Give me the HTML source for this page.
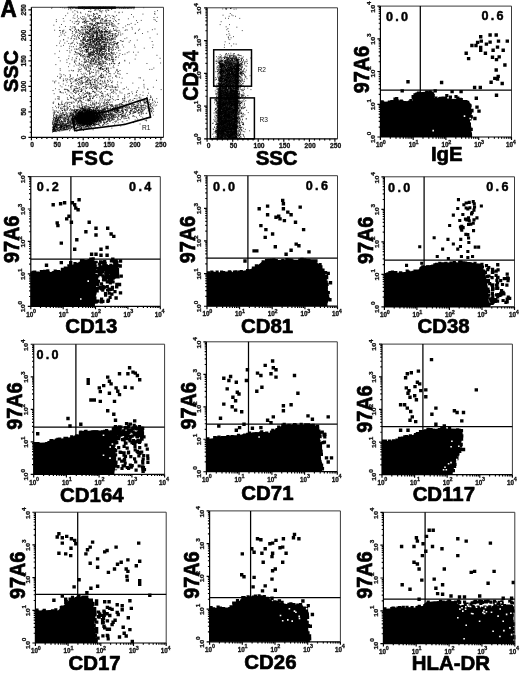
<!DOCTYPE html>
<html lang="en"><head><meta charset="utf-8"><title>Figure A - flow cytometry</title>
<style>html,body{margin:0;padding:0;background:#fff}svg{display:block}.lb{font-family:"Liberation Sans", Arial, Helvetica, sans-serif;font-weight:bold;fill:#000;stroke:#000;stroke-width:0.7px;stroke-linejoin:round}.tk{font-family:"Liberation Sans", Arial, Helvetica, sans-serif;font-weight:bold;fill:#111;stroke:#111;stroke-width:0.3px}.nm{font-family:"Liberation Sans", Arial, Helvetica, sans-serif;font-weight:bold;fill:#000;stroke:#000;stroke-width:0.45px}.sm{font-family:"Liberation Sans", Arial, Helvetica, sans-serif;fill:#111}</style></head><body>
<svg width="520" height="673" viewBox="0 0 520 673">
<rect width="520" height="673" fill="#fff"/>
<g>
<path d="M93.4 35.9h0.9M93.7 49h0.9M86 47.4h0.9M108.3 37.3h0.9M107.4 40.1h0.9M100.4 41.1h0.9M78 30.5h0.9M101.7 36.1h0.9M77.8 71.6h0.9M86.5 51.4h0.9M99.5 44.7h0.9M101.8 54.2h0.9M99.5 37.8h0.9M89 16.9h0.9M102.2 25.1h0.9M89.4 55.7h0.9M92.4 45.7h0.9M103 40.1h0.9M91.3 59.1h0.9M90.5 24.7h0.9M87.4 40.1h0.9M100.8 67.5h0.9M96.7 23.4h0.9M74.2 49.1h0.9M95 56.9h0.9M101.6 45h0.9M80.2 30.9h0.9M103.4 29.1h0.9M111.8 38.3h0.9M97.5 64.5h0.9M102.9 53.7h0.9M91.2 64h0.9M85.6 52.4h0.9M110.2 76.1h0.9M80.3 40.2h0.9M111.9 34.9h0.9M75.5 83.8h0.9M93.8 28.8h0.9M95 47h0.9M89.7 41.7h0.9M99 40.3h0.9M96.8 52.3h0.9M96.3 28.3h0.9M99.2 48.7h0.9M83.1 37.7h0.9M111.1 63.6h0.9M101.9 53.6h0.9M87.3 36.4h0.9M116.6 70.4h0.9M100.1 36h0.9M97.1 32.6h0.9M81.7 42h0.9M96.1 42.6h0.9M87 36.6h0.9M71.5 59.8h0.9M91.4 61.7h0.9M84.1 60h0.9M118.1 32.7h0.9M100.3 75.6h0.9M99.4 59.1h0.9M92.1 39.6h0.9M93.6 48.2h0.9M102.9 39.6h0.9M101.3 31.7h0.9M96.4 43.9h0.9M99.1 38.1h0.9M94.5 41.3h0.9M106.7 59.5h0.9M101.1 34.3h0.9M90.2 31.7h0.9M111.3 22.6h0.9M108.3 44.8h0.9M91.6 43.3h0.9M104.1 35.3h0.9M94.3 14.4h0.9M97.4 41.1h0.9M108.9 49.9h0.9M104.4 28.3h0.9M109.3 40.7h0.9M117.7 48.3h0.9M93.3 55.6h0.9M91.8 36.9h0.9M98 63.3h0.9M97.9 57.9h0.9M99.5 15.5h0.9M117.3 46.9h0.9M103.1 71.4h0.9M95.7 55.3h0.9M86 45.6h0.9M98.7 43.3h0.9M94.6 32h0.9M86.5 81h0.9M72 31.9h0.9M123.2 47h0.9M91.1 35.6h0.9M97.2 33.7h0.9M100.5 22.8h0.9M113 61.8h0.9M80.5 41h0.9M97.6 50.3h0.9M83.4 73.3h0.9M99.8 69.8h0.9M89.4 42.6h0.9M98.5 57.8h0.9M74.7 21.8h0.9M95.1 53.5h0.9M100.5 37.5h0.9M112.5 60.1h0.9M108.5 20.5h0.9M112 46.9h0.9M88.1 27.9h0.9M97.4 42h0.9M111.6 48.2h0.9M71.2 50.1h0.9M76 31.1h0.9M99.6 53.7h0.9M96.1 30.8h0.9M97 23h0.9M95.5 27.6h0.9M112.4 18.6h0.9M88.8 30.1h0.9M75.7 61.1h0.9M74.8 27.1h0.9M82.8 44.2h0.9M94.1 44.5h0.9M89.7 40.3h0.9M115.6 43.3h0.9M101.9 28.2h0.9M94 63.9h0.9M90.1 27h0.9M78.2 53.5h0.9M107.1 31.5h0.9M96.2 31.3h0.9M98 62.6h0.9M79.1 54.1h0.9M106.2 52.9h0.9M86.3 56.2h0.9M79.5 45.9h0.9M83.3 38.3h0.9M70.5 38.8h0.9M89.2 74.7h0.9M104 48.4h0.9M71.9 57.8h0.9M99.3 51.3h0.9M104.6 32.2h0.9M103.4 38.8h0.9M110.7 33.6h0.9M101.1 76.9h0.9M105.9 23.3h0.9M92.9 51.4h0.9M117.3 71.8h0.9M101.3 7.5h0.9M116.7 45.9h0.9M102.3 29.7h0.9M86.3 45.4h0.9M99.3 31h0.9M95.8 47.1h0.9M85.1 49.7h0.9M105.9 42.4h0.9M86.9 57.3h0.9M125.2 26h0.9M95.9 39.5h0.9M97.7 56.3h0.9M104 32h0.9M113.2 59.4h0.9M95.8 35h0.9M108.5 54h0.9M94.7 50.5h0.9M111.7 35.5h0.9M92.4 41.2h0.9M110.4 52.5h0.9M97.6 50.3h0.9M98.7 48.6h0.9M103.9 57.2h0.9M88.8 27h0.9M103.8 49.6h0.9M105.3 30h0.9M96.5 36.4h0.9M98 39.7h0.9M99 31h0.9M89.9 18.9h0.9M93 26h0.9M100.6 30.9h0.9M104.4 42.6h0.9M113.8 41.5h0.9M89.5 47.2h0.9M71.1 38.2h0.9M111.9 25.9h0.9M84.6 36.4h0.9M101.7 57.6h0.9M79.6 45h0.9M106.1 45.6h0.9M104.6 65.5h0.9M88.9 56.1h0.9M94.1 39.7h0.9M99 39.6h0.9M95.7 56.1h0.9M98.5 38.3h0.9M108.1 70.9h0.9M91.9 55.3h0.9M96.6 30.9h0.9M90 41.7h0.9M88.1 39.9h0.9M124.5 54.1h0.9M88.4 47.5h0.9M105.3 46.9h0.9M95.8 43.4h0.9M87.1 31.9h0.9M88.9 44.2h0.9M95.1 44.1h0.9M95.7 37.2h0.9M93.6 41.3h0.9M105.3 42.1h0.9M97.7 23.2h0.9M78.3 48.8h0.9M86.7 65h0.9M104 54.8h0.9M81.7 7.6h0.9M94.1 47.7h0.9M107.9 72.7h0.9M83.8 62.5h0.9M98.4 52h0.9M83.4 46.8h0.9M106.2 68.6h0.9M102.8 62.6h0.9M109 58.9h0.9M93.4 54.7h0.9M101.9 42.4h0.9M92.9 38.3h0.9M103.3 61.3h0.9M85.6 60h0.9M90.8 60.6h0.9M115.6 43.4h0.9M96 62.7h0.9M80.6 49.1h0.9M112.4 33.6h0.9M96.1 37.8h0.9M94.4 18.6h0.9M101.1 19.1h0.9M108.7 46.8h0.9M87 31.9h0.9M88.6 68.7h0.9M84.6 59.2h0.9M101.6 39.8h0.9M95.7 18h0.9M91.4 24.7h0.9M100 43.6h0.9M94.2 20.6h0.9M90.4 66.2h0.9M92.8 25.6h0.9M84.3 40.1h0.9M113.1 21.3h0.9M108.1 42.1h0.9M108.3 81.6h0.9M88 40.1h0.9M102.7 7.5h0.9M104.5 29h0.9M101.7 46.5h0.9M101.7 61h0.9M109 60.1h0.9M98.9 10.5h0.9M93.7 43.7h0.9M108.8 43.6h0.9M87.4 39.9h0.9M102.5 32.8h0.9M87.8 16.3h0.9M114.3 43.7h0.9M99.1 50.8h0.9M111.5 55.1h0.9M103.5 51.6h0.9M88.6 32.6h0.9M110.7 44.2h0.9M88.8 31.2h0.9M95.6 39.1h0.9M112.7 26.1h0.9M90.5 7.9h0.9M96.2 31.6h0.9M89.1 44.7h0.9M77.1 15.8h0.9M111 63.2h0.9M79.8 69.6h0.9M108.9 51.3h0.9M95.5 48.9h0.9M94.8 61.2h0.9M96.4 66.7h0.9M95.4 39.1h0.9M101.2 47.7h0.9M86.3 41.5h0.9M90.9 19.3h0.9M104.5 45.8h0.9M91 55.1h0.9M86 49.6h0.9M99.4 35.9h0.9M102.3 10.8h0.9M88.5 43.8h0.9M126.6 73.5h0.9M90.5 41.3h0.9M97.8 37.6h0.9M93.6 38.2h0.9M96.7 31.8h0.9M75.6 58h0.9M96.1 60.3h0.9M84.8 34.1h0.9M89.1 34h0.9M104.3 39.2h0.9M101.7 45.7h0.9M80.8 44.5h0.9M101.1 52.4h0.9M95.1 32.2h0.9M86.6 33.9h0.9M116.4 52.8h0.9M97.7 46.4h0.9M112.9 39h0.9M105.9 54.9h0.9M96 44.2h0.9M76.8 21.2h0.9M105.9 71.6h0.9M104.3 46.1h0.9M101 38.2h0.9M79.8 47.4h0.9M112.4 53.1h0.9M85 65.5h0.9M82.9 38.7h0.9M114.6 37.2h0.9M98.8 8.7h0.9M90.5 54.7h0.9M101.9 35.3h0.9M85.1 62.5h0.9M99.3 40.1h0.9M81.9 47.2h0.9M90.3 36.7h0.9M94.9 45.4h0.9M92.3 27.4h0.9M111.3 49.8h0.9M105.4 56h0.9M96.9 32.2h0.9M112.6 50.1h0.9M95.3 40.9h0.9M79.9 43.8h0.9M88.8 38.1h0.9M83.9 75.2h0.9M96.6 39.9h0.9M90.2 30h0.9M93.2 53.6h0.9M101.4 68.8h0.9M88.8 44.3h0.9M105.4 46.6h0.9M99.5 54.4h0.9M99.4 17.7h0.9M88.7 7.4h0.9M98 27.8h0.9M82.7 77.2h0.9M102.7 31.4h0.9M102.9 7.3h0.9M106.3 38.2h0.9M114.3 63.6h0.9M92.1 98.4h0.9M92.8 35.1h0.9M112.7 54.3h0.9M111.9 39.4h0.9M88.5 33.4h0.9M92.9 35.6h0.9M105 43.8h0.9M80 12.3h0.9M116.2 15.4h0.9M98.9 29.7h0.9M104.9 70.4h0.9M93 41.9h0.9M85.8 41.5h0.9M102.4 49h0.9M80.9 18.6h0.9M107.1 40.9h0.9M103.2 69h0.9M99 42.9h0.9M118.7 30.4h0.9M95.4 17.8h0.9M104.1 52.6h0.9M94.8 19h0.9M92.6 32.4h0.9M114.4 43.4h0.9M109.5 55.2h0.9M98.4 45.2h0.9M97.4 26.2h0.9M122.2 54.5h0.9M89.9 36.1h0.9M84.7 36.2h0.9M102.4 48.4h0.9M101.9 68.5h0.9M104.4 68.4h0.9M88.6 52.8h0.9M91.8 30.4h0.9M97 50.3h0.9M102.1 19h0.9M96.2 38.2h0.9M109.6 39.8h0.9M104.7 45h0.9M100.4 40.4h0.9M79 43.8h0.9M88.6 40.2h0.9M83 33h0.9M87.9 67.3h0.9M105.4 63.2h0.9M111.3 23.1h0.9M92.3 24.3h0.9M83.7 25.5h0.9M98.7 32.7h0.9M96.3 34.9h0.9M106.8 57.8h0.9M91.1 29.9h0.9M109.1 44.9h0.9M98.5 15.5h0.9M76.3 39.4h0.9M109.1 73.5h0.9M104.9 40.7h0.9M101.3 37h0.9M110.3 47.5h0.9M105.7 50.5h0.9M104.1 56.9h0.9M95 16.6h0.9M101 46.5h0.9M83.7 56.5h0.9M98.3 29.2h0.9M100.8 35.7h0.9M95.7 22.6h0.9M91.9 52.7h0.9M105.8 43h0.9M93.1 53.1h0.9M93.4 34.2h0.9M100 63.1h0.9M100.8 41.2h0.9M85.3 31.8h0.9M93.1 49.3h0.9M104.8 23.1h0.9M88.7 37.1h0.9M86.6 7.4h0.9M90.8 25.1h0.9M89.1 31.2h0.9M101.9 19.9h0.9M96.5 42.4h0.9M105.5 53.6h0.9M100.9 58.6h0.9M105.1 55.8h0.9M97.1 41.7h0.9M81.4 51.2h0.9M100.1 47.7h0.9M88.6 54.6h0.9M90 44.3h0.9M93.4 25.2h0.9M100.8 47.4h0.9M76.5 42.3h0.9M103.2 46.2h0.9M114.4 17h0.9M108.5 46.8h0.9M119.6 32.1h0.9M78.2 21.8h0.9M81.4 64.2h0.9M106.4 20.6h0.9M98.1 28.2h0.9M107.8 68.4h0.9M99.3 33.9h0.9M85.5 32.8h0.9M92 38.6h0.9M96.5 18.6h0.9M98.7 46.8h0.9M79.2 54.2h0.9M116.3 36.8h0.9M107 29.6h0.9M81.6 50.9h0.9M92.2 28.5h0.9M86.2 52.3h0.9M89.7 58.5h0.9M94 42.7h0.9M86.9 56.5h0.9M97.9 17.3h0.9M98.4 61.2h0.9M101.4 27.8h0.9M100.6 38.8h0.9M91.8 41.1h0.9M84 37.3h0.9M111.1 38.3h0.9M111.5 31.3h0.9M98.4 62.6h0.9M108.3 37.7h0.9M76.9 17.1h0.9M110.2 20.5h0.9M113.8 44.6h0.9M99 53.5h0.9M108.7 46.1h0.9M119.5 53.5h0.9M105.9 20h0.9M99.8 46.5h0.9M85.3 22.6h0.9M108.7 15.7h0.9M93 15.3h0.9M104.1 29.4h0.9M102.7 49.2h0.9M95.1 25.3h0.9M94.9 40.1h0.9M98.8 35.5h0.9M111.3 53.3h0.9M101.4 49.9h0.9M97.3 51.6h0.9M81 48.3h0.9M82.1 19.2h0.9M82.7 51.1h0.9M99.9 49h0.9M111.5 45h0.9M80.8 26.6h0.9M84.3 23.3h0.9M89.8 40.5h0.9M96 49h0.9M99.7 55h0.9M76.1 78.9h0.9M82.4 56h0.9M95.9 43.1h0.9M102.2 42.1h0.9M87.5 55.2h0.9M73.1 46.7h0.9M101.4 35.6h0.9M94.8 46.8h0.9M106.3 43.8h0.9M104.2 34.8h0.9M98.5 23.4h0.9M89.9 49.7h0.9M87.4 56.6h0.9M113.1 16.2h0.9M96.4 35h0.9M108.9 31.2h0.9M109.3 64h0.9M89.2 36.9h0.9M111.8 42.4h0.9M86.8 49.6h0.9M89 57.6h0.9M112.5 53.9h0.9M96.4 9.8h0.9M109 38.7h0.9M89.5 37.5h0.9M113.8 34.2h0.9M109.9 42.5h0.9M101.8 47.2h0.9M100.8 23.5h0.9M80.6 45h0.9M98.8 53h0.9M92.8 31.6h0.9M117.9 34.1h0.9M99.7 68.5h0.9M117.1 42.8h0.9M95.8 61.7h0.9M95.5 61.3h0.9M96.9 36.6h0.9M96.5 39.6h0.9M86.9 21.4h0.9M89 72.7h0.9M94.1 56.1h0.9M85.2 49.6h0.9M99.3 62.7h0.9M94.7 21.5h0.9M103.6 46.4h0.9M97.5 45.9h0.9M95.6 32.4h0.9M95.1 82h0.9M95.9 58.1h0.9M103.2 53.7h0.9M97.8 9.6h0.9M84.8 61.8h0.9M80.8 81.9h0.9M75.7 38.2h0.9M89.2 73.5h0.9M80 34.3h0.9M87.7 49.8h0.9M99.7 22.6h0.9M117.3 27.7h0.9M97.7 41.1h0.9M115.8 21.4h0.9M92.8 36.8h0.9M99.3 43.2h0.9M90.7 65h0.9M90.3 68.4h0.9M109.5 35.5h0.9M83 21.9h0.9M105.9 74.2h0.9M116.2 31.2h0.9M118.6 63.5h0.9M101.9 37.3h0.9M98.4 41.3h0.9M107.6 67.6h0.9M82.6 66h0.9M90.1 53.6h0.9M100.2 39.8h0.9M96.5 54.7h0.9M91.3 29h0.9M104.5 42.4h0.9M92.6 19.5h0.9M89.7 33.8h0.9M108.7 48.2h0.9M105.1 61.6h0.9M107.2 40.9h0.9M78.9 33.4h0.9M86.4 23.7h0.9M88.8 46.6h0.9M99.2 49.3h0.9M99 52.8h0.9M103.5 43.9h0.9M83.5 42.9h0.9M98.2 53.7h0.9M86.1 43.5h0.9M100.3 54.7h0.9M104.5 48.5h0.9M99.9 20.1h0.9M90.9 43.9h0.9M93.2 48.9h0.9M100.1 67.7h0.9M99.7 65.6h0.9M89.4 31.4h0.9M78.1 23.6h0.9M115.7 26.9h0.9M103.5 42.3h0.9M94.2 10.1h0.9M85.5 44.1h0.9M102.1 51.7h0.9M83.2 39.3h0.9M96.7 70.4h0.9M90 55.6h0.9M93.2 35.9h0.9M105 63.4h0.9M95.8 53.6h0.9M78.8 33.8h0.9M91.2 47.9h0.9M74.2 36.2h0.9M96.7 33.7h0.9M90.8 20.7h0.9M99.7 51.6h0.9M100.7 34.1h0.9M90 27h0.9M101.3 32.1h0.9M118.5 19.8h0.9M104.8 34.7h0.9M115.4 46.9h0.9M94.9 60.8h0.9M101.3 22.8h0.9M101.9 37.3h0.9M94 41.3h0.9M80.7 27.4h0.9M91.7 61.5h0.9M88 57h0.9M105.5 27.3h0.9M81.4 29.4h0.9M105.8 53.2h0.9M80 55.8h0.9M89.3 38.6h0.9M92.3 76.1h0.9M98.7 68.3h0.9M106 63.1h0.9M88.6 57.5h0.9M90.3 23.5h0.9M105.4 34.5h0.9M99.6 68.5h0.9M90.5 52.7h0.9M85.5 36h0.9M88.1 55.2h0.9M84.8 76.5h0.9M102.6 23h0.9M98.1 59.4h0.9M66.7 41.3h0.9M109.4 39.3h0.9M106.2 20.6h0.9M108.4 51h0.9M107.6 31.7h0.9M79.4 50.4h0.9M80.7 45.7h0.9M102.4 60.9h0.9M73.8 23.5h0.9M100.3 20.8h0.9M81.8 27.2h0.9M118.7 12.3h0.9M93.9 39.8h0.9M94.5 28.2h0.9M107.4 42.6h0.9M81.4 32.3h0.9M91 34.1h0.9M99 18.3h0.9M108.5 51.1h0.9M100 16.1h0.9M90.3 37.2h0.9M109.1 24.1h0.9M101.8 64.9h0.9M82.4 40.1h0.9M100.4 7.6h0.9M104.5 70.4h0.9M87.3 41.4h0.9M90.8 46.4h0.9M101.3 56.8h0.9M101.2 54.1h0.9M90.2 35.5h0.9M89.9 39.5h0.9M113.6 43.6h0.9M94.6 32.4h0.9M92.2 26.9h0.9M82.2 34.2h0.9M90.6 56.6h0.9M115.4 57.4h0.9M115.3 33.6h0.9M112 59.4h0.9M109.2 21h0.9M94.9 46h0.9M122.9 41.2h0.9M91.6 54h0.9M101 38.8h0.9M98.1 16.8h0.9M92.6 36.5h0.9M112 59.9h0.9M107.5 15.1h0.9M81.4 61.4h0.9M84.9 73.2h0.9M101.1 73.3h0.9M101.6 21h0.9M78.6 49h0.9M75.3 31.7h0.9M88.1 48.2h0.9M96.7 35.4h0.9M92.4 43.8h0.9M90.2 42.2h0.9M83.4 43h0.9M75.1 51.8h0.9M117 42.7h0.9M82.4 39.9h0.9M85.6 70.1h0.9M88.1 32.4h0.9M100.3 45.5h0.9M86.1 61.1h0.9M110.8 40.1h0.9M85.8 77.4h0.9M73 40.8h0.9M113.1 38.7h0.9M89.2 54.2h0.9M102.9 55.5h0.9M83 40.9h0.9M97.1 54.8h0.9M85.7 37.4h0.9M76.9 53.9h0.9M90.7 15.4h0.9M85.6 33.4h0.9M94.4 25.4h0.9M111.8 47.6h0.9M98.7 57.7h0.9M92.4 31.8h0.9M82.9 55.6h0.9M96.8 48.4h0.9M92.3 76.4h0.9M92.8 45.4h0.9M95.8 42.3h0.9M105.2 10.9h0.9M83.8 58.6h0.9M101.9 77.6h0.9M84.7 58.1h0.9M84.4 61.5h0.9M82.6 57.6h0.9M99.9 21.2h0.9M78.3 37h0.9M101.7 38.1h0.9M114.4 37.7h0.9M109.8 55.9h0.9M82.4 22.4h0.9M99.3 63.8h0.9M95.7 30.6h0.9M87.8 37.5h0.9M82 34.5h0.9M99.5 46.1h0.9M93.3 45.8h0.9M110.7 24.4h0.9M74.5 60.1h0.9M94.4 43.1h0.9M85.1 30.2h0.9M124.4 61h0.9M85.1 41.5h0.9M108.7 30.4h0.9M97.6 35.2h0.9M97.2 43.9h0.9M93.9 51.4h0.9M100.7 45.4h0.9M100.1 50.1h0.9M113.4 41.2h0.9M97 18.3h0.9M97.5 39.3h0.9M98.7 68.7h0.9M107 64.2h0.9M109.4 32.8h0.9M93.1 61h0.9M103.7 49h0.9M113 49.6h0.9M98 43.8h0.9M84.4 67.7h0.9M104.4 37.5h0.9M95.3 53.4h0.9M104.2 58h0.9M105.8 38.5h0.9M85.7 51.7h0.9M93.5 51.9h0.9M99.2 58.4h0.9M86.7 61.6h0.9M86.8 36.3h0.9M102.1 81.1h0.9M99.2 64h0.9M95.1 38.6h0.9M112.9 48h0.9M100.7 56.6h0.9M72.6 70.9h0.9M103.4 62.7h0.9M92 28.4h0.9M104.2 53.9h0.9M90.3 63.7h0.9M111.8 61.4h0.9M96 43.1h0.9M95.2 27.5h0.9M79 59.1h0.9M98.6 47h0.9M106.1 69h0.9M105.7 59.3h0.9M93 13.5h0.9M102 66.5h0.9M104.8 51.5h0.9M108 33.8h0.9M98.3 54.1h0.9M96.2 80.6h0.9M97.6 22.5h0.9M90.8 59.9h0.9M98.4 32.3h0.9M96.3 72h0.9M91.6 42.3h0.9M102.7 69.5h0.9M97.7 23.3h0.9M114.2 63.8h0.9M83.9 46.5h0.9M90.2 49.5h0.9M98.6 34.7h0.9M93 58.3h0.9M86 50.3h0.9M90 45h0.9M131.9 29h0.9M92.5 38.7h0.9M83.3 64.6h0.9M104.3 26.3h0.9M88.8 28.2h0.9M99 43.5h0.9M117.9 45.9h0.9M82.1 42.2h0.9M94.8 16.6h0.9M72.6 26.8h0.9M98.3 73h0.9M104.3 46.8h0.9M103.2 41.5h0.9M98.1 38h0.9M109.3 37.7h0.9M104.4 56.7h0.9M118.7 55.3h0.9M109.7 35.6h0.9M91.8 39.2h0.9M104.3 47.1h0.9M81.9 52.9h0.9M111.7 50.4h0.9M86.9 33.3h0.9M111.3 9.4h0.9M103.8 44.6h0.9M104.3 41.1h0.9M82.1 16.7h0.9M113.3 61h0.9M114.4 35.9h0.9M92.2 66.1h0.9M99.8 44.5h0.9M107.4 23.1h0.9M111.3 52.8h0.9M91.8 23.8h0.9M96.4 51.5h0.9M92.4 33.1h0.9M105 31.3h0.9M100.1 33.8h0.9M106.3 25.4h0.9M113.4 42h0.9M97.2 40h0.9M103.1 48.9h0.9M116.1 56.8h0.9M100.7 49.6h0.9M91.5 41.7h0.9M115 57.1h0.9M87.9 56.5h0.9M85.3 19.1h0.9M81 40.9h0.9M101 35.3h0.9M112.3 35.3h0.9M90.4 46.9h0.9M102 53h0.9M90.8 39.2h0.9M93.4 14h0.9M92.8 35.7h0.9M86.7 43.2h0.9M100.6 48.5h0.9M99.8 44.7h0.9M108.9 58.4h0.9M99.1 26.5h0.9M94.3 32.1h0.9M99.3 29.7h0.9M134.6 47.2h0.9M100.5 47.3h0.9M90.5 11.4h0.9M112.5 35h0.9M88 7.6h0.9M92.9 36.7h0.9M116.7 43.6h0.9M89.3 45.7h0.9M74.1 30.2h0.9M99 23.8h0.9M100.6 36.4h0.9M98.4 68.7h0.9M97.6 37.9h0.9M108.9 32.7h0.9M87.5 43.6h0.9M100.2 23.1h0.9M90.9 71.9h0.9M89.8 49.3h0.9M112.3 33.7h0.9M81.6 30.2h0.9M114.8 34.2h0.9M85.5 17.9h0.9M104.5 57.9h0.9M119.9 40.6h0.9M74.3 39.3h0.9M95.4 33.9h0.9M101.3 57.2h0.9M101.6 31h0.9M95.3 44.9h0.9M84.4 46.1h0.9M90.7 44.8h0.9M91.7 72.4h0.9M102.5 54.4h0.9M93.6 59h0.9M96.2 49.6h0.9M115 72.1h0.9M83.1 43.4h0.9M82.9 47.7h0.9M124.4 38.6h0.9M97.3 34.1h0.9M102.8 36.8h0.9M97.3 47.6h0.9M110 30.1h0.9M96.9 41.2h0.9M84.6 56.1h0.9M79.4 47.5h0.9M113.7 24.8h0.9M95.5 48.7h0.9M105.2 31.1h0.9M87.3 44.1h0.9M104.1 32.8h0.9M105.7 28h0.9M100.1 50.8h0.9M80 55.6h0.9M106.6 18.6h0.9M106.1 50h0.9M77.9 29.5h0.9M85.4 46.5h0.9M113.7 53.9h0.9M91.9 34.1h0.9M90.2 29.5h0.9M115.7 47.4h0.9M113.2 59.1h0.9M98.2 48.3h0.9M68.9 48.3h0.9M103.7 48.8h0.9M82.6 33.5h0.9M87.3 29.4h0.9M106.7 36.9h0.9M93.9 44.1h0.9M114.6 11.9h0.9M100.4 80.6h0.9M82.9 65.4h0.9M113.1 65.8h0.9M111.4 39.2h0.9M94.5 20.3h0.9M94.2 24.5h0.9M109.6 54.1h0.9M96.1 24.8h0.9M71.7 28.3h0.9M94 30.9h0.9M92.8 50.4h0.9M73.6 66.1h0.9M87.6 45.1h0.9M83 39.9h0.9M99.5 37.5h0.9M102.3 34.3h0.9M88.7 36.8h0.9M96.3 37.2h0.9M76.2 52.7h0.9M85.3 57.1h0.9M91.9 52.6h0.9M93.2 61h0.9M81.8 50.5h0.9M87 41.4h0.9M96.5 32.8h0.9M85.5 45.2h0.9M94.7 45.3h0.9M83.1 18.9h0.9M97.2 23.9h0.9M87.3 43.3h0.9M105.2 45h0.9M97 53.2h0.9M116.3 31h0.9M92.5 41.9h0.9M87.2 33h0.9M95.7 51.6h0.9M101.7 32.2h0.9M86.4 25h0.9M80.4 64.6h0.9M101.8 61.2h0.9M94.9 70h0.9M96.9 61.9h0.9M99.9 68.2h0.9M101 48.2h0.9M96.9 45.1h0.9M97.6 64.9h0.9M68.3 43.5h0.9M86 51.2h0.9M100.8 75.4h0.9M87.9 53.6h0.9M84.7 38.8h0.9M94.6 57h0.9M85.4 31.2h0.9M89 34.8h0.9M101 73.9h0.9M84.4 44h0.9M99.9 31.7h0.9M104.9 27.7h0.9M92.1 47.3h0.9M104.6 50.7h0.9M107.7 69.1h0.9M103.3 46.7h0.9M74.8 28.5h0.9M99.5 43.7h0.9M84.4 51.4h0.9M112.6 57.1h0.9M58.4 57.5h0.9M83.1 46.1h0.9M91.9 58.4h0.9M87 27.4h0.9M80.5 13.1h0.9M90.2 61.3h0.9M104.7 35.1h0.9M84.8 32.2h0.9M76.1 58.6h0.9M108.4 48h0.9M82 35.9h0.9M106.1 44.4h0.9M76.5 49.5h0.9M100.7 31.9h0.9M116.3 48h0.9M90.9 44.6h0.9M109.3 58.9h0.9M110.4 87.5h0.9M90.6 39.6h0.9M92.9 25.7h0.9M89.1 44.3h0.9M102.5 23.7h0.9M88.1 52.9h0.9M111.6 44.9h0.9M107 39.7h0.9M98.3 57.2h0.9M95.8 45.3h0.9M89.1 15.4h0.9M82.3 56.1h0.9M100.4 26.5h0.9M88.1 48.1h0.9M88.1 59.5h0.9M110.4 44.4h0.9M91.5 39.7h0.9M106.3 21.8h0.9M100.1 39.5h0.9M102.5 27.1h0.9M102.8 63.5h0.9M97.5 49.3h0.9M114.8 41.9h0.9M88.5 21.5h0.9M92.1 36.4h0.9M95.6 36.8h0.9M108 55.9h0.9M89.2 30h0.9M93.4 40.5h0.9M107.3 57.3h0.9M107.5 48.3h0.9M90.2 52.2h0.9M120.3 34h0.9M101.9 54.9h0.9M112.3 61.3h0.9M91.3 23.7h0.9M108.5 48.6h0.9M103.9 47.7h0.9M82.8 27.9h0.9M97.8 30.6h0.9M105 56.8h0.9M98.3 55.4h0.9M100.9 30.8h0.9M107.4 7.5h0.9M106.2 31.1h0.9M87.8 33.4h0.9M101.3 40.8h0.9M100.8 57.1h0.9M96.4 33.7h0.9M94.5 32.6h0.9M111.8 38.9h0.9M92.7 36.3h0.9M94.8 50.7h0.9M93.6 14.2h0.9M104.3 31.7h0.9M106.3 68.5h0.9M101.6 31.6h0.9M94.3 59.1h0.9M103.3 46.8h0.9M108.4 49.7h0.9M97.9 26.8h0.9M107.7 25.9h0.9M94.6 10.2h0.9M87.3 51.9h0.9M96.5 22.4h0.9M101.3 12.8h0.9M105.5 30.8h0.9M87.8 47.3h0.9M97.6 59.4h0.9M88.4 61.1h0.9M92.1 29.4h0.9M102 38.9h0.9M101.8 55.2h0.9M93.4 50.5h0.9M86.6 49.7h0.9M87 44h0.9M104.8 38.5h0.9M97 35.9h0.9M94.3 56.6h0.9M76.6 24.3h0.9M99.7 76.3h0.9M99.9 50.4h0.9M95.7 40.2h0.9M89.3 65.1h0.9M89.5 30.9h0.9M87 64.6h0.9M96.4 13.4h0.9M87 26.2h0.9M98.4 36.9h0.9M111.3 57.4h0.9M95.4 48.4h0.9M102.4 41.7h0.9M99.1 31.3h0.9M93.9 41h0.9M90.4 23.1h0.9M105.1 16.7h0.9M80.5 54.7h0.9M95.8 27.1h0.9M92.1 57.4h0.9M116.8 43.8h0.9M97.6 56.8h0.9M116.7 35.7h0.9M93.5 47.1h0.9M96.3 36.3h0.9M98.1 54.5h0.9M111.7 57.5h0.9M110.5 31.5h0.9M82 27.8h0.9M100.4 55.3h0.9M118.4 23.5h0.9M73.9 27.2h0.9M89.8 68.2h0.9M103.5 63.5h0.9M92.7 42.5h0.9M92.5 59.8h0.9M71.3 46.7h0.9M109 24.8h0.9M112.5 37.3h0.9M99.1 55.6h0.9M68.6 56h0.9M87.3 59.1h0.9M96.2 38.5h0.9M89.1 31.3h0.9M99 31h0.9M107.3 25.3h0.9M92.3 54.2h0.9M96.8 25h0.9M72.2 31.5h0.9M90.7 33.3h0.9M100.7 49.8h0.9M87.1 49.5h0.9M101.6 62.3h0.9M96.6 53.6h0.9M88.8 62.5h0.9M78.2 37.5h0.9M98.8 50.8h0.9M93.6 29.5h0.9M97.2 38.6h0.9M94.8 33.7h0.9M92.6 60.4h0.9M103.5 34.9h0.9M86 41.1h0.9M98.2 38.7h0.9M129.9 40.7h0.9M96.2 50.6h0.9M105.9 32.4h0.9M89.7 39.9h0.9M94.8 44.6h0.9M109.8 55h0.9M78.5 70.6h0.9M91.4 53.9h0.9M96.3 35.4h0.9M114.6 39.3h0.9M101 55.2h0.9M102.2 23.3h0.9M110.2 73.8h0.9M105.5 19.9h0.9M104.8 66.8h0.9M92.9 35.1h0.9M100.5 56.4h0.9M86.8 29.3h0.9M82.2 22.2h0.9M96.4 39.4h0.9M82.2 53.1h0.9M103.4 66.4h0.9M117.8 65.4h0.9M83.4 43.3h0.9M101.2 32.9h0.9M92.3 47.2h0.9M93.7 52.7h0.9M69.2 29.4h0.9M98.8 41.6h0.9M89.6 40.2h0.9M96 45.2h0.9M107.7 70.2h0.9M98.8 60.2h0.9M92.8 21.2h0.9M84.8 45.5h0.9M90 29.6h0.9M85.9 69.6h0.9M101.5 49.4h0.9M92.8 27.6h0.9M86.9 49.7h0.9M97.7 37.7h0.9M90.8 28.3h0.9M119.6 50.2h0.9M115.7 76h0.9M110.9 49.2h0.9M97.6 49.2h0.9M89.5 63.4h0.9M92 24.3h0.9M108.1 49.3h0.9M90.6 54.7h0.9M83.6 16.6h0.9M103.1 42.2h0.9M91 59.5h0.9M109.9 32.2h0.9M86.2 29h0.9M84.6 34.3h0.9M86.1 50.3h0.9M101.3 37.4h0.9M106.7 56.7h0.9M112.6 23.6h0.9M96 36.9h0.9M88 46.3h0.9M82.4 42.7h0.9M98.2 23.6h0.9M106.1 31.6h0.9M92.4 47.4h0.9M92.6 40.6h0.9M76 32.3h0.9M79.8 51.8h0.9M96.4 51.8h0.9M113.5 45.5h0.9M112.6 26.2h0.9M91 37.9h0.9M109.7 49.1h0.9M97.1 52.5h0.9M96.8 49.4h0.9M97 28.8h0.9M110.7 42h0.9M98.3 31h0.9M93.1 60.1h0.9M107.8 58.2h0.9M105.9 58.6h0.9M115.3 59.8h0.9M105 21.3h0.9M86.1 21.5h0.9M87.6 70.8h0.9M103.7 33.4h0.9M94 82.3h0.9M95.6 48.6h0.9M92.2 48.4h0.9M77.5 52.6h0.9M115 20.5h0.9M92.4 54.8h0.9M100.3 27.9h0.9M103.7 61.7h0.9M97.8 41.9h0.9M111.2 25.9h0.9M101.6 25.6h0.9M92 20.7h0.9M91.7 38h0.9M105.7 57.9h0.9M88.8 70.7h0.9M97.9 44.8h0.9M92.7 36.4h0.9M74.1 44.4h0.9M97.1 48h0.9M104.4 17.4h0.9M91.5 58.3h0.9M89.8 42.6h0.9M102.3 57.1h0.9M106.6 59.5h0.9M104.8 37.5h0.9M101 11.3h0.9M93.4 46.5h0.9M101.1 30.9h0.9M82.2 39.8h0.9M88.4 34.4h0.9M110.5 43.2h0.9M95 41.2h0.9M65.3 32.3h0.9M102 41.5h0.9M92 55.1h0.9M94.3 25.6h0.9M95.1 23.6h0.9M69.3 51h0.9M99 44.2h0.9M78.8 54.1h0.9M109.2 63.6h0.9M85.8 60.7h0.9M90.4 34.3h0.9M102.4 74.8h0.9M111.4 53h0.9M90 18.7h0.9M95.3 62.8h0.9M89.5 55h0.9M85.6 49.1h0.9M105.3 38.7h0.9M81.7 7.4h0.9M96.5 32.5h0.9M92.7 37.1h0.9M118.1 42.6h0.9M84.8 39h0.9M87.8 49.6h0.9M98.1 38.9h0.9M93.2 31.1h0.9M94.1 63.8h0.9M105.3 49.5h0.9M108.8 53.9h0.9M102.1 39.2h0.9M68 66.7h0.9M84.5 22.7h0.9M76.4 30.1h0.9M107.6 36.5h0.9M103.2 51.5h0.9M96 40.6h0.9M100.5 33.3h0.9M94 54.6h0.9M90.3 37.8h0.9M78.8 63h0.9M91.9 52.4h0.9M93.3 84.4h0.9M113.6 30.3h0.9M103.2 54.2h0.9M100.7 36.3h0.9M74.5 51.4h0.9M80.4 71.6h0.9M98.4 30.3h0.9M96.1 66.9h0.9M82.6 30.7h0.9M94.2 39.4h0.9M93.3 41.5h0.9M89.3 54.2h0.9M81.5 43.3h0.9M95.6 26.4h0.9M120.8 40.9h0.9M66.5 62.4h0.9M110.2 36.5h0.9M94.6 57.9h0.9M101.4 38.9h0.9M107.8 22.9h0.9M113 28.5h0.9M84.2 34.9h0.9M84.4 54.6h0.9M88 61.9h0.9M87.5 21.3h0.9M95.3 19.1h0.9M97.7 71.2h0.9M89.3 18.7h0.9M108 46.5h0.9M93.8 25.1h0.9M101.5 47.1h0.9M108.5 43h0.9M85.6 66.6h0.9M74.8 7.7h0.9M98.7 17.7h0.9M98.3 42h0.9M98.7 39.8h0.9M82.3 44.2h0.9M106.9 9.9h0.9M92 37.3h0.9M104 20.8h0.9M101.9 48.5h0.9M114.7 39h0.9M97.6 7.6h0.9M85.3 20.5h0.9M86.8 40.5h0.9M100.4 48.3h0.9M95.7 49.8h0.9M89.4 56.7h0.9M98.7 48.2h0.9M85.9 50.4h0.9M119 62.5h0.9M90.7 52.1h0.9M96.1 31.7h0.9M88.9 39.4h0.9M101.5 18.5h0.9M90.4 54.4h0.9M103.8 44.4h0.9M90.4 47.9h0.9M110.5 68.2h0.9M94.2 17.8h0.9M100.1 55.6h0.9M90 28.1h0.9M101.2 49.9h0.9M90.1 63.5h0.9M82.5 38h0.9M101.7 51.3h0.9M103.8 54h0.9M100.2 75h0.9M105.1 15.3h0.9M105.3 44.4h0.9M101.4 42.8h0.9M97.6 44.4h0.9M101.4 48.8h0.9M95.7 51.1h0.9M104.2 23.1h0.9M104.5 36.3h0.9M111.2 56.3h0.9M118.5 73.8h0.9M103.9 41.6h0.9M100.5 67.3h0.9M108.7 39.6h0.9M97.5 27.3h0.9M97.9 42.1h0.9M105.6 44.8h0.9M100.1 49.5h0.9M90.3 43.3h0.9M90 39.7h0.9M93.7 52.2h0.9M95.2 62.6h0.9M103.9 34.4h0.9M71.8 43.2h0.9M91.7 35.1h0.9M118.2 50.6h0.9M95.1 56.5h0.9M99.9 32.9h0.9M99.1 42h0.9M85 44.9h0.9M86.5 49.2h0.9M112.7 42.4h0.9M88.4 60.3h0.9M80.3 51.3h0.9M118.2 47.6h0.9M93.9 59.6h0.9M91.4 29h0.9M106.8 46.7h0.9M87.8 33.3h0.9M120.4 7.5h0.9M103.6 49.4h0.9M88 53.9h0.9M96.6 33.5h0.9M111.8 23.7h0.9M101.2 77.8h0.9M112.1 36.6h0.9M89.1 23.7h0.9M87.1 48.2h0.9M96.6 44.1h0.9M95.6 75h0.9M81.6 45.4h0.9M104.1 44.4h0.9M83.8 63h0.9M83.7 26.8h0.9M85.7 32h0.9M83.7 59.5h0.9M89.4 24h0.9M88.7 47h0.9M89.7 52.1h0.9M106.5 53.7h0.9M93.8 62.9h0.9M88.5 42.4h0.9M111.8 15.8h0.9M83.1 47.5h0.9M76.5 49h0.9M96.6 34.3h0.9M101.4 59.8h0.9M83.2 66.9h0.9M113.4 63.6h0.9M106.4 39.8h0.9M106.1 69.4h0.9M100.7 37.6h0.9M96.1 36.6h0.9M84 21.7h0.9M84.3 46.3h0.9M105.4 35.7h0.9M112.9 44.5h0.9M84.4 38.4h0.9M101.6 69.4h0.9M105.8 24.7h0.9M87.3 29.8h0.9M97 28.8h0.9M90.4 30.9h0.9M103.4 42.8h0.9M92.8 46.3h0.9M103.7 21.4h0.9M94.7 30.2h0.9M97.2 14.1h0.9M109.1 31.8h0.9M100.8 52.2h0.9M79.1 31h0.9M88.4 54.3h0.9M107.5 39.4h0.9M84.6 25.5h0.9M93 28.5h0.9M84.3 67.1h0.9M89.7 31.5h0.9M74.4 61.1h0.9M85 27.2h0.9M94.2 38.7h0.9M96.6 59.4h0.9M83.6 47h0.9M111 59.5h0.9M110.5 40.6h0.9M84.4 39.9h0.9M102.2 57.8h0.9M73.6 38.5h0.9M84.4 37.2h0.9M75.9 46.2h0.9M87.6 66.8h0.9M93.6 41.4h0.9M90.3 62.2h0.9M98.4 70.9h0.9M101.8 36.5h0.9M113.9 30.4h0.9M99.9 40h0.9M96.4 64.4h0.9M111.6 35.9h0.9M93.1 61.6h0.9M111.9 35.8h0.9M83.6 33.7h0.9M116.2 44.4h0.9M100.4 50.4h0.9M89.5 27.5h0.9M128.7 42.2h0.9M94.8 31.8h0.9M92.9 32.8h0.9M104.9 59.6h0.9M84.8 45.1h0.9M105 39.8h0.9M109.3 65.1h0.9M101.4 53.6h0.9M97.2 39.1h0.9M85.9 47.5h0.9M83.9 39.9h0.9M87.2 51.6h0.9M98.5 54h0.9M108.3 53.8h0.9M105.1 39.7h0.9M85.2 47.4h0.9M87.3 49.5h0.9M93.3 16.1h0.9M91.7 20h0.9M100.9 64h0.9M71.8 33.6h0.9M75.2 33h0.9M107 38h0.9M93.9 47.8h0.9M98.9 48.6h0.9M90.5 49.7h0.9M108.5 53.5h0.9M100.2 61.6h0.9M88.6 65h0.9M94.1 33.6h0.9M99.4 51.5h0.9M102.6 49.3h0.9M100.1 39.8h0.9M101.9 81.9h0.9M82.4 32.2h0.9M95 9.7h0.9M93.7 52.4h0.9M111.9 35.5h0.9M116.1 36.2h0.9M94 32.9h0.9M87.9 50.8h0.9M90.3 47.4h0.9M104.4 51.4h0.9M99.5 51.6h0.9M106.6 40.8h0.9M91.3 52.7h0.9M91.5 46h0.9M79 38.4h0.9M81.3 33.8h0.9M111.5 24.5h0.9M113.9 19.1h0.9M121.9 44.9h0.9M87.3 46.2h0.9M85.7 22.5h0.9M71.1 43.2h0.9M106.6 34h0.9M105.8 60.1h0.9M91.6 45.7h0.9M101.7 34.3h0.9M112.6 63h0.9M99.7 8.4h0.9M110.6 39.7h0.9M105.9 47h0.9M111.1 51.9h0.9M105.5 39.6h0.9M88.4 40.3h0.9M95.8 53.9h0.9M98.3 56.9h0.9M108.8 35.5h0.9M107.5 32.7h0.9M99.6 64.7h0.9M93.4 43h0.9M91.3 44.6h0.9M92.7 50.7h0.9M87.2 50.9h0.9M84.8 27.5h0.9M99.6 35.7h0.9M105.3 49.1h0.9M108.3 70.9h0.9M90 42.9h0.9M114.7 25.9h0.9M105.6 31.6h0.9M90.9 45.8h0.9M89.8 42.1h0.9M83.5 48.2h0.9M91.3 36.2h0.9M90.1 37.9h0.9M101.8 35.6h0.9M105 57.5h0.9M97.6 45.8h0.9M108 50.4h0.9M99.8 63.9h0.9M93.2 54.6h0.9M96.2 53.1h0.9M95.9 40.1h0.9M85.9 32.1h0.9M90.2 11.9h0.9M108.5 33.5h0.9M97.6 22.9h0.9M99.8 68.3h0.9M103.7 39.5h0.9M70.9 70.3h0.9M110.7 38.4h0.9M89 71.1h0.9M85.3 19.9h0.9M72.4 35.5h0.9M121.9 41.5h0.9M86.7 35.5h0.9M103.1 37.8h0.9M94.5 67.7h0.9M102 32.2h0.9M100.8 35.9h0.9M98 30.1h0.9M133.1 52.2h0.9M99.4 61.5h0.9M77.2 43.5h0.9M111.4 58.4h0.9M91.4 52h0.9M81.3 65.6h0.9M97.2 50.8h0.9M94.1 58.3h0.9M111 9h0.9M87.8 67.1h0.9M109.7 21.8h0.9M117.9 57.2h0.9M95.5 73.9h0.9M100.8 64h0.9M77.5 32.3h0.9M100.9 75.2h0.9M101.2 46.6h0.9M114.9 49.5h0.9M95.9 13.8h0.9M97 33.6h0.9M88.4 41h0.9M72.4 42.4h0.9M89.4 66.9h0.9M81.3 26.6h0.9M100.6 67.1h0.9M115.1 54.6h0.9M92.3 40.3h0.9M84.3 68.6h0.9M88.4 26h0.9M106.1 68h0.9M108.8 43.5h0.9M101.4 43.2h0.9M100.5 59.2h0.9M86.6 54.7h0.9M92.3 34.6h0.9M83.4 19.8h0.9M89.5 53h0.9M103.5 37.4h0.9M92.6 60.3h0.9M85.7 68.3h0.9M108.1 27.5h0.9M115.7 36.4h0.9M99.6 32.5h0.9M106.1 47.9h0.9M99.8 11.2h0.9M78.4 65.4h0.9M86.1 32.5h0.9M108.6 49.2h0.9M103.2 44.7h0.9M99.3 52.2h0.9M95.9 44.1h0.9M108 10.1h0.9M77.1 35.9h0.9M96.1 29.3h0.9M107.3 32.1h0.9M104.6 58.5h0.9M78.3 18.6h0.9M108.8 58.5h0.9M109.7 33.9h0.9M70.4 30.3h0.9M85.8 26.3h0.9M89 55.3h0.9M80 47.3h0.9M106.8 54.2h0.9M76.7 11.4h0.9M115.5 33.5h0.9M90.5 62.5h0.9M79 35.5h0.9M109.8 60.1h0.9M96.2 48.2h0.9M93.5 36.4h0.9M129 7.4h0.9M88.2 7.8h0.9M93.5 7.7h0.9M95.5 8h0.9M89.8 8h0.9M87.9 7.6h0.9M82.1 8.2h0.9M93.2 7.9h0.9M105.6 7.6h0.9M75.7 8.2h0.9M91.7 7.5h0.9M74.7 7.4h0.9M71.8 8h0.9M84.5 7.6h0.9M109.7 8.1h0.9M112.1 7.4h0.9M97 7.6h0.9M88.2 7.3h0.9M93.2 8.2h0.9M112.3 8.2h0.9M102.9 8.1h0.9M110.1 7.5h0.9M90.5 7.4h0.9M112.8 7.5h0.9M85.7 8.2h0.9M107.2 7.5h0.9M107.4 7.7h0.9M130.3 8.1h0.9M80.1 7.6h0.9M77.2 7.4h0.9M98.5 7.8h0.9M80.2 7.9h0.9M97.9 7.6h0.9M85.2 8.1h0.9M85.1 7.9h0.9M95.4 7.5h0.9M98.3 8h0.9M93.2 7.8h0.9M75.4 7.5h0.9M127 7.5h0.9M115.5 8h0.9M106 7.9h0.9M73.6 7.4h0.9M112.4 7.6h0.9M72.8 7.9h0.9M65.6 7.9h0.9M100.1 8.1h0.9M82.3 8h0.9M89.3 8h0.9M110.7 7.6h0.9M110.1 7.8h0.9M126.7 7.8h0.9M81.5 7.4h0.9M68.4 7.6h0.9M112.4 7.8h0.9M104.2 8.1h0.9M87.6 7.7h0.9M80 7.8h0.9M93.2 8h0.9M127.4 8.1h0.9M111.2 8h0.9M116.6 7.8h0.9M124.4 8h0.9M77.9 8h0.9M78.8 7.4h0.9M72 7.9h0.9M91.6 7.5h0.9M77.2 7.4h0.9M74.6 7.5h0.9M80.2 7.5h0.9M98.8 7.9h0.9M104.5 8.2h0.9M102.4 7.9h0.9M83.8 7.4h0.9M105 7.3h0.9M86 7.9h0.9M105.7 7.4h0.9M107.3 7.7h0.9M71.2 7.3h0.9M88.2 8h0.9M106.2 7.9h0.9M104.8 7.6h0.9M87.9 7.5h0.9M115.3 8h0.9M105.3 8h0.9M126.5 7.8h0.9M124.2 7.3h0.9M102.8 7.8h0.9M92.7 7.9h0.9M100.3 8h0.9M84.2 7.8h0.9M89.7 7.8h0.9M102.3 8.2h0.9M128.6 8h0.9M111.2 8.2h0.9M94.4 7.4h0.9M89.5 7.7h0.9M98.9 7.9h0.9M93.3 7.6h0.9M81.2 7.5h0.9M87.3 7.5h0.9M105 8h0.9M81.1 7.5h0.9M96 7.9h0.9M101.7 7.8h0.9M109.2 7.9h0.9M123.1 8.2h0.9M93.4 8.1h0.9M93.5 7.4h0.9M73.3 7.5h0.9M128.6 7.9h0.9M100.2 7.9h0.9M96.4 7.4h0.9M112.2 7.9h0.9M111 7.3h0.9M97 7.5h0.9M77.3 8h0.9M124 7.7h0.9M103.6 7.4h0.9M102.1 8h0.9M51 8.1h0.9M106.2 8h0.9M69.2 7.4h0.9M102 7.4h0.9M80.7 7.5h0.9M90.5 7.5h0.9M131.4 7.9h0.9M102.2 8.2h0.9M114.2 8h0.9M95.7 7.6h0.9M109 7.4h0.9M70.1 7.3h0.9M102.3 7.6h0.9M117.8 7.3h0.9M110.9 7.7h0.9M73.8 7.3h0.9M112.4 7.4h0.9M85.4 7.6h0.9M74.8 7.7h0.9M74.9 7.9h0.9M100.9 8.1h0.9M108.9 7.6h0.9M114.2 7.4h0.9M110.3 7.5h0.9M77.9 7.9h0.9M103.3 7.9h0.9M92.3 8h0.9M99.9 7.3h0.9M82.3 7.9h0.9M100.6 7.9h0.9M99.2 7.9h0.9M120.2 7.7h0.9M119.1 7.8h0.9M124.2 7.4h0.9M101 7.5h0.9M143.3 7.7h0.9M104.6 7.9h0.9M69.6 8h0.9M104.4 8.2h0.9M99.4 8h0.9M102.5 7.5h0.9M98.9 8.1h0.9M102.1 8.1h0.9M120.5 7.9h0.9M108.3 7.4h0.9M91.8 7.3h0.9M98 8.2h0.9M90.4 7.9h0.9M108.6 7.4h0.9M123.7 7.8h0.9M119.2 8.1h0.9M114.6 8.1h0.9M128.1 7.8h0.9M98.1 8h0.9M76.1 7.8h0.9M97.4 8h0.9M102.3 7.8h0.9M100.1 7.6h0.9M96.2 8h0.9M98.9 7.3h0.9M111.3 7.7h0.9M72.8 7.4h0.9M91.5 7.7h0.9M89.1 7.4h0.9M117 7.6h0.9M94.8 7.4h0.9M93.9 8.1h0.9M67.7 7.4h0.9M88.8 8h0.9M107.5 7.4h0.9M63.9 8h0.9M71 7.3h0.9M104.5 7.9h0.9M101.2 7.8h0.9M80.7 7.7h0.9M95.5 7.8h0.9M77.1 8h0.9M69.9 8h0.9M123 7.9h0.9M82.3 7.3h0.9M85 7.7h0.9M70.2 8.1h0.9M113.6 7.7h0.9M131.3 7.9h0.9M97.5 7.6h0.9M110.8 7.6h0.9M111.6 8.2h0.9M107.1 7.9h0.9M121.7 8.1h0.9M86.8 8.2h0.9M97.9 7.5h0.9M85.3 7.7h0.9M108.9 8.1h0.9M99.2 8.1h0.9M85.1 8h0.9M121.2 8.1h0.9M103 7.4h0.9M79.3 8h0.9M89.2 7.6h0.9M117.8 7.8h0.9M106.7 7.8h0.9M95.7 7.9h0.9M62.1 7.7h0.9M89 8.1h0.9M82.7 7.4h0.9M59.9 7.5h0.9M89.8 7.3h0.9M130.6 7.5h0.9M87.7 7.5h0.9M51.8 7.7h0.9M88.5 8h0.9M75.8 8h0.9M97.8 7.3h0.9M109.7 7.9h0.9M100.8 8.2h0.9M109.4 7.9h0.9M78.6 7.8h0.9M85.4 7.9h0.9M95.8 7.4h0.9M103 7.3h0.9M92.2 7.4h0.9M104.3 7.7h0.9M121 7.5h0.9M93.2 8h0.9M100.8 7.6h0.9M104.1 7.7h0.9M91.5 8h0.9M82 7.4h0.9M110.7 8h0.9M91.8 7.3h0.9M103 8.1h0.9M87.9 8h0.9M91.7 7.3h0.9M86.7 7.5h0.9M105.2 7.9h0.9M92.6 7.8h0.9M92.5 7.4h0.9M89.4 7.4h0.9M112.9 7.9h0.9M96.1 7.8h0.9M98.7 7.3h0.9M103.3 8.1h0.9M125 7.6h0.9M126.8 8h0.9M115.4 7.5h0.9M118.6 7.6h0.9M90.2 7.5h0.9M96.6 8h0.9M94.4 8h0.9M112.6 7.5h0.9M101.5 7.6h0.9M108 7.6h0.9M86.6 8.1h0.9M84.1 7.3h0.9M82.4 7.5h0.9M72.4 7.3h0.9M90.6 7.7h0.9M100.6 7.9h0.9M104.2 7.7h0.9M102 7.5h0.9M99.7 7.4h0.9M114.3 7.4h0.9M86.5 8.1h0.9M111.1 7.8h0.9M107.6 8h0.9M102.5 7.8h0.9M125 8.1h0.9M68.7 7.4h0.9M115.5 7.5h0.9M91.1 7.5h0.9M104.8 7.4h0.9M89.6 7.5h0.9M113.1 8h0.9M89.8 7.4h0.9M84.7 7.5h0.9M101.7 7.9h0.9M92.7 8.2h0.9M103.7 7.7h0.9M98.7 7.9h0.9M99.8 7.8h0.9M93.4 116.5h0.9M84.7 123.3h0.9M86.1 112.8h0.9M77 122.4h0.9M93.3 111.1h0.9M96.5 119.4h0.9M89.6 120.8h0.9M89 119.2h0.9M86.7 112h0.9M87.7 118.8h0.9M85.7 116.7h0.9M81.6 117.3h0.9M89.6 110.9h0.9M70.4 124.2h0.9M76.3 114.9h0.9M102.9 115.7h0.9M86.2 113h0.9M67.7 120.1h0.9M62.8 119h0.9M81.6 120.3h0.9M87.7 120.2h0.9M93.3 117.3h0.9M88 106.8h0.9M82 114.2h0.9M79.3 113h0.9M92.2 116.8h0.9M92.4 110.4h0.9M95.2 117.1h0.9M84.9 113.2h0.9M74.7 121.4h0.9M88.8 115.2h0.9M98.7 109.3h0.9M87.6 115.8h0.9M75.8 119.5h0.9M87.2 118.8h0.9M85.7 115.3h0.9M78.4 120.9h0.9M72.5 114h0.9M77.7 125.8h0.9M90.8 118.4h0.9M92.2 119h0.9M100.5 113.7h0.9M86.4 117.3h0.9M83.8 114.6h0.9M99.6 118.6h0.9M77.5 116h0.9M92.9 123.7h0.9M80.3 122.6h0.9M89.3 115.4h0.9M80 123.2h0.9M90.2 126.3h0.9M89.9 118.2h0.9M99 112.6h0.9M81.1 119.4h0.9M83.3 121.2h0.9M85.9 113.8h0.9M74.5 119.8h0.9M96 113.9h0.9M79.5 121.8h0.9M79.2 125.3h0.9M93.5 117h0.9M80.3 124.4h0.9M82.5 120.3h0.9M97.6 118.9h0.9M86.1 113.3h0.9M90 118.3h0.9M69.7 113.2h0.9M89.5 119.4h0.9M84.6 122.1h0.9M78.9 124.8h0.9M88.9 115.4h0.9M86.5 114.5h0.9M89.1 117.1h0.9M79 115.9h0.9M93.7 114.6h0.9M94.2 119.2h0.9M78.3 113.1h0.9M81.1 117.2h0.9M83.9 117.9h0.9M83.3 120.4h0.9M72.6 110.8h0.9M86.7 126h0.9M78.8 123.2h0.9M80 129.2h0.9M89.4 110.6h0.9M83.5 114.9h0.9M89.6 122.9h0.9M93.9 124.4h0.9M81.2 119.8h0.9M94.2 116.7h0.9M84.4 121.4h0.9M85.9 117.7h0.9M90.5 111.6h0.9M90.5 117.4h0.9M84.2 111.2h0.9M86.7 117.9h0.9M98 110.3h0.9M89.3 118.1h0.9M80.8 113.8h0.9M82.1 114.1h0.9M79.7 117.9h0.9M88.1 117.1h0.9M86.9 116.2h0.9M77.3 123.3h0.9M84.2 110.4h0.9M84.4 121.9h0.9M80.6 118.2h0.9M93.7 119.7h0.9M89.3 116.8h0.9M82.8 122.1h0.9M84.2 121.1h0.9M89.1 125.1h0.9M93.3 114.1h0.9M89.4 111.3h0.9M89.5 124.8h0.9M85.7 116h0.9M80.4 123.1h0.9M88.3 115.5h0.9M82.3 119.2h0.9M81.7 120.6h0.9M84.9 113.4h0.9M73.9 120.3h0.9M96.7 115.7h0.9M86.4 114.3h0.9M78.2 123.6h0.9M73.5 125h0.9M87 114.2h0.9M82.3 121h0.9M88.1 115.1h0.9M87.1 125.8h0.9M81.4 128.9h0.9M87 121.4h0.9M80.6 111.9h0.9M94.6 115.2h0.9M87.2 117h0.9M81.1 118.5h0.9M98.8 120.6h0.9M80.6 117.6h0.9M91.6 113.9h0.9M78.5 119h0.9M83.4 123.3h0.9M85.8 119.9h0.9M91.8 115.6h0.9M79.8 118h0.9M82.8 120.8h0.9M81.8 113.7h0.9M82.4 125.4h0.9M79.8 115h0.9M100.5 121.2h0.9M82.8 119.5h0.9M75.4 117h0.9M84.9 116.8h0.9M101.1 117.8h0.9M90.9 114h0.9M80.8 120.8h0.9M96.3 114h0.9M86.3 122.5h0.9M91.5 115.2h0.9M100.8 110.5h0.9M90.9 116.4h0.9M85.7 120.2h0.9M87.5 116.7h0.9M89.9 113h0.9M87.5 120h0.9M91 110.9h0.9M79.4 116.6h0.9M89.1 115.4h0.9M88.8 118h0.9M84.6 110.9h0.9M97.5 122.9h0.9M67.4 117.5h0.9M80.5 120.5h0.9M74 117.3h0.9M84.9 120.2h0.9M91.6 107.2h0.9M95.7 112.2h0.9M82.4 115.4h0.9M85 113.1h0.9M89.4 117.7h0.9M89.2 120.6h0.9M90.9 111.2h0.9M82.7 115.8h0.9M73.5 114.9h0.9M91.5 121.7h0.9M97.6 116.5h0.9M73.1 124.6h0.9M91.4 118.6h0.9M93.1 123.8h0.9M84.6 113.9h0.9M80.5 115.4h0.9M82.7 116.7h0.9M87.6 108.3h0.9M76.6 115.3h0.9M94.5 121.9h0.9M85.9 108.2h0.9M92.7 129.8h0.9M83.6 125.3h0.9M87.4 120.8h0.9M81.3 121.8h0.9M87.4 119.7h0.9M78.9 119.4h0.9M88.1 121.3h0.9M93.1 124.3h0.9M88.1 119.3h0.9M96.4 119.8h0.9M80.6 123.9h0.9M99.3 114.2h0.9M77.6 119.9h0.9M78.5 112h0.9M88.2 126.3h0.9M86.8 114h0.9M85.3 115.9h0.9M84.5 117.1h0.9M86.8 120.8h0.9M87.7 117h0.9M85 120.8h0.9M78.1 117.5h0.9M91.1 127.6h0.9M81.5 112.5h0.9M91.7 120.4h0.9M94.8 121.3h0.9M79.7 110.2h0.9M82.2 119.1h0.9M73.6 123.1h0.9M77 119.2h0.9M72.3 114.5h0.9M82.8 120.7h0.9M80.8 115.1h0.9M96.1 118.8h0.9M96.7 110.2h0.9M94.7 115.9h0.9M74.8 115.9h0.9M82.4 117.3h0.9M72 120.2h0.9M86.9 121.7h0.9M87.3 110.7h0.9M86.9 120.7h0.9M102.1 125.7h0.9M78.8 116.7h0.9M81.1 127.9h0.9M87.1 114.3h0.9M79.7 112.2h0.9M88.8 112.6h0.9M74.5 118.8h0.9M96.6 108.5h0.9M94.6 117.2h0.9M86.6 120.5h0.9M93 120.3h0.9M86.1 126.6h0.9M74.6 111.3h0.9M85.7 117h0.9M69.8 119.3h0.9M99.9 123.1h0.9M68.5 119.9h0.9M81.5 119.1h0.9M76.4 124.4h0.9M76.5 115.9h0.9M84.9 114.5h0.9M77.6 116h0.9M82.1 117.8h0.9M91.9 117.3h0.9M82.8 125.2h0.9M85.7 114.6h0.9M80.8 118.6h0.9M72.7 124.6h0.9M88.1 112.2h0.9M83.1 125.2h0.9M82.6 124.8h0.9M83.3 109.9h0.9M87.4 118.4h0.9M92.6 119h0.9M87.6 116.9h0.9M88.4 123.9h0.9M90.3 113.8h0.9M69.1 130.7h0.9M78.9 112.1h0.9M85.4 115h0.9M89.2 113.8h0.9M80.7 120.8h0.9M88 115.1h0.9M89.4 116.2h0.9M81.8 113.5h0.9M88.6 113.1h0.9M67.2 115.1h0.9M67.9 118.4h0.9M80.5 117.8h0.9M81.9 119.5h0.9M86.7 116.3h0.9M79.6 129.2h0.9M79.7 116.1h0.9M79.3 116.6h0.9M82.6 122.2h0.9M93.6 110.2h0.9M84.5 118.2h0.9M92.1 123.1h0.9M79 113.6h0.9M91.7 119.5h0.9M79.7 116.9h0.9M75.2 120.9h0.9M83.6 128.6h0.9M89.5 114.3h0.9M92.9 123.5h0.9M76.1 122.1h0.9M75.9 109.9h0.9M78.3 119.8h0.9M86.8 115.9h0.9M95.7 121.8h0.9M91.6 116.8h0.9M76.9 117.9h0.9M75.2 111.8h0.9M80 114h0.9M94.6 119.8h0.9M78.8 117.9h0.9M77.7 114.7h0.9M86.5 121.1h0.9M80.3 115.2h0.9M74.8 111.5h0.9M79.6 119.2h0.9M78.6 111.5h0.9M91.2 111.9h0.9M90 117.2h0.9M97.5 114.1h0.9M88.4 115.2h0.9M90.6 116.3h0.9M84.1 124.9h0.9M100.1 122.4h0.9M69.7 122.2h0.9M99.2 111.6h0.9M80.9 117.1h0.9M85.1 126.5h0.9M82.9 116.9h0.9M93.7 122.5h0.9M69 126h0.9M87.7 117.4h0.9M86.4 117.2h0.9M82.6 124h0.9M88.6 116h0.9M89.5 112.2h0.9M76.3 128.8h0.9M72.4 109.7h0.9M78.7 116.7h0.9M85.2 114.8h0.9M108.5 118.3h0.9M84 120.6h0.9M87.1 115.5h0.9M78.2 112.8h0.9M93.6 115.3h0.9M84.5 119h0.9M73.4 116h0.9M78.2 120.7h0.9M92.5 121.3h0.9M81.5 114.5h0.9M98.7 119.9h0.9M93.3 120.1h0.9M88.1 115.6h0.9M77 114.1h0.9M98.3 116.7h0.9M87.2 122.9h0.9M98.2 116.6h0.9M76 115.3h0.9M74.7 121.7h0.9M69.8 113.2h0.9M101.3 119.4h0.9M80.5 120.8h0.9M81.2 115.8h0.9M95.9 121.5h0.9M88.5 125.5h0.9M96.3 117.4h0.9M80.2 111.7h0.9M84.5 112.1h0.9M93.1 110.1h0.9M79.5 118.1h0.9M87.9 118.6h0.9M96.3 120.2h0.9M92.5 111.4h0.9M71.1 123.2h0.9M78.7 120.8h0.9M88.1 118.5h0.9M85.8 119.9h0.9M84.7 115.9h0.9M90.7 120.9h0.9M84.5 121.3h0.9M84 124.2h0.9M92.2 114.5h0.9M84.4 121h0.9M82 121.1h0.9M74.1 111.7h0.9M109.1 121.4h0.9M76.8 116.1h0.9M89.7 124.4h0.9M71.3 116.7h0.9M70.8 112.9h0.9M81.7 117.8h0.9M85.3 120.4h0.9M84.2 119.3h0.9M94.3 117.6h0.9M85 120.2h0.9M80.7 121.5h0.9M85.4 110h0.9M93.4 116.3h0.9M97.4 112.6h0.9M86.8 118.5h0.9M77.3 117.5h0.9M83 125h0.9M76 110.3h0.9M86.8 115.6h0.9M86.7 119.8h0.9M88.6 113h0.9M83 115.9h0.9M92.7 119.4h0.9M86.5 121h0.9M89.7 119.2h0.9M93.6 120.6h0.9M97.5 118.3h0.9M79.2 122.3h0.9M90.1 121.3h0.9M98.4 111.3h0.9M89 123.8h0.9M85.1 121.1h0.9M72.1 117.1h0.9M101.2 119h0.9M91.1 111.9h0.9M78.3 119.9h0.9M87.2 115.7h0.9M77 117.6h0.9M84.5 113.9h0.9M73.7 121.3h0.9M81.6 119.6h0.9M90.5 120.2h0.9M105.1 119.4h0.9M91.4 113h0.9M92.3 118.3h0.9M79.3 119.5h0.9M90.1 117h0.9M89.5 115.1h0.9M78.9 122.5h0.9M95.7 119.2h0.9M73.8 110.8h0.9M79.2 122.5h0.9M92.3 122.3h0.9M79 113.9h0.9M79.3 107.5h0.9M86 106.2h0.9M86.2 117.6h0.9M80.6 119.3h0.9M81.6 118.3h0.9M90.9 123h0.9M78.6 127.5h0.9M96.2 117.4h0.9M85.2 118.2h0.9M92.6 116h0.9M91.4 118.2h0.9M84.4 118.2h0.9M71.8 114.3h0.9M73.8 123.1h0.9M90.1 117.3h0.9M91.2 110.1h0.9M98.8 110.9h0.9M83.6 109.2h0.9M78.9 118.8h0.9M92.5 118.3h0.9M84.4 119.5h0.9M95.2 127.8h0.9M94.5 112.6h0.9M84.8 115.5h0.9M78.3 113.7h0.9M107.5 120.2h0.9M95.4 117.4h0.9M82.8 120.2h0.9M83.9 123.5h0.9M75.4 111.5h0.9M85.1 115.5h0.9M87.5 115.7h0.9M74.2 122.9h0.9M89.9 113.2h0.9M77 121.1h0.9M77.5 115.7h0.9M87.8 117.6h0.9M80.6 116.8h0.9M85.5 121.1h0.9M87.7 120.6h0.9M92.2 114.7h0.9M80.3 115.8h0.9M85.8 120.9h0.9M78.6 125.7h0.9M77.1 117.1h0.9M94 120h0.9M86.4 116.3h0.9M90.9 115.6h0.9M94.2 113.9h0.9M79.8 116.6h0.9M68.3 120h0.9M85.4 115.4h0.9M83.1 114.5h0.9M94.9 120.8h0.9M81.3 117.1h0.9M88.8 117h0.9M91.3 122.6h0.9M90.9 112.4h0.9M93.3 115.4h0.9M83.6 116.3h0.9M84.7 124.8h0.9M80.9 118.4h0.9M81.5 122.3h0.9M83.6 119.7h0.9M85.8 118.1h0.9M86.5 113.5h0.9M86.3 116.1h0.9M76.4 131.4h0.9M82.4 115.2h0.9M82.8 120.8h0.9M76.3 114.8h0.9M81.4 117.2h0.9M93.5 115h0.9M101.5 117.2h0.9M92.2 114.4h0.9M80.5 118.1h0.9M81.2 122.7h0.9M87.5 121.1h0.9M97.5 120.2h0.9M81.3 117.8h0.9M81.5 118h0.9M80.9 124.4h0.9M67.8 124.9h0.9M96.3 115.1h0.9M86.4 119.9h0.9M84.2 116.7h0.9M75.2 122.2h0.9M78.8 113h0.9M77.6 113.4h0.9M81.9 106.4h0.9M84.7 117.8h0.9M95.1 113.4h0.9M92.1 122h0.9M93.5 110h0.9M84.5 120.1h0.9M77.4 114.1h0.9M87.4 117.7h0.9M76.3 111.6h0.9M91.6 117.5h0.9M96 121.2h0.9M91.7 121.8h0.9M95.5 118.3h0.9M94.1 119h0.9M88.2 112.8h0.9M78.7 118h0.9M79.2 114.7h0.9M80.9 119.9h0.9M83.8 113h0.9M77.7 118.6h0.9M82.9 120.5h0.9M79.6 119.1h0.9M86.7 124.5h0.9M87 122.9h0.9M85.4 108h0.9M78.3 118.8h0.9M83.4 113.8h0.9M81.8 125.9h0.9M73.6 118.1h0.9M87.1 113.2h0.9M81.4 115.3h0.9M77.6 112.9h0.9M84.8 120.9h0.9M86.6 110.3h0.9M79.1 123.8h0.9M77.9 123.5h0.9M84.9 116.4h0.9M84.1 117.2h0.9M93.9 118.5h0.9M76.2 128.5h0.9M87 120.7h0.9M83.5 116.3h0.9M88.6 124.5h0.9M78.3 118.2h0.9M84.2 113h0.9M81.6 127.2h0.9M93.8 124.3h0.9M78.2 116.8h0.9M77.6 107.7h0.9M87 115.5h0.9M82.1 108.6h0.9M89.2 120.7h0.9M94.4 124.5h0.9M81 117h0.9M86.3 122h0.9M96.7 110.6h0.9M78.5 116.8h0.9M80.7 120.2h0.9M92.4 116.8h0.9M84.5 117.5h0.9M76.8 113.3h0.9M79.8 112.7h0.9M82 120.2h0.9M96.1 116.3h0.9M80.6 120.6h0.9M89.7 109.5h0.9M89.7 119.3h0.9M77.1 121.5h0.9M84.4 116.9h0.9M80.5 112.8h0.9M78.3 121.6h0.9M88.9 115.6h0.9M82.4 114h0.9M75.1 111.7h0.9M101.1 108.2h0.9M86.1 109.3h0.9M85.7 112.1h0.9M83.8 117.2h0.9M89.1 125.2h0.9M83.8 110.6h0.9M64.1 117.9h0.9M92 116h0.9M86.7 111.8h0.9M87.7 125.9h0.9M78.4 119.7h0.9M86.3 119.8h0.9M84.5 110.8h0.9M64 114.6h0.9M92.1 114.8h0.9M85.4 117.6h0.9M87.9 116.7h0.9M80 115h0.9M79.3 118.6h0.9M82.7 123.1h0.9M89.7 117.9h0.9M76.8 118.9h0.9M75.3 112.5h0.9M89 109h0.9M81.2 115.2h0.9M78.3 122.2h0.9M84.6 116.2h0.9M92 118.6h0.9M93.3 113.1h0.9M78.9 119.2h0.9M78.7 111.1h0.9M81.3 114.4h0.9M91.9 118.5h0.9M81.8 116.7h0.9M79.7 123.8h0.9M78.3 117h0.9M86.7 110.2h0.9M72.1 116.8h0.9M76.9 113.6h0.9M90.3 117h0.9M95.9 118.7h0.9M81.4 122.8h0.9M80.5 117.8h0.9M90.1 112h0.9M83.3 121.2h0.9M82.9 120h0.9M81.9 119.9h0.9M79 118.6h0.9M81.6 118.9h0.9M75.3 118.1h0.9M89.4 114.8h0.9M81.3 123.1h0.9M75.9 123.7h0.9M80.6 119.6h0.9M72.5 116.1h0.9M74.2 121.7h0.9M80.1 114.8h0.9M98.5 118.4h0.9M83.3 119.8h0.9M83.8 118.8h0.9M103 121.2h0.9M84.5 121.4h0.9M87.8 120h0.9M89.4 122.2h0.9M100.4 115.8h0.9M72.6 115.9h0.9M81.9 123.1h0.9M88.4 119.9h0.9M90.6 119.9h0.9M91.8 116.8h0.9M87.8 117h0.9M82.7 119.7h0.9M88.5 114.6h0.9M82.3 108.6h0.9M97.4 121.9h0.9M93.1 117.6h0.9M86.9 121.2h0.9M97.1 120.5h0.9M84.7 121.1h0.9M99.1 111.5h0.9M75.8 120.6h0.9M87.9 119.6h0.9M82.7 122.7h0.9M87.1 122.4h0.9M91.2 107.2h0.9M82.9 111.1h0.9M87.9 120.6h0.9M82.8 122.2h0.9M86.1 114.9h0.9M91.9 118.6h0.9M76.7 118.9h0.9M97.2 115.8h0.9M84.8 126.8h0.9M82.2 115.8h0.9M78.5 112.7h0.9M81.2 122h0.9M81.1 118.6h0.9M92.4 119.8h0.9M72.5 119.3h0.9M89 111.1h0.9M77.3 112.2h0.9M90.1 115.6h0.9M79.8 122.1h0.9M78.5 114.5h0.9M86.8 113.3h0.9M98.3 116.8h0.9M84.9 109.8h0.9M76 120.6h0.9M82.6 119.7h0.9M86.3 121.4h0.9M93.6 123.1h0.9M79.5 125.6h0.9M75.3 116.2h0.9M89.8 118.4h0.9M91.3 114.8h0.9M81.2 118.4h0.9M87.9 109.2h0.9M82.1 116.6h0.9M89.2 112.4h0.9M88.3 113.1h0.9M77.7 119.6h0.9M71.5 119.2h0.9M101.9 115.6h0.9M85.9 116.7h0.9M86.3 123.4h0.9M80.3 119h0.9M86.5 121.5h0.9M84.5 121.1h0.9M75.9 121.4h0.9M79.5 114.8h0.9M94.8 114.7h0.9M83.8 120.4h0.9M74.1 121h0.9M96.4 112.1h0.9M86.9 118.8h0.9M85.3 116.1h0.9M85.2 116.1h0.9M79.8 118.1h0.9M82.8 113.5h0.9M76.4 113.1h0.9M84.7 120.1h0.9M85.4 117.4h0.9M83.6 116.2h0.9M81.2 125.4h0.9M90.2 117.6h0.9M97.2 115.3h0.9M71 113.8h0.9M80.4 116h0.9M101.1 112h0.9M77.5 118.9h0.9M73.8 116h0.9M89.3 121.9h0.9M88.5 113.7h0.9M91 120.3h0.9M80.3 123h0.9M76.1 117.3h0.9M85.6 112.4h0.9M87.2 119.1h0.9M75.1 112.2h0.9M86.5 117.9h0.9M78.1 122.9h0.9M89.8 121.6h0.9M89.4 114.9h0.9M82.6 124.9h0.9M88.2 111.7h0.9M79.4 123.7h0.9M93 116.7h0.9M80.8 113.1h0.9M83.3 116.1h0.9M82.4 121.3h0.9M86.8 121.4h0.9M72.6 121.2h0.9M94.1 112.6h0.9M100.8 112.5h0.9M96.8 115.9h0.9M82.2 116.2h0.9M78.5 115.3h0.9M82.1 117.1h0.9M79.2 118.9h0.9M92.3 118.2h0.9M80.5 117.1h0.9M91.5 118.2h0.9M77 125.1h0.9M75.7 114.2h0.9M84.6 115.9h0.9M92.9 116.1h0.9M88.7 119.7h0.9M73.8 116.1h0.9M84.6 115.5h0.9M77.7 119.1h0.9M99.6 120.3h0.9M86 112.3h0.9M83.6 117.5h0.9M70.1 115.8h0.9M82.1 112.7h0.9M84.6 119.5h0.9M88.4 118.6h0.9M81.6 111.7h0.9M92.3 116.9h0.9M91 114h0.9M89.4 117.4h0.9M85.8 116.1h0.9M89.3 116.1h0.9M81.4 118.5h0.9M88.5 121.7h0.9M85.2 114.7h0.9M86.5 119h0.9M85.1 119.9h0.9M92.3 118.9h0.9M73.4 123.8h0.9M87.4 116.8h0.9M81.9 123.6h0.9M84.2 121.4h0.9M80.6 118.2h0.9M79.8 117h0.9M80 120.2h0.9M83.7 111.9h0.9M96.5 113.1h0.9M80 118.3h0.9M91.8 114h0.9M73.7 119h0.9M80 115.2h0.9M89.8 119.7h0.9M100.5 117.8h0.9M102.6 117.2h0.9M84.7 110h0.9M81.5 120.1h0.9M95.8 117.2h0.9M88.7 122.8h0.9M98 112.8h0.9M87.8 114.7h0.9M81.7 120.1h0.9M74.1 117.2h0.9M94.1 113.6h0.9M91.8 114.4h0.9M78.7 123.8h0.9M89.8 116.8h0.9M92.3 118.4h0.9M79 116.5h0.9M81.3 125h0.9M81 121.8h0.9M77.4 120.8h0.9M92 107.6h0.9M97.5 118.6h0.9M93.4 117.5h0.9M88.1 120.4h0.9M84.8 124.8h0.9M98 120h0.9M89.4 120h0.9M87.2 122.6h0.9M82.6 114.3h0.9M89.5 125.5h0.9M91.3 122.8h0.9M87.3 115.6h0.9M80.7 119.5h0.9M83.5 116.3h0.9M91.8 111.7h0.9M87.6 109.4h0.9M78.6 111.1h0.9M83.4 114.8h0.9M84.4 117.6h0.9M78.8 116.8h0.9M99.7 116.1h0.9M85.1 117.8h0.9M90.3 118.3h0.9M85.2 117h0.9M94.5 113.2h0.9M77.8 121h0.9M85.4 114.4h0.9M92.2 118.2h0.9M100.4 117.3h0.9M95.3 111.2h0.9M96.6 116.1h0.9M89.4 123.8h0.9M72.6 121.4h0.9M90.4 113.1h0.9M84.5 113.6h0.9M89.4 111.3h0.9M74 122.2h0.9M78.5 122.7h0.9M97 120.7h0.9M79.4 120h0.9M91.6 119.3h0.9M90.5 115.2h0.9M80.7 127.9h0.9M78.8 123.5h0.9M96.9 119.9h0.9M77.7 116.9h0.9M85.7 121.7h0.9M93.1 113.5h0.9M87.3 120.8h0.9M79.1 126.8h0.9M88 116h0.9M78.7 118.3h0.9M108.6 120.7h0.9M73.1 116.3h0.9M82.2 120.1h0.9M89.7 118.1h0.9M92.3 115.2h0.9M93.5 116.7h0.9M69.9 113.5h0.9M73.2 114.5h0.9M87.1 123.4h0.9M85.7 114.2h0.9M78 118.3h0.9M80 122.4h0.9M80.9 113h0.9M90.2 117.6h0.9M84.7 117.4h0.9M87.3 117h0.9M73.1 115h0.9M79.2 129.1h0.9M90.3 122.4h0.9M84.3 118.3h0.9M81.1 116h0.9M83.3 119.2h0.9M78.5 119.6h0.9M77.9 118.3h0.9M94.7 113h0.9M88.3 123.2h0.9M92.6 113.5h0.9M100 126h0.9M85.4 119.2h0.9M93 121.7h0.9M82.6 108.5h0.9M92.4 125.5h0.9M85.4 112.2h0.9M80.9 115.8h0.9M86 123.9h0.9M80.8 113.6h0.9M93.7 119.7h0.9M93.3 120.2h0.9M87 117.8h0.9M76.4 117.3h0.9M82.5 129.4h0.9M79.4 121.8h0.9M79.3 122.4h0.9M80.4 128.4h0.9M91.6 117.1h0.9M87.1 118.9h0.9M85.7 118.9h0.9M77.5 124.8h0.9M85.8 113.7h0.9M86.9 111.1h0.9M75.5 119.8h0.9M80.9 113.1h0.9M97.4 119.1h0.9M90.5 118.5h0.9M78.2 118.9h0.9M77.9 112.1h0.9M89.5 112.7h0.9M87.8 127.8h0.9M91 117.1h0.9M68.3 118.8h0.9M92.5 110.3h0.9M78 115.2h0.9M87.7 118.4h0.9M83.3 115.9h0.9M89.4 114.9h0.9M82.4 123.6h0.9M94.7 111.8h0.9M81.2 118.4h0.9M91 124.7h0.9M88.8 107.6h0.9M87.2 120.7h0.9M99.9 116.7h0.9M86.8 119.6h0.9M86.6 125.3h0.9M76.1 124.7h0.9M91.7 117.8h0.9M93.5 125.7h0.9M81 112.2h0.9M79.6 126.1h0.9M80 119.8h0.9M85.2 112.5h0.9M94.8 110.7h0.9M89.4 119.7h0.9M81.7 124.3h0.9M94.4 112h0.9M85.9 121.6h0.9M90.1 115.5h0.9M86.4 122.7h0.9M87 120.1h0.9M90.5 115h0.9M88.4 119.4h0.9M96.1 113.8h0.9M94.3 113.7h0.9M90 115.9h0.9M77.7 126.1h0.9M78.6 115.9h0.9M91.8 116.6h0.9M85.9 110.2h0.9M82.4 125.6h0.9M74.3 120.1h0.9M90.3 114.5h0.9M83.7 114.7h0.9M84.9 121h0.9M82.6 115h0.9M92.1 122.1h0.9M78.2 118h0.9M100.4 121.6h0.9M76.4 116.9h0.9M88.9 120.2h0.9M85.1 115.9h0.9M72.9 119h0.9M89.6 113.8h0.9M93.6 117.6h0.9M75 113.2h0.9M90.8 120.1h0.9M92.6 113h0.9M84.3 127.8h0.9M81.9 121.3h0.9M79.3 118.7h0.9M77.6 116.9h0.9M98.7 121.8h0.9M92.7 119.6h0.9M89.1 118.1h0.9M94.4 120.2h0.9M90.5 120.7h0.9M86.9 117.9h0.9M93 123.9h0.9M75.7 112.9h0.9M88 110.7h0.9M78 117.6h0.9M89.6 110.2h0.9M84.9 119.8h0.9M90.4 117.9h0.9M80 115.2h0.9M71.8 123.2h0.9M94.9 119.2h0.9M83 116.6h0.9M93.2 115.1h0.9M78.4 120.8h0.9M92.7 117.8h0.9M80.8 114.6h0.9M93.4 108.3h0.9M77.6 121.5h0.9M80.4 116.8h0.9M81.9 113.6h0.9M66.2 115.4h0.9M80.7 119.4h0.9M89.3 116.8h0.9M78.1 112.3h0.9M89.4 119.6h0.9M86.8 122.4h0.9M76.6 119.9h0.9M87.9 117.3h0.9M79.8 124.1h0.9M73.4 112.2h0.9M87.9 121h0.9M93.7 115h0.9M82.4 120.7h0.9M93.3 115.9h0.9M96.9 115.5h0.9M81.1 120.7h0.9M80.3 117.3h0.9M87.1 115.3h0.9M88.5 122h0.9M83.8 122h0.9M88.7 123.1h0.9M81.2 121.8h0.9M80.9 119.3h0.9M96 118.1h0.9M75.1 120h0.9M90.6 115.2h0.9M87 109.5h0.9M93.1 116.9h0.9M93.9 122.8h0.9M84.1 121.6h0.9M86.5 111.1h0.9M81.8 111.6h0.9M78.1 112.6h0.9M73.3 122.4h0.9M92.3 117.8h0.9M86.3 117.9h0.9M86.6 118.6h0.9M78.4 119.7h0.9M86.1 121.6h0.9M88.6 110.3h0.9M73.7 121.1h0.9M83.3 118h0.9M86 120.9h0.9M85 117.9h0.9M84.7 111.6h0.9M86.2 124h0.9M74.2 116.3h0.9M82.9 120.7h0.9M75.7 120h0.9M84.6 120.8h0.9M82.8 114.4h0.9M90.8 115.2h0.9M84.1 123.7h0.9M90.8 111.3h0.9M94.3 112.4h0.9M87.2 116.2h0.9M85.2 112.7h0.9M83.4 109.2h0.9M90.8 118.8h0.9M85.3 124.6h0.9M80.1 119.6h0.9M102.5 120h0.9M91.7 117.1h0.9M83.2 115.5h0.9M71.2 115.1h0.9M98.9 115.6h0.9M84.8 117.3h0.9M89.9 119.6h0.9M86.1 115.8h0.9M82.8 116.5h0.9M87.6 114.8h0.9M78.3 120.7h0.9M82.3 113.2h0.9M87 124.7h0.9M76.3 110.6h0.9M87.7 123.1h0.9M78.9 117.8h0.9M95.3 110.4h0.9M82.7 119.4h0.9M98.8 120.9h0.9M96.3 115.7h0.9M85.9 112.5h0.9M88.7 121.1h0.9M74.5 118.7h0.9M88.9 112h0.9M66.9 113.8h0.9M89.6 111.3h0.9M90.9 116.6h0.9M88.3 116h0.9M80.9 118.7h0.9M86.2 119.7h0.9M75 124.7h0.9M88.8 115.5h0.9M86 122.7h0.9M91.3 119.1h0.9M70.7 112.6h0.9M74.8 109.4h0.9M89 119.5h0.9M68.7 122.2h0.9M95.7 111.4h0.9M87.1 124.9h0.9M82.6 119.3h0.9M88.5 118.2h0.9M87.7 124.5h0.9M80.7 112.3h0.9M75 114.9h0.9M101.5 113.9h0.9M75.5 113.5h0.9M72.2 117.5h0.9M82.4 113h0.9M93.6 116.5h0.9M97.9 112.8h0.9M81.9 122.3h0.9M102.6 118.3h0.9M88.2 118.2h0.9M82 124.9h0.9M84.3 118.5h0.9M92.2 119.5h0.9M74.3 123.3h0.9M85 116.9h0.9M90.4 119.1h0.9M89.1 117h0.9M97.2 117.2h0.9M86.3 115.5h0.9M93.9 121.1h0.9M81.9 119.3h0.9M70.3 113.7h0.9M92.8 117.2h0.9M109 110.8h0.9M99.5 110.3h0.9M91.7 123.3h0.9M96.1 115.3h0.9M76.9 118.4h0.9M90.6 113.4h0.9M86.5 120h0.9M90.7 120.7h0.9M84.7 114.8h0.9M75.1 117.2h0.9M71.5 122.9h0.9M76.6 119h0.9M90.3 117.7h0.9M91.7 117h0.9M83.8 116h0.9M83.6 117.5h0.9M92.6 119.7h0.9M93.4 121.9h0.9M83.7 125.3h0.9M81.5 111.6h0.9M87.8 112.4h0.9M74.9 123h0.9M88.6 114.2h0.9M91.2 124.5h0.9M88.9 117.9h0.9M86.1 115.9h0.9M83.3 125.2h0.9M77.7 124.6h0.9M76 119.2h0.9M94.5 120.2h0.9M79.9 123.1h0.9M73.1 118.6h0.9M81.9 119.2h0.9M78.5 116.4h0.9M76.8 116.3h0.9M80.6 115h0.9M79 116.6h0.9M88.4 118h0.9M96.8 116.3h0.9M79 115.5h0.9M79.5 120.6h0.9M85.4 117.2h0.9M97.3 124.3h0.9M83.5 113.3h0.9M84.2 116.7h0.9M96.1 122.2h0.9M85.6 114.6h0.9M81.1 125.6h0.9M78.2 117.7h0.9M86.6 110.1h0.9M94.7 123.7h0.9M92.6 113.5h0.9M96.7 117.7h0.9M81.3 117.6h0.9M96.2 114.5h0.9M97.3 113.7h0.9M81.1 122.5h0.9M98.4 123.2h0.9M82.8 119.5h0.9M78.8 120.8h0.9M85.3 108h0.9M84.8 120.2h0.9M86.2 113.9h0.9M79.5 120.1h0.9M72.9 116h0.9M90.1 111.3h0.9M76.8 109.5h0.9M91.4 118.6h0.9M82.5 119.4h0.9M76.7 115.4h0.9M81 121.3h0.9M88.9 117.2h0.9M81.1 119.2h0.9M81.8 112.6h0.9M92.4 120.4h0.9M85 112.2h0.9M83.2 110.6h0.9M88.4 114.9h0.9M70.6 115.5h0.9M87.7 115.3h0.9M88.7 115.4h0.9M81.7 114.4h0.9M85.7 122.3h0.9M78.1 117.8h0.9M87.7 127h0.9M70.7 114.7h0.9M85.2 106h0.9M74.4 119.8h0.9M81 115.9h0.9M95.2 110.4h0.9M78.1 113.3h0.9M76.7 117.3h0.9M86.5 115.2h0.9M79.6 112.8h0.9M84.8 118h0.9M83.4 122.6h0.9M90.4 116.1h0.9M88.5 109.8h0.9M79.1 119.6h0.9M85.3 114.3h0.9M84 114.1h0.9M88.5 125.1h0.9M80.4 126.8h0.9M83.3 119.8h0.9M89.5 116.9h0.9M84.8 112.7h0.9M89.5 122.8h0.9M80.4 116.9h0.9M97.3 117.8h0.9M84.1 116.9h0.9M90.8 117.9h0.9M87.4 119.5h0.9M81.4 121.6h0.9M89.9 119.9h0.9M89.2 115.9h0.9M92.2 128.7h0.9M78.4 123.6h0.9M84.1 114.6h0.9M103.2 110h0.9M94.9 115.6h0.9M82.5 115.9h0.9M69.9 115.2h0.9M85.3 115.3h0.9M78 123.1h0.9M80.7 118.5h0.9M87.7 119.2h0.9M87.8 114.9h0.9M77.1 119h0.9M74.2 121.1h0.9M91.7 120.4h0.9M98.5 114.8h0.9M91.6 117h0.9M91.4 112.8h0.9M86 120.1h0.9M81.4 110.1h0.9M84 120h0.9M80.3 125.4h0.9M81.7 116.8h0.9M81.8 121.4h0.9M88.2 115.8h0.9M82.2 116.9h0.9M78.4 114.8h0.9M78.3 119.9h0.9M86.2 119.6h0.9M77.2 109.7h0.9M96 124.4h0.9M86.1 123.2h0.9M87.5 123.2h0.9M89.4 115.4h0.9M97.4 111.9h0.9M82 114.2h0.9M82 118.7h0.9M81.7 125.6h0.9M89.6 126.2h0.9M83.6 115.8h0.9M86.1 124.5h0.9M80.7 115.4h0.9M93.1 110.6h0.9M72.4 117h0.9M81.9 115h0.9M73.3 119.5h0.9M90.3 120.3h0.9M82.7 122.3h0.9M93.2 122.9h0.9M78.8 119.8h0.9M83 109.2h0.9M87.2 121.3h0.9M89.4 116.2h0.9M87.3 118h0.9M88.6 122.6h0.9M76.8 120.4h0.9M77.5 115.6h0.9M99 111.6h0.9M88.4 116.3h0.9M80.4 123.8h0.9M89.2 123.9h0.9M87.4 118.4h0.9M90.6 117.3h0.9M86 120.3h0.9M73.1 120.3h0.9M90.2 113.1h0.9M95 121.4h0.9M78.6 115.5h0.9M82.1 107.3h0.9M87.5 124.2h0.9M81.3 111.6h0.9M72.3 118.3h0.9M75.5 111.9h0.9M82.1 122.5h0.9M73.2 121.9h0.9M67.2 121.4h0.9M100.7 116.3h0.9M83.4 123h0.9M87.7 119.7h0.9M79.3 112.6h0.9M88.4 121.4h0.9M95.8 117.3h0.9M88.8 117h0.9M93.6 114.7h0.9M82.8 115.1h0.9M82.5 117.6h0.9M96.9 121.5h0.9M77.9 120.2h0.9M81.7 112.7h0.9M74 109.1h0.9M96.5 118.9h0.9M86.6 119.3h0.9M90 114.8h0.9M90.6 114.3h0.9M99 117.6h0.9M90.2 118.3h0.9M85.6 117h0.9M84.9 116.5h0.9M79.2 119h0.9M81 123.2h0.9M80.3 120.4h0.9M84.2 124.6h0.9M83.5 122.8h0.9M79.5 117.6h0.9M93.1 116.1h0.9M81.8 120.1h0.9M94.8 124h0.9M93.4 123.6h0.9M80.8 118.1h0.9M83.7 111h0.9M88.8 117.9h0.9M92 117.2h0.9M79.6 113.6h0.9M95.9 111.7h0.9M76.9 110.5h0.9M82.3 114.9h0.9M93.7 107.2h0.9M73.8 123.1h0.9M93.6 115.2h0.9M83.1 130.5h0.9M88.4 118.5h0.9M66.7 108.1h0.9M67.5 121.7h0.9M85.2 116.9h0.9M90.6 118.6h0.9M78.9 120h0.9M70.3 123.8h0.9M99.3 119.7h0.9M84.7 109.9h0.9M92.8 116.8h0.9M90.5 118.7h0.9M78.8 114.2h0.9M86.2 111.1h0.9M83.4 119.7h0.9M87.7 118.5h0.9M83.1 121.9h0.9M87.1 116.4h0.9M98.3 117h0.9M72.8 116.9h0.9M101.5 118.5h0.9M79.6 119.1h0.9M64.9 120.9h0.9M83.9 124.4h0.9M89.4 121.3h0.9M72.1 122h0.9M89.8 109.4h0.9M94.2 116.4h0.9M81.6 119.3h0.9M92.2 119.6h0.9M88.2 113.6h0.9M78.8 120.9h0.9M88.5 117.6h0.9M84.4 120.2h0.9M84.8 110.1h0.9M94.9 124h0.9M85.6 117.5h0.9M85.5 123.8h0.9M84.4 117.4h0.9M80.4 117h0.9M67.9 125.7h0.9M86 116.2h0.9M84.1 120h0.9M86.6 113.2h0.9M91.7 117.8h0.9M82 113.7h0.9M89.1 113.9h0.9M83.3 121.7h0.9M86.6 120.5h0.9M93.5 113.7h0.9M69.8 116.3h0.9M94.8 112.8h0.9M81.9 121.8h0.9M92.2 113.1h0.9M85.7 122.8h0.9M74.4 117.6h0.9M79.4 121.3h0.9M88.4 113.2h0.9M70.6 121.9h0.9M94.5 117.4h0.9M82.8 115.4h0.9M77.2 123.8h0.9M85.4 111.3h0.9M92.5 117.4h0.9M92.5 119.1h0.9M76.9 125.7h0.9M87.2 114h0.9M87.9 117.9h0.9M82.4 113.5h0.9M84.9 124.1h0.9M95 119.9h0.9M88.1 117.7h0.9M92.8 116.3h0.9M94 116.3h0.9M82 120.3h0.9M89.9 121.1h0.9M91.9 118.4h0.9M78.7 122.2h0.9M84.2 110.5h0.9M90.8 117.4h0.9M78.8 110.3h0.9M83.3 118.1h0.9M82.3 112.5h0.9M86.5 119.8h0.9M86.6 122.1h0.9M77.8 119.2h0.9M64.8 114.5h0.9M99.4 121.5h0.9M84.3 124.7h0.9M86.5 116.9h0.9M90.6 123.2h0.9M81 121h0.9M83.5 108.4h0.9M83.9 118.2h0.9M81.7 114.8h0.9M103.5 111.6h0.9M96.2 121.6h0.9M92.8 117.2h0.9M94.2 112.7h0.9M89.9 124.7h0.9M86.2 120h0.9M88.5 117.5h0.9M92.8 124.2h0.9M80 118.7h0.9M87.6 119.5h0.9M85.1 117.7h0.9M92.7 117.8h0.9M87 125.5h0.9M66.6 125.6h0.9M87.8 127.5h0.9M88.2 118.1h0.9M85.3 121h0.9M82.3 114.6h0.9M87.8 117.8h0.9M81.8 117.3h0.9M93.8 117.3h0.9M82.7 123.1h0.9M86 121.8h0.9M75 115h0.9M80.8 126.9h0.9M80.2 110.5h0.9M84.5 123.6h0.9M77.4 115.5h0.9M88.2 116.8h0.9M83.9 116h0.9M96.3 115h0.9M84.1 124h0.9M88.4 111h0.9M89.9 122.9h0.9M86.6 112.3h0.9M80.7 116.2h0.9M93.9 110.3h0.9M73.9 126.3h0.9M87.9 114.7h0.9M82.7 118.2h0.9M82.4 113h0.9M69.5 118.1h0.9M76.1 121.5h0.9M74.3 122.7h0.9M85.1 117.8h0.9M98 117.9h0.9M87.7 116.2h0.9M87.1 111.5h0.9M86.3 117.2h0.9M84.5 118h0.9M84.9 113.7h0.9M85.4 117.6h0.9M84.9 114.7h0.9M81.9 114.2h0.9M81.2 115.3h0.9M99 115.9h0.9M84.7 123h0.9M90.6 117.5h0.9M91.8 120.2h0.9M89 109.9h0.9M88.2 119.1h0.9M76 118.7h0.9M90 115h0.9M77.3 122.9h0.9M78.3 122.8h0.9M83.3 116.9h0.9M99 116h0.9M95.7 124.2h0.9M96.3 113.6h0.9M88.4 114.2h0.9M89.7 109.4h0.9M91 124.9h0.9M72.8 112h0.9M84.7 112.3h0.9M82.8 120.9h0.9M82.8 116.8h0.9M86.6 120.5h0.9M89.1 115h0.9M78.7 123.2h0.9M71.2 120.3h0.9M85.4 120.9h0.9M81 118.8h0.9M85.5 115.5h0.9M91.2 115.6h0.9M93.3 121.4h0.9M89.6 116h0.9M77.8 121.4h0.9M88.5 117.4h0.9M76.3 121h0.9M96.2 113.5h0.9M85.9 112.1h0.9M78.8 119.2h0.9M92.1 118.8h0.9M77.3 116.1h0.9M96.8 127.9h0.9M86.4 123.2h0.9M83.1 124.1h0.9M103.9 119.4h0.9M85.6 120.9h0.9M78.2 120.4h0.9M86.8 110.3h0.9M87.3 111.1h0.9M77.6 118.2h0.9M82.1 124.9h0.9M112 116.9h0.9M87 121h0.9M81.2 122.7h0.9M92.6 119.1h0.9M84.2 117.2h0.9M76.5 117.6h0.9M84.1 116.1h0.9M82.5 118h0.9M89 113.5h0.9M80.3 114.2h0.9M78.2 119.3h0.9M86.2 117.2h0.9M67.4 123.5h0.9M84 114.1h0.9M80.2 111.9h0.9M72.4 118.6h0.9M89.1 117.5h0.9M87.2 113.8h0.9M79.5 115.9h0.9M92.9 118.3h0.9M68.7 124.3h0.9M79.2 122.9h0.9M88.4 121.1h0.9M103 114.1h0.9M75.9 119.9h0.9M96.2 114.2h0.9M78 114.1h0.9M81.9 108.7h0.9M81.3 115.7h0.9M89.3 119.5h0.9M84.2 113.1h0.9M88.8 117.9h0.9M88.5 110.2h0.9M92 115.4h0.9M87.6 124.4h0.9M86.2 119.9h0.9M90.5 120.1h0.9M88.5 122.2h0.9M91.7 120.5h0.9M85.1 115.5h0.9M83 118.1h0.9M92.9 109.8h0.9M72.3 122.8h0.9M90.1 113.5h0.9M81.9 117.8h0.9M83.9 108.3h0.9M83.8 123.1h0.9M74.1 124.3h0.9M94.6 118.9h0.9M99.2 114.1h0.9M88 115h0.9M90.9 113.5h0.9M78.3 120.9h0.9M81.3 117.8h0.9M83.5 123.3h0.9M80.3 110.7h0.9M100.5 120.4h0.9M88 117.9h0.9M79.2 115.4h0.9M84.8 110.8h0.9M88.6 119h0.9M66.3 119.9h0.9M91.4 120.5h0.9M91.6 114.5h0.9M72.6 119.8h0.9M87.6 114.5h0.9M86.4 117.9h0.9M82.8 119.4h0.9M85.3 122.5h0.9M89.9 119h0.9M89 119.8h0.9M88.2 117.2h0.9M91.7 115.4h0.9M92 118.1h0.9M84.9 119.1h0.9M76.3 119.2h0.9M93.1 114h0.9M79.2 117.1h0.9M90.7 123.3h0.9M87.8 116.3h0.9M90.6 116.4h0.9M72.8 127.5h0.9M99.5 118.5h0.9M94.4 111.8h0.9M85.9 122.8h0.9M95.1 117.3h0.9M89 115.6h0.9M92.1 113.1h0.9M75.1 124.7h0.9M86.3 117.8h0.9M90.8 118.1h0.9M84 109.4h0.9M95.1 112.2h0.9M92.7 120.7h0.9M84.7 118.3h0.9M77.4 122.3h0.9M86.4 123h0.9M89.2 115.6h0.9M83.6 119.5h0.9M89.6 115.5h0.9M87.9 122.9h0.9M73.6 110.1h0.9M80.6 119.9h0.9M72.2 122.4h0.9M80 114.9h0.9M66.3 125.4h0.9M82.3 120.3h0.9M79.7 120.2h0.9M74 117.7h0.9M93.8 116.6h0.9M81.4 112.8h0.9M88.8 122h0.9M81.2 120.9h0.9M85 112.8h0.9M80.2 119h0.9M86.1 122.9h0.9M81.9 115.6h0.9M93.4 125.3h0.9M90.3 118.8h0.9M94.5 114.6h0.9M99.4 115.5h0.9M82.4 121.7h0.9M75 116.4h0.9M89 114.1h0.9M87.8 124.1h0.9M82.4 119.2h0.9M86.4 114.6h0.9M95.4 115.9h0.9M70.5 123.4h0.9M70 122.4h0.9M76.7 117.6h0.9M83.7 113.3h0.9M93 119.3h0.9M92.1 117.3h0.9M88.5 111.9h0.9M77 118.9h0.9M96.3 120.3h0.9M86.8 117.2h0.9M82.3 123.7h0.9M80.4 122.5h0.9M93 116.3h0.9M90.3 122.6h0.9M88.9 117h0.9M92.8 120.4h0.9M91.1 111.6h0.9M98.2 120.9h0.9M77.2 124.8h0.9M92.2 114.9h0.9M87.7 121.4h0.9M94.3 110.4h0.9M85 118.5h0.9M93.8 115.1h0.9M94.9 118.9h0.9M87.7 119.2h0.9M81.2 119.5h0.9M83.2 115.9h0.9M83.1 117.8h0.9M79.5 123.6h0.9M95.5 121.3h0.9M98.3 112.9h0.9M68.9 121.9h0.9M82.3 118.1h0.9M84 120.6h0.9M94.3 117.8h0.9M92.2 120.3h0.9M80.3 112.7h0.9M83.3 122.7h0.9M84.1 113.6h0.9M84.1 121.1h0.9M89.8 113.4h0.9M83.8 119.4h0.9M82.7 106.7h0.9M83.9 110.6h0.9M84.2 116.3h0.9M70.7 118.3h0.9M85.7 119.2h0.9M82.4 123.9h0.9M74.6 118.1h0.9M80.7 118.7h0.9M84 120.2h0.9M80.1 110.5h0.9M77.4 120.7h0.9M83.2 123h0.9M78.4 114.8h0.9M92 116.8h0.9M108.5 112.6h0.9M94.1 120.7h0.9M93 110.2h0.9M82.6 110.5h0.9M79.5 123.2h0.9M85 121.4h0.9M89.9 122.2h0.9M85.9 126.2h0.9M85.1 113.5h0.9M83.4 116.7h0.9M93.1 122h0.9M76.2 118.3h0.9M87.3 118.9h0.9M78.4 113.3h0.9M77 119.7h0.9M85 114.9h0.9M82.1 121.6h0.9M99.7 120.4h0.9M91 118.1h0.9M81.9 118.4h0.9M83.5 116.8h0.9M67.1 119.5h0.9M85.8 122h0.9M82.5 108.2h0.9M98.5 114.2h0.9M87 119.1h0.9M95.2 119h0.9M79.4 115.5h0.9M78.4 121.8h0.9M95.7 123.9h0.9M84.8 117.5h0.9M87.2 123.9h0.9M83.7 119.5h0.9M99.1 112.6h0.9M79.9 114.7h0.9M90 118h0.9M83.6 119.2h0.9M74.3 121.5h0.9M92 111.3h0.9M98.6 118.5h0.9M89.7 127.8h0.9M83.4 123.4h0.9M91.2 124.5h0.9M77.8 123.2h0.9M88.1 114.2h0.9M78.7 110.8h0.9M86.5 121.4h0.9M87.8 117.8h0.9M91.3 116h0.9M101 111.7h0.9M80.7 115h0.9M90.8 121.7h0.9M79.9 121.8h0.9M67.6 116.6h0.9M83.8 112.8h0.9M81.3 117.9h0.9M90.5 113.4h0.9M87.6 122.1h0.9M101.1 113h0.9M95.1 110.3h0.9M95.4 115.4h0.9M88.7 115h0.9M74.6 115.3h0.9M78.3 116.7h0.9M78.1 115.5h0.9M81.8 107.7h0.9M86.7 115.7h0.9M78.8 119.6h0.9M84.9 119.2h0.9M82.2 121.9h0.9M90.8 119.1h0.9M79.5 116.8h0.9M79.5 119.1h0.9M81.7 122.1h0.9M83.7 121.5h0.9M76.4 117.1h0.9M83.2 124.3h0.9M82.5 117.4h0.9M88.4 116.1h0.9M87.1 115.3h0.9M81.8 121.6h0.9M89.7 119.3h0.9M85.4 115.2h0.9M92 112.2h0.9M80.4 119.9h0.9M89.3 123.7h0.9M76.3 116.1h0.9M80.9 122.2h0.9M91.1 115.2h0.9M91.9 118.8h0.9M83.3 119.5h0.9M87.5 126.3h0.9M80.4 115.3h0.9M79.8 118.6h0.9M86.2 115.7h0.9M81.9 123h0.9M103.2 119.5h0.9M97.5 124.4h0.9M86.1 118.7h0.9M98.9 108.3h0.9M92.3 121.6h0.9M79.6 121.5h0.9M81.7 117.1h0.9M79.7 119.4h0.9M95.8 111h0.9M72.1 123h0.9M82.7 112.7h0.9M83 110.1h0.9M87.9 111.7h0.9M79.2 119.7h0.9M92.6 114.9h0.9M75.1 118.7h0.9M83.5 116.2h0.9M80.1 113.2h0.9M83.3 114h0.9M84.4 117.7h0.9M81.4 121.1h0.9M86.2 115.9h0.9M86.5 118.9h0.9M78.6 119h0.9M81.5 118h0.9M86.7 120.4h0.9M80.7 116h0.9M86.4 111.9h0.9M84.9 120.2h0.9M78.5 120.1h0.9M83 117.2h0.9M82.5 119.6h0.9M82 118.1h0.9M85.1 117.7h0.9M79.4 121.1h0.9M88.8 118.2h0.9M82 118h0.9M87.3 118.8h0.9M83.4 118.6h0.9M85.1 120.7h0.9M83.6 115.1h0.9M87.6 116.2h0.9M83.9 113.6h0.9M85.6 114.1h0.9M77.9 120.9h0.9M86 118.6h0.9M81 120.5h0.9M88.8 121.2h0.9M83.2 121.7h0.9M82 111.8h0.9M92.6 119.3h0.9M78.6 113.5h0.9M79.3 122.8h0.9M84.2 120.9h0.9M76.8 114.9h0.9M79.8 120.8h0.9M83.4 118.4h0.9M87.3 117.7h0.9M89.2 114.8h0.9M90 114.9h0.9M83 116.4h0.9M82.8 122.1h0.9M78 115.9h0.9M73.1 120.2h0.9M77.5 118.1h0.9M78.5 117.2h0.9M81.9 119.2h0.9M79.3 124h0.9M83 121.4h0.9M81.5 116.9h0.9M87 116h0.9M88.7 121.8h0.9M85.5 113.7h0.9M84.4 120.9h0.9M84.4 119.3h0.9M80.1 115h0.9M82 121h0.9M80 112.6h0.9M79.3 116.1h0.9M83.5 114.8h0.9M81.6 120.5h0.9M80.2 120.7h0.9M93.3 117.4h0.9M81.5 114.5h0.9M85.4 118.4h0.9M85.3 117.2h0.9M87.3 113.4h0.9M81.5 118h0.9M82 114.6h0.9M84.3 115.8h0.9M86.4 119.6h0.9M83.3 114.2h0.9M86.5 115.7h0.9M81.6 118.9h0.9M79.3 118.7h0.9M82.5 121.8h0.9M87.5 120h0.9M83.8 116.3h0.9M80.5 122.8h0.9M86.7 116.8h0.9M81.7 114.8h0.9M86.4 120.5h0.9M82.4 122.7h0.9M81.7 114.1h0.9M79.4 115.7h0.9M76.7 118.7h0.9M86.6 113.3h0.9M84.6 115.9h0.9M89.7 124.5h0.9M75.8 112.8h0.9M92.7 116.3h0.9M83 117.2h0.9M82.9 119.6h0.9M82.7 118.3h0.9M85.5 116.1h0.9M86.7 116.3h0.9M78.8 114.1h0.9M72 117.6h0.9M84.1 119.4h0.9M90.3 120.9h0.9M78 119.3h0.9M84.4 115.8h0.9M83.2 116.1h0.9M79.9 119.6h0.9M83.3 121.6h0.9M83.5 119h0.9M85.5 120.7h0.9M80.6 119.5h0.9M81.3 120.6h0.9M81.7 121.6h0.9M84.9 116.1h0.9M82.7 118.4h0.9M79.2 120.5h0.9M81.9 120.4h0.9M78 117.5h0.9M82.7 119h0.9M79.5 118.1h0.9M80 119.1h0.9M83.5 116h0.9M85.8 119.6h0.9M87.6 121.1h0.9M82.1 114.4h0.9M92.3 117.6h0.9M81.3 118.9h0.9M77.9 118.3h0.9M81 120h0.9M87.6 120h0.9M89.6 115.6h0.9M85.3 119.5h0.9M80.7 123.3h0.9M83.9 118.7h0.9M84.3 119.7h0.9M84.7 122h0.9M74 116.6h0.9M87.1 126.4h0.9M87.9 118.9h0.9M82.1 122.1h0.9M78.7 116h0.9M79.8 118h0.9M82.1 112.5h0.9M86.3 121.5h0.9M80.8 121h0.9M77.2 119.8h0.9M87.2 117.8h0.9M85.4 118.3h0.9M81.1 117.7h0.9M82.4 112.7h0.9M90 116.9h0.9M85.2 123.3h0.9M82.3 111.4h0.9M79.5 115.7h0.9M87.6 119h0.9M81.8 119.2h0.9M85.9 117.9h0.9M88.8 114.7h0.9M82.7 110.9h0.9M81.5 119.6h0.9M81.8 120.3h0.9M81.1 118.1h0.9M86.3 122.2h0.9M77.1 120h0.9M81.5 116.7h0.9M79.6 113.8h0.9M80.6 118.5h0.9M83 114.7h0.9M83.9 117.9h0.9M80.6 117.5h0.9M84.4 118.9h0.9M82.7 122.9h0.9M80.6 114.7h0.9M88.4 118.1h0.9M74.1 112.9h0.9M82.1 110.9h0.9M81.1 115.2h0.9M80.3 114.2h0.9M87.4 120.8h0.9M87.9 110.2h0.9M81.8 121.2h0.9M83.8 119h0.9M76.7 120.8h0.9M83.7 122.1h0.9M87.1 116.7h0.9M82 114.1h0.9M79 116.1h0.9M77.3 118.8h0.9M85.3 119.4h0.9M82.3 116.2h0.9M88.8 114.4h0.9M84.6 118.6h0.9M77 113.3h0.9M90.2 123.8h0.9M86.2 118h0.9M85.6 117.1h0.9M82 117.9h0.9M82.6 114.8h0.9M81.7 119.4h0.9M85.3 116.2h0.9M84.5 117.2h0.9M88.6 114.9h0.9M83.6 118.5h0.9M85.4 123h0.9M80.6 119.9h0.9M83.4 119h0.9M92.6 115.9h0.9M84.3 111.8h0.9M82.7 118.8h0.9M87.6 115.7h0.9M86.4 114.6h0.9M81.3 119.7h0.9M79.9 117.6h0.9M86.7 120.8h0.9M80.6 121.6h0.9M90.7 115.7h0.9M83.6 121.2h0.9M78.6 119.7h0.9M82.9 121.4h0.9M81.8 114.6h0.9M82.8 117.7h0.9M74.4 118.7h0.9M82.1 119.8h0.9M77.2 118.1h0.9M78.6 119.4h0.9M76.4 118.2h0.9M86.3 120.2h0.9M84 122.1h0.9M85 116.4h0.9M81.2 115.5h0.9M79.2 117.8h0.9M89.4 118h0.9M78.2 114.8h0.9M84.9 118.7h0.9M75.5 123.1h0.9M76.7 113.9h0.9M83.9 120.3h0.9M87.3 113.9h0.9M79.4 116.6h0.9M76.2 116.9h0.9M90 121.8h0.9M83 119.7h0.9M82.4 117.7h0.9M83.8 115.5h0.9M84.8 115.1h0.9M86.8 114.9h0.9M80 116.8h0.9M81.2 120.2h0.9M90.5 117.1h0.9M82.9 123.7h0.9M81.8 115.8h0.9M81.9 119.4h0.9M88.6 118.8h0.9M81.4 118.2h0.9M81.8 115h0.9M85 118.1h0.9M81.3 118.5h0.9M89.4 118.8h0.9M85.3 122.2h0.9M84 116h0.9M87.8 117.1h0.9M85 117h0.9M87 112.3h0.9M83.5 120.2h0.9M85.1 118.2h0.9M85.3 115.8h0.9M83.3 119.1h0.9M83.9 121.3h0.9M83.8 120.4h0.9M84.5 117.6h0.9M81.9 121.2h0.9M82.9 119.8h0.9M82.2 116h0.9M86.5 121.5h0.9M86.4 114.2h0.9M87.2 117.2h0.9M82.4 113.2h0.9M81.5 122.1h0.9M83.1 117.1h0.9M78.6 121.3h0.9M90.6 117.6h0.9M85.8 119.5h0.9M76.7 118.4h0.9M88 119.8h0.9M75.6 118.4h0.9M81.6 117.9h0.9M78.6 118.8h0.9M80.6 115.5h0.9M83.3 115.5h0.9M82.5 123.8h0.9M75 116.5h0.9M86.2 115.5h0.9M82.4 122.8h0.9M80.8 116.8h0.9M88.2 118.9h0.9M80.5 120h0.9M86.8 115.6h0.9M75.5 114.6h0.9M79.1 122h0.9M76.4 119.9h0.9M91.9 110.9h0.9M77.8 119.8h0.9M83.4 116.8h0.9M80.8 122.3h0.9M81.1 119.8h0.9M75.6 117.5h0.9M76.9 122.7h0.9M88.7 115.4h0.9M88.5 117.6h0.9M81.1 118.2h0.9M77.3 115.9h0.9M83.8 118.8h0.9M75.3 118.2h0.9M89.2 114h0.9M86.2 118.9h0.9M83.3 116.4h0.9M83.5 115.1h0.9M80.1 124.3h0.9M73.1 120.4h0.9M77.2 116.1h0.9M87 117.9h0.9M84.9 117.7h0.9M83.4 119.2h0.9M81.1 114.7h0.9M81.7 118h0.9M87.5 115.2h0.9M81.2 117.2h0.9M78.7 117.6h0.9M84 117.9h0.9M83.4 116.9h0.9M72.7 120.2h0.9M83 119.3h0.9M78.9 118.6h0.9M89.1 118.6h0.9M80.2 119.2h0.9M78 116.6h0.9M78.8 115.4h0.9M86.3 116.4h0.9M86.9 118.2h0.9M75.8 118.1h0.9M85.3 122.2h0.9M77.9 114.9h0.9M84.5 114.2h0.9M85.4 117.7h0.9M84.4 115.6h0.9M82.6 118.5h0.9M84 118.8h0.9M92.3 120h0.9M76.7 121.5h0.9M86.9 119h0.9M83.4 118.5h0.9M83.8 121.9h0.9M83.1 119.5h0.9M87.1 116.2h0.9M77.7 120.6h0.9M85 114.6h0.9M85.8 118.3h0.9M87.2 124.4h0.9M80.6 120.6h0.9M78.6 116.4h0.9M83.8 117.1h0.9M82.2 116.2h0.9M85.9 119.5h0.9M86.5 120.5h0.9M89.8 121.5h0.9M81.6 120.9h0.9M82.9 114.3h0.9M79.7 113.1h0.9M88.4 116.9h0.9M80.4 115.4h0.9M71.3 120h0.9M86.6 118h0.9M92.7 119.8h0.9M77.4 118.5h0.9M85.1 113.2h0.9M75.7 117.5h0.9M87.8 119.8h0.9M80.9 121.3h0.9M85.8 115.6h0.9M85.1 117.3h0.9M86.7 118.3h0.9M85.6 115.7h0.9M88 116.5h0.9M83.1 116h0.9M76.5 122.8h0.9M89.2 117.5h0.9M78.5 119.5h0.9M82.1 117.7h0.9M79.7 115.2h0.9M75.9 110.2h0.9M78.4 113.4h0.9M85.4 122.6h0.9M77.8 117.8h0.9M83.8 119.1h0.9M82.8 117.5h0.9M78.1 117.8h0.9M91.9 119.7h0.9M78.7 116.1h0.9M88.2 115.1h0.9M80.2 118.1h0.9M83.6 118.5h0.9M84.4 114.9h0.9M84.9 118h0.9M81.9 113h0.9M77.8 112.4h0.9M85.7 117.7h0.9M79.7 112.9h0.9M87.7 115.4h0.9M91.2 122.9h0.9M83.1 118.8h0.9M79.8 117.7h0.9M84.9 116.5h0.9M82.2 121.6h0.9M85 116.2h0.9M91.3 115.3h0.9M82.8 121.1h0.9M93.8 119.8h0.9M83.5 115.9h0.9M84.8 114.2h0.9M78.5 119.8h0.9M83.4 121.3h0.9M80.3 114.1h0.9M83.9 118.2h0.9M80.4 117.8h0.9M82.6 120.9h0.9M86 121.5h0.9M88 118.9h0.9M73.4 122.2h0.9M83.9 120.3h0.9M90.1 114.1h0.9M91.3 115.5h0.9M88.3 119.6h0.9M88.1 119.1h0.9M82.5 121.7h0.9M83 116.8h0.9M82.5 121h0.9M86.4 115.4h0.9M82.4 115.7h0.9M86.8 120.7h0.9M82.6 123.1h0.9M78.5 116.7h0.9M79.1 116.8h0.9M84.2 123.7h0.9M80.7 113.7h0.9M82.8 117.6h0.9M79.8 122.4h0.9M76.2 109.9h0.9M82 120.3h0.9M83.2 123.3h0.9M88.5 113.2h0.9M79.6 117h0.9M79 115.5h0.9M79.3 118.3h0.9M88.1 116.5h0.9M81.4 122.2h0.9M76.2 114.6h0.9M84.9 117.8h0.9M87.9 117.5h0.9M79.7 118.2h0.9M82.3 118h0.9M93 116.3h0.9M83.9 118.6h0.9M79.9 120.7h0.9M75 119.2h0.9M76.5 123.1h0.9M78.9 123.6h0.9M88.4 114.4h0.9M78.7 112.2h0.9M85.5 125h0.9M82.8 120.7h0.9M75.5 118.7h0.9M87.5 116.7h0.9M76.7 119.8h0.9M79.6 114.7h0.9M82.3 120.7h0.9M79 123.4h0.9M79.2 115.4h0.9M74.8 117.4h0.9M82.3 115.6h0.9M78 115.4h0.9M89.2 111.5h0.9M76 118h0.9M81.9 117.6h0.9M78.6 115.5h0.9M92.5 113.7h0.9M78.8 119.5h0.9M85.8 117.5h0.9M79.6 114.5h0.9M84.9 115.1h0.9M82 114.3h0.9M80.8 121.1h0.9M82.7 121.8h0.9M87.9 115.9h0.9M75.7 117.4h0.9M86.2 118.9h0.9M84.4 119.6h0.9M82.4 118.2h0.9M84.7 120.6h0.9M78 117h0.9M80.6 116.5h0.9M80.6 121.6h0.9M85.8 117.2h0.9M85.8 118.9h0.9M81.2 114.4h0.9M75.7 113h0.9M84.9 118.1h0.9M83.1 116.2h0.9M79.5 117.1h0.9M78.7 123.1h0.9M83.5 117.6h0.9M85.4 116.4h0.9M85.6 115.7h0.9M78.3 114.5h0.9M93.9 119.5h0.9M77.5 116h0.9M86.5 115.1h0.9M89.1 121.8h0.9M84.3 116.6h0.9M87.9 120.4h0.9M82.8 119h0.9M82 118.3h0.9M82.1 122.9h0.9M82.5 117.7h0.9M81.1 127.9h0.9M79.8 119.8h0.9M79.1 113.4h0.9M86.6 118.4h0.9M85.2 108.7h0.9M78.7 116.6h0.9M80.2 113.7h0.9M87.3 118.3h0.9M85.3 120.2h0.9M76.1 115.6h0.9M89.5 118.8h0.9M80.5 123h0.9M91.7 121.3h0.9M78.7 118.5h0.9M87.8 117.8h0.9M82.6 117.9h0.9M86.2 118h0.9M83.4 118.1h0.9M78.1 114.1h0.9M79.8 121.6h0.9M80.9 117.8h0.9M86.1 122.1h0.9M77.4 117.4h0.9M84.3 121h0.9M78 117.4h0.9M122.1 115.6h0.9M122.5 104.5h0.9M103.5 122.1h0.9M124 106.7h0.9M98.8 116.2h0.9M107.8 114.9h0.9M127.4 115.8h0.9M120 119.7h0.9M104.1 109.7h0.9M136.7 111.4h0.9M100.1 115.1h0.9M93 111.5h0.9M120.6 114.6h0.9M89.9 121.1h0.9M105 116.5h0.9M91.7 120.2h0.9M121.8 109.7h0.9M151.6 103.2h0.9M134.1 108.3h0.9M134.8 112.2h0.9M146 97.9h0.9M129.7 104.4h0.9M94 112.3h0.9M144 102.1h0.9M123 112.6h0.9M93.8 125.2h0.9M94.2 115.9h0.9M94.5 121.6h0.9M98.8 117.5h0.9M84.4 113.2h0.9M86.5 118h0.9M91.6 120.7h0.9M123 115.9h0.9M89.9 121.7h0.9M107.3 119.2h0.9M150.2 105.9h0.9M105.3 107.3h0.9M138.9 107.5h0.9M108.5 109.7h0.9M136.7 101h0.9M93.6 115.3h0.9M87.6 112.3h0.9M146 101.4h0.9M94.2 119.1h0.9M117 111h0.9M108.8 116.2h0.9M86.8 118.7h0.9M142.1 109.3h0.9M99.7 115h0.9M101.1 122.8h0.9M121 115.9h0.9M101.9 119.1h0.9M99.2 119h0.9M94 126h0.9M91.7 114.4h0.9M86.3 111.2h0.9M86.7 116.6h0.9M109.3 116.1h0.9M104.7 108.8h0.9M117.6 108.5h0.9M89.7 108.6h0.9M137.7 113.1h0.9M102.1 110.4h0.9M148.9 102.1h0.9M91.5 120h0.9M108 112.6h0.9M106.3 121.6h0.9M123 106.9h0.9M118.6 110h0.9M117.5 111.1h0.9M81.9 119.7h0.9M92.7 113.6h0.9M102.6 119.6h0.9M152.1 108.1h0.9M102.6 116.9h0.9M128.8 118.8h0.9M87 116.9h0.9M116 112.8h0.9M104.2 107.9h0.9M107 121.7h0.9M113.5 113.9h0.9M97.2 111h0.9M92.4 116.5h0.9M85.4 118.3h0.9M105.8 114.7h0.9M92.5 116h0.9M87 115.7h0.9M104.3 108.8h0.9M136.4 105.6h0.9M152.2 100.5h0.9M116.8 109.4h0.9M87.3 126h0.9M141.7 112h0.9M106.4 118.3h0.9M94 116.2h0.9M91.4 118.7h0.9M100.9 117.2h0.9M102.3 112.8h0.9M96.4 118h0.9M148.5 102.7h0.9M145.4 102.3h0.9M108.9 104.6h0.9M103.9 116.1h0.9M148.2 108h0.9M117.6 119.2h0.9M85.1 123.8h0.9M90.9 116.2h0.9M112 108.6h0.9M104.4 115.8h0.9M100.8 111.2h0.9M116.1 121.1h0.9M99.5 115.4h0.9M114 119.2h0.9M125.3 116.4h0.9M93.4 119.3h0.9M90.5 112.2h0.9M96.1 117.8h0.9M94 115.1h0.9M97.9 120.8h0.9M115.4 117.1h0.9M122.7 111.1h0.9M89.4 118.6h0.9M112.1 108.7h0.9M134.4 116.6h0.9M90 118.3h0.9M141.7 107.6h0.9M141.7 106h0.9M117.5 104.6h0.9M121.9 102.5h0.9M146.2 118.2h0.9M122.2 107.8h0.9M143.9 108h0.9M95.3 120h0.9M87.2 116.5h0.9M106.7 110.8h0.9M91.9 117.7h0.9M111.7 115.5h0.9M108 115h0.9M82.7 115.9h0.9M112.2 108.7h0.9M141.3 105.4h0.9M104.2 114.4h0.9M90.3 121.1h0.9M91.7 116.1h0.9M90.7 123.4h0.9M89.3 115.5h0.9M87.9 117.3h0.9M111.4 128.1h0.9M110.1 113.2h0.9M121.9 104.4h0.9M98.8 112.8h0.9M93.5 117.7h0.9M86.5 113.9h0.9M123.7 118.8h0.9M81.6 114.9h0.9M86.4 112.5h0.9M157 102.3h0.9M94.3 116.7h0.9M85.4 119.4h0.9M123.5 115.9h0.9M89.4 123.6h0.9M107.7 125.5h0.9M88.8 123.9h0.9M94.5 118.8h0.9M138.1 113h0.9M138.7 112.7h0.9M95.3 119.4h0.9M100.6 117.5h0.9M106.3 112.2h0.9M97.3 114.9h0.9M107.1 107.8h0.9M106 116h0.9M96.5 116h0.9M137.3 102.7h0.9M93.1 123.8h0.9M141.1 111.9h0.9M103.8 116.3h0.9M90.3 112.1h0.9M139.8 101.6h0.9M113.4 115.1h0.9M92 112.1h0.9M98.4 124.3h0.9M96.4 116.2h0.9M91.2 120.9h0.9M94.4 116.6h0.9M111.2 113.2h0.9M97.1 121.4h0.9M88.5 114.3h0.9M119.1 106.9h0.9M104.1 109.8h0.9M122.3 110.8h0.9M92.9 117.5h0.9M93.9 117.4h0.9M90.5 118.2h0.9M144.3 102.6h0.9M102.3 110.6h0.9M137.3 105.6h0.9M93.5 120.9h0.9M121.7 107.6h0.9M110.9 116.5h0.9M85.9 111.9h0.9M134.4 104.6h0.9M86.1 120.1h0.9M117.8 108.7h0.9M91.1 123.3h0.9M140.2 105.4h0.9M129.5 100.7h0.9M102 114.5h0.9M90.6 121.6h0.9M139.3 114h0.9M153.6 104.2h0.9M112.7 111.2h0.9M86.3 118.8h0.9M93.9 115.1h0.9M86.7 122.2h0.9M89.5 117.7h0.9M89.9 113h0.9M104.3 116.1h0.9M106.7 116.4h0.9M88.4 113.1h0.9M125.1 109.8h0.9M97.2 120.3h0.9M96.6 116.8h0.9M113.8 114.8h0.9M100.4 118.3h0.9M102.9 109.5h0.9M92.6 107.6h0.9M121.7 111.9h0.9M96.6 108.3h0.9M95.1 118.5h0.9M105.4 103.9h0.9M100.5 117.7h0.9M86.9 119.4h0.9M120.6 117.7h0.9M116.5 106.1h0.9M112.1 116.1h0.9M121.9 111.2h0.9M151.8 113h0.9M131.8 113.7h0.9M150.9 110.1h0.9M98.5 115.4h0.9M140.9 113.9h0.9M101.7 116h0.9M97.7 109.7h0.9M89.4 121.9h0.9M98.7 115.2h0.9M128.7 107.5h0.9M87.5 117.3h0.9M142.4 105.5h0.9M99.5 116.5h0.9M107.6 123.6h0.9M87.4 115.5h0.9M93 115.5h0.9M128.6 100.6h0.9M130.5 110.4h0.9M112.7 119h0.9M105 109.3h0.9M103.3 110h0.9M103.8 108.8h0.9M132.1 109.4h0.9M98.2 118h0.9M102.1 119.9h0.9M100 115.6h0.9M85.6 120.1h0.9M128.7 102.3h0.9M125.2 113.1h0.9M116.9 105.8h0.9M111.5 105h0.9M94.2 113.9h0.9M91.4 119.5h0.9M139.5 104.9h0.9M110.2 108.4h0.9M89 123.7h0.9M118.6 110.8h0.9M114.4 109.9h0.9M112.8 117.7h0.9M117.2 117.7h0.9M98.1 114.1h0.9M113.1 116.7h0.9M103.8 117.4h0.9M94.5 119.3h0.9M143.2 107.6h0.9M84.7 117h0.9M97.7 119.1h0.9M149 99.9h0.9M132.5 100.1h0.9M88.8 114.1h0.9M95.1 125.8h0.9M143.2 105h0.9M99.6 121h0.9M152.6 105.7h0.9M90.7 115.8h0.9M97.4 119.6h0.9M82.1 119.2h0.9M117.3 109.3h0.9M92.2 120.9h0.9M102.3 118h0.9M103.5 115.8h0.9M104.3 117.6h0.9M106.9 108.6h0.9M106.7 120.1h0.9M117.2 109.9h0.9M95.6 115.4h0.9M121.6 111.2h0.9M121.2 110.5h0.9M127.7 108.7h0.9M111.1 116.5h0.9M96 111.8h0.9M120.1 108.2h0.9M150.9 111.3h0.9M118.2 110.6h0.9M108.6 120.8h0.9M106.7 114.7h0.9M110.5 115.4h0.9M126 101.8h0.9M87.3 120.8h0.9M89.8 121.6h0.9M89.6 111.8h0.9M123.5 109.1h0.9M88.4 120.1h0.9M124.5 115.4h0.9M112.9 108.4h0.9M114.9 105.4h0.9M93.1 118.1h0.9M141.2 109.8h0.9M119.4 114.4h0.9M118.8 119.4h0.9M98.2 118.9h0.9M109.9 121.7h0.9M96 113.2h0.9M104.5 112.2h0.9M127 110.2h0.9M97.4 119h0.9M102.3 114.2h0.9M133.7 104.4h0.9M140.8 100.5h0.9M82.3 112.8h0.9M134.7 120h0.9M92.6 116.2h0.9M111.4 113.9h0.9M121.1 104.6h0.9M102.6 109.7h0.9M91.5 123.8h0.9M97.4 114.5h0.9M87.5 121h0.9M105.9 111.2h0.9M89.4 121.5h0.9M90.3 118.9h0.9M93.3 112.4h0.9M134.6 107.7h0.9M121.2 116.3h0.9M102.1 113.5h0.9M134.8 95.9h0.9M134.1 110.2h0.9M100.5 118.9h0.9M95.7 116.2h0.9M107.6 110.6h0.9M116.3 105.3h0.9M134.9 106.3h0.9M108 111.7h0.9M117.2 113h0.9M90 126.1h0.9M93.2 117.7h0.9M98.7 117h0.9M110 113.7h0.9M86.5 116.1h0.9M102.4 117.8h0.9M133.3 113.5h0.9M94 124.1h0.9M112.1 118.9h0.9M101.8 111.1h0.9M122.4 121.9h0.9M108 116h0.9M83.3 115.1h0.9M126.1 109h0.9M123.7 101.9h0.9M111 109.6h0.9M127.5 97.1h0.9M90.5 113h0.9M110.4 118.9h0.9M94.3 115.5h0.9M92.5 113.5h0.9M136.5 98.9h0.9M106.5 103.7h0.9M90.8 114.2h0.9M118 116.2h0.9M85.5 119.4h0.9M106.9 114.3h0.9M90.5 124.9h0.9M88.5 113.1h0.9M129 95.9h0.9M88.9 118.1h0.9M116.5 114.7h0.9M136 94.9h0.9M139.3 97h0.9M142.7 100.7h0.9M118.5 115.5h0.9M97.4 114.6h0.9M94.2 119h0.9M140.9 114h0.9M95.1 116.5h0.9M140.7 112.5h0.9M96 118.4h0.9M101.7 120.4h0.9M116.8 109.8h0.9M89.3 114.4h0.9M107.5 110.8h0.9M137 107.2h0.9M86.5 117.7h0.9M111.5 113.2h0.9M109.7 114h0.9M139.4 110.3h0.9M147 106.9h0.9M101 110h0.9M89.8 112.7h0.9M109.8 114.4h0.9M81.7 112h0.9M83.1 118h0.9M130.6 101.9h0.9M150.7 106.6h0.9M91.3 121.9h0.9M115.7 116.5h0.9M119 108.4h0.9M85.9 118.1h0.9M91.5 112.7h0.9M103 116.5h0.9M103.2 110.7h0.9M126 110.1h0.9M96.3 113.4h0.9M87.6 116.2h0.9M96.9 116.6h0.9M119.5 108.4h0.9M100.8 121.9h0.9M85.6 118.2h0.9M121.7 108.1h0.9M89.2 117.6h0.9M92.5 117.4h0.9M93.3 112.9h0.9M130.1 110.7h0.9M87.9 117h0.9M86.4 122.8h0.9M87.1 108.8h0.9M108.5 112.5h0.9M88.6 111.9h0.9M80.9 117.5h0.9M86.5 113.3h0.9M110.9 120.5h0.9M96.9 110.1h0.9M105 117.6h0.9M107.5 118.4h0.9M100.5 120.1h0.9M150.5 97h0.9M150.7 111.6h0.9M95 112.5h0.9M96.6 114.1h0.9M100.8 115.9h0.9M114.9 115.6h0.9M95.3 115.7h0.9M112.7 108.6h0.9M112.2 112.9h0.9M109.1 117.9h0.9M100.1 113h0.9M114.7 117.6h0.9M86.9 111h0.9M119.7 103.7h0.9M99.6 115.4h0.9M138.2 109.5h0.9M89.4 113.6h0.9M91.3 119.8h0.9M96.5 115.6h0.9M142.3 117.3h0.9M136.1 109.3h0.9M90.3 118.6h0.9M97 113.5h0.9M114.9 106.9h0.9M139.8 101.4h0.9M96.2 121.1h0.9M142.4 100.7h0.9M88.7 107.8h0.9M156.2 105.2h0.9M98.6 123.3h0.9M105 119.4h0.9M89 111.6h0.9M89 114.4h0.9M98.6 125.1h0.9M124.9 109.3h0.9M113.8 109.7h0.9M88.6 113.5h0.9M94.1 118.8h0.9M95.5 122h0.9M144.1 109.7h0.9M106.1 122h0.9M85.9 116.3h0.9M87.6 110.7h0.9M111.7 110.2h0.9M104.5 112.8h0.9M123.5 116.3h0.9M128.3 117.4h0.9M130.6 109.7h0.9M138.8 102.6h0.9M126.5 107h0.9M87.5 121h0.9M95.6 108.1h0.9M112.1 105h0.9M91.2 122.4h0.9M117.5 120.6h0.9M113.9 110.3h0.9M107.5 109.9h0.9M132.6 122.3h0.9M114.2 112.1h0.9M114.4 121.4h0.9M121.4 107.9h0.9M88.2 121.6h0.9M101.4 114.1h0.9M138.6 97.6h0.9M122 116.5h0.9M89.2 121.8h0.9M144.5 105.3h0.9M138.2 110.4h0.9M116 110h0.9M131.6 105h0.9M87.7 116.4h0.9M126.1 112.6h0.9M97.5 113h0.9M117.6 109.7h0.9M86.7 112.1h0.9M89 109.2h0.9M117.5 110h0.9M93 113h0.9M117.2 109.3h0.9M86.6 119.4h0.9M116.8 117.3h0.9M99 114.5h0.9M113.1 115.6h0.9M152 107.4h0.9M104.7 117.9h0.9M95.3 121h0.9M98 116.3h0.9M101.1 112.4h0.9M103.8 119.9h0.9M101.6 119h0.9M149.9 103.5h0.9M107.1 118.2h0.9M96.2 113h0.9M129.9 113h0.9M106.1 113.3h0.9M111.3 114.2h0.9M143.3 109.2h0.9M88.8 119.1h0.9M120.5 104.9h0.9M93.8 113.1h0.9M95.3 110.8h0.9M128 101.7h0.9M93.9 115h0.9M89.7 113.7h0.9M92.1 120h0.9M109.7 120.6h0.9M97 120h0.9M129.7 99.5h0.9M117.5 111.8h0.9M110.4 115.1h0.9M133.1 122.6h0.9M95.2 116.4h0.9M132.3 106.3h0.9M104.6 112.6h0.9M128 105.9h0.9M125.1 110.4h0.9M96.2 117.7h0.9M85.6 113.9h0.9M125.7 104h0.9M90.6 115.9h0.9M114.1 111.7h0.9M135 106.5h0.9M90.4 115.7h0.9M107.4 117h0.9M102.2 109.3h0.9M88.1 117.4h0.9M143.7 99.1h0.9M87 116h0.9M115.2 122.1h0.9M144.4 102.4h0.9M94.3 111.1h0.9M154.3 101.2h0.9M91.8 118.3h0.9M117.7 111.2h0.9M102 115.3h0.9M143.9 103.8h0.9M124.6 109.6h0.9M93.9 118h0.9M108.4 114.9h0.9M103.9 122.8h0.9M121.5 113.5h0.9M97.1 115.8h0.9M129.1 106.3h0.9M96.6 107.8h0.9M111.7 119.7h0.9M108.9 115.1h0.9M97.6 110.2h0.9M99.7 117.3h0.9M97.1 120h0.9M95.1 110.3h0.9M88.3 120.1h0.9M136.6 104h0.9M137.6 107.5h0.9M142.8 110.8h0.9M126.5 111.5h0.9M116.3 110.5h0.9M133.7 112.3h0.9M97.7 119.4h0.9M82.9 118.5h0.9M87.9 112.6h0.9M150.6 104.2h0.9M115.6 110.2h0.9M77 117.2h0.9M142.5 95.4h0.9M125.1 107h0.9M94.1 117h0.9M135.4 107.5h0.9M83.4 116.6h0.9M111.8 114.8h0.9M144.2 99.8h0.9M113.1 116.3h0.9M102.3 118.4h0.9M99.3 121.2h0.9M109 114.1h0.9M98.8 111.3h0.9M92.1 123.4h0.9M146.8 108h0.9M99.1 115.6h0.9M96.2 114.1h0.9M91.3 117.7h0.9M134 106.4h0.9M84.7 117.9h0.9M106.2 112h0.9M107.6 111.9h0.9M131.5 110.1h0.9M114.9 111.6h0.9M85.1 117.9h0.9M98 110.5h0.9M85.7 123.9h0.9M97.6 117.3h0.9M130.2 111.1h0.9M122.1 107.1h0.9M84.3 116.5h0.9M121.6 109.5h0.9M104.4 118.2h0.9M112.7 120h0.9M151.3 108.1h0.9M131.3 106.1h0.9M113.8 116.4h0.9M125.1 107.3h0.9M118.6 108.7h0.9M88 113.1h0.9M112.4 114h0.9M136.9 119h0.9M107 121.3h0.9M122.7 111.9h0.9M85.9 125.1h0.9M98 111.3h0.9M133.2 111.4h0.9M91.6 110.4h0.9M94.3 119.6h0.9M88 115.9h0.9M141.1 106.6h0.9M99.1 115.2h0.9M153.1 109h0.9M142.7 113.7h0.9M117.5 113.7h0.9M112.7 119.6h0.9M94.3 121.2h0.9M101.8 118.4h0.9M88.8 121.2h0.9M94.2 121.9h0.9M140.5 98.1h0.9M142.7 113.1h0.9M129.9 113.8h0.9M79.9 118.4h0.9M148.3 104.2h0.9M92.3 119.1h0.9M126.4 105.8h0.9M152 99h0.9M92.3 118.2h0.9M116.6 99.5h0.9M93.9 117.2h0.9M139.1 115.4h0.9M128.7 107.6h0.9M99.1 107.2h0.9M115.1 110.8h0.9M117.1 111.3h0.9M90.3 111.4h0.9M94.9 117h0.9M128.3 117.3h0.9M115.4 106.3h0.9M140.2 106.9h0.9M87.5 106.4h0.9M93 111.3h0.9M89 124.3h0.9M101.1 114.8h0.9M130 113h0.9M145.7 106.4h0.9M149 108h0.9M134.5 111.8h0.9M88.9 110.4h0.9M87.8 116h0.9M113.5 107.3h0.9M102.2 125h0.9M149.7 99.3h0.9M123.9 98.7h0.9M92.7 118.6h0.9M120.4 106h0.9M122.1 113.7h0.9M90.8 110.3h0.9M115.4 121.1h0.9M90.5 116.9h0.9M93.1 118.1h0.9M129.2 104h0.9M118.6 104.7h0.9M99.4 115.1h0.9M117.3 119.3h0.9M132.4 116.3h0.9M129.1 112.4h0.9M89.2 115.4h0.9M85.8 115.2h0.9M109.2 117.2h0.9M140.3 110.3h0.9M110.3 111.9h0.9M90.6 116.4h0.9M89.9 125.1h0.9M136.4 107.4h0.9M132.6 104.5h0.9M116 112.5h0.9M93.1 112.9h0.9M143 105.8h0.9M104.8 109.1h0.9M103.5 112.4h0.9M99.5 117.8h0.9M107.8 119.9h0.9M100.8 119.5h0.9M150.4 97.1h0.9M103.2 120.6h0.9M99.4 115h0.9M97 114.2h0.9M99.4 110.3h0.9M108.5 119h0.9M106.1 104.9h0.9M93.8 111.5h0.9M140.3 107.9h0.9M100.7 119.7h0.9M86.9 116.5h0.9M92.1 120.6h0.9M112.1 110.7h0.9M127.7 118.2h0.9M113.4 108.2h0.9M133.3 115.9h0.9M113.7 111.5h0.9M136.5 107.9h0.9M96 122.2h0.9M138.6 109.7h0.9M93.7 114.2h0.9M92.6 118.6h0.9M110.4 111.3h0.9M91.5 119.6h0.9M95 112.7h0.9M87.4 119.5h0.9M93.6 113.2h0.9M94.4 114.4h0.9M93.3 112.5h0.9M111.4 119.3h0.9M107.1 104.9h0.9M103 113.4h0.9M100.2 116.5h0.9M132.7 104.3h0.9M92.4 113.1h0.9M95.2 119.3h0.9M139.4 98.9h0.9M100.7 119.7h0.9M95.7 120.4h0.9M115.5 112.4h0.9M146 120.8h0.9M93 107.6h0.9M135.3 112.5h0.9M100.7 116.6h0.9M90.6 114h0.9M95.7 112.3h0.9M85.1 113.3h0.9M79.7 116.4h0.9M121.8 115.8h0.9M104.4 114.6h0.9M110.6 117.3h0.9M88.7 122.4h0.9M104.7 111h0.9M106.7 123.7h0.9M89.3 120.5h0.9M94.9 108.9h0.9M103.7 113.2h0.9M89.9 117.1h0.9M96.6 115.9h0.9M92.3 120.2h0.9M140.9 108.3h0.9M117.4 110.8h0.9M90.2 123.1h0.9M95.8 111.3h0.9M143.5 86.1h0.9M106.4 111.5h0.9M122.3 113h0.9M92.6 114.6h0.9M88.3 115.4h0.9M116 108.5h0.9M99.3 114.3h0.9M93.3 117.2h0.9M80 116.3h0.9M110.5 108.6h0.9M98.7 114.2h0.9M90.5 115h0.9M98.4 112.7h0.9M84.4 117.4h0.9M103 122.7h0.9M100.6 114h0.9M116.4 108.7h0.9M91.1 109.5h0.9M105.8 122.2h0.9M92.5 108.1h0.9M84 122.6h0.9M93.3 109.9h0.9M140.7 111.8h0.9M91.3 116.7h0.9M135.3 109.4h0.9M147.5 89.4h0.9M93.4 113.6h0.9M154.7 105.9h0.9M105.3 122.3h0.9M137.8 103.8h0.9M109 117.1h0.9M138 101.4h0.9M136 110.8h0.9M124.4 106.5h0.9M114.3 109.6h0.9M137.7 120.1h0.9M94 121h0.9M134.6 102h0.9M93.5 123h0.9M88.9 116h0.9M110.5 117.9h0.9M83.5 120.2h0.9M98.9 111.4h0.9M92.2 120.7h0.9M117.8 112.6h0.9M88.9 124.1h0.9M143.5 102.7h0.9M89.3 113.6h0.9M124.9 114.8h0.9M87.3 115.6h0.9M88.6 118.9h0.9M88 108.4h0.9M110.5 115.5h0.9M93.2 117.3h0.9M120 114.4h0.9M93.7 115.9h0.9M84.9 114.2h0.9M115.6 104.8h0.9M137.8 105.3h0.9M121.6 117.5h0.9M144.8 120.4h0.9M90.2 119.3h0.9M83.5 109h0.9M90 107.5h0.9M149.9 109.9h0.9M131.7 108.7h0.9M86.2 114.8h0.9M128.5 104.5h0.9M100.5 111.9h0.9M78.9 114.6h0.9M150 105.8h0.9M101.1 117.6h0.9M88 115.7h0.9M120.3 126h0.9M85.6 124.3h0.9M98.3 111.6h0.9M129.9 108.3h0.9M117.3 107.8h0.9M92.3 114.6h0.9M106.6 114.6h0.9M99.6 113.7h0.9M84.4 107.6h0.9M112.2 118.5h0.9M86.1 127.1h0.9M89.6 120.5h0.9M86 123.7h0.9M90.5 112.5h0.9M79.1 117.5h0.9M85.2 116.2h0.9M81.7 122.5h0.9M96.4 117.6h0.9M138.3 109.1h0.9M93.7 119.9h0.9M141.7 99.4h0.9M89.5 115.7h0.9M91.3 112.9h0.9M140 102.4h0.9M96.2 113.3h0.9M87.1 110.9h0.9M127.2 114.9h0.9M99.3 112.6h0.9M148.7 107h0.9M102.9 114.1h0.9M91.6 111.6h0.9M137.8 101.1h0.9M92.4 117.6h0.9M106.4 114.6h0.9M103.1 115h0.9M100.5 114.1h0.9M86 114h0.9M86 119h0.9M105.5 115.1h0.9M98.4 122.1h0.9M121 118.2h0.9M93 123.4h0.9M103.7 115.5h0.9M137.9 101h0.9M130.6 104.2h0.9M96.2 115.1h0.9M88.8 116h0.9M136.5 106.4h0.9M89.5 115.9h0.9M108.6 119.6h0.9M106.2 102.7h0.9M90.1 112.2h0.9M150.2 108.3h0.9M140.4 103.5h0.9M109 119.5h0.9M136.6 95.9h0.9M92.9 118.7h0.9M110 97.7h0.9M108.9 104.1h0.9M88.1 123.2h0.9M85.6 116.9h0.9M156.3 98.6h0.9M112.4 106.5h0.9M106.6 116.3h0.9M88.4 116.2h0.9M86.4 116.9h0.9M126.3 107.7h0.9M103.9 118.2h0.9M92.5 114.2h0.9M97.4 119h0.9M94.8 119.2h0.9M95.4 119h0.9M93 111.8h0.9M91.9 125.4h0.9M114.6 105.7h0.9M146.3 97.8h0.9M95.7 117.8h0.9M98 119.4h0.9M86.2 117.5h0.9M103.7 119.9h0.9M93 111.5h0.9M106 116.2h0.9M98.1 113.7h0.9M86.2 113.6h0.9M87.9 112.5h0.9M141.2 105.1h0.9M84.1 117.8h0.9M83.3 116.4h0.9M94.9 122.3h0.9M91.8 115.9h0.9M108.6 114.5h0.9M94.3 120.5h0.9M106.2 107.9h0.9M108.3 114.8h0.9M137.7 110.5h0.9M116.5 110.8h0.9M116.6 109.4h0.9M83.7 121.3h0.9M127.1 107.3h0.9M118.8 105.4h0.9M141.1 109.4h0.9M108.2 118.3h0.9M108.3 119h0.9M124.1 115.9h0.9M134.2 112.4h0.9M97.2 113h0.9M93.1 117.5h0.9M138.1 103.8h0.9M103.9 100.1h0.9M114.6 110.6h0.9M83.7 117.1h0.9M92 120.5h0.9M129.7 112.9h0.9M134.6 108.1h0.9M91.7 118.9h0.9M134.8 108.7h0.9M145.4 105.7h0.9M122.4 102.2h0.9M122.5 110.2h0.9M93 114.8h0.9M106.9 109.2h0.9M86 111.6h0.9M86.9 117.5h0.9M139.7 94.7h0.9M144.8 107.4h0.9M126.2 106.3h0.9M120.3 111.2h0.9M83.2 109.4h0.9M124.6 101.2h0.9M83.9 118.5h0.9M92.4 120.3h0.9M148.3 110.4h0.9M80.8 116h0.9M105 118h0.9M98.2 115.9h0.9M90.6 116.3h0.9M129.9 110.8h0.9M133.8 98.5h0.9M98.4 118.5h0.9M90.6 117h0.9M90.7 124.1h0.9M148 108.9h0.9M97.4 118.2h0.9M133.4 112.4h0.9M101.3 114.6h0.9M93.6 116.3h0.9M102 113h0.9M139.5 108.8h0.9M108.5 113.4h0.9M89.3 117.5h0.9M112.9 111.2h0.9M113.3 107.4h0.9M147.7 111h0.9M104.9 119.6h0.9M116.5 106.9h0.9M118 114.6h0.9M93.8 110.7h0.9M96.9 113.7h0.9M87.6 122.8h0.9M87.2 121.2h0.9M111.7 117.1h0.9M84.5 113.7h0.9M117.8 116.1h0.9M111.2 105.4h0.9M91.6 120.4h0.9M99.1 120.5h0.9M152.5 102.3h0.9M110.6 110.1h0.9M148.9 104.6h0.9M96.4 112.8h0.9M94.4 118.2h0.9M103.4 108.6h0.9M144.7 100.7h0.9M110.9 114.6h0.9M104.4 115.1h0.9M92.9 118.9h0.9M134.5 98.5h0.9M124.7 114.1h0.9M95.5 112.9h0.9M87.1 113.9h0.9M135.5 108.7h0.9M107.1 108.7h0.9M90 119.5h0.9M136.7 105.2h0.9M89.4 115.1h0.9M97.2 117.2h0.9M97.4 117.5h0.9M90.1 120h0.9M91.7 110.9h0.9M144.6 98.8h0.9M102.1 111.4h0.9M94.8 108.6h0.9M83.4 113h0.9M92.3 118.7h0.9M115.8 109.4h0.9M134 108.6h0.9M131 107.1h0.9M116.2 108.3h0.9M133 105.4h0.9M104.4 115.9h0.9M122 108.1h0.9M93 114.7h0.9M99.8 121.4h0.9M116.3 111.7h0.9M90 115.2h0.9M92.2 112.6h0.9M150.1 116h0.9M95.7 115.1h0.9M104.1 122.2h0.9M142.1 111.2h0.9M84.3 117h0.9M140.1 111.7h0.9M125.5 116.5h0.9M106.2 117.7h0.9M110.5 114h0.9M122.6 111.7h0.9M82 121.3h0.9M97.9 124.4h0.9M85.8 118.6h0.9M96.7 114h0.9M149.5 117.8h0.9M102.2 114.7h0.9M89.1 122.4h0.9M87 118.4h0.9M150.2 95.8h0.9M114.5 107.6h0.9M100.5 111.5h0.9M85.1 127.9h0.9M102.8 110.9h0.9M88.3 123.5h0.9M86.7 115.9h0.9M126.5 110.7h0.9M88.8 119.7h0.9M103.4 125.1h0.9M140.2 100.3h0.9M101.3 111.2h0.9M149.9 104.6h0.9M109.4 117.8h0.9M92.4 118.4h0.9M117.7 110.3h0.9M90.4 119.1h0.9M147 95.7h0.9M85.1 121.6h0.9M112.7 115h0.9M145.3 108.6h0.9M97.2 116.9h0.9M103.2 106h0.9M115.2 114.6h0.9M123.3 113.8h0.9M131.6 111.2h0.9M89.7 115.7h0.9M125.8 118.4h0.9M98.1 117h0.9M88.1 115.7h0.9M125.5 118.3h0.9M91.4 118.2h0.9M104.8 114.7h0.9M136 117.3h0.9M88.5 110.6h0.9M123.3 117.8h0.9M99.7 110.5h0.9M88.6 111.4h0.9M93 122h0.9M80.1 118h0.9M117.6 118.3h0.9M155.1 102.3h0.9M90 120.5h0.9M115.6 113.1h0.9M110.5 109.9h0.9M112.6 115.2h0.9M121.2 110.7h0.9M146.3 113.2h0.9M151.2 111.7h0.9M97 116.8h0.9M145.6 103.2h0.9M100.2 110.3h0.9M141.3 107.9h0.9M108.9 110.1h0.9M128.9 114.5h0.9M95.6 120.7h0.9M107.9 112.7h0.9M94.9 113.2h0.9M95.6 111.9h0.9M99.3 111.3h0.9M105.2 111.6h0.9M105 119.8h0.9M119.5 103.8h0.9M109.3 111.2h0.9M117.8 122.8h0.9M132.7 115.7h0.9M89.2 108.8h0.9M87.6 116.1h0.9M89.2 115.7h0.9M128.7 111.9h0.9M91.2 117.4h0.9M122.5 115.2h0.9M127.6 105.9h0.9M128.8 108.2h0.9M88.6 115.4h0.9M106.1 114.8h0.9M132.9 108.6h0.9M105.1 110.2h0.9M120.9 114.4h0.9M97.7 117.8h0.9M87.5 119.1h0.9M86.7 119h0.9M84.5 126.9h0.9M87.6 119.6h0.9M88.3 117.3h0.9M122.4 111.5h0.9M92.4 116h0.9M96.4 109h0.9M86.7 119h0.9M116.7 110.1h0.9M150.3 97.4h0.9M120.2 112.5h0.9M85.5 122.7h0.9M104.4 107.8h0.9M83.3 118.8h0.9M142.4 110.6h0.9M93.9 118.3h0.9M91.6 117.6h0.9M89 116.6h0.9M144.1 100.9h0.9M145.7 113.4h0.9M89.6 123.4h0.9M90.6 112.7h0.9M114.3 117.5h0.9M91.6 119.1h0.9M92.8 117h0.9M104.5 112.4h0.9M90.8 111.7h0.9M89.8 115.7h0.9M101.4 116.7h0.9M105.2 113.8h0.9M88.1 115.4h0.9M142.9 101.1h0.9M83.4 112.1h0.9M110.6 118.2h0.9M108 108.6h0.9M102.1 112.8h0.9M130.6 108.4h0.9M111.1 118h0.9M110.7 109.4h0.9M79.1 111.6h0.9M106 108.2h0.9M145.4 103.1h0.9M132.6 112.2h0.9M115.3 107.8h0.9M123.9 100.4h0.9M103.9 116.7h0.9M104.9 113.9h0.9M134.6 106.6h0.9M146 101.3h0.9M94.3 120.8h0.9M104.4 123.2h0.9M120.4 107.7h0.9M132.8 106.8h0.9M115.2 109.4h0.9M119.1 112.2h0.9M115 112.4h0.9M87.1 111.2h0.9M85 113.2h0.9M131.1 110.8h0.9M85.1 119.1h0.9M104.2 116.7h0.9M87.4 124.3h0.9M112.5 122.6h0.9M85.5 120.4h0.9M119.3 112.5h0.9M131.6 103.9h0.9M145.5 102.1h0.9M112.8 117.7h0.9M138.6 112.5h0.9M111.5 111.7h0.9M56.5 131.3h0.9M73.4 107.2h0.9M58.9 122.8h0.9M68.7 116.1h0.9M63.3 128.1h0.9M64.7 121.6h0.9M61.6 130.7h0.9M63.2 117.9h0.9M59.4 127.2h0.9M54.6 118.6h0.9M61 127.8h0.9M62 126.3h0.9M58.5 125.1h0.9M74.2 119.8h0.9M57 112.4h0.9M52.5 129.6h0.9M91.4 116.5h0.9M73.9 124.3h0.9M53.5 131.2h0.9M53.2 114.8h0.9M69 117h0.9M58.9 124.5h0.9M52.5 120.6h0.9M58.5 124h0.9M68.5 123.6h0.9M53.8 130.5h0.9M71.7 110.1h0.9M74.1 126.8h0.9M61 117h0.9M63.8 117.6h0.9M59.3 116.7h0.9M60.4 129.1h0.9M67.1 123.5h0.9M58.9 114.1h0.9M70 123h0.9M85.1 110h0.9M54.5 123h0.9M58.1 124.4h0.9M61.5 115.3h0.9M54.3 117.5h0.9M80.8 128.2h0.9M52.4 122.4h0.9M82.5 119.8h0.9M61.4 122h0.9M52.9 126.8h0.9M60.6 124.9h0.9M60.1 112h0.9M80.4 128.2h0.9M54.7 119.7h0.9M72.1 118.6h0.9M70.6 126h0.9M53 128.7h0.9M54.2 126.1h0.9M63.2 126.7h0.9M64.8 121.3h0.9M59.4 115.2h0.9M67.9 126.2h0.9M63.6 127.8h0.9M67.8 125.4h0.9M53.9 128.8h0.9M54.9 130.6h0.9M60.7 115.5h0.9M64.2 114.8h0.9M65.3 124.8h0.9M55.5 124.2h0.9M72.2 116.9h0.9M60.9 117.2h0.9M54.2 121.1h0.9M61.8 125.1h0.9M92.2 123.7h0.9M53.4 121.2h0.9M73.7 127.4h0.9M61.1 130h0.9M72.6 121.3h0.9M58.8 117.1h0.9M54.2 130.2h0.9M64 115.7h0.9M66.6 129.9h0.9M61.2 126.3h0.9M56.4 123.3h0.9M59 117.3h0.9M53.4 129.6h0.9M60.8 125.4h0.9M60.4 130.8h0.9M59.6 126.7h0.9M55.4 126.3h0.9M66.1 126.6h0.9M63.5 127.4h0.9M56.3 124.1h0.9M68.8 121.4h0.9M58.1 112.7h0.9M53.9 111.9h0.9M55.4 131.5h0.9M52.7 124.1h0.9M64.2 126.9h0.9M58.2 118.8h0.9M66.8 123.1h0.9M57 119.2h0.9M56 119.8h0.9M54.6 126.4h0.9M71.2 128h0.9M59.5 118.3h0.9M83.4 127.4h0.9M66.4 102.2h0.9M65.7 126.9h0.9M62.4 113.3h0.9M57.8 122.1h0.9M82.5 113.6h0.9M73.2 114.8h0.9M54.8 126.7h0.9M60.9 118.1h0.9M56.1 127.5h0.9M55.3 118.2h0.9M62 129h0.9M64.2 118.8h0.9M53.8 126.5h0.9M55.2 120.8h0.9M72 113.4h0.9M89.3 127.5h0.9M76.8 110.8h0.9M65.4 118.7h0.9M60.9 121.7h0.9M66.5 115.3h0.9M56.7 120.4h0.9M53.5 127h0.9M52.5 124.8h0.9M82.6 127.2h0.9M66.5 125.5h0.9M60.5 124.2h0.9M70.4 125h0.9M77.5 125.6h0.9M54.7 128.9h0.9M57.5 111.9h0.9M55.2 118.9h0.9M71.1 127.4h0.9M77 127.4h0.9M68.8 125.5h0.9M58.1 118.3h0.9M58 124.2h0.9M57.8 127.9h0.9M55.2 130.5h0.9M53.8 128.9h0.9M55.1 121.2h0.9M57 127h0.9M57 122.7h0.9M66.4 127.7h0.9M71.9 115.2h0.9M62.3 128.2h0.9M59.6 123.3h0.9M53 129.3h0.9M65.1 110.9h0.9M62 117.3h0.9M56.8 124h0.9M61.1 120.6h0.9M81 120.6h0.9M62.3 123.7h0.9M62.3 122.6h0.9M70.2 121.4h0.9M61.5 107h0.9M68.4 127.5h0.9M76.6 127.3h0.9M61.9 108.4h0.9M60.6 129.1h0.9M57.6 128.4h0.9M67.5 126.6h0.9M52.7 128.1h0.9M63.9 128.3h0.9M52.8 122.2h0.9M62.4 130.4h0.9M63.4 120.2h0.9M75.1 125.1h0.9M62.1 113.1h0.9M55.7 127.3h0.9M87.8 114.6h0.9M66.9 129.4h0.9M61.5 125.4h0.9M76 123h0.9M69.4 127.9h0.9M53.6 125.2h0.9M60.8 115.7h0.9M55.1 124.1h0.9M74.3 110h0.9M55.4 129.4h0.9M72.5 124.6h0.9M79.3 120.1h0.9M60.2 125.5h0.9M61 126.9h0.9M53.1 119.5h0.9M63.5 128.9h0.9M55.8 122.8h0.9M61.5 125.7h0.9M63.5 124.2h0.9M74.9 100.9h0.9M53.4 131.3h0.9M60.6 125h0.9M63.7 125.7h0.9M72.8 126h0.9M60.4 125.4h0.9M56.5 116.4h0.9M65.1 125h0.9M87.2 112.8h0.9M65.8 113.3h0.9M56 121.7h0.9M62.6 127.3h0.9M86.2 126.2h0.9M59.8 117h0.9M65.3 121h0.9M52.7 118.5h0.9M58.5 104.6h0.9M67.7 128.7h0.9M65.3 127.1h0.9M88.7 124.4h0.9M53.9 131.2h0.9M53 129.6h0.9M82.1 119.5h0.9M74.7 128.2h0.9M73.5 110.5h0.9M77 121.3h0.9M54.4 126.1h0.9M60.1 123.8h0.9M75.2 119.4h0.9M69.5 129.9h0.9M60.5 128h0.9M59.5 120h0.9M53.7 131.2h0.9M55.8 114.8h0.9M60.5 124.5h0.9M58 130.5h0.9M70.9 128.1h0.9M59.6 119.7h0.9M73.6 128.1h0.9M57.4 130.2h0.9M54.6 126.1h0.9M63.8 108.9h0.9M53.5 128.3h0.9M55.4 117h0.9M70.8 115.5h0.9M88.9 126.1h0.9M64.5 125.5h0.9M65.2 123.2h0.9M66.4 124.3h0.9M65.7 123.4h0.9M59.4 115.9h0.9M65.9 112.8h0.9M54.7 124.8h0.9M56.9 127.9h0.9M71.8 123.2h0.9M53.8 123.7h0.9M71.9 115.3h0.9M58.8 120.4h0.9M56.9 129.5h0.9M52.1 131.9h0.9M75.9 123.4h0.9M65.6 127.1h0.9M52.2 121.9h0.9M64.7 125.1h0.9M55.8 123.1h0.9M67.8 117.8h0.9M66.1 126.5h0.9M54.5 129.2h0.9M55.6 131.6h0.9M55.3 125.5h0.9M64.6 120h0.9M53.4 125.1h0.9M61.3 127.7h0.9M52.2 123.8h0.9M55.2 121h0.9M57.9 107.2h0.9M56.9 120.8h0.9M74.4 124.1h0.9M65.8 127.1h0.9M81.2 104h0.9M68.2 125.6h0.9M63.9 119.4h0.9M62.4 126.5h0.9M56.1 124.7h0.9M63.6 125.4h0.9M56 118.4h0.9M57.2 121.7h0.9M74.7 116.1h0.9M56.7 124.7h0.9M60.2 116.8h0.9M79.1 117.1h0.9M58.1 107.8h0.9M64.9 129.2h0.9M73.8 125.2h0.9M60.2 119.4h0.9M55 106.3h0.9M54.5 122h0.9M55.4 123.9h0.9M67.8 120.7h0.9M81 123.9h0.9M52.5 129.2h0.9M52.3 131.9h0.9M55.7 110.8h0.9M56.9 128.8h0.9M63.1 114.6h0.9M66.2 124.9h0.9M62.3 124.6h0.9M56.7 121.6h0.9M53.4 120.2h0.9M60.5 122.7h0.9M57.2 122.7h0.9M83.2 126.4h0.9M54.3 127h0.9M70.5 117.7h0.9M64.4 125.3h0.9M64.4 124.1h0.9M65.5 125.4h0.9M56.2 118.3h0.9M64 127.7h0.9M60.8 129.1h0.9M59.3 130.7h0.9M82.6 122.2h0.9M59.1 127.5h0.9M76.1 127.3h0.9M60.9 121.8h0.9M53.8 126.7h0.9M80.9 108.4h0.9M68.3 119.7h0.9M52.9 131.5h0.9M57.4 119.7h0.9M70.1 128.7h0.9M83.7 120.5h0.9M75.3 128.7h0.9M71.5 121.9h0.9M60.1 117.5h0.9M60.2 129.5h0.9M71.3 126.6h0.9M67.7 119.6h0.9M54.3 124.3h0.9M78.7 119.7h0.9M57.5 119h0.9M77.5 127.4h0.9M60.3 127.1h0.9M81.1 112.5h0.9M63.6 121.2h0.9M66.1 127.8h0.9M60.1 128.6h0.9M53.3 119.3h0.9M62.1 114.9h0.9M73.7 112.9h0.9M54.8 120.1h0.9M52.3 107.7h0.9M54.3 127.4h0.9M54.4 129.3h0.9M53 129.2h0.9M65.5 116.8h0.9M64.4 129.5h0.9M54.1 117.7h0.9M64.1 121h0.9M66.7 119.3h0.9M69.1 128.3h0.9M57.9 117.9h0.9M57.2 120.3h0.9M56.6 127.3h0.9M69.1 126.2h0.9M53.4 129.2h0.9M63 106.6h0.9M65.4 118.7h0.9M58.5 120.7h0.9M60.8 127.2h0.9M61.4 127.5h0.9M60.3 121.9h0.9M67.3 122.3h0.9M64.5 122h0.9M59.5 125.5h0.9M77.3 117.6h0.9M62.4 118.7h0.9M62.7 125.6h0.9M83.4 115.2h0.9M54.2 130h0.9M65.6 124.7h0.9M79.3 113.5h0.9M64.4 129.2h0.9M60.2 115.8h0.9M65.4 118.3h0.9M59.5 121.4h0.9M58.6 127.4h0.9M77.8 127.3h0.9M54.1 124.2h0.9M70.8 120.2h0.9M56.3 117.6h0.9M55.4 115.1h0.9M56.4 126.4h0.9M69.1 110.2h0.9M65 117.9h0.9M62.3 121.9h0.9M73.4 126.9h0.9M71.9 126.6h0.9M65.5 129.2h0.9M73.6 124h0.9M62.1 110.5h0.9M62 110.5h0.9M57.2 124.3h0.9M63.1 119.1h0.9M61.2 126.8h0.9M61 126.7h0.9M74.8 126h0.9M76.3 123.2h0.9M67 109.4h0.9M52.8 127.6h0.9M53 115.7h0.9M53.3 128.6h0.9M62.6 128.9h0.9M58.6 131.1h0.9M60.5 123.9h0.9M71.9 118.3h0.9M61.4 110.2h0.9M63.8 127.3h0.9M66.7 127.2h0.9M73.3 118.7h0.9M68.5 112.9h0.9M71.6 127.5h0.9M66.9 129h0.9M61.2 121.6h0.9M68.9 116.5h0.9M56.2 118.5h0.9M53.8 113.7h0.9M63.4 130.4h0.9M54.2 123.2h0.9M57.2 125.6h0.9M55 123.8h0.9M55.8 117.2h0.9M63 114h0.9M63.7 120.8h0.9M58.6 125.6h0.9M52.8 130.1h0.9M67.4 127h0.9M55.8 126.5h0.9M53.3 127.4h0.9M63.2 122.9h0.9M59.5 127.9h0.9M56.1 120.3h0.9M55.6 125.8h0.9M56.3 128.3h0.9M62 123.4h0.9M62.1 112.2h0.9M54.2 128.3h0.9M66.1 128.7h0.9M58.3 128.9h0.9M95 109.8h0.9M73.3 125.6h0.9M68.6 122.3h0.9M77.6 124.8h0.9M86 128.5h0.9M55.7 127.7h0.9M59.3 127.9h0.9M52.6 109.9h0.9M66.8 125.4h0.9M62.7 121.3h0.9M55.8 127.5h0.9M56 116.6h0.9M74.3 106.2h0.9M77 117.8h0.9M80.8 111.7h0.9M53.5 131.2h0.9M70.1 126h0.9M57.2 130.2h0.9M74.4 110.4h0.9M70.8 126.4h0.9M54.1 123.1h0.9M55 124.7h0.9M67.8 122.3h0.9M52.8 129.1h0.9M56 125h0.9M70.6 124.5h0.9M69.6 125.7h0.9M68.3 117.7h0.9M54.7 130.7h0.9M84.9 122.7h0.9M52.2 127.1h0.9M63.4 123.9h0.9M53.6 128.3h0.9M61.2 125.9h0.9M57.2 117.4h0.9M69.7 114.5h0.9M52.4 124.1h0.9M63.2 125.1h0.9M61 126.1h0.9M75 117.2h0.9M53.1 126.3h0.9M68.7 123.1h0.9M74.3 124.9h0.9M62.7 128.8h0.9M62.3 126.6h0.9M54.5 112.5h0.9M55.3 131h0.9M71.8 126.9h0.9M52.6 129.2h0.9M61.4 92.7h0.9M80.2 126.7h0.9M64.1 129.7h0.9M54.7 121.6h0.9M80.9 118.8h0.9M53.3 102h0.9M63.3 112.5h0.9M60.4 126.3h0.9M79 125.6h0.9M71.4 119.7h0.9M52.8 127.1h0.9M60.3 127.4h0.9M55.3 126.4h0.9M57.8 125.4h0.9M74.9 128.4h0.9M71.3 109.8h0.9M58.1 117.1h0.9M70 120.7h0.9M66.9 126.4h0.9M75.3 128.2h0.9M79.8 109.8h0.9M58 119.3h0.9M56.7 129.2h0.9M61.1 127.8h0.9M53.6 112.2h0.9M52.8 113h0.9M59.9 117.9h0.9M52.4 123h0.9M57.9 128.1h0.9M54.9 125.9h0.9M69.6 106.6h0.9M66.3 123.6h0.9M55.6 125h0.9M53.3 125.6h0.9M60.2 107.8h0.9M56.2 125.9h0.9M73 113.9h0.9M72.4 129.1h0.9M62.9 123.3h0.9M58.6 118.2h0.9M52.7 127.5h0.9M52.9 129.9h0.9M56.1 107.8h0.9M55.7 111.2h0.9M63.5 128.9h0.9M69.6 125.2h0.9M52.7 129.7h0.9M59.9 126.7h0.9M57.9 124.9h0.9M55.8 129.8h0.9M55.6 123.9h0.9M55.1 118.7h0.9M73.6 128.2h0.9M54.1 114h0.9M59.6 129.2h0.9M57.5 119.4h0.9M55.2 125.9h0.9M60.3 113.5h0.9M67.1 116h0.9M79.1 112.4h0.9M64.1 127.4h0.9M54 127.8h0.9M53.3 124.8h0.9M55.9 129.7h0.9M55.7 120.9h0.9M53 131.4h0.9M60.9 126.9h0.9M65 129.8h0.9M92.6 116.5h0.9M72.7 126h0.9M55.7 127.7h0.9M63.7 129.8h0.9M54.9 129.2h0.9M54.4 130.4h0.9M58.2 117.2h0.9M53.6 128.8h0.9M56.5 130.5h0.9M65.5 129.8h0.9M65.8 114.6h0.9M68.1 123.3h0.9M63.7 125.9h0.9M62.7 129.3h0.9M55.1 119.9h0.9M73.5 125.6h0.9M63.4 123.7h0.9M76.4 127.4h0.9M58.9 121.1h0.9M59.1 129.4h0.9M72.6 112.8h0.9M56 116.9h0.9M67.7 129.3h0.9M65.4 106.3h0.9M66.3 129.3h0.9M58.7 120.9h0.9M53.8 110.8h0.9M58.7 130.4h0.9M61.2 113.9h0.9M64.7 119.3h0.9M60.3 122.9h0.9M66.9 126.9h0.9M70.4 111.2h0.9M79.8 113.5h0.9M53.5 117.9h0.9M62.1 104.4h0.9M64.6 124.4h0.9M57.5 120.7h0.9M68.7 115.2h0.9M56.5 115.5h0.9M58.8 124.7h0.9M62.5 124.3h0.9M62.2 116.9h0.9M76.8 127h0.9M67.5 118.7h0.9M76.7 115h0.9M68 128.4h0.9M57.3 124.7h0.9M62.8 116h0.9M69.7 102.4h0.9M57.6 115.6h0.9M52.2 130.5h0.9M65.4 112.9h0.9M66.8 116.5h0.9M66.9 107.1h0.9M61.4 123.6h0.9M59.9 126.5h0.9M86.5 120.6h0.9M59.7 127.7h0.9M57.6 120.7h0.9M85.3 122.8h0.9M57.4 119.9h0.9M75.2 128.4h0.9M55.7 122.8h0.9M71.1 118.9h0.9M56.2 121.2h0.9M80 126.3h0.9M57.1 119.2h0.9M60.4 108.6h0.9M62.8 129.2h0.9M56 124.5h0.9M73.7 121.7h0.9M69.6 127.1h0.9M68.4 128h0.9M56.9 122.6h0.9M69.3 124.9h0.9M71.3 127.4h0.9M60.2 117.8h0.9M67.5 127h0.9M57.8 129.9h0.9M65.4 129.3h0.9M64.5 127h0.9M70.6 121.8h0.9M58.8 130.9h0.9M52.7 131.1h0.9M56.5 115h0.9M60.3 129.3h0.9M65.9 116.8h0.9M69.9 126.9h0.9M59 122.4h0.9M58.8 122.3h0.9M67.4 107.9h0.9M106.9 36.5h0.9M78.8 69.6h0.9M74.4 10.6h0.9M53.4 25.2h0.9M111.7 102h0.9M136.9 110.7h0.9M138.1 30.2h0.9M90 98.9h0.9M75.2 29.5h0.9M98.8 64.6h0.9M118.5 12.8h0.9M97.6 58.7h0.9M93.4 104.7h0.9M105.2 38.7h0.9M84.6 29.1h0.9M54.2 30.2h0.9M107.2 34.7h0.9M78.9 120.1h0.9M74.5 14.1h0.9M61.1 24.5h0.9M92.4 64.1h0.9M134 45.1h0.9M61.8 124.4h0.9M75.6 54.2h0.9M76.3 37h0.9M79.2 79.7h0.9M78.9 126.9h0.9M98.1 67.1h0.9M112.6 67h0.9M74.4 18.4h0.9M105.9 25.5h0.9M59.5 116.2h0.9M79.1 22h0.9M149.3 69.4h0.9M159.6 58.3h0.9M54.5 53.8h0.9M69.7 129h0.9M58.9 36.4h0.9M86.3 62.2h0.9M81.8 129.3h0.9M77.1 75.7h0.9M102.4 96.4h0.9M69.5 79.5h0.9M65.7 117.8h0.9M78.3 109.5h0.9M93.2 27.2h0.9M89.4 88.4h0.9M89.2 93.5h0.9M103.1 97.1h0.9M66.7 50.5h0.9M103.4 47.5h0.9M66.6 82.2h0.9M68.2 58.6h0.9M147.2 89.1h0.9M60.7 35h0.9M78.8 63.9h0.9M87.6 66h0.9M62.2 33h0.9M70.5 9.8h0.9M143.8 87.9h0.9M58.1 103.4h0.9M128.7 24.6h0.9M70.7 89h0.9M99.2 63h0.9M69.5 52.7h0.9M85.8 121.3h0.9M113.2 16.5h0.9M55.9 19.7h0.9M76.3 100.7h0.9M151.5 69.4h0.9M102.1 39.6h0.9M76.7 80.4h0.9M110.2 90h0.9M107.7 100.1h0.9M77.1 74.8h0.9M113.8 110.1h0.9M80.7 7.9h0.9M107 106.8h0.9M92.3 66h0.9M93.8 52.2h0.9M63.5 21.2h0.9M84.8 39.5h0.9M99.1 125.4h0.9M103.3 102.8h0.9M59.8 60.9h0.9M72.3 85.7h0.9M69.9 29.5h0.9M82 82.9h0.9M120 114.6h0.9M95.9 106.7h0.9M93.3 51.9h0.9M117.6 35h0.9M104.8 78h0.9M92.2 29.1h0.9M90.1 82.6h0.9M112.4 96.7h0.9M111 110.8h0.9M133.1 16.9h0.9M108.5 33.1h0.9M140.8 20.4h0.9M111.6 85.5h0.9M143.5 84.4h0.9M152.6 45h0.9M80.9 73.8h0.9M117.4 30.9h0.9M81.9 81.1h0.9M74.2 62.5h0.9M87.1 128.9h0.9M113.6 26.2h0.9M156.3 21.5h0.9M68.1 9.2h0.9M122.2 98.9h0.9M99.2 104.9h0.9M62.8 81h0.9M90.2 69.5h0.9M105 20.3h0.9M115.7 93.8h0.9M109.9 17.7h0.9M114.1 115h0.9M126.4 37.9h0.9M156.8 34.1h0.9M153.2 111.4h0.9M137.7 52.2h0.9M95.5 72.3h0.9M153.6 19.6h0.9M140.5 116.3h0.9M86 67.9h0.9M65.8 80.6h0.9M94.4 8.5h0.9M65.1 26.5h0.9M88.4 100.8h0.9M99.3 49h0.9M91.1 117.8h0.9M63.4 74.7h0.9M67.4 120.9h0.9M121.7 78.2h0.9M99.5 41.1h0.9M52.9 103.3h0.9M77.3 12.6h0.9M97.4 83.2h0.9M108.5 71.5h0.9M63.7 128.1h0.9M90.3 60.9h0.9M79.9 53.7h0.9M133.4 8.8h0.9M87 71.2h0.9M94.7 92.1h0.9M60.7 74.8h0.9M111.5 89.3h0.9M64.9 75.8h0.9M70.2 43.9h0.9M77.8 90.4h0.9M95.5 88.7h0.9M135.5 55.1h0.9M60.1 91.6h0.9M84.9 27.4h0.9M112.9 93.2h0.9M59.8 41h0.9M105.5 30.3h0.9M63 45.4h0.9M113.7 73.7h0.9M58.7 89.6h0.9M64.5 110h0.9M92.9 110.2h0.9M84 94.1h0.9M105.2 51.1h0.9M91.4 100.9h0.9M62.4 31.7h0.9M82.8 98h0.9M154.6 14.1h0.9M112.2 86.3h0.9M95.3 38.9h0.9M76.1 80h0.9M151.9 29.7h0.9M86.3 74.4h0.9M79.3 107.1h0.9M96.7 47.4h0.9M148.1 93.2h0.9M87.5 32.9h0.9M124.3 94.8h0.9M82.3 119.8h0.9M126.3 105.4h0.9M134.9 111.8h0.9M105.9 102.5h0.9M122.6 27.7h0.9M152.2 47.6h0.9M131.5 27.4h0.9M106.1 12.1h0.9M105.9 55.1h0.9M74.9 79.5h0.9M116.7 43.7h0.9M88.5 71.4h0.9M87.3 93.6h0.9M74.2 27h0.9M64.2 115.7h0.9M93 72.5h0.9M101.4 38.8h0.9M78.5 38.6h0.9M88 11.5h0.9M85.3 110.8h0.9M77 103.8h0.9M151.7 41.5h0.9M63.3 39.9h0.9M59.5 73.9h0.9M65.2 79h0.9M92.3 21.9h0.9M75.7 49h0.9M149.6 37.9h0.9M110.9 53h0.9M84 114.6h0.9M63.4 30.2h0.9M110.1 112.3h0.9M84.8 40.5h0.9M63.7 33.9h0.9M62.4 30.6h0.9M113.5 67.7h0.9M76.3 84.2h0.9M99.4 119.2h0.9M79.5 67.1h0.9M90.3 9.3h0.9M73 91.4h0.9M64.3 43h0.9M87.1 26.2h0.9M60.9 76.3h0.9M95.6 80.4h0.9M82.6 34.5h0.9M108 102.4h0.9M59.1 43.1h0.9M77.8 69h0.9M129 63h0.9M124.7 30.5h0.9M92.4 104.3h0.9M80.8 81.1h0.9M105 56.2h0.9M138.6 77.8h0.9M92.7 16.6h0.9M124.6 118h0.9M106.6 111.6h0.9M60.6 114.6h0.9M94.2 18.8h0.9M86.7 112.4h0.9M86.2 88h0.9M160.2 63h0.9M122.3 33.9h0.9M142.5 14.1h0.9M89.4 100.1h0.9M64.5 125.4h0.9M147.4 31.8h0.9M96.3 124.5h0.9M100.7 106.9h0.9M77.8 91.1h0.9M59.8 70.3h0.9M102.6 19.3h0.9M59.8 77.2h0.9M114.2 124.1h0.9M118.8 116.1h0.9M75.1 63.9h0.9M71.4 103.2h0.9M94.3 87.2h0.9M116.6 43.9h0.9M60.6 46.2h0.9M117.6 96.8h0.9M131.4 91.9h0.9M72.7 77.8h0.9M53.4 116.1h0.9M146.5 63.5h0.9M99 45.1h0.9M121.7 121.8h0.9M138.3 87.9h0.9M130.3 110.8h0.9M112.7 46.4h0.9M88.6 34.7h0.9M69.8 20.4h0.9M84.4 34.7h0.9M94.1 114.4h0.9M136.8 90.5h0.9M82.9 95.6h0.9M88.6 44.4h0.9M66.4 59.9h0.9M67.5 102.7h0.9M102.2 69.5h0.9M97.8 60.3h0.9M81.1 36.6h0.9M106.5 72.6h0.9M76.4 65.2h0.9M81 128.8h0.9M114.8 89h0.9M71.5 36.7h0.9M82.6 93.8h0.9M66.5 105.9h0.9M109.3 23h0.9M92.3 102.3h0.9M104.1 104.9h0.9M60.2 129.7h0.9M107.7 60.2h0.9M88.4 120.6h0.9M58.7 110.8h0.9M117.2 73.3h0.9M80.7 56h0.9M83.4 44h0.9M146.2 120.1h0.9M137.2 22.5h0.9M117.7 23.9h0.9M105.8 16.5h0.9M126.6 120.6h0.9M101.9 55.1h0.9M72.4 12h0.9M117.9 71.5h0.9M56.3 45.6h0.9M77.6 24.1h0.9M53 117.1h0.9M107.2 94.4h0.9M59.9 30.6h0.9M93.9 82.7h0.9M134.7 33.4h0.9M81.2 36.5h0.9M87.2 39.5h0.9M97.6 58.3h0.9M81 68.9h0.9M80 17.3h0.9M78.5 109.3h0.9M99.5 11.8h0.9M154.1 13.7h0.9M128.5 51.9h0.9M101.1 50.4h0.9M157 10.6h0.9M100.2 7.3h0.9M130.7 23.4h0.9M112.6 87.4h0.9M96.4 32.9h0.9M124.4 98.7h0.9M143.8 48.2h0.9M99.1 113.9h0.9M57.3 98.8h0.9M110.2 107.2h0.9M91.4 31.2h0.9M84.6 28h0.9M105.7 74.7h0.9M77.5 106.3h0.9M81.3 89.4h0.9M103.2 75.3h0.9M84.4 21.6h0.9M85.1 14.1h0.9M92.8 47.4h0.9M82.7 92.5h0.9M101.5 83.9h0.9M132.4 100.5h0.9M80.9 91.5h0.9M115 107.3h0.9M139.2 29.2h0.9M109.3 47.2h0.9M77.2 20.1h0.9M115.2 35.3h0.9M89 96.8h0.9M73.9 54.3h0.9M79.3 87.4h0.9M116.4 70.1h0.9M86.3 104.9h0.9M68.7 70.8h0.9M105.4 33h0.9M95.6 57.2h0.9M55.9 21.6h0.9M134.7 59.1h0.9M58.5 106.1h0.9M102.9 103.8h0.9M78.2 30.1h0.9M160.7 89.6h0.9M66.6 104.1h0.9M154.4 11.7h0.9M79.3 99.2h0.9M123.6 123.4h0.9M87.2 80.4h0.9M85.9 96.3h0.9M59 51.2h0.9M94.7 47.1h0.9M89.3 26.4h0.9M131 14.5h0.9M119.6 70.5h0.9M60.2 32.8h0.9M154.5 29h0.9M83.9 18.1h0.9M89.5 93.7h0.9M113.1 28.9h0.9M97.7 103.3h0.9M62.8 92.9h0.9M106 24h0.9M72.9 70.6h0.9M91.4 126.8h0.9M68.9 116.2h0.9M118.5 63.5h0.9M87.4 100.7h0.9M63.2 80.5h0.9M111.3 92.3h0.9M71.3 110.6h0.9M86 95.5h0.9M64.5 110.9h0.9M93.1 69.7h0.9M91.6 51.5h0.9M80.3 32.7h0.9M110.2 80.6h0.9M64.5 35.5h0.9M111.8 56h0.9M94.2 121.5h0.9M106.1 84.3h0.9M97.4 8.1h0.9M80 91.6h0.9M80.9 54.8h0.9M103.6 102.8h0.9M108.7 76.2h0.9M78.5 88.7h0.9M132.4 83.1h0.9M67 99.2h0.9M102.2 31.6h0.9M88.4 30.6h0.9M104.1 47.3h0.9M104.3 46h0.9M126.8 30h0.9M152 99.7h0.9M67.7 37.9h0.9M98.8 115.3h0.9M62.8 18.5h0.9M95.3 60.1h0.9M93.2 117.1h0.9M87.5 52h0.9M52.5 81h0.9M84.4 21.6h0.9M93.1 63.9h0.9M89.1 111.9h0.9M73.9 61.7h0.9M67.4 122.1h0.9M97.7 41.4h0.9M101.4 110.1h0.9M93.6 28.3h0.9M116.6 69.4h0.9M152.8 115.1h0.9M125.5 29.7h0.9M101.7 119.9h0.9M59.7 68.7h0.9M92 91.7h0.9M96.7 106.6h0.9M76.1 21.6h0.9M74.1 127h0.9M92.2 103.4h0.9M109.4 79h0.9M150.2 108.6h0.9M114.6 87.5h0.9M104.7 99.3h0.9M152.9 87.2h0.9M103.9 123.6h0.9M78.6 105.1h0.9M99.1 15.5h0.9M78.3 101.5h0.9M153.4 68h0.9M154.9 20.1h0.9M121.9 12.2h0.9M97.6 18.9h0.9M86.4 34.7h0.9M105.7 124.7h0.9M70.2 81.6h0.9M85.8 96.5h0.9M119.7 74.3h0.9M84.3 21.1h0.9M63.7 104.8h0.9M57.4 96.6h0.9M94.9 95.1h0.9M84.5 29.6h0.9M83.2 37.6h0.9M90.9 32.8h0.9M96.4 88h0.9M105.7 23.5h0.9M97.2 65.7h0.9M112.1 77.9h0.9M95.1 88.1h0.9M79.5 31.8h0.9M74.7 35.9h0.9M70 75.3h0.9M59.2 27.3h0.9M151.7 110.2h0.9M97.3 79.9h0.9M80.2 41h0.9M108.3 51h0.9M137.6 111.1h0.9M99.7 107.1h0.9M120.7 82.8h0.9M81.8 78h0.9M63.9 110.3h0.9M115.2 30.4h0.9M104.1 31.4h0.9M83.7 9.5h0.9M117.7 95.6h0.9M102.2 109.1h0.9M142 33.5h0.9M79.2 77.9h0.9M89.4 76.9h0.9M135.1 33h0.9M115.5 75.8h0.9M119.2 104.7h0.9M71.5 97.9h0.9M126.8 52.7h0.9M89.7 29.2h0.9M83.1 43.1h0.9M136.2 92.1h0.9M127.2 24.6h0.9M102.4 63.9h0.9M88.5 108.1h0.9M94.2 88.3h0.9M63.8 109.3h0.9M90.1 73.3h0.9M95.7 102.5h0.9M62.5 31.4h0.9M81 78h0.9M63 39.7h0.9M72.7 17.9h0.9M105 87.7h0.9M78.9 63.8h0.9M108.9 99.9h0.9M85.3 46.4h0.9M77.5 121.5h0.9M84.2 50.2h0.9M107 42.7h0.9M93.1 18.7h0.9M68.6 102.3h0.9M113.6 52.5h0.9M83.1 86.6h0.9M112.4 105.4h0.9M89.5 45.7h0.9M96.9 25h0.9M77.2 35h0.9M109.3 108.4h0.9M101 42.8h0.9M82.5 42.3h0.9M68.7 120.7h0.9M94.9 86.2h0.9M91.5 63.2h0.9M122.4 98.8h0.9M139.6 124h0.9M95.3 23.3h0.9M89 53.4h0.9M98.8 27.4h0.9M100.1 69h0.9M96.3 107.3h0.9M136 20.6h0.9M120.3 35.2h0.9M85.3 116.8h0.9M101.3 93.2h0.9M66.5 110.6h0.9M69.3 63.8h0.9M69.3 46.3h0.9M88.5 78.9h0.9M73.4 15.7h0.9M118.5 19.5h0.9M93 31.3h0.9M82.6 29.6h0.9M104.5 70.8h0.9M65.2 15.7h0.9M108.3 10.4h0.9M122.8 100.6h0.9M118 99.5h0.9M69.6 74.7h0.9M88.7 11.3h0.9M105.2 119.7h0.9M86.1 50.9h0.9M94.9 64.3h0.9M124.3 60.3h0.9M121.3 108.4h0.9M99.7 103.5h0.9M136.8 40.1h0.9M93.4 128.3h0.9M115.6 29.2h0.9M75.5 86.5h0.9M79.2 59.9h0.9M91.2 84.8h0.9M57 125.9h0.9M134.7 24.4h0.9M124 96.3h0.9M69.9 26.7h0.9M82.6 55.3h0.9M137.6 106.7h0.9M59 30.5h0.9M101.2 65.5h0.9M87.5 15.7h0.9M90.2 53.5h0.9M91.2 84.8h0.9M90.6 112.3h0.9M108.2 27.6h0.9M65.6 126.5h0.9M103.2 124.5h0.9M109.8 102.1h0.9M87.9 26.5h0.9M78.8 128.3h0.9M142.6 92.1h0.9M89.5 98.5h0.9M128.5 93.5h0.9M100.1 9.9h0.9M82.4 74.6h0.9M71.3 103.2h0.9M75.2 52.5h0.9M92.5 33.5h0.9M92.2 19.8h0.9M156.1 80.3h0.9M71.9 21.9h0.9M153.5 17.5h0.9M143.2 80.2h0.9M97.9 82.8h0.9M156.5 55.3h0.9M62.2 121.7h0.9M55 125.5h0.9M87.4 14.3h0.9M73.8 34.5h0.9M75.2 125h0.9M85.6 69.3h0.9M81.4 78.8h0.9M105.8 31.5h0.9M84.1 54.7h0.9M96.5 91h0.9M67.3 13.2h0.9M92.7 42.1h0.9M156.8 17.4h0.9M127.9 18.8h0.9M84.8 109.6h0.9M105.6 10.1h0.9M76.6 56.4h0.9M92.4 98.4h0.9M55.4 64.6h0.9M73.2 107.2h0.9M114.8 100.3h0.9M52.6 90.5h0.9M88.8 94.8h0.9M58.7 97.8h0.9M58.2 104.3h0.9M78.2 102.3h0.9M85.1 87.9h0.9M76.9 110.7h0.9M90.8 77.1h0.9M101.1 91.4h0.9M66.4 94.2h0.9M140.1 77.9h0.9M76.8 88.3h0.9M65.2 102.8h0.9M53.7 93.7h0.9M73.2 90.3h0.9M80.9 90.6h0.9M104.8 96.7h0.9M78.3 91.7h0.9M91.6 109.8h0.9M87.4 80.3h0.9M107.3 101.8h0.9M65.4 89.5h0.9M100.2 92.6h0.9M105.1 87.3h0.9M116.5 90.4h0.9M115.2 76.2h0.9M111.1 82.4h0.9M102.9 76.4h0.9M88.7 79.8h0.9M102.9 86.5h0.9M105.7 100.5h0.9M102.8 83.1h0.9M109.6 96.9h0.9M104.7 105.3h0.9M86.7 78h0.9M118.9 77.3h0.9M122.7 89.1h0.9M96.3 97.3h0.9M114.5 92.2h0.9M94.1 103.3h0.9M80.3 78.1h0.9M85.8 81.4h0.9M81.5 104.6h0.9M123.9 88.6h0.9M76.7 106.9h0.9M65 92.2h0.9M88.1 100.8h0.9M90 102.2h0.9M102.1 77.4h0.9M93.2 76.7h0.9M97.8 106.3h0.9M104.6 91.5h0.9M91 88h0.9M113.8 110.3h0.9M58.4 83h0.9M92 82.2h0.9M111.1 106.6h0.9M76.7 88.6h0.9M89.1 107h0.9M70.7 86.7h0.9M127.3 94.1h0.9M93 91.6h0.9M101 95.5h0.9M104.4 88.2h0.9M99.4 92h0.9M95.3 84h0.9M85.2 78.2h0.9M83.9 97.1h0.9M54.2 81.8h0.9M86.6 93.4h0.9M108.3 106.1h0.9M61.3 104.6h0.9M65.7 89.4h0.9M75.5 81.1h0.9M84.5 106h0.9M88.7 79.9h0.9M80.6 101.4h0.9M78.8 87.4h0.9M62.8 84h0.9M84.8 90.3h0.9M106.2 86.1h0.9M73.5 89.1h0.9M96.3 107.6h0.9M70.1 87.1h0.9M82.9 99.4h0.9M112.9 99.7h0.9M96.8 108.3h0.9M128.8 93.4h0.9M99 105.9h0.9M108.1 95.7h0.9M96.1 109.2h0.9M67.1 90.7h0.9M81.8 107h0.9M112 110.7h0.9M88.3 93.1h0.9M60.2 92.4h0.9M109.9 105.7h0.9M107.3 102.8h0.9M113.2 90.1h0.9M78.4 98.1h0.9M99.5 89.3h0.9M77.2 98.3h0.9M99.6 81.3h0.9M116.8 84.4h0.9M82.9 97.6h0.9M83.8 76.6h0.9M61.3 102.4h0.9M108.4 86.3h0.9M87.6 99.8h0.9M98.9 88.5h0.9M85.3 81.3h0.9M104.7 85.5h0.9M85.7 105.8h0.9M77.8 83.9h0.9M87.3 92.3h0.9M132.1 93.7h0.9M104.2 81.2h0.9M107.7 95.6h0.9M75.8 87.2h0.9M76.2 110.7h0.9M87.5 84.3h0.9M111.5 92.3h0.9M73.4 81.7h0.9M80.4 83.6h0.9M99.8 80.1h0.9M67.2 89.5h0.9M79.6 97.3h0.9M81.4 90.4h0.9M90.4 82.9h0.9M70.9 85.4h0.9M109.2 87h0.9M96.2 89.9h0.9M104.3 80.2h0.9M95.5 104.1h0.9M88.4 83.3h0.9M99.4 100.3h0.9M105.5 86.8h0.9M74.8 92.4h0.9M93.6 79.9h0.9M101.6 86h0.9M70.8 78.8h0.9M81.1 84.1h0.9M63.7 106.9h0.9M75 93.5h0.9M81.4 107.8h0.9M82.6 82.6h0.9M108.1 76.8h0.9M111.6 82.7h0.9M83.5 97.3h0.9M98.3 87.3h0.9M97.8 91.3h0.9M96.7 87h0.9M95.4 78.2h0.9M67.3 79.7h0.9M94.6 85.1h0.9M77.2 82.5h0.9M67.8 99.5h0.9M117.7 87.2h0.9M97.9 107.3h0.9M105.6 94.9h0.9M80.2 108.1h0.9M106.4 86.3h0.9M113 91h0.9M71.1 83.5h0.9M84.3 76.9h0.9M99.1 84h0.9M94.6 86.9h0.9M89.3 96.6h0.9M78 94.5h0.9M109.9 105.1h0.9M90.6 93.5h0.9M88.2 78.3h0.9M79.7 84.9h0.9M82.2 87h0.9M93.3 95.8h0.9M107.2 89.5h0.9M86.9 99.1h0.9M98.2 103.2h0.9M101.8 93.3h0.9M87.5 81.1h0.9M115.6 87.3h0.9M86.1 84.8h0.9M93.1 96.9h0.9M96.2 89.5h0.9M86 81.1h0.9M80.9 101.8h0.9M103.7 110.2h0.9M104.7 82.1h0.9M83.2 110.6h0.9M103.9 82h0.9M75.5 100.2h0.9M89.4 96.6h0.9M106.8 99.3h0.9M89.2 110.1h0.9M91.2 105.7h0.9M96.7 87.7h0.9M119.4 91.3h0.9M101.1 77.8h0.9M94.1 79.8h0.9M100.7 88.3h0.9M77.4 102.1h0.9M73.7 90.4h0.9M70.4 108.9h0.9M89 92.8h0.9M101.6 100h0.9M72.7 91.3h0.9M101.9 98.4h0.9M74.3 89.1h0.9M106.3 85.1h0.9M81.2 98.5h0.9M80.9 88.6h0.9M78.4 85.4h0.9M76.6 90.9h0.9M78.4 98.1h0.9M81.1 77.6h0.9M98.1 77.2h0.9M80 108.4h0.9M107.2 82.1h0.9M83.5 102.7h0.9M121.5 93h0.9M78.6 79.4h0.9M65.3 85.3h0.9M70 97.1h0.9M89.6 95h0.9M89.3 100.3h0.9M83.5 86.6h0.9M111.8 98.6h0.9M107.3 80.2h0.9M89.8 81h0.9M117.5 99.5h0.9M59.4 78.1h0.9M75.3 90.9h0.9M116.4 77.1h0.9M64.4 103.7h0.9M63.9 89.6h0.9M93.9 107.2h0.9M69.4 104.5h0.9M73.6 96.2h0.9M123.4 107.9h0.9M82.4 105.1h0.9M109.8 93.8h0.9M61.5 101.2h0.9M90.1 104.3h0.9M76.5 91.4h0.9M89.8 97.2h0.9M94 92.4h0.9M78.3 101.1h0.9M93.5 91.4h0.9M94.6 92.8h0.9M67.8 108.2h0.9M69.3 77.2h0.9M100 104.9h0.9M82.1 83.3h0.9M109.1 100.1h0.9M100.1 77.3h0.9M100.9 106.4h0.9M102.6 106.3h0.9M80.9 105.4h0.9M57 76.4h0.9M96 102.2h0.9M99.3 102h0.9M85.1 82.9h0.9M85.8 82.5h0.9M111.8 106.2h0.9M80.4 100.8h0.9M115.2 89.8h0.9M117.3 86h0.9M90.5 77.2h0.9M58.2 104.4h0.9M74.1 89.6h0.9M102.3 93.4h0.9M87.3 87.4h0.9M102.7 108.1h0.9M90.8 96.1h0.9M80.7 80.5h0.9M95.8 103.6h0.9M106.9 106.9h0.9M58.6 96.6h0.9M62.9 79h0.9M75.3 80.7h0.9M111 104.6h0.9M85.6 97h0.9M73.1 105.8h0.9M99 97h0.9M78.6 81.5h0.9M68.1 90.4h0.9M100.1 83.5h0.9M52.6 102.9h0.9M98.9 76.4h0.9M119.6 92.8h0.9M89.6 80.4h0.9M91.5 84.1h0.9M93.8 96.5h0.9M81.7 90h0.9M120.9 103.5h0.9M66.3 109.1h0.9M76.2 92.7h0.9M78.1 79.7h0.9M80.8 97.8h0.9M73.1 95.8h0.9M81.7 76.8h0.9M72.8 101.9h0.9M100.7 96.7h0.9M77.6 78.4h0.9M131.2 105.8h0.9M92.2 87.6h0.9M82.1 83.7h0.9M126 87.2h0.9M59.9 78h0.9M94 104.6h0.9M112.1 108.5h0.9M91.6 79.6h0.9M122.7 106.2h0.9M112.7 106.8h0.9M97.9 107h0.9M90.3 80.6h0.9M97.4 78.9h0.9M79 95.8h0.9M61.3 103.7h0.9M89.9 107.7h0.9M94.2 101h0.9M81 91.3h0.9M85.2 93.5h0.9M84.9 96.8h0.9M94.1 81.3h0.9M85.4 100.3h0.9M59.7 104.9h0.9M88.3 94.8h0.9M80 98.3h0.9M89.4 100.3h0.9M92.6 91h0.9M55 88.7h0.9M87.2 77.4h0.9M89.6 98.6h0.9M102.2 105.8h0.9M83.4 97.3h0.9M107.7 100.7h0.9M92.2 78.8h0.9M59.3 91.9h0.9M66.7 78.8h0.9M75.6 99.4h0.9M100 84.1h0.9M70.6 83.6h0.9M81.4 95.1h0.9M110.2 105.1h0.9M54.9 99.1h0.9M116.7 106.3h0.9M79.6 89.6h0.9M69 106.4h0.9M68.4 90.9h0.9M84.5 94.3h0.9M70 109h0.9M82.1 109.6h0.9M94.5 84.8h0.9M88.3 104.3h0.9M85.7 103.5h0.9M124.4 97.3h0.9M75.7 99.1h0.9M85.3 86.4h0.9M74.4 86.6h0.9M58.8 99.2h0.9M89.5 87.7h0.9M89.8 83.2h0.9M80.3 96.6h0.9M64.5 109.1h0.9M79.2 100.6h0.9M90.1 84.3h0.9M55.4 81h0.9M68.2 85.8h0.9M96.7 85.1h0.9M83.4 88.9h0.9M78.8 93.5h0.9M84.6 79.4h0.9M78.2 83.8h0.9M59.8 85.8h0.9M107.3 93.8h0.9M70.5 98h0.9M92.3 98.5h0.9M64.2 105.5h0.9M91.6 104.9h0.9M71.7 93.8h0.9M70.5 92.8h0.9M135.9 92.3h0.9M80.1 100.2h0.9M110.1 96.1h0.9M102.7 95.1h0.9M92.2 89.4h0.9M88.1 99.6h0.9M81.7 102.4h0.9M96.7 85.7h0.9M106.4 89.4h0.9M79.1 106.1h0.9M85.1 91.6h0.9M73.7 102.7h0.9M69.7 80.3h0.9M86 92.7h0.9M88.8 93.3h0.9M73.8 92.5h0.9M80.6 110.1h0.9M104.2 105.6h0.9M74.4 90.6h0.9M110.6 86.1h0.9M97.7 78.6h0.9M94 106.1h0.9M97.7 94.8h0.9M107.3 80.5h0.9M101.8 95.2h0.9M69.1 95.4h0.9M95.9 94.1h0.9M86.7 84.3h0.9M83.6 82.6h0.9M80.4 78.6h0.9M87.1 79.7h0.9M76.5 105.8h0.9M114.6 86.8h0.9M90.1 83.7h0.9M80.7 109.5h0.9M86.1 88.4h0.9M88.4 84.3h0.9M71.1 97.7h0.9M61.5 86.9h0.9M94.5 88.3h0.9M104.7 83.7h0.9M107.9 84.7h0.9M71.2 102.3h0.9M70.1 76.3h0.9M100.8 88h0.9M85 84.7h0.9M73 98.6h0.9M89.8 105.4h0.9M94.3 76.1h0.9M67.2 103.4h0.9M112.7 91.7h0.9M84.5 107.1h0.9M106.2 106.6h0.9M95.7 88.8h0.9M91 88.4h0.9M126.9 109.1h0.9M104.4 103.3h0.9M66.9 97.8h0.9M70.4 97h0.9M54.2 82.8h0.9M127.8 89.3h0.9M71.5 82.3h0.9M112.2 81.2h0.9M99.9 98.8h0.9M96.9 81.9h0.9M74.1 99.3h0.9M64.2 106.6h0.9M79 107.9h0.9M76.4 88.6h0.9M102.6 77.5h0.9M95.9 86.2h0.9M84.1 106.7h0.9M94.8 79.8h0.9M90.6 86.2h0.9M64.4 89.1h0.9M84.5 107.2h0.9M93 86.2h0.9M106.9 104.6h0.9M97 108.2h0.9M104.5 77.1h0.9M94.6 105.8h0.9M73.3 98.1h0.9M92.8 103.2h0.9M117.2 82h0.9M92.7 86.8h0.9M68.6 91.7h0.9M93.1 84.5h0.9M87 82.3h0.9M60.7 108.9h0.9M87.2 92.2h0.9M80.5 82.4h0.9M79.2 82.4h0.9M72.2 79.1h0.9M89.1 82.3h0.9M100.6 84.6h0.9M110.5 90.2h0.9M81.8 110.3h0.9M92.5 97.2h0.9M80.6 103h0.9M90.4 80.8h0.9M86.9 107.1h0.9M70.7 78.5h0.9M112 87.1h0.9M70.4 87.1h0.9M84.5 110.7h0.9M109.7 99.6h0.9M90.7 85.7h0.9M95.2 95.4h0.9M74.8 88.6h0.9M115.4 87.4h0.9M96.6 95.2h0.9M80.9 108.3h0.9M84.5 109.7h0.9M58.2 98.9h0.9M116.6 89.8h0.9M101.4 102.2h0.9M74.6 80.4h0.9M104.1 101.7h0.9M89.8 86.3h0.9" stroke="#000" stroke-opacity="0.85" stroke-width="0.9" fill="none"/>
<path d="M31.4 7.3H163.5V137.3" fill="none" stroke="#3a3a3a" stroke-width="1"/>
<path d="M31.4 7.3V137.3H163.5" fill="none" stroke="#000" stroke-width="1.2"/>
<path d="M67.7 7.5H135" stroke="#111" stroke-width="1.5"/>
<path d="M78 7.7H115.8" stroke="#000" stroke-width="2.2"/>
<path d="M31.4 137.3v3M36.6 137.3v1.7M41.8 137.3v1.7M46.9 137.3v1.7M52.1 137.3v1.7M57.3 137.3v3M62.5 137.3v1.7M67.7 137.3v1.7M72.8 137.3v1.7M78 137.3v1.7M83.2 137.3v3M88.4 137.3v1.7M93.6 137.3v1.7M98.7 137.3v1.7M103.9 137.3v1.7M109.1 137.3v3M114.3 137.3v1.7M119.5 137.3v1.7M124.6 137.3v1.7M129.8 137.3v1.7M135 137.3v3M140.2 137.3v1.7M145.4 137.3v1.7M150.5 137.3v1.7M155.7 137.3v1.7M160.9 137.3v3" stroke="#000" stroke-width="1.15" fill="none"/>
<path d="M31.4 137.3h-3M31.4 132.2h-1.7M31.4 127.1h-1.7M31.4 122h-1.7M31.4 116.9h-1.7M31.4 111.8h-3M31.4 106.7h-1.7M31.4 101.6h-1.7M31.4 96.5h-1.7M31.4 91.4h-1.7M31.4 86.3h-3M31.4 81.2h-1.7M31.4 76.1h-1.7M31.4 71h-1.7M31.4 65.9h-1.7M31.4 60.8h-3M31.4 55.7h-1.7M31.4 50.6h-1.7M31.4 45.5h-1.7M31.4 40.4h-1.7M31.4 35.3h-3M31.4 30.2h-1.7M31.4 25.1h-1.7M31.4 20h-1.7M31.4 14.9h-1.7M31.4 9.8h-3" stroke="#000" stroke-width="1.15" fill="none"/>
<text x="32" y="146.9" font-size="6.7" text-anchor="middle" class="tk">0</text>
<text transform="translate(25.8 137.3) rotate(-90)" font-size="6.7" text-anchor="middle" class="tk">0</text>
<text x="57.3" y="146.9" font-size="6.7" text-anchor="middle" class="tk">50</text>
<text transform="translate(25.8 111.8) rotate(-90)" font-size="6.7" text-anchor="middle" class="tk">50</text>
<text x="83.2" y="146.9" font-size="6.7" text-anchor="middle" class="tk">100</text>
<text transform="translate(25.8 86.3) rotate(-90)" font-size="6.7" text-anchor="middle" class="tk">100</text>
<text x="109.1" y="146.9" font-size="6.7" text-anchor="middle" class="tk">150</text>
<text transform="translate(25.8 60.8) rotate(-90)" font-size="6.7" text-anchor="middle" class="tk">150</text>
<text x="135" y="146.9" font-size="6.7" text-anchor="middle" class="tk">200</text>
<text transform="translate(25.8 35.3) rotate(-90)" font-size="6.7" text-anchor="middle" class="tk">200</text>
<text x="160.9" y="146.9" font-size="6.7" text-anchor="middle" class="tk">250</text>
<text transform="translate(25.8 9.8) rotate(-90)" font-size="6.7" text-anchor="middle" class="tk">250</text>
<polygon points="72.4,118.5 107.7,111.1 147.1,98.3 150.5,117.1 124.5,124.5 74.7,130.6" fill="none" stroke="#000" stroke-width="1.7" stroke-linejoin="miter"/>
<text x="146.2" y="130.4" font-size="6.6" text-anchor="middle" class="sm">R1</text>
<text x="92.6" y="164.8" font-size="20.4" text-anchor="middle" letter-spacing="0.8" class="lb">FSC</text>
<text transform="translate(18 71.3) rotate(-90) scale(1 1.03)" font-size="20.4" text-anchor="middle" class="lb">SSC</text>
<text transform="translate(0.6 17.2) scale(0.98 1.06)" font-size="23" class="lb">A</text>
</g>
<g>
<defs><filter id="bl" x="-20%" y="-5%" width="140%" height="110%"><feGaussianBlur stdDeviation="0.9"/></filter></defs>
<polygon points="217,138.8 235.8,138.8 237.6,98 238.2,90 218.6,90 217.8,98" fill="#000" fill-opacity="0.72" filter="url(#bl)"/>
<polygon points="218.6,90 238.2,90 238.8,86 239.2,66 236,60 225.5,60 221.6,66 219.6,86" fill="#000" fill-opacity="0.42" filter="url(#bl)"/>
<path d="M235.1 81.4h0.9M236.1 76.9h0.9M227.5 132.7h0.9M234.8 56h0.9M224.5 80.3h0.9M231.7 66.4h0.9M236.5 96.2h0.9M221.7 75.8h0.9M234.7 77.2h0.9M225.6 81h0.9M228.9 127.7h0.9M235.4 87h0.9M223.5 65.2h0.9M231.5 95.3h0.9M230.6 122.8h0.9M233.2 68h0.9M220.6 96.3h0.9M225.2 107.4h0.9M226 137.9h0.9M233 124.3h0.9M230.8 104.9h0.9M236.9 60.4h0.9M218.4 132h0.9M225.4 71.4h0.9M234.9 103.3h0.9M234.9 81.8h0.9M228.3 127.4h0.9M222 127.1h0.9M230.4 105.4h0.9M233.5 97.4h0.9M220.9 94.1h0.9M233.7 137.9h0.9M224.6 95.3h0.9M226.1 53.5h0.9M220.3 117.9h0.9M219.5 108.7h0.9M236.7 95.2h0.9M229.5 55.3h0.9M228.3 61.4h0.9M227.6 125.3h0.9M228.5 102.6h0.9M236.7 110.8h0.9M222.1 109.6h0.9M228.6 72.9h0.9M233.2 110.3h0.9M222.8 76.4h0.9M221.8 137.2h0.9M221 83.1h0.9M223.4 64.4h0.9M231.2 113.9h0.9M221.3 119.4h0.9M227.1 136.1h0.9M234.5 75.8h0.9M219.7 74.3h0.9M219.9 118.2h0.9M233.2 138h0.9M237.4 81.8h0.9M228.5 103.7h0.9M236.3 77.4h0.9M223.6 105.6h0.9M224.8 79.7h0.9M236.8 81.2h0.9M230.2 102.6h0.9M218.7 116.8h0.9M233.1 104.8h0.9M236.3 123.9h0.9M232.6 78.6h0.9M228 84.1h0.9M233.6 88.3h0.9M225.7 99.5h0.9M225.6 127.8h0.9M219.1 138.2h0.9M232.9 61h0.9M226.4 57.4h0.9M228.3 114.9h0.9M234.6 111.9h0.9M225.4 102.7h0.9M225.8 70.8h0.9M234 123.1h0.9M223.4 84.1h0.9M217.7 136.9h0.9M226.6 86.3h0.9M218.4 112.9h0.9M218.4 111.4h0.9M227.8 70.7h0.9M221.1 118.7h0.9M218.3 109.1h0.9M228.5 122.3h0.9M226.3 124.1h0.9M218.7 100.8h0.9M222.9 133.1h0.9M234.3 108.1h0.9M225.3 87.9h0.9M233.1 118.5h0.9M224.8 131.1h0.9M228.6 82.1h0.9M231 104h0.9M229.5 124.1h0.9M233.9 74.6h0.9M233.7 119.5h0.9M227.4 61.5h0.9M221.8 86.6h0.9M227.7 82.7h0.9M228.2 67.6h0.9M226.1 59.2h0.9M228.8 106.2h0.9M225.9 77.4h0.9M226.3 133.1h0.9M228.1 77.7h0.9M230.5 62.9h0.9M217.9 108.8h0.9M221 125.3h0.9M232.9 53.8h0.9M226.1 84.3h0.9M231.1 77.3h0.9M233.8 94.1h0.9M237.4 73.6h0.9M229.7 115.8h0.9M230.7 101.6h0.9M226.3 70h0.9M221.5 120.3h0.9M237.7 86h0.9M227.4 58.4h0.9M227.7 114.9h0.9M219.9 91.6h0.9M224.1 117.6h0.9M231.8 93.2h0.9M225.8 99.5h0.9M222.3 116.4h0.9M225.8 113.2h0.9M233.5 135.8h0.9M236.3 72.1h0.9M225.1 91.1h0.9M226.7 71.9h0.9M235.3 111.7h0.9M236.4 112.2h0.9M233.8 134.1h0.9M220 77.8h0.9M225.1 103.8h0.9M217.1 137.2h0.9M222.3 134.2h0.9M231.8 111.2h0.9M233.3 94.1h0.9M219.5 125.1h0.9M236.5 123h0.9M228.8 123.7h0.9M219.9 104.3h0.9M223.9 101.1h0.9M237 73h0.9M223 75.2h0.9M227.5 126.7h0.9M220.4 128.2h0.9M225.1 130.4h0.9M228.9 128.9h0.9M225.7 82.2h0.9M221.9 130.6h0.9M226.4 80.4h0.9M236.2 94h0.9M235.1 97.2h0.9M231.1 99.4h0.9M225 110.4h0.9M222.6 91h0.9M237.8 62.7h0.9M235.6 63.1h0.9M233.8 88.5h0.9M232.1 78.5h0.9M230.4 120.1h0.9M221.9 67.3h0.9M225 105.2h0.9M227.6 133.4h0.9M220.2 137.8h0.9M236.4 124.1h0.9M223.4 67.5h0.9M230.2 80.4h0.9M226.2 62.5h0.9M221.2 103h0.9M237 104.2h0.9M219.3 135.5h0.9M219.3 112.9h0.9M223.4 127.1h0.9M235.6 107.1h0.9M224.7 91.6h0.9M232.5 57.9h0.9M219.3 111.4h0.9M224.2 82h0.9M221.8 66.4h0.9M234 126.8h0.9M224.2 105.3h0.9M236.2 81.2h0.9M221.9 64.8h0.9M237.3 76.4h0.9M221 78.3h0.9M235.4 80.5h0.9M229 126.6h0.9M226.7 98.4h0.9M236.8 82.6h0.9M220.8 86.8h0.9M225.3 103.3h0.9M237 80.2h0.9M226.8 110.1h0.9M220.4 132.2h0.9M237.9 68.4h0.9M223.1 116.6h0.9M237.6 62.1h0.9M223 80.7h0.9M232.2 114.5h0.9M219.9 78.3h0.9M229.3 83.3h0.9M233.7 79.1h0.9M222.6 93.4h0.9M220.9 99.6h0.9M236.6 113.8h0.9M222.7 72.9h0.9M222.8 102.7h0.9M227.5 111.4h0.9M236.6 72.1h0.9M233.4 99.8h0.9M222.3 120.5h0.9M224.9 72.1h0.9M232.5 96.9h0.9M235.4 121.7h0.9M229.3 103.8h0.9M224.9 89.9h0.9M218.9 85.2h0.9M228.4 73h0.9M230.7 82h0.9M226.9 66h0.9M238.1 71.8h0.9M236.4 131.5h0.9M226.5 136.8h0.9M220.7 122.8h0.9M220.5 123.2h0.9M232.1 126.7h0.9M232.8 111.7h0.9M234.4 81h0.9M229.4 132.1h0.9M222.2 111.6h0.9M232.4 87.5h0.9M228.6 103.4h0.9M220 64.6h0.9M236.6 123.5h0.9M238.1 65.2h0.9M224.8 136.7h0.9M228.4 121.8h0.9M219.1 108.1h0.9M236.3 105.7h0.9M229 107.7h0.9M232.9 113.7h0.9M221.3 78h0.9M231 79.4h0.9M226.1 71.6h0.9M225.1 92.9h0.9M236 108.5h0.9M233.7 99h0.9M236.2 73h0.9M219.2 126.6h0.9M230.7 95h0.9M220.5 95.6h0.9M235.1 137.4h0.9M237.1 91.3h0.9M225.9 110.8h0.9M224.9 88.9h0.9M225 115.6h0.9M236.1 103.4h0.9M236.4 110.1h0.9M228.9 101.4h0.9M218.6 102h0.9M227.9 80h0.9M235.6 99.4h0.9M224.2 113.6h0.9M228.6 137.5h0.9M230.4 87.3h0.9M231.3 125.1h0.9M228 134.3h0.9M230.8 62.6h0.9M237.5 81.4h0.9M222.6 103.4h0.9M221.9 98.4h0.9M234.9 132.3h0.9M221.6 97h0.9M222.1 100.1h0.9M233.4 132.4h0.9M222.5 63.5h0.9M221.6 75h0.9M220.3 67.9h0.9M221.1 64.8h0.9M237.2 98.8h0.9M228.2 132.2h0.9M232.2 134.9h0.9M220.1 110.9h0.9M232.6 122.1h0.9M225.2 133.8h0.9M235.5 85h0.9M231.5 89.4h0.9M221.4 117.6h0.9M233.7 101.5h0.9M221.5 137.3h0.9M227.7 81.9h0.9M219.7 67.2h0.9M225.6 116.6h0.9M219.2 106.6h0.9M220.2 76.6h0.9M236 96.1h0.9M220.1 111.6h0.9M218.7 103.8h0.9M220 80.5h0.9M228.3 115.7h0.9M219.5 114.3h0.9M224.9 85.9h0.9M232.2 95.8h0.9M227.6 91.6h0.9M227.2 68.4h0.9M231.1 89.9h0.9M222.8 94.2h0.9M220.1 117.5h0.9M234.4 124.5h0.9M222.9 70.4h0.9M218.9 100.9h0.9M227.8 96.9h0.9M221 120.6h0.9M219 117.3h0.9M226.4 97.5h0.9M228.1 85h0.9M232.4 81.8h0.9M217.8 110.4h0.9M224.4 89.5h0.9M233.9 109.3h0.9M234.9 120h0.9M227.6 132.4h0.9M233.4 54.7h0.9M225.3 131.2h0.9M222.6 78.4h0.9M236 125.2h0.9M228.7 123.9h0.9M234.9 128.6h0.9M225.9 89.3h0.9M222.8 78.5h0.9M223.5 123h0.9M235.2 88h0.9M218.8 103.9h0.9M219.8 106.2h0.9M223.1 95.8h0.9M228.4 119.8h0.9M233.1 91.8h0.9M225.1 130.7h0.9M220.6 112.9h0.9M218.2 134.6h0.9M225.3 108.8h0.9M229.5 65.8h0.9M234.5 118.4h0.9M222 92h0.9M223.7 111.2h0.9M231.3 77.3h0.9M225.7 131h0.9M217.9 119.1h0.9M235.1 96.7h0.9M231.9 60.3h0.9M221.4 84.8h0.9M219.4 98.4h0.9M229.1 136.6h0.9M219.9 93.9h0.9M218.9 85h0.9M228.8 64.6h0.9M231.5 93.9h0.9M218.9 100.2h0.9M224.2 134.9h0.9M232.6 73.8h0.9M222.4 94.2h0.9M236.3 61.7h0.9M230.1 136.2h0.9M236.2 90.1h0.9M228.5 59.1h0.9M233.6 99.2h0.9M223.1 119.6h0.9M217.3 135.2h0.9M217.6 118.7h0.9M226.2 101.3h0.9M235.5 101.8h0.9M220.2 81.6h0.9M236.2 130.2h0.9M234.6 135.9h0.9M220.2 99.8h0.9M235.6 132.5h0.9M222.3 83.8h0.9M225.5 82.7h0.9M225.3 121.7h0.9M230.8 67.4h0.9M236.3 74.9h0.9M225.2 129.6h0.9M227 127.1h0.9M225.1 79.2h0.9M233.9 130.3h0.9M235 132.8h0.9M219.9 74.1h0.9M229.1 111.7h0.9M223.7 81.7h0.9M232.6 115.5h0.9M225.9 65.6h0.9M233.7 77.1h0.9M228.1 59h0.9M230.5 136.7h0.9M229.5 120.1h0.9M219.3 88.2h0.9M218.5 94.6h0.9M229.6 60.8h0.9M228.5 87h0.9M231.3 64.3h0.9M217.6 137.4h0.9M228.2 73.5h0.9M236 93.7h0.9M229.1 114.8h0.9M232.3 68h0.9M217.7 111.7h0.9M225 85.9h0.9M228.4 87.9h0.9M227.6 120.7h0.9M228.6 70.7h0.9M219 102h0.9M228.9 103.1h0.9M230.9 108.2h0.9M219.1 118.1h0.9M224.2 80.1h0.9M235.1 107.3h0.9M233.8 84.3h0.9M231.3 129.9h0.9M235.9 129.6h0.9M237 76.1h0.9M230.5 66.8h0.9M225.9 62.4h0.9M220.7 112.4h0.9M237.3 83h0.9M233.8 104h0.9M235.5 57.3h0.9M234.4 79.9h0.9M224.2 112.5h0.9M233 112.2h0.9M228.7 96.8h0.9M220.9 70.3h0.9M234.9 58.4h0.9M234.2 122.5h0.9M220.6 93h0.9M227.5 131.5h0.9M232 103.4h0.9M237 72.9h0.9M229.9 101.3h0.9M229.8 82.5h0.9M220 134.6h0.9M232.6 71.7h0.9M227.2 113.9h0.9M227.8 117.7h0.9M225.3 70.7h0.9M226 79.9h0.9M236.7 66.1h0.9M221.8 69.6h0.9M221 93.8h0.9M237.5 73.9h0.9M229.6 57h0.9M220.2 118.4h0.9M229.8 79.3h0.9M235.4 115.8h0.9M220.9 99.2h0.9M230.8 56h0.9M232.4 74.9h0.9M217.5 117.4h0.9M228.8 69.6h0.9M237.2 106h0.9M233.5 93.8h0.9M223.6 118.1h0.9M229.4 80.8h0.9M219.7 99.4h0.9M232.6 131.2h0.9M219.1 116.3h0.9M220.9 100.6h0.9M220.3 132.7h0.9M229.5 61.7h0.9M232.5 91h0.9M226.3 101h0.9M221.1 128.2h0.9M219.6 98.1h0.9M221.2 120.8h0.9M231.7 101.6h0.9M221.7 105.1h0.9M236.9 82.1h0.9M221.2 108.5h0.9M223.1 105.6h0.9M221.3 135.6h0.9M232.4 115.8h0.9M237.7 66.7h0.9M224.5 57.1h0.9M221.3 86.4h0.9M232.8 91.4h0.9M237 110.5h0.9M228.2 78.4h0.9M236.1 105.1h0.9M232.2 131.7h0.9M224.8 98.6h0.9M231.2 137.1h0.9M222.2 135.8h0.9M227.3 92.9h0.9M235.6 89.2h0.9M232.5 94.9h0.9M235.7 96.6h0.9M223.1 124.4h0.9M230.6 121.5h0.9M221.3 90.6h0.9M226.6 61.6h0.9M224.4 127.9h0.9M229.2 113.3h0.9M235 130.3h0.9M218 133.8h0.9M219.6 85.1h0.9M218.9 105.8h0.9M234.7 95.9h0.9M234.9 103.4h0.9M220.6 62h0.9M230 78.6h0.9M227.4 116.7h0.9M237.1 78.3h0.9M227.4 85.9h0.9M219 97.5h0.9M230 99.5h0.9M232.8 67.5h0.9M224.2 134.1h0.9M229.7 135.2h0.9M228.5 82.9h0.9M234.4 121.6h0.9M223.6 97.2h0.9M231.7 77h0.9M220.7 136.3h0.9M226.5 98h0.9M224.5 101.8h0.9M225.1 68.6h0.9M236.7 95.5h0.9M228.7 64.5h0.9M218.4 101.2h0.9M238.2 71.2h0.9M227.5 120.4h0.9M225 80.8h0.9M224.4 56.1h0.9M235.1 84.3h0.9M230.1 135.1h0.9M227.5 78h0.9M230.8 83.3h0.9M224.6 91.9h0.9M227.3 86h0.9M226.1 79.3h0.9M235 93h0.9M234.1 122.2h0.9M236.8 93.2h0.9M235.8 58h0.9M219 105.1h0.9M230.6 108.6h0.9M225.3 83.3h0.9M235.1 121.1h0.9M225.3 80.1h0.9M234.5 101.4h0.9M224.8 122h0.9M236.2 127.8h0.9M223.2 65.5h0.9M224.7 61.3h0.9M221.1 123.1h0.9M237.7 87.9h0.9M234 74.6h0.9M227.3 74.7h0.9M229.7 133.6h0.9M237.1 89.7h0.9M235.5 130h0.9M220.6 98.2h0.9M222.5 80.2h0.9M222.1 77.2h0.9M232.8 110.7h0.9M237.2 96.6h0.9M234.1 65.4h0.9M235.3 63.5h0.9M223.3 102.3h0.9M237.5 86h0.9M219.1 105h0.9M229.4 90.2h0.9M228.1 112.2h0.9M232.3 71.4h0.9M231.2 96.2h0.9M234.5 137.6h0.9M233.5 80.3h0.9M226 71h0.9M228.9 124.3h0.9M230.7 123.5h0.9M233.4 68.6h0.9M233.6 90.4h0.9M220.9 80.6h0.9M219.7 96.6h0.9M236.5 84.4h0.9M231.7 126.6h0.9M221.6 87h0.9M220 97.6h0.9M233 119h0.9M225.9 60.5h0.9M232.1 86.1h0.9M220.9 72.4h0.9M222.6 64.4h0.9M219.9 66.3h0.9M223.1 104.3h0.9M227 77.6h0.9M230.4 89.4h0.9M231 67.8h0.9M233 126.8h0.9M228.8 118.8h0.9M225 104.7h0.9M222 60.5h0.9M226.1 92.8h0.9M226.4 130.1h0.9M226.6 81.1h0.9M230.2 95.5h0.9M218.4 113.9h0.9M231.3 117.5h0.9M223.7 132.1h0.9M235.1 125.5h0.9M223.1 115.6h0.9M229.3 96.8h0.9M230.2 76.5h0.9M228.1 137.3h0.9M226.6 104.6h0.9M235.3 74.9h0.9M228.8 60.8h0.9M220 137.7h0.9M229.4 134.6h0.9M229.9 128.4h0.9M217.8 129.4h0.9M235 90.6h0.9M226.1 65h0.9M221.3 127.4h0.9M220.2 72.2h0.9M230.5 101.9h0.9M218.8 106.9h0.9M227.8 128.8h0.9M230.3 106.1h0.9M230.2 85.4h0.9M232.9 86.6h0.9M219.3 97.1h0.9M220 85.3h0.9M218.4 129.5h0.9M232.6 90.9h0.9M219.1 88.8h0.9M227.3 70.4h0.9M235 74.6h0.9M237.4 71.7h0.9M222.2 111.6h0.9M229.8 89.1h0.9M227.6 111.5h0.9M218.8 125.1h0.9M225.3 74.3h0.9M227.8 118.8h0.9M223 94.9h0.9M233.8 98h0.9M231.5 83.2h0.9M231.5 76.5h0.9M230 135.3h0.9M230.4 92.3h0.9M234.6 122.1h0.9M224.8 95.3h0.9M225 69.5h0.9M221.7 120h0.9M235 91.5h0.9M219.7 117h0.9M225.2 110.4h0.9M221.1 137.8h0.9M227 105.9h0.9M230.6 96h0.9M233.6 88.9h0.9M222.8 106.5h0.9M231.7 70.9h0.9M221.3 100.2h0.9M236.2 90h0.9M224.3 88.8h0.9M219 106.3h0.9M236.4 83.5h0.9M220.2 72h0.9M230.1 97h0.9M222.5 107.2h0.9M237.2 107.2h0.9M224.2 129.8h0.9M230.5 88.4h0.9M226.1 111.5h0.9M233.6 71.7h0.9M228.5 93.3h0.9M229.3 82.3h0.9M234 105.3h0.9M228.4 113.3h0.9M232.1 125.7h0.9M219.3 119.4h0.9M225.7 132.6h0.9M233.4 76h0.9M232.9 110.9h0.9M227.9 115.3h0.9M221.4 120h0.9M229.2 93.7h0.9M236.7 76.9h0.9M227.8 132.9h0.9M232.1 98.1h0.9M233.5 101h0.9M235.7 126.7h0.9M232.7 95.6h0.9M222.1 124.1h0.9M218.7 134h0.9M220 91.8h0.9M231.5 128.8h0.9M226.3 57.6h0.9M222.9 71.8h0.9M226.5 79.8h0.9M223 96.1h0.9M236.5 77.9h0.9M230.7 95.5h0.9M236.6 94.6h0.9M220.5 94.4h0.9M231.2 118.3h0.9M237.5 74.7h0.9M223.7 136.1h0.9M228.5 65.5h0.9M219.7 122.9h0.9M226.2 95.1h0.9M225 123.3h0.9M220.1 63.2h0.9M226.6 85.5h0.9M224.3 115.8h0.9M220.4 98.4h0.9M237 80.8h0.9M221.7 71h0.9M238 67.7h0.9M234.6 128.9h0.9M233.4 91.2h0.9M229.9 117.2h0.9M229.7 102.8h0.9M231.8 59.5h0.9M232.1 128.7h0.9M230.2 95.2h0.9M223.7 76.8h0.9M230.8 66.6h0.9M233.1 72.2h0.9M219.4 129.8h0.9M223.6 137.3h0.9M231.6 89.7h0.9M233.5 131h0.9M229.1 125.4h0.9M218 106.9h0.9M219.4 99.1h0.9M222.4 130.7h0.9M219 107.9h0.9M220.9 123.2h0.9M225.6 58.2h0.9M223.6 103.7h0.9M218.9 88.4h0.9M221.5 68.7h0.9M231.9 69.5h0.9M234.4 59.8h0.9M219.3 118.4h0.9M232.3 58.5h0.9M217.9 115.1h0.9M219.8 110.1h0.9M227.1 70.3h0.9M224.4 112.6h0.9M233.3 75.3h0.9M226.1 82.6h0.9M225.1 60.5h0.9M222.5 109h0.9M231 94.1h0.9M219.5 133h0.9M230.2 96.2h0.9M218.8 88.4h0.9M227.8 71.4h0.9M236.1 121.2h0.9M218.8 130h0.9M230.5 61h0.9M229.3 63.7h0.9M227 94.2h0.9M230.9 81.6h0.9M228.2 135.4h0.9M232.2 82.7h0.9M229.9 99.1h0.9M220.6 87.6h0.9M223.4 118.3h0.9M218 114h0.9M228.6 124.5h0.9M223.7 104.1h0.9M226 65.9h0.9M229.7 137.4h0.9M232.7 96.2h0.9M224.8 117.7h0.9M225.4 67.4h0.9M226.6 89.4h0.9M234.3 66.5h0.9M235.3 106.9h0.9M235.4 56.2h0.9M225.8 93.9h0.9M232.2 137.4h0.9M217.4 134.4h0.9M222.8 116.8h0.9M227.9 120.5h0.9M219.9 101.9h0.9M223.3 110h0.9M218.8 123.4h0.9M224.5 69.7h0.9M226.3 79.7h0.9M221.3 95.3h0.9M218.6 98.9h0.9M230.1 90.2h0.9M218.6 98h0.9M235.7 97.8h0.9M224 85h0.9M233.6 124.1h0.9M226.4 121.9h0.9M221.6 71.6h0.9M220.8 107.1h0.9M220.5 109.6h0.9M231 91.2h0.9M223.9 108.4h0.9M235.4 103.5h0.9M226.2 118.4h0.9M220.7 130.2h0.9M235.9 110.3h0.9M223.1 112.4h0.9M223.1 133.3h0.9M228.2 86.9h0.9M235.9 77.2h0.9M220.4 93.3h0.9M233.3 80.9h0.9M218.1 130.3h0.9M234.3 116.7h0.9M230.4 53.2h0.9M236 106.8h0.9M222.4 113.6h0.9M226.7 126.1h0.9M217.3 129h0.9M220.2 128.6h0.9M232.5 59.4h0.9M224.1 98.6h0.9M226.8 85.8h0.9M227.6 131.2h0.9M227.9 127.9h0.9M221.6 81.9h0.9M231.2 96.9h0.9M237.6 76.9h0.9M232.7 101.2h0.9M235.3 69.4h0.9M236 91.9h0.9M222.7 86.6h0.9M224.4 115.5h0.9M233.5 103.4h0.9M223.5 75.3h0.9M218.1 132.2h0.9M232.4 125.9h0.9M236.5 117.7h0.9M232.2 85.3h0.9M218.1 103.1h0.9M231.1 99.7h0.9M224.4 79.3h0.9M232 96.8h0.9M237.1 65.4h0.9M220.5 92.2h0.9M218.5 101.2h0.9M231.2 63.9h0.9M228.8 132h0.9M234.1 112h0.9M226.2 95.7h0.9M219.8 108.5h0.9M221.5 68.5h0.9M221.4 106.3h0.9M219.9 128.5h0.9M225.7 70.4h0.9M229.2 120h0.9M231.4 120.3h0.9M227.7 116.9h0.9M231.3 135h0.9M230.1 97h0.9M225.1 94.8h0.9M233.9 110.3h0.9M218.9 109.1h0.9M226.7 86.4h0.9M222.5 137.5h0.9M220.4 77.6h0.9M219 100.9h0.9M233.2 134.5h0.9M228.1 67.9h0.9M232.5 99.6h0.9M224.2 121.7h0.9M225.3 60.9h0.9M224.2 94.2h0.9M234.8 88.5h0.9M230.3 137.9h0.9M235.2 60.6h0.9M221.6 91.4h0.9M233.5 111.2h0.9M232.9 137.1h0.9M222.5 73h0.9M233.8 134.2h0.9M218.8 111.1h0.9M230.6 63.5h0.9M228.7 115.8h0.9M227.1 104.1h0.9M226.3 125.4h0.9M225.6 129.1h0.9M237.4 93.5h0.9M226.4 109.8h0.9M219.6 88.2h0.9M225.9 88.1h0.9M223.5 122.5h0.9M228.9 116.6h0.9M233.3 104.7h0.9M219.6 128.5h0.9M219.9 77.1h0.9M219.1 103h0.9M236.3 78.1h0.9M226.4 87.4h0.9M234.2 76.4h0.9M227.6 96.9h0.9M220.2 126.8h0.9M233.1 116.6h0.9M220.1 97.8h0.9M232.9 69.6h0.9M225.8 104.6h0.9M231.9 132.5h0.9M221.3 83.5h0.9M230.5 99.7h0.9M233.2 80.7h0.9M218.8 132.1h0.9M228.7 82.8h0.9M234.3 133.8h0.9M220.3 121.2h0.9M230.6 117.8h0.9M222.5 69h0.9M229.1 76.2h0.9M226.1 129.6h0.9M231.8 86h0.9M219.3 128.9h0.9M234.9 124h0.9M220.5 131.5h0.9M223.5 129.9h0.9M224.4 83.1h0.9M229.7 120.8h0.9M225.4 65.7h0.9M229.1 124.3h0.9M223.7 110.1h0.9M229.1 126.1h0.9M223.5 104.7h0.9M224.2 102h0.9M236.7 87.2h0.9M222.2 91h0.9M223.1 88.4h0.9M221.7 113.8h0.9M226.6 113.8h0.9M229.8 88.6h0.9M228.3 136.9h0.9M225.5 71h0.9M231.6 65.3h0.9M234.4 98.3h0.9M235.3 66h0.9M229.8 99.1h0.9M235.3 133.4h0.9M228.1 137.1h0.9M232.2 135.1h0.9M229.6 102.4h0.9M222.1 79.6h0.9M223.4 92.3h0.9M226.5 135.9h0.9M226.8 75.2h0.9M221.2 131.6h0.9M225.8 124h0.9M226.4 82.7h0.9M224.5 97h0.9M232.6 105.4h0.9M225.2 129h0.9M220.9 102.9h0.9M235.3 97.5h0.9M226.4 74.6h0.9M225.7 100h0.9M227.7 137.5h0.9M221.6 128.3h0.9M229.5 74.1h0.9M227.6 114.3h0.9M221.1 125.2h0.9M236.1 133.6h0.9M229.8 88.1h0.9M231.8 119.8h0.9M236.8 113.5h0.9M223.1 131.2h0.9M233.2 119.8h0.9M231.8 94.9h0.9M230.4 117.2h0.9M218.2 125.3h0.9M218.2 124.4h0.9M225 103.6h0.9M234.5 98.2h0.9M228.7 77.5h0.9M227.9 117.6h0.9M230 100.8h0.9M218.2 136.7h0.9M234.2 90.1h0.9M233.9 68.3h0.9M232.1 115.8h0.9M236.8 117.2h0.9M218.4 126h0.9M236.3 81.6h0.9M227.2 73.9h0.9M229.9 136.1h0.9M221.9 104.4h0.9M225.2 122h0.9M223.9 135.2h0.9M226.8 86.4h0.9M231.5 131.2h0.9M218.7 105.1h0.9M225.9 66.5h0.9M225.7 82.5h0.9M218.9 89.4h0.9M223.2 122.7h0.9M234.6 135.7h0.9M229.6 103.4h0.9M218.8 114.2h0.9M231.7 101h0.9M234 103.2h0.9M224.5 97.5h0.9M225.2 67.9h0.9M229.4 80.7h0.9M224.5 105.4h0.9M231.8 93.1h0.9M233 58.6h0.9M224.1 116.8h0.9M226.8 59.4h0.9M232 71.7h0.9M236.1 83.1h0.9M227.9 115.4h0.9M237.5 89h0.9M230.9 92.3h0.9M224 107.5h0.9M236.3 103.3h0.9M225.1 137.5h0.9M231 106.3h0.9M225 62.2h0.9M225.5 128h0.9M228.4 122.5h0.9M235.3 124.2h0.9M226.4 81.2h0.9M218.8 128h0.9M234.6 91.7h0.9M229.6 70.5h0.9M232.3 128h0.9M227.8 70.8h0.9M227.1 85.1h0.9M236.9 59.7h0.9M230.1 127.1h0.9M233.7 78.6h0.9M217.7 119.6h0.9M218.1 118.1h0.9M233.6 105.5h0.9M232.5 125.3h0.9M230.1 93.9h0.9M220.4 89.4h0.9M229.9 103.9h0.9M230.4 86.8h0.9M225.8 76.3h0.9M233.5 55.5h0.9M225.7 138.2h0.9M225.7 86.6h0.9M229.1 106.1h0.9M228.4 59.8h0.9M230.7 80h0.9M218.9 136.9h0.9M223.3 134.5h0.9M224.3 96.8h0.9M227.6 77.8h0.9M228.8 109.2h0.9M227 59.9h0.9M235.4 113.8h0.9M221.4 78.7h0.9M223.9 57.6h0.9M222.2 128.4h0.9M235.1 64.9h0.9M232.6 75.2h0.9M218.8 106.3h0.9M219.8 136.4h0.9M223.8 107.6h0.9M233.7 94.6h0.9M225 64h0.9M231.5 80.7h0.9M233.2 126.1h0.9M228.3 107.3h0.9M223.3 109.8h0.9M221 113.3h0.9M231.9 132.7h0.9M226.6 116.6h0.9M226.8 104.2h0.9M219.3 109.8h0.9M226.2 96.5h0.9M218.6 128.4h0.9M235.6 127.3h0.9M222.2 135.2h0.9M222.1 78.8h0.9M231.2 121.1h0.9M232.7 72.5h0.9M234.1 74.4h0.9M227.1 129.2h0.9M234.2 63.6h0.9M229.2 88h0.9M235.8 103.5h0.9M228.9 93.9h0.9M236.3 112.5h0.9M227.3 132h0.9M220.8 85.8h0.9M223.4 67h0.9M220 104.8h0.9M235.1 97.8h0.9M233.9 128.8h0.9M226.4 124.3h0.9M219.8 95.7h0.9M225 136.2h0.9M222 109.7h0.9M231.8 99.2h0.9M234.6 84.5h0.9M236.3 128.3h0.9M229.1 56.1h0.9M232.9 82.4h0.9M229.1 64.7h0.9M220.3 86.2h0.9M221.5 100.5h0.9M235.4 97.1h0.9M230.5 136h0.9M225.8 112.6h0.9M228.2 108.7h0.9M225.2 87.7h0.9M218.7 93.3h0.9M229.4 116.1h0.9M232.9 82.2h0.9M226.8 116.4h0.9M220.1 99.8h0.9M225.4 115.7h0.9M234.3 118.9h0.9M237.3 60.5h0.9M219.7 118.5h0.9M233.2 65.9h0.9M220.3 98.8h0.9M227.1 63.3h0.9M234.5 88.5h0.9M231.6 115.4h0.9M224.3 109.5h0.9M222.3 103.7h0.9M224.4 130.9h0.9M232.1 105.5h0.9M220.2 114.9h0.9M224.2 80h0.9M220 117.4h0.9M228.3 69.6h0.9M229 123.9h0.9M222.5 130.4h0.9M227.7 97.4h0.9M225.1 124.9h0.9M236.4 107.6h0.9M220.1 91h0.9M222.8 113.4h0.9M237.1 108.6h0.9M219.7 130.3h0.9M228.9 76.9h0.9M230.3 75.6h0.9M234.1 72.2h0.9M233.2 130h0.9M221.5 134.5h0.9M227 82.6h0.9M220.2 126.6h0.9M223.1 73.1h0.9M227.5 114.5h0.9M229.9 79.3h0.9M235.1 102.3h0.9M237.3 67.5h0.9M234.6 72.9h0.9M222.9 68.8h0.9M234.3 134h0.9M223 115.6h0.9M229.6 129.3h0.9M237 65.8h0.9M217.2 127.5h0.9M221.7 133.1h0.9M228 127.9h0.9M230.6 131.9h0.9M227.4 60.5h0.9M226.3 115.2h0.9M236.8 75.4h0.9M227.2 65.1h0.9M234.3 104.4h0.9M228.9 116.5h0.9M231.9 121.8h0.9M221.1 79.2h0.9M231.1 131.6h0.9M229.8 71h0.9M224.7 89.5h0.9M221 127.6h0.9M234.9 76.7h0.9M225.8 94h0.9M230.2 95.3h0.9M233.6 104.6h0.9M218.2 108.7h0.9M224.4 112h0.9M233.3 97.6h0.9M227.9 137.9h0.9M232.9 101.1h0.9M236.2 133.8h0.9M238.2 73.4h0.9M229.5 57.2h0.9M230 60.5h0.9M236.2 99.5h0.9M218.7 131.3h0.9M233.1 73.5h0.9M229 67.3h0.9M226.8 60.5h0.9M232.1 110.7h0.9M230.6 88.2h0.9M228.8 98.8h0.9M223 72.9h0.9M227.2 120.4h0.9M223.3 133.3h0.9M232.5 84.9h0.9M229 120.6h0.9M230.2 137.4h0.9M225.1 92.9h0.9M227.2 134.3h0.9M217.7 112.1h0.9M227.8 98.8h0.9M221.9 127.8h0.9M231 104.7h0.9M230.9 119.4h0.9M222.2 95.5h0.9M230.6 71.4h0.9M231.7 71.5h0.9M237.7 70h0.9M222.2 133.3h0.9M232.9 56.2h0.9M235.4 126h0.9M227 66.9h0.9M236.6 103.8h0.9M222 85.9h0.9M232.2 112.5h0.9M232.4 119.8h0.9M235 137.9h0.9M224.1 112.8h0.9M220 94.3h0.9M225.5 88.4h0.9M234.4 83.2h0.9M232 81.6h0.9M235.1 102.8h0.9M232.4 118.9h0.9M235.3 130.1h0.9M222.7 103.9h0.9M231.3 72.7h0.9M221.8 107.7h0.9M230.7 76.9h0.9M236.7 101h0.9M224.5 123.5h0.9M234.9 88.4h0.9M232.7 136.6h0.9M227.6 128.1h0.9M226.2 90.4h0.9M226.3 93.6h0.9M235 104.2h0.9M224.2 130.6h0.9M236.7 102.2h0.9M221.9 137.6h0.9M222.3 76.4h0.9M227 135.3h0.9M235.8 72.8h0.9M222.5 128.9h0.9M225.3 102.7h0.9M235.6 124.4h0.9M221.9 130.8h0.9M227.4 117.9h0.9M224.1 127.9h0.9M227.5 97.2h0.9M228.4 124.2h0.9M225.6 92.6h0.9M225.5 135.3h0.9M224.5 115.9h0.9M220.1 109.3h0.9M226 66.2h0.9M232 96.3h0.9M226.3 103.4h0.9M224 125.5h0.9M235.8 67.1h0.9M225.6 122.4h0.9M232.9 102.1h0.9M236.3 108.6h0.9M223 83h0.9M236 118.6h0.9M220.8 106.4h0.9M222.5 100.7h0.9M235.7 92h0.9M237.8 73.5h0.9M229.6 108.8h0.9M227.4 67.8h0.9M235.5 109.3h0.9M235.2 119.4h0.9M224.3 79.5h0.9M222.1 64.2h0.9M222.5 86.7h0.9M224.1 78.4h0.9M229.4 85.6h0.9M227 136.1h0.9M231.8 136.6h0.9M228.3 101.3h0.9M229.9 65.6h0.9M227.6 94.9h0.9M236.9 64.4h0.9M230.9 81.2h0.9M228.1 61.9h0.9M229.5 126.6h0.9M228.8 127.4h0.9M226.8 102.2h0.9M228.6 80.9h0.9M237.5 67.3h0.9M235.6 72.3h0.9M220.5 131h0.9M234.6 128.7h0.9M224.6 99.2h0.9M229.9 130.1h0.9M230.5 128.1h0.9M236.1 112.8h0.9M237.7 87.2h0.9M222.9 103.2h0.9M232 124.7h0.9M228.3 74.4h0.9M234 67.5h0.9M222.4 112.2h0.9M230 64.4h0.9M236.6 74.6h0.9M225.9 107.8h0.9M221.5 113.3h0.9M219.9 118.7h0.9M230.6 102.9h0.9M237.2 86.1h0.9M229.1 137.7h0.9M223.9 70.2h0.9M224.4 122.2h0.9M228.7 85.8h0.9M221.2 82h0.9M226.2 80.3h0.9M219.8 81.7h0.9M234.7 121.2h0.9M233.5 66.1h0.9M233.3 118.8h0.9M225.3 85.5h0.9M231.5 123.8h0.9M227.3 91.5h0.9M220.6 105.1h0.9M230.8 64.4h0.9M218.9 116.8h0.9M218.5 120.3h0.9M219.5 77.9h0.9M231.9 68h0.9M234.1 128.4h0.9M221.2 129.6h0.9M221.7 98.8h0.9M222.6 110.1h0.9M232.6 131.6h0.9M235.6 120h0.9M236.4 77h0.9M234.4 102.6h0.9M228.5 113.5h0.9M228.9 70.5h0.9M236.8 86.2h0.9M219.6 79.7h0.9M225.1 125.8h0.9M231 72.6h0.9M229.4 124.9h0.9M234.7 129.9h0.9M229.3 122.9h0.9M223.9 122.4h0.9M236.7 107.8h0.9M234.3 64.1h0.9M234.7 57.6h0.9M238.2 71.6h0.9M232.7 113.8h0.9M221.4 95.8h0.9M234.3 76.9h0.9M223.1 128.7h0.9M219.6 124h0.9M233.8 80.9h0.9M220.9 113.4h0.9M229.7 136.1h0.9M236.5 122.3h0.9M228.8 124.9h0.9M226.4 80h0.9M236.4 126.3h0.9M228.9 135.7h0.9M228.4 80.3h0.9M220.7 114.4h0.9M218.9 106.9h0.9M228.9 80.4h0.9M233.4 132h0.9M222.2 98.7h0.9M223.5 94.3h0.9M216.8 138h0.9M223.9 90.6h0.9M229.7 100h0.9M218.8 92.1h0.9M222.8 135.7h0.9M227.2 90.6h0.9M224.4 76.9h0.9M237.2 63.2h0.9M235.7 87h0.9M232.7 56.9h0.9M230.6 129.1h0.9M232.4 63.9h0.9M232.9 88.3h0.9M226.8 110.4h0.9M236.4 69.3h0.9M227.4 77.2h0.9M223.2 110.1h0.9M232.4 92.2h0.9M228.1 108.8h0.9M224.3 109.9h0.9M236.2 136.2h0.9M230.5 124.6h0.9M229.3 132.7h0.9M229.6 110h0.9M237.9 73h0.9M231.4 75.8h0.9M236.6 100.6h0.9M236.7 118.7h0.9M229.6 120.4h0.9M222.8 64.8h0.9M222.4 83.2h0.9M235.2 108.3h0.9M232.8 99.9h0.9M226.1 85h0.9M220.8 108h0.9M231 114.5h0.9M236.7 82.3h0.9M231.3 122.4h0.9M229.4 92.1h0.9M237.2 107h0.9M222.9 108.1h0.9M228.8 125.7h0.9M230.2 91.6h0.9M226 94h0.9M234.7 98.7h0.9M235.3 129.5h0.9M218 110.5h0.9M217.5 126h0.9M224.8 128.4h0.9M225.7 93.3h0.9M233.5 118.9h0.9M222.7 132h0.9M229.5 100h0.9M229.8 66.5h0.9M220.1 70.1h0.9M219.3 104.4h0.9M230.2 114.3h0.9M223.8 115.1h0.9M234.6 125.3h0.9M222.6 111h0.9M226.7 129.2h0.9M225.1 78.2h0.9M227.9 83.3h0.9M221.5 125.6h0.9M220.7 95.5h0.9M228.2 66h0.9M235 78.2h0.9M224.1 117.1h0.9M229.2 62.7h0.9M221.4 97.6h0.9M219 122.1h0.9M233.4 75.2h0.9M227.5 114.6h0.9M220.2 88.1h0.9M226.8 96.3h0.9M233.3 66.3h0.9M225.3 75h0.9M228.2 100.6h0.9M225.4 116.9h0.9M226.6 89.6h0.9M232.3 118.7h0.9M231 125.2h0.9M222.5 127.9h0.9M220.8 112h0.9M229.9 89.2h0.9M230.9 74.1h0.9M219.1 107.7h0.9M232.3 90.8h0.9M224.9 74.1h0.9M225.2 119.6h0.9M235.8 75.7h0.9M234.6 69.4h0.9M229.3 134.6h0.9M236.3 67.8h0.9M235.6 71.9h0.9M217.6 133.9h0.9M226.2 131.8h0.9M218.5 98h0.9M219 130.6h0.9M225.3 121h0.9M237 73.7h0.9M232.5 125h0.9M235.8 99.8h0.9M234.5 102.8h0.9M228.9 81h0.9M230.9 86.3h0.9M223.7 110.7h0.9M233 94.4h0.9M224.8 75.6h0.9M235.2 113.5h0.9M232.2 69.2h0.9M227.9 67.5h0.9M234.8 121.3h0.9M226.8 63.5h0.9M223.8 87.7h0.9M225.6 85.6h0.9M230.9 131.3h0.9M229.2 83.6h0.9M230.9 83.7h0.9M224.5 123.1h0.9M231.7 79.6h0.9M226.2 95.4h0.9M223.2 72.2h0.9M228.7 109.5h0.9M222.7 79.6h0.9M220.6 102.2h0.9M220.9 60.3h0.9M231 58.3h0.9M228.5 109.4h0.9M237.9 66.1h0.9M227.7 81.6h0.9M229.1 122.9h0.9M222.9 121.1h0.9M224.4 127.2h0.9M222.2 123.1h0.9M220.9 80h0.9M230.6 123.9h0.9M224.8 109.2h0.9M233.1 93.6h0.9M218.9 108.1h0.9M235.5 80.1h0.9M236.6 112.9h0.9M220.9 85.5h0.9M226.7 97.1h0.9M236.2 97.2h0.9M224 118.4h0.9M231 106.3h0.9M229 80.5h0.9M220.5 119.8h0.9M226 81.8h0.9M226.5 108.4h0.9M224.6 103.5h0.9M227.2 104.1h0.9M224.4 103.5h0.9M230.7 130.6h0.9M223.5 63.8h0.9M220.4 123.8h0.9M221.8 125h0.9M225.9 108.6h0.9M227.1 107.1h0.9M227.2 71.4h0.9M227.6 77h0.9M230.9 60.7h0.9M218 138h0.9M229.4 96.7h0.9M217.7 113.7h0.9M231.1 98h0.9M237.7 80.2h0.9M232.1 125.9h0.9M233.8 107.6h0.9M222.9 121.2h0.9M233.7 84.9h0.9M230.8 135.4h0.9M219.3 110.1h0.9M227.4 135.4h0.9M223.3 88.4h0.9M220.2 86.9h0.9M231 113h0.9M233.4 125.2h0.9M219.4 112.2h0.9M222.3 111.6h0.9M225.6 79.4h0.9M233.1 101.2h0.9M232.7 66.6h0.9M222.5 81.8h0.9M221.1 107.3h0.9M238.4 67.2h0.9M227.5 123.4h0.9M222.2 66.2h0.9M222.8 75.5h0.9M224.4 117.4h0.9M220.9 71h0.9M228.5 77.9h0.9M233.5 82.6h0.9M218.6 92.9h0.9M223.8 122.1h0.9M227.1 135.6h0.9M231.5 107.8h0.9M231.1 127.4h0.9M222.6 66.2h0.9M237.8 84.3h0.9M223.4 89h0.9M224 71.2h0.9M218.4 104.2h0.9M235.1 75.2h0.9M228.1 117h0.9M227 62.7h0.9M233.7 90.8h0.9M224.9 80.7h0.9M224.1 58.5h0.9M235.1 89.8h0.9M234.5 71.5h0.9M225.3 103.1h0.9M223.9 88.5h0.9M235 94.7h0.9M228.3 108.8h0.9M225.7 101.2h0.9M221.5 122h0.9M217.8 135.4h0.9M227 110.5h0.9M218.6 126.1h0.9M231.8 120.7h0.9M232.8 99.1h0.9M228.9 110h0.9M235.1 80.6h0.9M229.6 74.6h0.9M219.7 131.7h0.9M221 121h0.9M229.5 102h0.9M234.6 117.3h0.9M225.9 59.1h0.9M230.7 124.2h0.9M225.8 134.8h0.9M224.4 121.7h0.9M219.2 137.9h0.9M220.5 130h0.9M235.5 102h0.9M235.5 117.2h0.9M231.5 121.2h0.9M230.8 136.6h0.9M217.8 121h0.9M234.9 133h0.9M220.3 88.2h0.9M225.1 92.3h0.9M232.7 70.6h0.9M229.7 105.6h0.9M220.6 136.1h0.9M229.6 129.4h0.9M237.9 75.4h0.9M218.3 103.8h0.9M230.9 58h0.9M233.8 106.4h0.9M236.7 72.9h0.9M229.8 129.3h0.9M232.9 123.7h0.9M236.7 100.4h0.9M228.9 77.7h0.9M229.6 129.9h0.9M230.7 116h0.9M234 82.5h0.9M220.7 103.9h0.9M221.6 67.7h0.9M234.3 118.6h0.9M222.6 122.4h0.9M224.6 112.5h0.9M221.6 85.9h0.9M225.8 120.9h0.9M224.8 70h0.9M229 71.1h0.9M236.7 126h0.9M221.3 97.3h0.9M233 122.1h0.9M232.7 61.5h0.9M220.2 101.5h0.9M227.2 130.3h0.9M222.5 97h0.9M230.4 76.7h0.9M231.9 74.2h0.9M236.4 117.8h0.9M227.1 115.3h0.9M224.6 117.7h0.9M224.2 134.7h0.9M236.5 76.7h0.9M220.8 109.3h0.9M224.7 80.2h0.9M220.6 104.5h0.9M234.6 94.6h0.9M224.7 67.5h0.9M237.7 88.8h0.9M230.4 84.9h0.9M224 62.3h0.9M219.5 73.5h0.9M236.2 117.6h0.9M224.6 80.5h0.9M228.1 95.9h0.9M231.7 85.8h0.9M217.3 123.5h0.9M228.4 87.9h0.9M218.5 123.8h0.9M223.1 136.2h0.9M219.5 81.5h0.9M226.6 80.9h0.9M235.2 109.2h0.9M233.9 101.2h0.9M222.6 71.5h0.9M232.8 123.8h0.9M233.4 90.6h0.9M220.3 91.4h0.9M233.7 127h0.9M229.2 91.8h0.9M225.7 135.1h0.9M228 62.8h0.9M223.5 103.3h0.9M225.9 86.8h0.9M220.9 133.1h0.9M234 122.1h0.9M237.4 73.8h0.9M229.8 127.7h0.9M226.2 130.2h0.9M226.8 64.7h0.9M227.6 134h0.9M220.1 109.5h0.9M235.1 85.3h0.9M229.1 78h0.9M232 134h0.9M227 112.6h0.9M228.6 93.6h0.9M232.7 125.5h0.9M220.6 81.9h0.9M227.5 82h0.9M220.2 138h0.9M223.3 103.2h0.9M225.5 115.4h0.9M232.4 75.8h0.9M226.2 81.1h0.9M219.4 121.4h0.9M225.9 122.6h0.9M221.2 129.3h0.9M222.9 70.3h0.9M222.9 72.3h0.9M233.7 100.1h0.9M228.6 65.5h0.9M235.8 99.5h0.9M217.5 118h0.9M235.5 79.6h0.9M234.8 85.8h0.9M219 101h0.9M221.8 71.9h0.9M234.1 91.8h0.9M218.5 96.5h0.9M217.3 123.5h0.9M229.7 129.7h0.9M225.5 87.3h0.9M226.6 76.9h0.9M237.3 97h0.9M235 73.7h0.9M229.4 128.9h0.9M229.2 129.9h0.9M219.3 127.8h0.9M232.8 88.3h0.9M220.8 132.4h0.9M227.2 106.1h0.9M228.7 75.9h0.9M220 97.2h0.9M228.9 113.3h0.9M222.3 110.2h0.9M230.2 55.2h0.9M222.5 103.1h0.9M218.4 110.2h0.9M228.3 132.3h0.9M225.4 111h0.9M220.7 70.4h0.9M231.4 130.1h0.9M223 84.7h0.9M235.6 137h0.9M226 99.9h0.9M228.3 123.7h0.9M237.4 82.6h0.9M222 132.1h0.9M233.4 136.9h0.9M235.5 137.8h0.9M234.3 79.4h0.9M222.9 69.1h0.9M225.3 78.9h0.9M229.5 125.4h0.9M222.2 120.2h0.9M229.3 135.1h0.9M223.3 105.9h0.9M218.6 126h0.9M228.1 124h0.9M226.4 88.1h0.9M222.7 84.9h0.9M226.8 103h0.9M223.8 71.5h0.9M220.1 67.8h0.9M232.4 68.6h0.9M223.9 61.8h0.9M229.7 80.9h0.9M221.6 121.9h0.9M221.3 133.7h0.9M235.1 111.8h0.9M220 107.2h0.9M232.4 127.6h0.9M229.8 111.3h0.9M234.5 73h0.9M222.3 78h0.9M220.1 105h0.9M230.8 89.7h0.9M232.1 90.6h0.9M236.8 101.7h0.9M235.5 89.8h0.9M226.6 75.4h0.9M234.4 104.6h0.9M235 128.2h0.9M226.9 55h0.9M223.2 84.4h0.9M235.3 74.2h0.9M225.5 101.5h0.9M224.6 69.3h0.9M219.5 95.2h0.9M229.7 99h0.9M228.1 117.3h0.9M220.7 118.3h0.9M221.3 124.3h0.9M230.4 82.6h0.9M235.2 62h0.9M224 114.5h0.9M223.2 68.7h0.9M222.5 107.1h0.9M233 101.5h0.9M231.6 128.9h0.9M232.8 81.1h0.9M229.6 134.5h0.9M225.6 54.3h0.9M236.2 93.5h0.9M226.3 126.2h0.9M221.8 99h0.9M220.6 109h0.9M227.5 99.1h0.9M231.4 112.7h0.9M234.4 132.2h0.9M220 125.1h0.9M232.1 91.1h0.9M218.7 89h0.9M220.1 103.5h0.9M227.1 72h0.9M229.3 117.1h0.9M226 87.3h0.9M225.1 92.4h0.9M224.7 129.1h0.9M228.3 117.1h0.9M229.9 90.7h0.9M226.6 120h0.9M223.3 109.9h0.9M222.2 110.9h0.9M236.9 77.4h0.9M230.1 112.5h0.9M230 78.7h0.9M223.3 78.5h0.9M220.4 108.2h0.9M231 82.3h0.9M229.8 128.3h0.9M234.1 63.7h0.9M218.9 132.8h0.9M220.5 83.3h0.9M227.9 78.9h0.9M225.2 91.3h0.9M235.6 116.4h0.9M227 102.4h0.9M229.3 121.7h0.9M222.8 105.6h0.9M231.5 100.9h0.9M230.8 63.7h0.9M231.6 102h0.9M235.4 132.6h0.9M233.1 133.3h0.9M233.2 66.7h0.9M226.9 98.2h0.9M226 85.5h0.9M222.6 87.7h0.9M228.7 122.5h0.9M226.7 136.3h0.9M235.5 135.6h0.9M229.8 61.5h0.9M225.1 131.3h0.9M222.3 118.4h0.9M226.6 83.5h0.9M223.1 104.3h0.9M220.1 67h0.9M233.7 127.6h0.9M227.7 79.4h0.9M229.5 87.6h0.9M220.1 73.5h0.9M236.7 100.8h0.9M229.2 124.2h0.9M227.6 63.3h0.9M228.8 137.7h0.9M226.8 114.3h0.9M220.9 116.9h0.9M235.3 137.2h0.9M225.7 110.7h0.9M217.2 126.3h0.9M231 73.8h0.9M222.6 123.7h0.9M235.3 112.7h0.9M227.3 121.2h0.9M234.4 121.6h0.9M223 92.3h0.9M226 82.2h0.9M216.8 135.2h0.9M221.4 106.5h0.9M226.6 67.8h0.9M222.5 118.4h0.9M218.6 112h0.9M225 82.8h0.9M229.6 65.3h0.9M224.4 77.7h0.9M224.8 119.5h0.9M231.3 111.6h0.9M233.4 123.1h0.9M227.6 111.7h0.9M237.1 81.9h0.9M235.7 87.1h0.9M230.2 133.3h0.9M221.4 133.1h0.9M224.7 100.3h0.9M235.2 100.3h0.9M226.3 63.3h0.9M223.1 119.1h0.9M234.4 83.9h0.9M231.7 116.9h0.9M234.5 70.9h0.9M236.5 88.6h0.9M227.5 77h0.9M234.6 99h0.9M225.8 70.7h0.9M237.4 65.4h0.9M225.2 96h0.9M225 103.3h0.9M232 83.7h0.9M226.5 89.4h0.9M231.7 93.4h0.9M233.9 115.6h0.9M237.8 70.8h0.9M231.4 108.5h0.9M229.7 81.3h0.9M228.6 109.1h0.9M223.2 103h0.9M221.6 114h0.9M226.2 129.4h0.9M217.5 131.5h0.9M231.6 61.9h0.9M218.8 113.1h0.9M236.3 99.1h0.9M236.9 70.5h0.9M232.3 125.2h0.9M224.8 104.5h0.9M231.4 129.6h0.9M235.2 88.5h0.9M231.4 98.6h0.9M226.2 84.5h0.9M231.2 93h0.9M230.3 76h0.9M222.9 93.4h0.9M219.7 122.7h0.9M223.1 102.8h0.9M222.5 119.2h0.9M226 109h0.9M228.5 104.7h0.9M232.6 91.3h0.9M218 122h0.9M229.5 58.9h0.9M231.3 116.3h0.9M229 82.2h0.9M220.1 101.3h0.9M218.3 109.8h0.9M226.8 97.6h0.9M234.7 94.7h0.9M229.3 114.2h0.9M231.5 93.9h0.9M222.8 108.7h0.9M221.8 90.6h0.9M225.4 133.4h0.9M235.2 101.8h0.9M226.5 89.9h0.9M231.5 100.5h0.9M223.3 99.3h0.9M231.5 128.1h0.9M235.9 70.6h0.9M220.4 89.3h0.9M228.7 102.6h0.9M231.1 104.6h0.9M236.3 80.1h0.9M225.5 82.7h0.9M220.9 97.7h0.9M229.9 107.7h0.9M238 75h0.9M219.1 92.9h0.9M224.9 135.2h0.9M233 102h0.9M231 124h0.9M235.2 131.8h0.9M227.6 137.1h0.9M225.5 80.6h0.9M231.8 108.7h0.9M219.2 107.2h0.9M226.9 76.9h0.9M229 117.6h0.9M236 114.2h0.9M232.4 111h0.9M233 77.1h0.9M230.5 127.7h0.9M236.8 77.9h0.9M229.9 86.1h0.9M227.8 84.6h0.9M228.8 125h0.9M233.7 129.8h0.9M236.9 59.4h0.9M234.5 72h0.9M230.2 111.1h0.9M236.3 67.8h0.9M219.1 93.3h0.9M237.4 69.5h0.9M220.7 133.5h0.9M226.2 115.2h0.9M217.9 110.4h0.9M227.3 105.1h0.9M231.4 78.1h0.9M220 108.6h0.9M236.1 130h0.9M236.6 72h0.9M229.3 121.4h0.9M235 69.4h0.9M226.2 82.7h0.9M232.7 79.9h0.9M234.6 60.7h0.9M227 90.8h0.9M225.6 86.1h0.9M220.6 93.7h0.9M229.6 76.1h0.9M219.3 91.7h0.9M227.3 94.1h0.9M220.1 81.2h0.9M235.5 91.8h0.9M220.4 71.4h0.9M227.8 69.5h0.9M233.4 90.8h0.9M234.9 110h0.9M234 137.6h0.9M223 71.7h0.9M235.9 115h0.9M232 126h0.9M228.5 73.9h0.9M231.1 103.8h0.9M231 104.5h0.9M228.4 70.4h0.9M220.4 93.2h0.9M231.7 68.7h0.9M236.4 91.8h0.9M227.9 128.8h0.9M233.3 105.8h0.9M228.6 136.9h0.9M220.2 93.6h0.9M218.3 117.6h0.9M222.8 78.1h0.9M229.4 127h0.9M218.3 102.4h0.9M237 73.5h0.9M222.1 65.1h0.9M223.9 93h0.9M226.1 121.6h0.9M220.6 108.5h0.9M225.1 127.3h0.9M229.4 120.9h0.9M219.4 122.7h0.9M221.4 119.2h0.9M232.5 133.8h0.9M225 54.2h0.9M226.2 102.1h0.9M219.6 106.7h0.9M226.7 96.9h0.9M225.9 107.2h0.9M228.8 87h0.9M221 118.3h0.9M229 109.5h0.9M229.6 60.8h0.9M222.3 95.5h0.9M224.5 88.5h0.9M221.3 115.3h0.9M224.5 63.2h0.9M235.1 75.6h0.9M229.1 112.4h0.9M222.3 91.5h0.9M237.1 84.6h0.9M227.9 127.8h0.9M228.1 121.3h0.9M218 115.3h0.9M235.3 126.9h0.9M233.7 113.7h0.9M220.9 103.6h0.9M226.8 74.5h0.9M226 103.2h0.9M230.4 83.7h0.9M231.4 104.7h0.9M236.4 112.7h0.9M234.2 121h0.9M220 127.8h0.9M228.8 84.7h0.9M232.9 56.9h0.9M223.9 66.3h0.9M229.9 74.2h0.9M231.7 55.3h0.9M231.6 77.8h0.9M232.4 74.4h0.9M221.1 82.7h0.9M224.8 62.3h0.9M217.2 135.8h0.9M220.4 121.6h0.9M226.3 126.9h0.9M235.1 74.8h0.9M225.5 120.9h0.9M232.2 85.1h0.9M236.8 86.1h0.9M228.5 134.3h0.9M219.6 124.2h0.9M226.2 90h0.9M225 86.1h0.9M221 124h0.9M226.8 72.5h0.9M219.7 127.9h0.9M227.4 99h0.9M234.6 98.9h0.9M229.7 74.7h0.9M230.2 63h0.9M218.7 100.4h0.9M234 107.9h0.9M218 125.3h0.9M217.9 117.5h0.9M226.6 114.4h0.9M224.6 116.5h0.9M227.1 89.5h0.9M226.7 117h0.9M221.6 66.1h0.9M218.8 96.3h0.9M237.8 83.6h0.9M236.4 92.8h0.9M217.2 136.7h0.9M236.2 71.8h0.9M224.7 118.6h0.9M230.7 63.8h0.9M219.6 94.8h0.9M225.7 114h0.9M234.7 65.4h0.9M219.4 107.3h0.9M230 77.9h0.9M234.6 102.8h0.9M230.6 81.6h0.9M218.3 112.5h0.9M232 76.4h0.9M226.9 85.3h0.9M222.6 124.8h0.9M230.9 90.4h0.9M228.2 81.4h0.9M233.1 129.2h0.9M226.9 132.1h0.9M221.9 88.4h0.9M217.5 128h0.9M228.9 115h0.9M217.7 114.6h0.9M236.3 73.6h0.9M222.4 81.6h0.9M224.4 69.3h0.9M218.7 113.1h0.9M230 105.7h0.9M229 108.9h0.9M231.5 97.4h0.9M229.7 93.1h0.9M236.6 99.8h0.9M230 113.2h0.9M220.2 101.4h0.9M224.1 79.9h0.9M227.1 74.6h0.9M225.5 63.1h0.9M237.1 63h0.9M236.8 104.4h0.9M232.1 112.9h0.9M235 78h0.9M222.6 120.5h0.9M227.8 69.7h0.9M226.9 99.7h0.9M230.8 71.2h0.9M234.7 132.9h0.9M233.3 101.4h0.9M217.3 132.5h0.9M231.2 103.7h0.9M222.3 131.6h0.9M226.6 114h0.9M237.3 64h0.9M219.1 94.5h0.9M233 74.3h0.9M230 133.1h0.9M233.2 127h0.9M224.9 106.6h0.9M222 92.7h0.9M223.5 121.2h0.9M221.5 124.5h0.9M222.7 59.7h0.9M237 106.4h0.9M235.3 82.9h0.9M222.9 92.2h0.9M227.3 100.7h0.9M225.7 112.5h0.9M229.8 84.2h0.9M224.7 99.3h0.9M233.2 85.4h0.9M228.1 87.2h0.9M224.6 62.5h0.9M227.5 129.7h0.9M230.5 82h0.9M236.7 121.5h0.9M221.8 130.1h0.9M230.5 85.8h0.9M229 128.4h0.9M224.2 117.6h0.9M235.6 74h0.9M220.4 107.5h0.9M219.3 115.2h0.9M230.7 120.6h0.9M224.8 128h0.9M236.9 74.3h0.9M223.7 62.2h0.9M225 113.9h0.9M222.9 57.4h0.9M229.9 79.3h0.9M225.7 83.4h0.9M237 75.9h0.9M235.9 59.2h0.9M227.1 125.1h0.9M234.1 58.1h0.9M234 72.3h0.9M228.5 63.3h0.9M231.5 125.5h0.9M227.8 108.5h0.9M226.8 83.4h0.9M221.6 118.4h0.9M235 131.1h0.9M229.1 77.8h0.9M227.3 126.9h0.9M220.3 120.5h0.9M223.8 99.5h0.9M236.5 109.2h0.9M224.4 116.5h0.9M230.8 97.2h0.9M228.8 74.3h0.9M221.1 96.5h0.9M221.1 113h0.9M235.7 108.9h0.9M235.1 103h0.9M226 102.9h0.9M234.1 94.1h0.9M227.6 121.1h0.9M223.8 103.3h0.9M229.7 67.9h0.9M220.6 79h0.9M221.7 104.7h0.9M220.2 64.4h0.9M225.8 132.1h0.9M226.9 96.5h0.9M235.7 70.8h0.9M225.2 114.7h0.9M234.5 102.2h0.9M220.4 107.6h0.9M227.9 134.2h0.9M230.4 68.4h0.9M231.9 119.4h0.9M223.1 111.6h0.9M222 73.2h0.9M225.4 76.3h0.9M222 88.8h0.9M233.4 110h0.9M226.5 99.7h0.9M234.5 70.8h0.9M223.7 66.5h0.9M227.7 121.7h0.9M220.8 69.8h0.9M234.5 135.1h0.9M227.6 121.5h0.9M221.4 124.3h0.9M226.8 119h0.9M235.6 75.6h0.9M223.7 111.3h0.9M230.2 70h0.9M225.4 86.2h0.9M234.6 95.9h0.9M221.1 101.8h0.9M224.7 122.7h0.9M233.9 58.6h0.9M227.7 95.7h0.9M219.1 112.8h0.9M227.5 95.3h0.9M228.7 121.1h0.9M224 90.3h0.9M226.6 126.2h0.9M231.6 137.4h0.9M233.9 79.9h0.9M232.5 125.4h0.9M227.4 84.6h0.9M232.8 74.6h0.9M235.3 104h0.9M231.9 132.7h0.9M235.3 95.4h0.9M229.8 77.9h0.9M236.2 72.9h0.9M235.1 108.5h0.9M232.2 135.5h0.9M221.1 67.6h0.9M219.5 111.7h0.9M234 67.9h0.9M222.5 82.6h0.9M227.9 83.8h0.9M232.7 71h0.9M231.8 96.2h0.9M234 104.2h0.9M236.3 57.7h0.9M223.3 90.4h0.9M235.7 61h0.9M226.6 116.2h0.9M237.9 61.4h0.9M226.2 80.4h0.9M231.2 134.2h0.9M225.8 88.2h0.9M221.1 125.7h0.9M233.5 83h0.9M231.7 103.3h0.9M228.3 76h0.9M227 90.4h0.9M234.3 75h0.9M231.7 63.7h0.9M226.8 107.5h0.9M224 81h0.9M234.6 67.5h0.9M231.5 72.4h0.9M218.2 103.5h0.9M230.6 117.8h0.9M224.8 60.1h0.9M231.3 85.3h0.9M228.8 98.7h0.9M229.2 109.4h0.9M225.8 82h0.9M225.2 94.3h0.9M230.3 74.2h0.9M217.9 107.3h0.9M229 104.5h0.9M226.2 109.3h0.9M230.6 117h0.9M226.8 112.7h0.9M222.1 65.1h0.9M228.8 72.9h0.9M234.7 96.8h0.9M237.3 71.1h0.9M236.9 109.5h0.9M218.9 108.3h0.9M219.5 133h0.9M226 102.1h0.9M237.1 72.9h0.9M237.2 101.3h0.9M220.1 111.6h0.9M231.8 100.2h0.9M221.5 93.5h0.9M220.8 129.8h0.9M224.1 126.2h0.9M222.2 89.5h0.9M223.8 82.1h0.9M224.5 129.8h0.9M227.6 101.9h0.9M231 122.8h0.9M221.3 98.1h0.9M221.5 136.1h0.9M225 120.4h0.9M226.4 103.3h0.9M232.4 128.5h0.9M226.5 116h0.9M227 75.4h0.9M229.1 75.5h0.9M231.3 110.3h0.9M230.9 130.6h0.9M235.4 101.7h0.9M236.5 108.7h0.9M220 95.3h0.9M235.8 95.2h0.9M227 114.4h0.9M219.6 100.9h0.9M221.4 135.6h0.9M224 87.2h0.9M218.9 88h0.9M225.2 112.7h0.9M231.6 99.8h0.9M232.9 78.7h0.9M228.7 72.6h0.9M225.6 99h0.9M233.5 97.9h0.9M220.4 100h0.9M227.4 65.4h0.9M220.2 104.9h0.9M235.1 121.7h0.9M224.5 83.8h0.9M231.2 70.8h0.9M233.8 93.8h0.9M224.6 135.9h0.9M218.7 119.8h0.9M234.5 94.7h0.9M232.8 126.1h0.9M230.7 105.3h0.9M236 83.8h0.9M220.1 102.6h0.9M220.9 95.5h0.9M220.3 63.2h0.9M235.9 134.2h0.9M235.6 64.3h0.9M227 115.5h0.9M227 76.1h0.9M232 105h0.9M222.7 126.6h0.9M235.9 134.3h0.9M220.4 91.5h0.9M235.9 132.8h0.9M221.9 71h0.9M232.7 93.5h0.9M231.6 79.1h0.9M221.3 116.7h0.9M236.5 91.9h0.9M227.9 66.9h0.9M235.8 104.8h0.9M231.3 135h0.9M220.3 66.9h0.9M229.6 85.4h0.9M231.1 72h0.9M236.3 98.4h0.9M236.9 76.6h0.9M235.2 71.1h0.9M237.1 73.6h0.9M221.5 115.7h0.9M235.5 121.5h0.9M226.1 117.1h0.9M223.5 70.8h0.9M225 99.4h0.9M232.9 70.7h0.9M222 66.8h0.9M224.2 120.7h0.9M225.1 106.7h0.9M234.8 78.5h0.9M222.9 110.1h0.9M230.7 132h0.9M226.3 119h0.9M228.9 101.3h0.9M230.4 92.4h0.9M223.1 103.1h0.9M233.6 85.2h0.9M232.7 95.6h0.9M232.9 113.3h0.9M231.1 103.8h0.9M228.9 127.1h0.9M236.5 84.9h0.9M232 83.9h0.9M227.9 99h0.9M232.2 122.2h0.9M235.3 90.7h0.9M223.4 115.2h0.9M231.3 98.6h0.9M227.2 131.5h0.9M236.5 73.3h0.9M221 136h0.9M232.7 84.9h0.9M224.9 134.3h0.9M221.5 122.7h0.9M233 73.6h0.9M231.2 88.7h0.9M219.9 64.5h0.9M224.2 125.7h0.9M223.9 130.1h0.9M232.2 90.6h0.9M231 72h0.9M236.3 109.9h0.9M228.7 117.9h0.9M231.9 57.7h0.9M218.7 131.2h0.9M220.2 122.4h0.9M233.9 121.4h0.9M219.3 80.9h0.9M237.2 101.3h0.9M235.4 116h0.9M221.3 121.5h0.9M230 84h0.9M222.8 131.8h0.9M228.6 86.2h0.9M218.3 128.5h0.9M228.2 103.4h0.9M222.4 86.7h0.9M229.8 91.3h0.9M233.5 63.6h0.9M225.2 84.2h0.9M221.9 108.3h0.9M226.6 107.5h0.9M223.2 102.4h0.9M232.9 84.7h0.9M221.3 75.8h0.9M233.7 82.8h0.9M228.7 69.7h0.9M226.5 73.7h0.9M217.8 111.7h0.9M229.9 71h0.9M228.4 61h0.9M225.3 62.3h0.9M229.1 80h0.9M232 62.3h0.9M233.5 134.1h0.9M223.7 120.4h0.9M220.6 70.7h0.9M230.7 83.9h0.9M222.8 136.4h0.9M236.3 122.3h0.9M222.1 87.4h0.9M224.3 103.5h0.9M228.6 115.1h0.9M230.9 104.1h0.9M231.3 88h0.9M233.2 92h0.9M219 105.8h0.9M233.7 96.2h0.9M223.1 131.2h0.9M223.3 131.6h0.9M233.9 123h0.9M231.4 73.2h0.9M232.2 96.3h0.9M220 133.6h0.9M217 137.2h0.9M228.7 80.8h0.9M223.5 98.8h0.9M236 63.3h0.9M235.4 124.5h0.9M226.8 127.4h0.9M220.8 108h0.9M231.6 86.5h0.9M220.7 91.9h0.9M227.2 84.3h0.9M233.9 134.1h0.9M217.1 125.9h0.9M230.6 133.9h0.9M229.1 56.1h0.9M229.5 88.3h0.9M237.6 78.2h0.9M222.3 81.2h0.9M229 118.4h0.9M229.6 124.4h0.9M234.5 82.3h0.9M228.4 99h0.9M225.9 81.1h0.9M222.9 86.8h0.9M221.7 65.5h0.9M228.2 102.9h0.9M225.3 121.6h0.9M224.1 94.7h0.9M218.8 94.2h0.9M232.6 129.6h0.9M231.9 101.7h0.9M222.6 134.7h0.9M220.2 133.5h0.9M230.4 105.7h0.9M224.5 65.4h0.9M228.9 134.8h0.9M228.1 58h0.9M225.2 107.9h0.9M220.5 104.5h0.9M236.2 131.9h0.9M224.7 72.6h0.9M236.4 121.1h0.9M226.4 132.7h0.9M235.3 82h0.9M223.8 77.9h0.9M237.7 90.9h0.9M224.8 99.3h0.9M222.2 117.1h0.9M232 72.9h0.9M220.2 137.6h0.9M224.9 92.4h0.9M220.7 83.5h0.9M230.9 135.4h0.9M227.8 115.9h0.9M226.8 120.9h0.9M233 83.5h0.9M218.5 132.8h0.9M231.1 92.6h0.9M218.1 114.3h0.9M231.6 107.8h0.9M224.8 88.3h0.9M227.4 117.5h0.9M230.1 74.1h0.9M226.9 61.8h0.9M224.1 73.3h0.9M226.2 98.7h0.9M230.6 113.1h0.9M224.6 87.1h0.9M223.4 108.8h0.9M235.4 66.2h0.9M229.1 136.3h0.9M230.7 66.8h0.9M237.3 78.7h0.9M227.7 97.1h0.9M221.4 70.7h0.9M236.1 97.3h0.9M228.5 97.6h0.9M235 99h0.9M227.9 113.8h0.9M220.7 70.3h0.9M229.6 125.1h0.9M229.9 96.1h0.9M220.9 117.8h0.9M232.9 96.3h0.9M229.4 128.7h0.9M229.1 122.5h0.9M230.7 123.1h0.9M224.4 137.3h0.9M226.4 133.3h0.9M233 104.3h0.9M226.8 93.1h0.9M224.6 87.1h0.9M220.3 113.1h0.9M221.7 102.7h0.9M230.6 69.9h0.9M222.6 64.1h0.9M231.2 108.5h0.9M230.3 80.9h0.9M226.8 81.1h0.9M222.2 79.2h0.9M218.4 133.9h0.9M222.4 95.1h0.9M235.7 133.2h0.9M222 134.1h0.9M230.1 97.3h0.9M230.4 125.4h0.9M230.1 88.3h0.9M234.1 86.6h0.9M228 131h0.9M228.4 72.9h0.9M235 122.9h0.9M231.4 95.3h0.9M235.2 66h0.9M235.3 74.5h0.9M219.9 78.2h0.9M235.1 92h0.9M227.8 75.9h0.9M235.7 134.3h0.9M232.2 123.6h0.9M220.4 123.1h0.9M234.3 136.9h0.9M220.2 119h0.9M218.1 112.6h0.9M221.6 117.6h0.9M223.4 128.9h0.9M235.6 105.8h0.9M224.4 103.7h0.9M231.8 58.8h0.9M231.3 80.6h0.9M232.8 76.7h0.9M233.3 98.4h0.9M228.8 70.5h0.9M220.9 72.4h0.9M224.2 120.3h0.9M219.5 91.3h0.9M237.2 69.2h0.9M231.9 114h0.9M231.5 78.4h0.9M236.9 97.9h0.9M225.9 64.1h0.9M221.8 113.9h0.9M233.3 91.7h0.9M220.2 69.1h0.9M227.4 95.6h0.9M217.4 135.4h0.9M220.2 96.5h0.9M223.6 73h0.9M228.2 101.5h0.9M221.7 130.5h0.9M231.4 108.6h0.9M233 103.9h0.9M222.7 76.2h0.9M220.1 64.6h0.9M228.8 67.1h0.9M236 73.5h0.9M236.1 74.4h0.9M229.1 115.7h0.9M219.3 105.8h0.9M218.7 112.7h0.9M225.9 74.7h0.9M226.1 92.6h0.9M219.5 81.6h0.9M229.7 102.3h0.9M232.6 92.2h0.9M230.8 99.1h0.9M233.6 125.4h0.9M219.8 91.6h0.9M221.4 89.2h0.9M229.4 104.2h0.9M225.7 124.7h0.9M236.1 83.1h0.9M220.8 69.6h0.9M233.9 135.1h0.9M229.7 116.2h0.9M232.9 107.2h0.9M227.6 132.2h0.9M227.9 98h0.9M231.1 91.7h0.9M220.1 69.3h0.9M234.3 95.7h0.9M220.6 123.4h0.9M224.5 127.2h0.9M227.7 94.6h0.9M235.4 88.3h0.9M229.1 72.3h0.9M224 92.6h0.9M234.1 59.6h0.9M221.1 111.4h0.9M230.6 132.8h0.9M238.4 65h0.9M231 116.9h0.9M227.7 90.9h0.9M231.6 59.4h0.9M235.7 69.2h0.9M229.3 81.3h0.9M233.8 116.7h0.9M222.8 124.5h0.9M236.2 99.4h0.9M220.9 118.4h0.9M220.4 64.4h0.9M225.3 56h0.9M227.7 74.6h0.9M233.6 82.1h0.9M235 135.7h0.9M225.8 127.9h0.9M231.7 133.6h0.9M227.6 67.7h0.9M231.3 65.6h0.9M231.1 59.6h0.9M233.1 128.4h0.9M219.7 113.8h0.9M230.2 110.3h0.9M222.4 84.3h0.9M220.7 84.5h0.9M228 109h0.9M221.9 137h0.9M222.1 81h0.9M225.7 131.8h0.9M217.8 120.4h0.9M233.1 128.3h0.9M223.1 97h0.9M237 103.3h0.9M229.1 69h0.9M217.8 116.9h0.9M229.7 75.2h0.9M229.7 114.7h0.9M220.7 122.6h0.9M221 71h0.9M236.3 106h0.9M225.5 69.2h0.9M235.8 68.1h0.9M219.9 114.3h0.9M226.3 92.7h0.9M223.6 101.1h0.9M229.2 98.2h0.9M227.5 63h0.9M230.2 87.3h0.9M236.8 83.9h0.9M223.6 93.5h0.9M226 119.4h0.9M223.2 88.9h0.9M221.6 76h0.9M226.4 96.9h0.9M225.7 95.6h0.9M223.8 104.5h0.9M229.5 67.9h0.9M222 86.2h0.9M235.7 127.6h0.9M234.6 65h0.9M235.1 69.2h0.9M230.2 94.3h0.9M225.8 84.2h0.9M234.6 110.9h0.9M222.2 78.7h0.9M231.4 95.2h0.9M221 72.1h0.9M225.5 57.6h0.9M235.9 109.3h0.9M222.3 69.4h0.9M223.6 105.4h0.9M224.3 94.5h0.9M229.2 101h0.9M220.3 108.3h0.9M234 94.6h0.9M232.8 64.3h0.9M224.2 58.5h0.9M228.5 99.5h0.9M223.2 123.2h0.9M235.9 100.4h0.9M224 136.3h0.9M220.6 93.7h0.9M231.7 98.8h0.9M232.9 63.6h0.9M226 107h0.9M234.7 65.2h0.9M231.1 112.5h0.9M236.5 64.8h0.9M218 136.9h0.9M224.5 130.6h0.9M222.4 134.8h0.9M218.4 122.3h0.9M230.2 96.5h0.9M237 103.2h0.9M224.7 75.4h0.9M221.6 100.4h0.9M231.2 114.5h0.9M224 86.7h0.9M228.6 80.7h0.9M219.7 91.3h0.9M234.2 68.8h0.9M228.1 67.8h0.9M229.6 85.9h0.9M230.8 103.3h0.9M222.6 94.6h0.9M220.4 126.8h0.9M220.4 112.2h0.9M225.7 128.1h0.9M228.4 100.5h0.9M231.6 61.1h0.9M221.7 123h0.9M225.1 100.9h0.9M221.9 73.6h0.9M221.3 90.6h0.9M234.3 71.3h0.9M235 118.1h0.9M225.7 121.2h0.9M233.2 135.3h0.9M235.1 83.5h0.9M229.7 119.6h0.9M221.5 126.3h0.9M232.8 109.1h0.9M233.9 97.3h0.9M222.5 112.1h0.9M232.1 109.7h0.9M222.9 107.8h0.9M228.5 58h0.9M235.4 117.6h0.9M226.7 123.3h0.9M229.1 80.1h0.9M222.7 128.7h0.9M236.3 69.7h0.9M236.6 115.3h0.9M229.2 122.3h0.9M228.4 110.6h0.9M222.2 128.1h0.9M231 120.1h0.9M219.2 88.1h0.9M236.4 59.4h0.9M227.8 125.7h0.9M227.1 81.1h0.9M223.4 86.5h0.9M226.9 80.9h0.9M222.3 66.4h0.9M217.8 127.4h0.9M228.9 75h0.9M233.8 89.9h0.9M224.4 95.6h0.9M231.7 104h0.9M219.8 106.8h0.9M224.3 137.5h0.9M226.4 68.9h0.9M237 70.2h0.9M236.7 68.5h0.9M236.5 73.3h0.9M227.9 58.8h0.9M235.2 79.6h0.9M230.9 100h0.9M232.8 133.3h0.9M232.1 73.7h0.9M230.6 85.5h0.9M222.5 121.4h0.9M222.1 73.7h0.9M238.3 65.4h0.9M232.6 108h0.9M223.5 97.4h0.9M223.7 76.1h0.9M219 99.7h0.9M232.1 127.8h0.9M236.4 86.9h0.9M228 129.5h0.9M228.5 121.2h0.9M221.8 120.6h0.9M223.7 74.6h0.9M229.1 83.8h0.9M237 92.4h0.9M230 108.4h0.9M233.2 77.5h0.9M231.4 55.4h0.9M226.4 82.1h0.9M236.6 84.5h0.9M225.5 91.8h0.9M221 138.1h0.9M229.6 81.2h0.9M233.4 129.3h0.9M218.5 124.3h0.9M228.2 94.7h0.9M220.8 115.9h0.9M232 88.9h0.9M236.4 131.2h0.9M229.2 117h0.9M230.9 128.5h0.9M233.9 68.6h0.9M232.9 62.7h0.9M229.7 135.5h0.9M229.4 116h0.9M218.2 136h0.9M225.3 88.9h0.9M235.1 137.2h0.9M222.4 79.1h0.9M223 101.5h0.9M230.4 136.5h0.9M224 119.9h0.9M229.4 99h0.9M227.4 115.9h0.9M222.3 88.2h0.9M233.7 72.8h0.9M229.9 109.4h0.9M219.8 128.8h0.9M224.2 126.6h0.9M237.2 85.3h0.9M223.8 83.6h0.9M231.2 134.9h0.9M230.9 93.5h0.9M225.3 62h0.9M235.3 119.9h0.9M233.7 135.1h0.9M230.3 126.2h0.9M220.1 106.3h0.9M234.1 109.5h0.9M221.1 86.6h0.9M236.3 70.3h0.9M222.6 127.5h0.9M233.2 67.9h0.9M236.3 77h0.9M231.5 65.6h0.9M219.4 105.8h0.9M229.4 100.5h0.9M225 118.7h0.9M236.6 64.3h0.9M227.4 110.1h0.9M227.4 132.6h0.9M228.3 73.4h0.9M226.7 114.6h0.9M224.7 90.2h0.9M226.1 76.8h0.9M232.2 82.8h0.9M218.2 103.5h0.9M218.9 83.7h0.9M222.7 114.4h0.9M229.8 125.9h0.9M233.1 109.9h0.9M232.3 103.7h0.9M218.7 120.1h0.9M234.1 111.3h0.9M226.5 75.1h0.9M235.3 127.2h0.9M228.8 73.3h0.9M229.6 94.9h0.9M226.7 70.5h0.9M221.7 126.3h0.9M236 126.7h0.9M228.7 63.5h0.9M223.3 104h0.9M231.7 102.9h0.9M237.3 67.7h0.9M232 65.5h0.9M235.8 77.7h0.9M220.1 66h0.9M223.3 65.5h0.9M227.8 89.8h0.9M229.9 107.7h0.9M224.3 72.7h0.9M231.1 132.3h0.9M221.3 76.6h0.9M219.8 118.9h0.9M232.7 68.4h0.9M219.5 113.1h0.9M237.7 81.8h0.9M224.6 112.9h0.9M220.8 80.5h0.9M231 73.6h0.9M232.6 75.6h0.9M219.1 81.2h0.9M228 124.2h0.9M228.2 119.4h0.9M224 66.5h0.9M234 101.5h0.9M224.9 124.7h0.9M223.2 123.6h0.9M231.3 103.1h0.9M231.7 113.2h0.9M222.5 113.4h0.9M231.6 126.3h0.9M222.6 124.8h0.9M225.2 86.8h0.9M227.4 125.1h0.9M234.7 107.5h0.9M228.8 84.7h0.9M224.4 94.9h0.9M229.7 96.7h0.9M232.1 70.1h0.9M230.5 125.4h0.9M220.6 124.7h0.9M223.1 88h0.9M227.1 124.6h0.9M235 90.9h0.9M235.7 80.2h0.9M230.5 114h0.9M227.1 122.8h0.9M232.1 84.8h0.9M235.3 132.1h0.9M225.5 78.2h0.9M236.2 111.9h0.9M227 94.6h0.9M220.4 97h0.9M229.8 126.3h0.9M233.7 115.4h0.9M225.3 63.8h0.9M230 68.2h0.9M220.6 78.8h0.9M220.2 102.3h0.9M234.3 117.3h0.9M232 64.9h0.9M223.8 104.3h0.9M237.1 74.2h0.9M219.4 119h0.9M226.5 71.1h0.9M221 90.4h0.9M230.7 129.8h0.9M226.5 79.7h0.9M224.1 67.6h0.9M227.6 128.9h0.9M234.1 56.1h0.9M219.5 121.3h0.9M220.2 130.1h0.9M237 107h0.9M225.2 113.6h0.9M227.9 108.6h0.9M229 108.6h0.9M231.7 132h0.9M233.2 86.4h0.9M222.7 111.5h0.9M228.8 112.1h0.9M230.2 67.9h0.9M234.1 97.5h0.9M235.1 113h0.9M235.9 67.3h0.9M228.2 53.7h0.9M236.9 77.1h0.9M235.3 58.2h0.9M227.7 105.4h0.9M225.8 99.2h0.9M232.9 79.9h0.9M230.3 87.6h0.9M233.4 76.6h0.9M233 99.8h0.9M235.1 69.9h0.9M230.4 105.8h0.9M227.8 66.2h0.9M234.2 70.1h0.9M228.2 74.9h0.9M221.3 101.1h0.9M217.3 121.6h0.9M234.2 66.4h0.9M234.9 114.3h0.9M233.1 113h0.9M237.3 70.6h0.9M224.9 113.8h0.9M222.1 121.1h0.9M230.8 123.1h0.9M236.2 65.1h0.9M233.8 92.3h0.9M235.7 93.8h0.9M228.2 95.7h0.9M231.8 80.2h0.9M225.7 137.9h0.9M225.2 119.8h0.9M228.4 93.1h0.9M223.8 124.6h0.9M234.5 56.8h0.9M223.8 133.4h0.9M221 68h0.9M224.3 100.6h0.9M231.9 89.9h0.9M225.4 93.2h0.9M228.1 97.6h0.9M224.3 131.5h0.9M227.7 109.4h0.9M227.5 121.8h0.9M227.6 134.4h0.9M219.6 106.4h0.9M231.5 106.2h0.9M229.1 112.8h0.9M220.3 81.9h0.9M222.3 63h0.9M228.3 108.3h0.9M224.5 110.8h0.9M230.6 68.9h0.9M221.8 85h0.9M219 131.5h0.9M225.5 109.3h0.9M235.7 90.3h0.9M234.8 71.3h0.9M233.3 131.6h0.9M232.1 137.7h0.9M228 77.6h0.9M235.9 88.1h0.9M230.7 134.8h0.9M235 97.7h0.9M234.8 98.7h0.9M228.3 111.1h0.9M233 85.8h0.9M227.1 134h0.9M227 73.4h0.9M235 78.4h0.9M229.4 81.8h0.9M220.2 87.3h0.9M229.9 131.6h0.9M223.8 115.4h0.9M225.9 134.8h0.9M219.7 87.1h0.9M230.3 111.9h0.9M220.3 108.3h0.9M227.3 91.6h0.9M223.6 121.6h0.9M225.7 84.4h0.9M229.2 115.6h0.9M223.1 128.2h0.9M221.2 130.7h0.9M233.3 125.4h0.9M222.2 113.6h0.9M221.4 136.4h0.9M226.1 111.3h0.9M218.2 105.4h0.9M221.6 116.3h0.9M235.1 78.6h0.9M234.4 65.1h0.9M222.8 123.9h0.9M230.6 84.7h0.9M228.8 123.4h0.9M224.4 95.4h0.9M231.8 113.3h0.9M225.9 122.8h0.9M225.1 118.6h0.9M238.4 65.7h0.9M235.7 134.2h0.9M235.8 81.5h0.9M232.7 132.5h0.9M227.9 78.1h0.9M231.5 111.2h0.9M225.7 131.5h0.9M218.7 115h0.9M223 126.5h0.9M217.9 114.7h0.9M227.9 87.7h0.9M228.4 94.7h0.9M233.3 137.8h0.9M220 85.3h0.9M234.8 70.6h0.9M227.9 114.2h0.9M221.5 116.4h0.9M227.4 93.9h0.9M228 81.6h0.9M230.5 63.6h0.9M233.4 99.6h0.9M229.7 125.8h0.9M225.6 91.8h0.9M236.6 82.3h0.9M231.9 68.9h0.9M228.3 111.5h0.9M225.7 97.3h0.9M232 96.1h0.9M223 81.4h0.9M220 69.6h0.9M221.3 111.5h0.9M227.2 102.4h0.9M222.3 64.8h0.9M222.6 131.9h0.9M226.4 103.7h0.9M224.5 98.4h0.9M221.3 97.9h0.9M222.4 75h0.9M230.2 97.4h0.9M224.1 102.2h0.9M226.2 107.8h0.9M223.7 132.8h0.9M227.9 64.7h0.9M231.6 123.9h0.9M226.1 134.7h0.9M230.1 118.6h0.9M221.5 60.4h0.9M224.2 133.9h0.9M223.9 58.4h0.9M232.8 84.5h0.9M223.2 113.3h0.9M228.7 73.8h0.9M227.7 112.2h0.9M236.4 75.7h0.9M217.5 117.9h0.9M219.3 95.6h0.9M223.9 128.4h0.9M218.8 133.1h0.9M235.2 84.3h0.9M234.2 131.1h0.9M234.5 58.2h0.9M231.1 127.9h0.9M229 68.4h0.9M218.4 128.2h0.9M226.8 125.3h0.9M223 116.7h0.9M232.4 94.6h0.9M219.7 81.7h0.9M232.1 79h0.9M219.9 99.5h0.9M228.5 118.5h0.9M233.4 87.6h0.9M224.1 64.5h0.9M237.5 68.1h0.9M232.6 137.9h0.9M222 105.6h0.9M232.5 121.8h0.9M231.4 134.2h0.9M235.8 58.3h0.9M219.1 101.3h0.9M220.7 71.7h0.9M218.8 113.1h0.9M231.9 134.5h0.9M231 88.8h0.9M237.8 66.5h0.9M221.1 75.9h0.9M224 75.7h0.9M224.8 108.1h0.9M227 78.1h0.9M235.8 111.1h0.9M220.1 119.2h0.9M218.6 131.5h0.9M237.4 65.1h0.9M233.8 71.9h0.9M229.5 65.6h0.9M220.1 90.1h0.9M225.5 114.7h0.9M217.5 130.7h0.9M235.3 79.1h0.9M220.6 96.8h0.9M219.7 128.1h0.9M228.2 99.5h0.9M223.1 98.3h0.9M228.5 73.1h0.9M235.5 100.9h0.9M218.7 111.1h0.9M230.3 119.6h0.9M237 87.1h0.9M227.6 117.1h0.9M221.9 74.3h0.9M231.5 117.1h0.9M217.2 127.4h0.9M226.7 109h0.9M227.1 57.5h0.9M236.4 71.5h0.9M232.4 103.6h0.9M235.4 86.2h0.9M222.4 91.8h0.9M230 109.2h0.9M223.3 90.4h0.9M221.7 106h0.9M220.2 119.2h0.9M226.7 116.6h0.9M234.8 105.6h0.9M229.9 87.8h0.9M234.8 105.3h0.9M235.7 136.5h0.9M229.7 129.2h0.9M220.1 103.5h0.9M222.8 85.1h0.9M228.1 73.3h0.9M220.4 85.2h0.9M231.3 83.4h0.9M234.1 107.2h0.9M225.5 105.8h0.9M236.2 107h0.9M226.3 94.2h0.9M232 132.9h0.9M225.5 94.7h0.9M232.8 67h0.9M234.1 86.2h0.9M221.1 133.9h0.9M221.2 117.2h0.9M225.7 134.6h0.9M224.4 60.7h0.9M222.1 105h0.9M232.2 81.1h0.9M220.6 118.5h0.9M222.7 124.6h0.9M225.9 90.1h0.9M222.8 124h0.9M227.1 97.9h0.9M231.7 97.6h0.9M225.8 127.2h0.9M224.3 118.9h0.9M222.2 84.8h0.9M231.7 80.2h0.9M225.7 73.3h0.9M219.3 75.2h0.9M233.7 61.4h0.9M218.8 130.1h0.9M232.2 136.2h0.9M227.4 83h0.9M236.8 82.9h0.9M220.1 103.2h0.9M225.9 78.1h0.9M228.3 95.4h0.9M223 125.4h0.9M230.9 120.8h0.9M231.4 105.4h0.9M232.7 127h0.9M219.2 105.5h0.9M227 68.4h0.9M228.5 98.8h0.9M224.9 111.5h0.9M234.1 119.5h0.9M232.9 66.6h0.9M225.8 126.1h0.9M231.3 68.8h0.9M219.7 136.5h0.9M230.6 114.4h0.9M229.2 124.3h0.9M234.1 62.8h0.9M228.1 62h0.9M233.1 112.5h0.9M226.4 99.8h0.9M236.4 64.6h0.9M222.9 102.7h0.9M233.4 74.6h0.9M228 66.1h0.9M227.6 106h0.9M237 70.2h0.9M232.1 134.2h0.9M235.8 128.2h0.9M231.2 59.8h0.9M234.7 104.3h0.9M230.3 102.4h0.9M232.5 117.7h0.9M217.4 134.8h0.9M221.9 103.9h0.9M233.2 123h0.9M218.2 118.7h0.9M222.9 65.7h0.9M233.5 126.5h0.9M229.1 114.4h0.9M226.3 117.6h0.9M230.5 131.7h0.9M223.5 86.7h0.9M227.3 104.3h0.9M221.9 76.6h0.9M235.5 129.8h0.9M219.1 80.7h0.9M232.1 60.2h0.9M231.8 118.9h0.9M231 106.1h0.9M227.7 127.4h0.9M226.3 110.5h0.9M224.6 73.3h0.9M234.3 93.8h0.9M216.6 136.7h0.9M225.3 114.8h0.9M220.8 93.5h0.9M232.9 73.5h0.9M218.3 121.1h0.9M227.6 92h0.9M219.6 72.4h0.9M228.3 112.7h0.9M219.4 127h0.9M226.4 109.2h0.9M227.1 69.8h0.9M224 71.5h0.9M217.4 123.8h0.9M221.3 73.9h0.9M235 122.4h0.9M226.7 79.8h0.9M225.5 89.1h0.9M224 66h0.9M236.1 69.6h0.9M228 129.8h0.9M226.2 77.7h0.9M219.6 95h0.9M224.2 120h0.9M235 117.6h0.9M223 101.5h0.9M221.2 133.1h0.9M230.1 98.3h0.9M233.9 53.5h0.9M219.2 79.1h0.9M230.2 85.8h0.9M231.9 73.1h0.9M225.1 73.6h0.9M230.4 91h0.9M219 110.3h0.9M232.2 85.7h0.9M227 71.7h0.9M229.3 129.2h0.9M234.1 95.8h0.9M228.1 113.9h0.9M220.1 110.7h0.9M224.3 96.1h0.9M221.5 96.2h0.9M221.2 104.5h0.9M228.2 117.6h0.9M232.9 97.6h0.9M220.8 80.9h0.9M221.6 100.6h0.9M229.5 107.5h0.9M226.1 120.5h0.9M237.3 71.4h0.9M230.9 123.3h0.9M228.7 58h0.9M231.2 70.6h0.9M219.3 106.3h0.9M226.9 129.2h0.9M229.7 89.3h0.9M222.4 106.1h0.9M224.5 123.3h0.9M233.5 130.9h0.9M224.4 114.9h0.9M218.8 112.9h0.9M220.4 130.9h0.9M231.2 68.2h0.9M225.5 99.2h0.9M220.6 92.2h0.9M229.4 79.9h0.9M231.7 87.3h0.9M229.1 72.1h0.9M234.1 75.2h0.9M234.4 77.6h0.9M228 88h0.9M218.2 130.5h0.9M217.6 134.1h0.9M221.9 63.5h0.9M234.3 104.3h0.9M221 96.9h0.9M219.5 72.6h0.9M230.1 84.8h0.9M224.9 90.8h0.9M219.6 95.4h0.9M224.5 98.8h0.9M225.5 98.3h0.9M226 119.7h0.9M227.1 59.5h0.9M231.5 68.9h0.9M226.5 131.7h0.9M220 134.6h0.9M227.6 79.2h0.9M226.4 72.1h0.9M234 78.4h0.9M234.9 78.1h0.9M223.8 123.6h0.9M230.4 71.9h0.9M218.5 133.2h0.9M226.9 127.2h0.9M223.1 91.8h0.9M221 137.4h0.9M235 72.1h0.9M219.1 96.2h0.9M227.4 108.3h0.9M223.4 71h0.9M238 65.8h0.9M221.8 106.3h0.9M217.5 120.1h0.9M231 62.9h0.9M235.9 131.9h0.9M236.7 104.2h0.9M224.6 83.6h0.9M231.1 95.6h0.9M218.3 126h0.9M226.9 68.4h0.9M224.6 117.3h0.9M225.2 79h0.9M237.5 79.8h0.9M226.6 114.8h0.9M233 121.8h0.9M221.7 98.9h0.9M231.9 68.3h0.9M222.2 81.1h0.9M232.2 69h0.9M233.1 89.1h0.9M231.1 116h0.9M219.5 106.9h0.9M236.9 103.6h0.9M225.3 135.9h0.9M222.5 89.4h0.9M232.6 93.4h0.9M225.4 86.3h0.9M232.6 113h0.9M231.7 123h0.9M219.7 118.5h0.9M237.4 71.5h0.9M237.6 63.8h0.9M229.3 79.3h0.9M225.5 98.1h0.9M231.3 119h0.9M224 118.7h0.9M218.4 127.5h0.9M230.7 81.6h0.9M220.2 94.4h0.9M233.2 118.7h0.9M221.6 105.7h0.9M230.9 122.7h0.9M227.3 125h0.9M227.3 95.6h0.9M224.1 110.4h0.9M234.6 69.6h0.9M230.5 124h0.9M230.4 129.6h0.9M221.6 102.1h0.9M235.8 65.6h0.9M237.6 70.8h0.9M233 109.9h0.9M223.9 118.5h0.9M223.8 87.3h0.9M230.4 66.7h0.9M223.3 123.5h0.9M220.6 62.1h0.9M234.1 137h0.9M232.7 109.3h0.9M220.1 71.9h0.9M219 111.7h0.9M218.9 96.2h0.9M218.6 107.2h0.9M231.8 134.9h0.9M232.5 124h0.9M234 94h0.9M233.5 116.4h0.9M220.8 77.1h0.9M229.8 93.5h0.9M227.4 131h0.9M219.9 72.1h0.9M235.9 108.9h0.9M235.1 94.9h0.9M225.8 106.1h0.9M219.9 85.6h0.9M220.7 71.1h0.9M230.2 112h0.9M224.1 104.8h0.9M221.1 104.4h0.9M229.8 131.6h0.9M233.7 117h0.9M219.6 90.4h0.9M229.6 102.3h0.9M228.4 117.6h0.9M222.1 98.1h0.9M221.5 68.6h0.9M218.7 115.7h0.9M230.1 91h0.9M221.9 60.9h0.9M220 119.1h0.9M225.3 137.5h0.9M236 70.2h0.9M223.3 86.5h0.9M237 97.7h0.9M230.6 74.2h0.9M218.7 98.8h0.9M225.6 61.8h0.9M219.5 113.2h0.9M233.5 106.5h0.9M229.2 67.6h0.9M222.1 104.1h0.9M228.6 112.2h0.9M220.8 136h0.9M222 71.4h0.9M225.8 110.1h0.9M231.3 99.5h0.9M234.4 112.5h0.9M230.7 67.4h0.9M225.7 115.2h0.9M226 69h0.9M222.9 122.9h0.9M225.1 111.3h0.9M227.8 108.1h0.9M222.4 70.9h0.9M234.6 110.7h0.9M233.6 86.4h0.9M231.9 73h0.9M228.2 104.6h0.9M219 122.9h0.9M232.5 86.6h0.9M219.8 111.7h0.9M219.4 85.2h0.9M219.1 95.5h0.9M229.2 131.4h0.9M218.8 125.9h0.9M221.6 88.4h0.9M229.9 87h0.9M236.2 124.2h0.9M234.1 82.6h0.9M235.1 124.4h0.9M234 74.3h0.9M231 58.4h0.9M225.9 74.9h0.9M224.7 104.2h0.9M219.9 109.7h0.9M222.8 99.5h0.9M235.9 83.1h0.9M235.5 115h0.9M222.7 131.9h0.9M230.4 67.6h0.9M223 123.7h0.9M232.2 91.3h0.9M218.3 129h0.9M228.4 110.1h0.9M235.3 73.5h0.9M223.5 133.4h0.9M227.9 136.5h0.9M225.6 112.8h0.9M220.2 71.6h0.9M226.6 109.6h0.9M227.4 92.4h0.9M220.7 125.4h0.9M226.9 125.7h0.9M226.3 84.4h0.9M227.9 120.4h0.9M223.4 87.5h0.9M229.8 92.7h0.9M226.4 86.7h0.9M227.6 97.3h0.9M223.1 113.7h0.9M223.8 83.9h0.9M231.6 64.5h0.9M220.6 92.5h0.9M224.3 116.3h0.9M233 118.5h0.9M222.3 122.2h0.9M223.4 126.5h0.9M228 100.4h0.9M229.1 73.8h0.9M225 72.4h0.9M223.6 115.4h0.9M229.2 95.6h0.9M219.3 115h0.9M222.4 75.1h0.9M235.7 79.3h0.9M222 121.6h0.9M224 79.8h0.9M217.5 128.1h0.9M236.4 110.6h0.9M234 81.1h0.9M225.2 82.3h0.9M222.4 81.2h0.9M218.9 90.6h0.9M232.8 126.4h0.9M223.2 130h0.9M219.1 98.7h0.9M238.4 65.2h0.9M234 116.3h0.9M234.8 76.4h0.9M234.2 114.5h0.9M229.7 69.7h0.9M222.9 130.6h0.9M232.7 87.9h0.9M222.7 130.8h0.9M227 105.4h0.9M221.6 130.2h0.9M230.4 107h0.9M232.5 122.1h0.9M219.6 121h0.9M222.6 100.4h0.9M220.3 93h0.9M223 124.5h0.9M231.4 104.7h0.9M228.6 118.3h0.9M225.3 63.7h0.9M236.5 105.8h0.9M230.6 89.9h0.9M235.3 59.4h0.9M218.8 114.6h0.9M229.6 67.1h0.9M225.5 69.9h0.9M237.1 97.2h0.9M232.6 77.1h0.9M225.6 127.4h0.9M222.5 123.6h0.9M228.3 62.5h0.9M234.7 122.4h0.9M232.8 123.3h0.9M225.5 130.8h0.9M231.5 120.2h0.9M236.3 124.3h0.9M230.9 71h0.9M226 108.1h0.9M225 67.2h0.9M236.2 79.8h0.9M236.8 75.2h0.9M227.2 58.3h0.9M235.2 72.3h0.9M227 109.8h0.9M225.9 113.4h0.9M219.4 84.4h0.9M230.6 86.2h0.9M219.1 101.9h0.9M230.1 84h0.9M232.7 118.7h0.9M233.2 138h0.9M219.1 137.4h0.9M235.9 102h0.9M225.2 102.2h0.9M235.5 88.5h0.9M227.8 89.6h0.9M217.8 112.7h0.9M234.9 119.6h0.9M232.9 56h0.9M228.2 77.1h0.9M236.9 105.2h0.9M226.8 106.7h0.9M218.4 112.9h0.9M224.6 68.1h0.9M233.8 75.5h0.9M234.6 114.3h0.9M222.1 70.3h0.9M235.6 130.5h0.9M221.4 79.9h0.9M229 99.8h0.9M237.2 81.4h0.9M231.5 106.2h0.9M225.6 115.2h0.9M236.7 92.1h0.9M229.1 95.6h0.9M223.3 112h0.9M226.6 98.2h0.9M228.9 114.5h0.9M222.5 70h0.9M230 101.5h0.9M233.6 121.5h0.9M222.7 93.7h0.9M236.9 79.5h0.9M228.4 91.1h0.9M230.4 87.8h0.9M223.7 84.3h0.9M225.8 69.4h0.9M220.4 93.7h0.9M233.1 111.8h0.9M228.9 64.4h0.9M236.5 84.5h0.9M226 64.6h0.9M229.4 69.2h0.9M222.2 122.6h0.9M229.2 75.6h0.9M234.3 66.4h0.9M233.8 68.6h0.9M224 80.8h0.9M218.3 106h0.9M220.9 70.2h0.9M222.5 133.5h0.9M224.2 114.1h0.9M231.5 64.7h0.9M229.8 92.9h0.9M235 66.5h0.9M225.5 79.9h0.9M221.8 125.1h0.9M231.1 77.3h0.9M233.7 102.7h0.9M232.9 62.9h0.9M222.8 77.3h0.9M223.1 68.1h0.9M232.9 95.4h0.9M220 96.1h0.9M233.9 123.6h0.9M226.3 122.9h0.9M224.5 107h0.9M233.7 80.1h0.9M234.2 74.4h0.9M227.7 69.5h0.9M230.4 69.4h0.9M234.9 120.9h0.9M237 69.9h0.9M218.8 115.3h0.9M237.8 80.1h0.9M230.2 115.9h0.9M220.8 118h0.9M226.8 123.7h0.9M237.6 87.5h0.9M220.9 137.6h0.9M228 95.3h0.9M228.7 100.1h0.9M233.9 94.4h0.9M221.9 106.1h0.9M237.5 96.8h0.9M230 58.3h0.9M225.9 129.1h0.9M235.4 71.1h0.9M231.6 74.7h0.9M236.1 71.9h0.9M225.6 77.1h0.9M234.4 109.5h0.9M228.9 84h0.9M229.2 134h0.9M234.8 98.3h0.9M234.5 92.7h0.9M235.7 85.3h0.9M237.3 83.2h0.9M222.8 124.8h0.9M234.6 68.6h0.9M221.7 102.3h0.9M231.8 97.7h0.9M231.1 123h0.9M231.4 75.9h0.9M225.2 95h0.9M230.3 74.3h0.9M221.9 132.1h0.9M220.6 71.8h0.9M222.7 131.9h0.9M232.7 82.7h0.9M220 116.5h0.9M221.1 96.5h0.9M220.7 118.3h0.9M230.9 134.1h0.9M234.4 80.8h0.9M226.8 59.3h0.9M234 87.8h0.9M232.7 111.2h0.9M236.3 116.8h0.9M228.1 83.6h0.9M222.4 108.6h0.9M223.9 76.3h0.9M219.2 122.1h0.9M223.9 66.5h0.9M220.8 77.5h0.9M235.7 68.4h0.9M237 102.9h0.9M221.3 104.8h0.9M230.5 90.5h0.9M224 116.5h0.9M236.1 91.2h0.9M219.4 135.7h0.9M235 77.4h0.9M229.1 116.7h0.9M218.2 121.4h0.9M226.3 107.9h0.9M218.3 136.2h0.9M226.8 117h0.9M220.8 108.4h0.9M224 108.6h0.9M236.3 120.2h0.9M229.6 88.3h0.9M234 68.6h0.9M219.5 77.7h0.9M222.1 137.8h0.9M220.8 92.8h0.9M232.8 82.2h0.9M233.9 77.9h0.9M237.6 77.6h0.9M223.4 104.6h0.9M221.4 75.8h0.9M232.3 74.2h0.9M228.7 131.8h0.9M221.5 132.4h0.9M229.6 105.9h0.9M223.9 76.6h0.9M219.5 78.4h0.9M235.6 112.7h0.9M237 68.8h0.9M219.7 109.8h0.9M220.8 96.1h0.9M228.1 111.6h0.9M223.4 99h0.9M232 96.4h0.9M235.3 128.1h0.9M230.4 111.6h0.9M226.6 75.9h0.9M219.9 99h0.9M233.8 83h0.9M222.1 113.4h0.9M229.5 101.8h0.9M236.5 90.9h0.9M231.2 77.9h0.9M219.2 133.8h0.9M226.1 98.3h0.9M237.5 91.4h0.9M221.3 111.4h0.9M234 134.4h0.9M227 130h0.9M231 104.1h0.9M227.4 137h0.9M228.7 116h0.9M220.5 132.1h0.9M220.3 124.8h0.9M222.9 132.6h0.9M228.8 81.9h0.9M228.5 107.9h0.9M226 80.4h0.9M218.8 124.9h0.9M226.9 85.7h0.9M224.2 60.9h0.9M225.4 100.3h0.9M231 90.7h0.9M222.9 121.2h0.9M221.2 90.4h0.9M233.7 133h0.9M231.3 77.9h0.9M220.6 88.3h0.9M228.1 77.3h0.9M227 96h0.9M222.6 126.7h0.9M221.7 84.4h0.9M231.3 68.9h0.9M220 84.7h0.9M231 70.5h0.9M229.2 135.3h0.9M235.8 88.3h0.9M235.7 81.2h0.9M229.8 56.9h0.9M228.3 85.4h0.9M220.8 86.2h0.9M226.2 95.7h0.9M220.9 121.3h0.9M227.9 131.7h0.9M221.5 98.5h0.9M230.3 92.6h0.9M226.3 124.8h0.9M232.2 130.1h0.9M235.3 81.8h0.9M226.9 78.9h0.9M227.9 71.8h0.9M221.9 98.3h0.9M217.4 127.3h0.9M236.3 87.4h0.9M221.1 134.1h0.9M225.9 71.1h0.9M221 78.9h0.9M219.6 112.2h0.9M220.8 88.2h0.9M223.8 124.4h0.9M226.4 77.1h0.9M228.3 76.7h0.9M224.9 65.6h0.9M220.6 91.1h0.9M230.8 105.3h0.9M226.1 107h0.9M224.5 98.7h0.9M225.9 129.8h0.9M231 114.4h0.9M221.6 90.6h0.9M232.5 86.5h0.9M221.6 84.6h0.9M232.4 90.9h0.9M231.8 134.4h0.9M224.2 68.3h0.9M225.5 76.9h0.9M236.3 126.6h0.9M232 126.7h0.9M222.5 99.2h0.9M224.2 84.4h0.9M222 101.7h0.9M224.3 129.5h0.9M236.6 95.7h0.9M231.3 111.4h0.9M228.5 55.2h0.9M229.7 86.7h0.9M237.3 89.6h0.9M227.5 119.1h0.9M223.1 72.6h0.9M236.5 76.9h0.9M233.9 80.2h0.9M229.9 128.9h0.9M233.9 94.8h0.9M229.8 132.9h0.9M233.7 113.6h0.9M226.8 56.2h0.9M228.2 93.2h0.9M234.6 76h0.9M218.6 118.3h0.9M227.1 77.3h0.9M233.6 91.1h0.9M233.1 120.8h0.9M223.4 65.5h0.9M219.1 120h0.9M218.7 131.8h0.9M225.9 70.3h0.9M222.3 135.5h0.9M222.6 71.2h0.9M218.2 109.8h0.9M237.4 64.6h0.9M232.6 89.5h0.9M218.1 129.8h0.9M218.4 123.9h0.9M228.1 131.1h0.9M236.3 134.4h0.9M220.8 85.2h0.9M232 72h0.9M236.8 121.1h0.9M220.8 66.2h0.9M233.7 100.7h0.9M221.2 89.3h0.9M236.7 109.8h0.9M230.7 123.2h0.9M228.8 69.4h0.9M234.6 100.1h0.9M224.7 123.4h0.9M237.3 78.2h0.9M228 113.5h0.9M218.6 110.3h0.9M228.4 117.5h0.9M220.7 119.3h0.9M222 95.6h0.9M221.1 120.9h0.9M223.5 66.4h0.9M226.3 74.5h0.9M223.5 130.6h0.9M232.1 104.2h0.9M222.7 118.2h0.9M237.4 83.4h0.9M229.2 115.5h0.9M231.5 92.4h0.9M221.2 72.2h0.9M228.3 109.6h0.9M227.8 129.4h0.9M236 111h0.9M233.9 126.8h0.9M229.4 106.2h0.9M230.7 125.9h0.9M229.8 71.1h0.9M231.5 134.7h0.9M232 60.5h0.9M227.4 84.9h0.9M237.7 68.4h0.9M227.1 70.4h0.9M229.6 104h0.9M229 72h0.9M234.3 105.6h0.9M235.6 91.5h0.9M235.3 64.3h0.9M227.2 108.2h0.9M220.4 116.2h0.9M229.7 97.7h0.9M229.2 62.5h0.9M236.4 64.6h0.9M224.6 94.4h0.9M224.3 79.2h0.9M224.4 122.4h0.9M235.6 83.2h0.9M230.9 109h0.9M225.5 102.9h0.9M219.8 135.2h0.9M236.4 84.9h0.9M235.7 120.7h0.9M223 61.1h0.9M218.6 104.8h0.9M220.2 115h0.9M225.9 117.2h0.9M231.7 108.8h0.9M234.4 120.5h0.9M230.1 129.7h0.9M225.6 135.6h0.9M220 99.3h0.9M221.1 121.6h0.9M228.8 86.2h0.9M234.2 127.2h0.9M220.4 61h0.9M233.1 128.9h0.9M234.2 83.3h0.9M225.5 77.8h0.9M234.1 103.5h0.9M227.5 75h0.9M227 135.9h0.9M227.3 74.3h0.9M232.6 112.1h0.9M221.7 96.2h0.9M233.7 96.5h0.9M219.1 129.1h0.9M219.8 84.6h0.9M217.1 135h0.9M229.5 123.3h0.9M218 136.3h0.9M222.4 104.5h0.9M224.1 107.9h0.9M220.6 96.4h0.9M231.3 69.7h0.9M226 94.4h0.9M225.8 113h0.9M233.3 113h0.9M230 58.7h0.9M222 136.2h0.9M221 75.1h0.9M218.3 115.5h0.9M220.4 94.6h0.9M228.5 137.6h0.9M225.5 105.7h0.9M235.3 75.4h0.9M225.1 102.2h0.9M223.6 70.5h0.9M223.5 127.6h0.9M236.2 88h0.9M222.6 123.9h0.9M221.6 71.5h0.9M221.8 65.3h0.9M227.9 104.7h0.9M224.9 99.2h0.9M232 94.4h0.9M230.4 128.8h0.9M228.5 103.5h0.9M236.5 105.5h0.9M219.2 127.8h0.9M233.2 88.4h0.9M238 81.4h0.9M217.6 125h0.9M226.4 128.4h0.9M224.9 126.4h0.9M228.5 125.3h0.9M233.8 98h0.9M228.7 130.8h0.9M228.4 99.4h0.9M232 128.7h0.9M234.1 109.5h0.9M219.4 104.9h0.9M229.3 89h0.9M233.1 104.2h0.9M231.6 133.6h0.9M236.6 118.5h0.9M219.7 65.8h0.9M228.5 70.9h0.9M226.4 74.8h0.9M228.5 109.7h0.9M222.1 109.7h0.9M230.1 77.3h0.9M235 77.7h0.9M220.1 131.5h0.9M223.1 84.5h0.9M230.6 101.5h0.9M234.5 110.4h0.9M228 88.7h0.9M231 130.2h0.9M224.1 85h0.9M221.7 120.6h0.9M229.4 81.9h0.9M235.9 105h0.9M220.3 74.3h0.9M229 107.4h0.9M223.7 100.1h0.9M235.1 97.1h0.9M227.9 102.7h0.9M226.3 73.1h0.9M224.6 72.7h0.9M230 121.5h0.9M229.5 121.4h0.9M231.4 74.9h0.9M227.3 78.3h0.9M232.5 86.7h0.9M228.3 58h0.9M228.9 137.1h0.9M228.7 74.4h0.9M225 75.5h0.9M224.2 110.7h0.9M234 128.2h0.9M220.3 78.5h0.9M232 118.6h0.9M219.6 124.1h0.9M237.6 66.4h0.9M231.8 110.4h0.9M220.8 134.5h0.9M222.4 134.9h0.9M218.3 121.2h0.9M222.1 114.7h0.9M227.4 121.5h0.9M225.6 121.4h0.9M222.6 90.9h0.9M224 58.3h0.9M221.7 105.1h0.9M226.8 93.3h0.9M232.7 137.5h0.9M220.8 137.1h0.9M227.5 59.8h0.9M225.6 122.4h0.9M224.3 96.8h0.9M219.6 119.4h0.9M230.8 71.1h0.9M217 134.1h0.9M224.5 111.7h0.9M222.1 132h0.9M225.7 103.6h0.9M226.2 97.5h0.9M224 114.2h0.9M234.5 79.4h0.9M223.3 116.2h0.9M226.4 88.4h0.9M231.6 68.9h0.9M237.1 83.1h0.9M225.2 125.8h0.9M218.3 135.1h0.9M220 127.2h0.9M227.4 75.1h0.9M234.7 69h0.9M231.6 76.2h0.9M221.6 70.5h0.9M234.8 130.3h0.9M217.5 127.7h0.9M228.5 64.8h0.9M238 62.6h0.9M231.9 118.3h0.9M222.3 78.1h0.9M225.6 57.1h0.9M225.8 98.4h0.9M233 86.9h0.9M219.1 97.5h0.9M235.8 83.9h0.9M229.6 81h0.9M222.2 71.6h0.9M236.3 81.7h0.9M230.7 137.5h0.9M232.3 81.1h0.9M225.5 105h0.9M229.3 99.6h0.9M220.5 66.8h0.9M217.9 135.2h0.9M219.2 121.8h0.9M228.8 137.7h0.9M222 102.8h0.9M220.9 123.7h0.9M230.1 71.5h0.9M219.5 91.9h0.9M232.7 68.2h0.9M226 87.6h0.9M237.5 86.4h0.9M236.9 100h0.9M229.7 136.7h0.9M233.5 115h0.9M221.6 85.6h0.9M223.4 92.8h0.9M223 105.7h0.9M231.9 78.6h0.9M235.2 63.9h0.9M228.1 113.8h0.9M222 86.6h0.9M225.3 120h0.9M229.5 119h0.9M235.2 68.5h0.9M237 68.5h0.9M220.9 109.8h0.9M225.9 69.5h0.9M228.1 75.2h0.9M219.8 114.2h0.9M224 81.9h0.9M231.2 68.9h0.9M235.8 132.9h0.9M220.5 78.3h0.9M224.5 108.5h0.9M219.6 124.4h0.9M218 112.5h0.9M229.4 97.2h0.9M224.8 122.3h0.9M223.6 129.8h0.9M236.5 127.6h0.9M236.3 65.9h0.9M223.7 84.8h0.9M223.1 126.3h0.9M232 71h0.9M234.8 130.3h0.9M219.4 106.2h0.9M227.3 132.9h0.9M223.8 104.6h0.9M222.6 72.4h0.9M226.8 123.2h0.9M237.9 80.1h0.9M224.1 117.8h0.9M231.5 129.9h0.9M228.9 77.9h0.9M234.9 69.8h0.9M229.1 75.4h0.9M220.2 73.5h0.9M232.1 117h0.9M222.2 85h0.9M220.9 131.9h0.9M234 116.8h0.9M236.1 83.7h0.9M223 83.4h0.9M220.2 105h0.9M230.2 117.9h0.9M229.1 63.3h0.9M230.9 73.2h0.9M233.9 105.5h0.9M229.3 59.6h0.9M231.4 109h0.9M218.9 99.4h0.9M231.8 121.7h0.9M222.6 74.1h0.9M224.3 126.2h0.9M223.8 97.8h0.9M221.7 76.1h0.9M233.7 99.9h0.9M220 75.6h0.9M234.4 122.8h0.9M221.3 111.8h0.9M225.4 111.8h0.9M222.9 78.4h0.9M225.7 129.4h0.9M221.3 113h0.9M226.3 78.8h0.9M229.5 71.9h0.9M237.9 85.1h0.9M219.6 96.9h0.9M226.4 118.1h0.9M228.1 78.3h0.9M235.7 81.1h0.9M233.3 118.9h0.9M224.9 131.2h0.9M224 91.9h0.9M230.2 120.7h0.9M232.7 115h0.9M229.6 116.9h0.9M229.1 81.7h0.9M231.3 101.5h0.9M233.3 116.4h0.9M230.1 92h0.9M228.2 88.7h0.9M236.1 67.2h0.9M233.5 82.5h0.9M226.4 61.2h0.9M231.6 71.9h0.9M227.8 78.6h0.9M226.2 69.5h0.9M232.4 102.1h0.9M217.2 125.1h0.9M220.1 111.1h0.9M225.5 127.1h0.9M221.6 128.6h0.9M231 134.2h0.9M234.1 61.2h0.9M219 125.5h0.9M236.3 125.1h0.9M221.4 126.7h0.9M236.8 73.4h0.9M231.3 95.7h0.9M227.2 93.3h0.9M234 94.5h0.9M224.1 126.7h0.9M222.2 112.4h0.9M234 91.9h0.9M227.5 118.2h0.9M236 136h0.9M232.5 72.1h0.9M226.2 77h0.9M235.9 106h0.9M233 126h0.9M237.5 70.3h0.9M223.5 118.8h0.9M237.6 62.9h0.9M228.1 116.3h0.9M235 76.4h0.9M232.1 126.5h0.9M230.3 123.8h0.9M228.6 77.3h0.9M219.6 102.8h0.9M228.7 67.9h0.9M229.4 108.3h0.9M227.6 133.5h0.9M232.7 109.4h0.9M233.9 92.6h0.9M230.8 128.5h0.9M226.9 74.9h0.9M223.9 67.1h0.9M223.3 128.3h0.9M219.5 72.3h0.9M226 118.8h0.9M232.8 81.2h0.9M231.9 104.6h0.9M228.3 135.3h0.9M230 88.9h0.9M231.2 128.2h0.9M228.9 106.9h0.9M235.1 126.8h0.9M229.4 94.3h0.9M224.6 91.4h0.9M227.2 122.8h0.9M228.2 132.7h0.9M234.5 59.5h0.9M217.2 127.5h0.9M234.5 100.3h0.9M218.6 124.3h0.9M225.8 127.5h0.9M235 99.5h0.9M234.5 110.2h0.9M227.7 126.3h0.9M232.8 75.1h0.9M221.4 130.2h0.9M219.5 122.8h0.9M227.1 73.2h0.9M229.1 128.9h0.9M237.5 76.3h0.9M236.4 77.5h0.9M221.7 75.4h0.9M235.3 102.3h0.9M220.3 86.8h0.9M235.6 92.5h0.9M236.7 75.2h0.9M219.9 114.6h0.9M222.1 87.4h0.9M218.6 105.1h0.9M218.5 99h0.9M233.6 134.5h0.9M223 108h0.9M231.6 69.5h0.9M222.1 129.4h0.9M225.8 85.2h0.9M227.2 117.1h0.9M238.2 71.3h0.9M231.7 90.5h0.9M235.1 137.5h0.9M222.5 104.5h0.9M232.9 128.2h0.9M226.9 109.4h0.9M235.5 68.7h0.9M231.4 74.8h0.9M235.4 119.5h0.9M234.9 123h0.9M230.2 129.2h0.9M229.4 106.5h0.9M236 127.6h0.9M229.8 99.1h0.9M227.4 98.4h0.9M236.7 107.1h0.9M234 68.9h0.9M224.5 106.9h0.9M236.5 58.2h0.9M225.3 107.7h0.9M223.5 64.6h0.9M230.6 73.7h0.9M219.1 99h0.9M230.2 131.4h0.9M235.7 136.7h0.9M233.6 133.4h0.9M221 115.3h0.9M225.3 69.8h0.9M233.1 113.2h0.9M224.3 90.3h0.9M224.4 137h0.9M228.9 111.3h0.9M236 69.6h0.9M223.4 104.2h0.9M230.6 98.1h0.9M229.8 92.1h0.9M232.4 78.1h0.9M227.3 124h0.9M225.4 77.8h0.9M229.1 137.5h0.9M232.2 58.4h0.9M229.4 57h0.9M229.9 90.6h0.9M220.9 118.5h0.9M234.9 121.1h0.9M233.4 75.6h0.9M222.3 93.5h0.9M227.3 120.6h0.9M232 66.7h0.9M227 91.8h0.9M220.7 76.1h0.9M220.5 120.3h0.9M221.5 106.4h0.9M220.2 133h0.9M220.1 79.7h0.9M227.1 84.9h0.9M218 125.5h0.9M223.3 129.5h0.9M225.2 120.6h0.9M224.8 123.1h0.9M218.5 131.4h0.9M235.8 95.9h0.9M224.9 99.9h0.9M223.4 125.6h0.9M225.1 75.7h0.9M222.2 129.2h0.9M234.6 124.7h0.9M229.5 103.1h0.9M230.2 76.3h0.9M224.1 122.1h0.9M219.4 84.4h0.9M220.3 114.2h0.9M222.5 127.3h0.9M221 131h0.9M224.9 89.8h0.9M221.9 81.9h0.9M230.3 66.5h0.9M235.8 114.6h0.9M234.4 126.4h0.9M231.4 93.9h0.9M230 64.3h0.9M234.4 76.2h0.9M219.7 114.2h0.9M230.4 67.4h0.9M235.3 132.2h0.9M235.3 107.2h0.9M235.4 79.2h0.9M235.7 129.8h0.9M233 110.7h0.9M232.9 99.4h0.9M219.7 116.5h0.9M231.6 134.1h0.9M233.7 110.6h0.9M225.5 64h0.9M219.3 113.9h0.9M233.9 68.9h0.9M231.5 90.8h0.9M225.8 65.8h0.9M236.3 103.2h0.9M232.7 102.5h0.9M233.5 75.7h0.9M227.8 72h0.9M227.3 80h0.9M223.7 113.3h0.9M227.9 68.1h0.9M221.8 113.8h0.9M227.8 97.5h0.9M232.1 98.8h0.9M225.8 116.7h0.9M234.2 114.6h0.9M234.9 110.9h0.9M228.5 77.7h0.9M219 133.8h0.9M226 129.3h0.9M233.5 110.2h0.9M229.3 101.5h0.9M234.4 115.4h0.9M230.7 109.6h0.9M228 69.4h0.9M219.2 121.6h0.9M235.6 129.7h0.9M229.1 82.5h0.9M234.4 85.6h0.9M224.4 115h0.9M224.9 111.4h0.9M224.5 116.2h0.9M227.6 102h0.9M227.6 63.3h0.9M221.7 131.3h0.9M233 109.7h0.9M219.2 130.8h0.9M230.3 63.3h0.9M232.4 125.9h0.9M235.9 116.8h0.9M221.4 129.3h0.9M231.2 91h0.9M234.4 93.4h0.9M220 93.2h0.9M238 82h0.9M232 73.1h0.9M230.4 95.6h0.9M223.2 134.4h0.9M234.9 83.5h0.9M233.9 124.4h0.9M232.9 76.2h0.9M226.4 110h0.9M235.2 129.7h0.9M237 80.3h0.9M224.6 84.2h0.9M227 89.7h0.9M230.9 102.6h0.9M233.9 73.7h0.9M234.9 91.3h0.9M230.5 94.4h0.9M224.6 56.9h0.9M228.5 97.9h0.9M238.1 70.8h0.9M227.4 73.1h0.9M225.1 127.4h0.9M230.1 69.6h0.9M234 68.9h0.9M229.8 105.4h0.9M232.5 133.6h0.9M228.4 131.8h0.9M231.3 130.9h0.9M229.4 92.8h0.9M224.9 129.5h0.9M221.9 117.1h0.9M229.8 84.7h0.9M233.3 57.2h0.9M233.4 78.1h0.9M220.5 78.7h0.9M220.9 70.7h0.9M231.3 88.8h0.9M225.2 120.7h0.9M231 93.8h0.9M230 99.6h0.9M219 122.7h0.9M217.9 127.4h0.9M233.3 102.1h0.9M218.2 105.7h0.9M232.8 87.2h0.9M230.1 125.1h0.9M223.5 120.3h0.9M229.3 108.2h0.9M231 137.8h0.9M227 133h0.9M225.3 88.7h0.9M237.8 67.3h0.9M230.4 62.2h0.9M231.9 60.5h0.9M222.7 111.4h0.9M226.2 132h0.9M229.2 103.6h0.9M233.7 97.9h0.9M232 86.7h0.9M234.2 93.9h0.9M232.5 137.7h0.9M233.2 90.5h0.9M222.2 104.4h0.9M229 77.2h0.9M223.3 108.1h0.9M222.4 126h0.9M224.6 76h0.9M222.3 71.7h0.9M232.7 72.9h0.9M220.6 66.5h0.9M230.3 80h0.9M236 130.9h0.9M221.3 114.3h0.9M224.5 116.8h0.9M229.2 94.6h0.9M237.4 93.6h0.9M229.3 100.2h0.9M221.4 90.6h0.9M234 96.4h0.9M227.7 136.3h0.9M234.4 117h0.9M231.2 108.2h0.9M236.5 125.9h0.9M231.2 110.8h0.9M225.7 127.7h0.9M236.7 68.4h0.9M231.1 95.8h0.9M221.3 114.3h0.9M234.1 67.8h0.9M224.9 131.3h0.9M230.1 68h0.9M218.8 63.5h0.9M236.7 81h0.9M239.8 72.2h0.9M219 100.7h0.9M236.2 102.5h0.9M217.8 80.4h0.9M240.4 101.1h0.9M236.6 86.8h0.9M215.4 104.6h0.9M236.2 90.7h0.9M219.7 101.2h0.9M217.2 130.1h0.9M235.5 109.8h0.9M239.8 98h0.9M240.9 115.9h0.9M217.1 120.8h0.9M219.8 101.1h0.9M239.1 127.4h0.9M236.7 107.5h0.9M218.8 110.4h0.9M234.9 90.5h0.9M220.1 63.7h0.9M220.5 74.5h0.9M221.4 67.1h0.9M216.5 127.2h0.9M242.2 95.4h0.9M235.2 105.6h0.9M236.1 65.5h0.9M236.2 126h0.9M240.8 102.5h0.9M236.2 124.5h0.9M219.1 83.4h0.9M236.5 110.9h0.9M220 93.6h0.9M235.7 102.9h0.9M215.6 124.5h0.9M245.6 118.9h0.9M213.3 68.7h0.9M240.8 69.8h0.9M221.1 75.1h0.9M244.1 68.7h0.9M234 131.6h0.9M237.7 87.8h0.9M240.4 73h0.9M215.8 89.2h0.9M218.9 68.8h0.9M219.5 96.2h0.9M220.5 83.5h0.9M239.7 103.3h0.9M218.9 98.7h0.9M243.1 95.9h0.9M234.9 131.1h0.9M236.3 115.8h0.9M235.7 82.9h0.9M237 100.5h0.9M217.6 93.5h0.9M234.9 97.8h0.9M234.3 132.4h0.9M244.2 61.9h0.9M236.1 127h0.9M236.4 121h0.9M241.5 108.5h0.9M214.8 117.8h0.9M236.7 62.9h0.9M238 122h0.9M237.9 74.5h0.9M236 60.5h0.9M221.7 61.6h0.9M238.3 87.1h0.9M221.5 58h0.9M237.4 78.1h0.9M236.3 98.8h0.9M233.9 125h0.9M218.3 130h0.9M238.8 55.5h0.9M219.9 97h0.9M217.8 99h0.9M235.9 83.3h0.9M238.4 70.4h0.9M242.1 119.8h0.9M237.8 112.2h0.9M238 107.7h0.9M221 71.7h0.9M239 96.4h0.9M219 87.1h0.9M236.6 130.7h0.9M237 126.8h0.9M217.1 92.8h0.9M219 76.6h0.9M216.1 100.2h0.9M218.6 109.3h0.9M236.4 105.8h0.9M217.3 126.3h0.9M219.3 104.8h0.9M237.7 59.6h0.9M218.5 79.4h0.9M238.8 108.3h0.9M221.2 63.7h0.9M216.2 85.8h0.9M239.5 113.6h0.9M215.6 132.1h0.9M236.1 77.6h0.9M235.8 124h0.9M236.5 111.5h0.9M243 60.3h0.9M218.5 58.7h0.9M242 66.3h0.9M241.7 122.4h0.9M236.3 59.1h0.9M246 118.8h0.9M235.4 97h0.9M213.2 129.6h0.9M234.5 107.6h0.9M218.8 124.2h0.9M221.1 66.3h0.9M239.9 134.6h0.9M238.6 79.4h0.9M239 111h0.9M236.6 99.6h0.9M235.3 116.4h0.9M236.3 59.4h0.9M221.2 68.4h0.9M237.2 76.7h0.9M238.5 126.7h0.9M239.8 109.3h0.9M237.8 103.3h0.9M238 75.9h0.9M244.2 63h0.9M221 78.2h0.9M219.6 57.3h0.9M240.6 66.1h0.9M219.8 99.1h0.9M216.8 126.3h0.9M218.4 116.1h0.9M219.7 54.7h0.9M237.7 63.6h0.9M220.2 73.3h0.9M235.7 71.2h0.9M217.6 115.9h0.9M215 131.4h0.9M236.3 112.2h0.9M234.6 110.3h0.9M219.4 105h0.9M237 73h0.9M215.6 133.1h0.9M238.3 100.5h0.9M243.9 87.8h0.9M235 105.8h0.9M234.1 123.3h0.9M220.5 63h0.9M244 81.3h0.9M219.7 109.6h0.9M235.2 120h0.9M236.6 95h0.9M235.3 106.4h0.9M216.1 61.3h0.9M219.6 76.5h0.9M241 75.7h0.9M217.3 129.3h0.9M235.6 110.3h0.9M234.4 128.4h0.9M219.2 119.7h0.9M216.2 138.1h0.9M242.8 92.3h0.9M242.5 71.2h0.9M217.3 134.3h0.9M234.7 115h0.9M220.4 72h0.9M241.3 78h0.9M235.3 89.8h0.9M239.1 64.6h0.9M235.6 82.6h0.9M219 84.8h0.9M240.1 71.9h0.9M235.4 86.6h0.9M220.9 72.8h0.9M219.5 100.6h0.9M219.6 109h0.9M218.3 133.8h0.9M237.6 137.1h0.9M235.4 114.2h0.9M240.7 70.9h0.9M235.4 124.8h0.9M218.1 130.9h0.9M234.1 114.7h0.9M236.7 137.2h0.9M246.3 59.4h0.9M236.9 89.2h0.9M235.1 127.7h0.9M244.9 96.7h0.9M236.1 96h0.9M221.4 65.2h0.9M243.2 81.9h0.9M217.5 83.3h0.9M238.3 123h0.9M220 84.4h0.9M239 118.2h0.9M236.7 111.6h0.9M216.9 126.8h0.9M243.2 124.8h0.9M241 85.3h0.9M242.9 134.8h0.9M219.3 96h0.9M218.9 117.2h0.9M220.8 83.5h0.9M216.8 67.3h0.9M218.8 62.9h0.9M217 106.9h0.9M220.5 66.9h0.9M234.7 106.6h0.9M219.1 103h0.9M220.3 64.6h0.9M239.8 125.2h0.9M216.6 107.7h0.9M215.9 63.6h0.9M238.5 57.4h0.9M244 137.1h0.9M245.3 65.9h0.9M239.5 61.8h0.9M216.7 130.2h0.9M236.3 67.6h0.9M244.2 107.6h0.9M216.7 115.6h0.9M235.9 124.7h0.9M217.7 89.3h0.9M237.4 75.6h0.9M238.5 64.2h0.9M241.1 95.3h0.9M236.7 93.5h0.9M218.2 62.3h0.9M237.6 82h0.9M217.4 111.2h0.9M238.3 101.5h0.9M242.1 71.1h0.9M238.1 68h0.9M237.9 64.1h0.9M219.9 56.7h0.9M220.6 83.1h0.9M234.1 118.7h0.9M239.4 94.3h0.9M234.1 125.3h0.9M237.9 105.2h0.9M237.4 87.5h0.9M215.4 130h0.9M219 63.1h0.9M238 69.4h0.9M241 69.6h0.9M243.3 136.2h0.9M236.9 85.2h0.9M217.1 131.4h0.9M240.4 64.5h0.9M237.4 89.9h0.9M239.2 125.2h0.9M217.1 102h0.9M218.4 59.2h0.9M219.5 94.4h0.9M240 97.4h0.9M235.7 94.3h0.9M236.2 71.8h0.9M234.5 104.6h0.9M219.7 89.8h0.9M236.8 72.7h0.9M218.8 69.6h0.9M242.1 80.9h0.9M217 97.6h0.9M215.3 109.1h0.9M216.1 79.2h0.9M237.9 89.7h0.9M218.9 65.8h0.9M235.7 112.4h0.9M216.4 122.3h0.9M236.1 100.4h0.9M243.9 89.4h0.9M241.5 127.2h0.9M235.8 79.2h0.9M237.3 109.7h0.9M238.5 135.6h0.9M241.6 101h0.9M242.6 94.2h0.9M240.9 62.9h0.9M241.2 64.9h0.9M221.1 70.8h0.9M218.4 127h0.9M237.8 94h0.9M241 60.4h0.9M245.9 70.2h0.9M243 135.1h0.9M247.8 112.6h0.9M243.8 86.5h0.9M244.1 104.9h0.9M238.8 127.4h0.9M220.6 77.3h0.9M219.4 92h0.9M235.7 120.8h0.9M237.6 120.8h0.9M215.8 131h0.9M239.7 119.3h0.9M235.8 87.2h0.9M243.7 71.8h0.9M237.3 121.7h0.9M244.5 98.2h0.9M242 79.1h0.9M240.4 136.9h0.9M217.9 63h0.9M220.2 91.3h0.9M218.9 80h0.9M219.8 100.7h0.9M238.7 59.5h0.9M237.9 97.3h0.9M234.7 133.3h0.9M241.9 75.7h0.9M249.2 130.8h0.9M237.9 69.5h0.9M242.4 71.5h0.9M243.7 93.8h0.9M218.9 101.2h0.9M215.3 124.6h0.9M236.3 114.7h0.9M214.3 116.8h0.9M241.8 101.9h0.9M236.1 67.7h0.9M238.5 122.8h0.9M236.1 124.3h0.9M239.3 83.9h0.9M242.2 64.7h0.9M239.1 68.6h0.9M242.6 85.4h0.9M238.6 125.4h0.9M237.9 77.2h0.9M237.5 133.9h0.9M218.9 89.2h0.9M218.4 85.2h0.9M237 104h0.9M235.7 79.8h0.9M220.9 65.5h0.9M235.5 129h0.9M214.7 80.1h0.9M238.1 70.9h0.9M221.5 66.2h0.9M240.1 133.6h0.9M236.7 61.1h0.9M239.1 123.3h0.9M242.3 90.2h0.9M234.9 105.6h0.9M234.9 115.4h0.9M216.6 67h0.9M219.9 103.1h0.9M236.5 80h0.9M217.2 86.3h0.9M216.4 112.6h0.9M241.1 79.9h0.9M239.9 85.5h0.9M241.2 74.1h0.9M235.8 105.2h0.9M238.4 103.1h0.9M235.2 106.4h0.9M239.5 98.1h0.9M235.5 76.1h0.9M215.5 100.6h0.9M239.1 93.5h0.9M217.2 113.9h0.9M236.7 120.7h0.9M235.2 93.1h0.9M236.7 95.6h0.9M235.9 83.5h0.9M221.1 67.6h0.9M216.6 110.3h0.9M240.6 81.4h0.9M219.9 105h0.9M239.2 95.9h0.9M236.1 66.6h0.9M236 102.2h0.9M237.7 61.1h0.9M217.8 115.6h0.9M218.9 109h0.9M236.1 117.2h0.9M234.9 120.3h0.9M239.4 76.2h0.9M218.1 109.8h0.9M219.2 114h0.9M236.9 102.2h0.9M216.3 98.5h0.9M235.5 80.4h0.9M219.5 112.4h0.9M220.8 81.4h0.9M235.7 136.8h0.9M235.6 77.6h0.9M215.7 101.3h0.9M220.2 94.7h0.9M218.8 94.1h0.9M235.6 133.1h0.9M235.7 82.6h0.9M243.6 107.6h0.9M237.3 77.3h0.9M238.1 68.3h0.9M237 135.3h0.9M216.8 109.9h0.9M214.2 127.5h0.9M240.2 128h0.9M218.2 83h0.9M239.2 80.2h0.9M217.5 127.8h0.9M216.6 99.2h0.9M218.3 72.1h0.9M240.9 108.7h0.9M220.5 78.2h0.9M220.2 61.5h0.9M233.9 129.5h0.9M215.6 136.4h0.9M235.1 103.4h0.9M236.4 76.5h0.9M216.7 124.4h0.9M216.1 112.2h0.9M235 118.1h0.9M241 113.3h0.9M235.8 89.1h0.9M217 71.6h0.9M242.6 123.8h0.9M218.3 85.6h0.9M215.3 131.8h0.9M215.7 121h0.9M218.7 128.9h0.9M239.3 94.8h0.9M237.6 80h0.9M239.5 61.1h0.9M219.3 114.6h0.9M236.8 68.7h0.9M237.3 68.7h0.9M218.9 62.3h0.9M238.6 80.4h0.9M236.9 75.5h0.9M244 79.2h0.9M214.1 102.8h0.9M220 103.8h0.9M235.2 101.2h0.9M236.8 79.5h0.9M239.9 73.4h0.9M239.4 135.8h0.9M235.6 94.2h0.9M217.5 58.1h0.9M235.3 83.6h0.9M236.3 84.3h0.9M240.1 112.9h0.9M235.3 112.6h0.9M241.3 116.3h0.9M219.6 87.5h0.9M216.2 126.8h0.9M236.9 66.9h0.9M218.6 133.5h0.9M237 66.2h0.9M217.5 65.8h0.9M220.8 72.9h0.9M236.4 121.6h0.9M236.2 93.1h0.9M236 73.2h0.9M220 80.9h0.9M235.9 88.5h0.9M240.7 73.4h0.9M217.5 103.1h0.9M245.6 61.9h0.9M218.5 62.1h0.9M238.3 112.5h0.9M236 103.4h0.9M214.3 99.3h0.9M217.9 86.4h0.9M217.9 77.6h0.9M239.6 73.4h0.9M240.7 107.3h0.9M242.5 61.8h0.9M243.1 123.2h0.9M234.5 119.9h0.9M219.9 66.5h0.9M218.9 113.9h0.9M217.9 127.2h0.9M234.5 117.2h0.9M236.1 78.8h0.9M235.7 87.7h0.9M218.7 89.2h0.9M217.8 88.4h0.9M221 63.3h0.9M236.5 131.3h0.9M240 73.9h0.9M219 116.1h0.9M220.8 76.6h0.9M236.6 125.3h0.9M236.9 105.1h0.9M221.1 68.7h0.9M235.5 126.3h0.9M234.3 109.6h0.9M218.8 92.6h0.9M216.4 60h0.9M219 64.6h0.9M242 119.1h0.9M241.1 113.5h0.9M219 93.9h0.9M234.6 118.2h0.9M236.8 60.3h0.9M239 129.7h0.9M219.6 77.5h0.9M238.2 113.9h0.9M219.8 87.6h0.9M234.7 103.5h0.9M220.2 84.6h0.9M217.7 102.9h0.9M220.2 90.2h0.9M235 87h0.9M240.6 89.6h0.9M238.1 62.6h0.9M242.8 56.9h0.9M236.4 69.4h0.9M234.5 125.5h0.9M236 92.7h0.9M216.2 134.2h0.9M219.1 101.4h0.9M235.9 118.1h0.9M237.8 65.3h0.9M217 105.7h0.9M239.2 130.4h0.9M220.5 63.8h0.9M240 81.6h0.9M216.1 100.1h0.9M238.2 66.9h0.9M237.8 69.2h0.9M219.6 87.6h0.9M238.4 134.1h0.9M235.9 75.1h0.9M240 69.1h0.9M240.1 77.9h0.9M236.2 120.2h0.9M237.3 93.3h0.9M236.4 97.8h0.9M237.3 81.7h0.9M242.7 100.8h0.9M238.3 108.6h0.9M219.3 89.6h0.9M244.4 75.5h0.9M241.2 127.4h0.9M238.3 132h0.9M235 113.4h0.9M236.6 117.9h0.9M236.8 59.7h0.9M238.8 73.2h0.9M219.7 101.8h0.9M236.6 61.2h0.9M216.1 96.6h0.9M215.4 61.2h0.9M218 128h0.9M219.6 70.6h0.9M239.4 68.8h0.9M235.3 90.1h0.9M237.6 103h0.9M235.7 88.1h0.9M238.9 103.7h0.9M238.2 98.6h0.9M235.3 126.7h0.9M234.9 91.6h0.9M235.9 76.8h0.9M234.9 95.4h0.9M236.5 92.9h0.9M219.5 110.5h0.9M221.1 73h0.9M218.8 127.5h0.9M220.4 73.2h0.9M214.1 126.9h0.9M240.1 98.1h0.9M240.8 130.7h0.9M237 114.4h0.9M217.6 70.1h0.9M237.1 61.4h0.9M218.5 69h0.9M218 123.7h0.9M235.8 111.6h0.9M246.3 66.2h0.9M238.9 101.9h0.9M218.2 78.5h0.9M218.1 73.9h0.9M236.3 60.7h0.9M235.2 111h0.9M241 129.3h0.9M238 72.9h0.9M235.1 95.7h0.9M241.5 116.9h0.9M220.9 74.1h0.9M217.8 117.8h0.9M237.1 85.5h0.9M217.5 67h0.9M218.9 82.6h0.9M239.2 137.5h0.9M240.3 127.6h0.9M218.5 99.4h0.9M235.4 127.7h0.9M219 110.9h0.9M240.4 80.3h0.9M235.6 85.5h0.9M220.9 80.5h0.9M218.4 114.2h0.9M218 95h0.9M239.5 105h0.9M234.8 128.9h0.9M218.1 97.9h0.9M235.7 108.1h0.9M236 85.2h0.9M238.3 100.9h0.9M215.6 100.3h0.9M234.1 123.6h0.9M213.4 119.7h0.9M244.3 131.8h0.9M238.7 122.7h0.9M235.3 126.4h0.9M218.2 136.8h0.9M217.4 133.3h0.9M219.2 113.2h0.9M218 132h0.9M234.1 118h0.9M240.2 132.5h0.9M217.3 74.9h0.9M238.9 98.1h0.9M219.8 84h0.9M236.8 86.7h0.9M246.5 78.7h0.9M218 70.3h0.9M212.2 123.4h0.9M240.2 111.1h0.9M221 77.5h0.9M214.9 108.3h0.9M218 128.1h0.9M235.2 82.1h0.9M237.7 102.4h0.9M245.5 61.3h0.9M217.9 102h0.9M238.7 124.9h0.9M238.2 101.2h0.9M217.9 136h0.9M236 70.4h0.9M235.7 80.4h0.9M217 132h0.9M234.5 108.9h0.9M218.2 118.8h0.9M236.4 104.5h0.9M246.9 63.5h0.9M236.8 66.4h0.9M237.7 105.4h0.9M221.2 64.4h0.9M241 94.7h0.9M235.8 102h0.9M218.8 63.1h0.9M216 130.8h0.9M244.8 77.2h0.9M218.2 65.7h0.9M235.6 118.5h0.9M218.5 67.5h0.9M242.8 131.4h0.9M236.2 90.3h0.9M218.5 119.1h0.9M237.7 132.3h0.9M239.2 110.5h0.9M217.6 94.6h0.9M250.5 89.6h0.9M236.9 108.1h0.9M216.9 71.5h0.9M236 80h0.9M240.1 128.1h0.9M217.5 73.7h0.9M219.3 89.1h0.9M238.6 114.7h0.9M239.1 92.3h0.9M241.6 134.3h0.9M221.2 70.5h0.9M238.5 69.4h0.9M235.8 127.7h0.9M239.1 121.3h0.9M237.4 91.8h0.9M242.6 114.4h0.9M244.4 114.8h0.9M237.7 61.1h0.9M241.3 96.3h0.9M236.3 113.4h0.9M238.2 117.4h0.9M241.6 103.9h0.9M215.3 93.2h0.9M218.2 89.9h0.9M215.9 113.2h0.9M217.6 98.9h0.9M240.5 78.8h0.9M236.9 74.2h0.9M236.5 65.6h0.9M247.4 95.6h0.9M216.6 103h0.9M218.9 79h0.9M235.7 119.8h0.9M241.4 130.7h0.9M238.2 82.1h0.9M235.6 135.2h0.9M238.1 102h0.9M217.1 69.8h0.9M219.1 121.5h0.9M234.5 106.2h0.9M214.4 100.8h0.9M238.7 107.3h0.9M243 70.8h0.9M219 121.1h0.9M216.8 124.3h0.9M217.3 102h0.9M218.4 79.7h0.9M220.2 65.8h0.9M219.7 90h0.9M212.8 123.1h0.9M236 108.7h0.9M236 137.9h0.9M240.4 61.7h0.9M212.3 134.2h0.9M235.2 100.8h0.9M217.8 100h0.9M240.4 85.9h0.9M234.5 121h0.9M217.8 117.3h0.9M234.7 101.7h0.9M237.5 94.1h0.9M240.8 73.2h0.9M239.5 65.8h0.9M241.5 107.5h0.9M237.1 135.2h0.9M250.2 58h0.9M236.3 77.2h0.9M216.7 129.6h0.9M218.4 124.5h0.9M217.5 134.3h0.9M236.2 76.9h0.9M216.4 95.1h0.9M220.4 64.3h0.9M242.7 83.6h0.9M238.8 137.9h0.9M237.3 91.8h0.9M220.8 80.4h0.9M216.7 113.1h0.9M220.3 65.6h0.9M237.6 89.5h0.9M220.9 68.5h0.9M235.4 74.3h0.9M239.5 84.9h0.9M216.1 130.8h0.9M217.2 103.1h0.9M235.6 127h0.9M237.9 97.1h0.9M237.8 119.1h0.9M218.5 120.4h0.9M220.1 85.8h0.9M217.8 116.4h0.9M239 111.6h0.9M242.1 124.5h0.9M240.6 86.6h0.9M218 105.6h0.9M219.2 113.4h0.9M242.9 113.4h0.9M234.7 115.2h0.9M214.3 110.3h0.9M219.2 62.5h0.9M219 61h0.9M237 82.3h0.9M234.6 99.1h0.9M234.6 132.8h0.9M217.8 60.9h0.9M238.5 118.4h0.9M233.7 129.7h0.9M219.3 73.2h0.9M237.6 81.2h0.9M236.5 134.2h0.9M237.4 126.8h0.9M218.6 118.4h0.9M236.8 79.7h0.9M236.8 81.4h0.9M238.7 109.5h0.9M242.4 74h0.9M218.6 115.1h0.9M237.2 118.4h0.9M219.6 69.8h0.9M236.8 66.8h0.9M220.3 61.3h0.9M234.9 129.4h0.9M220 97.3h0.9M219.3 67.4h0.9M236.6 97.1h0.9M235.1 92.6h0.9M239.9 110.5h0.9M217.9 106.2h0.9M242.9 73.4h0.9M218.3 78h0.9M241 59.3h0.9M218.1 84h0.9M235.5 125.6h0.9M244.9 129.4h0.9M221 74.8h0.9M220.5 61.1h0.9M220.2 59.1h0.9M217.9 76h0.9M215.9 124.4h0.9M238 67.3h0.9M242.5 73.9h0.9M238.8 101.7h0.9M238.2 97.3h0.9M237.4 71.1h0.9M240.6 63.5h0.9M236.9 82.3h0.9M239.2 134.5h0.9M234.4 121.3h0.9M238.2 117h0.9M237.7 110.3h0.9M236 70.2h0.9M238.1 111.7h0.9M243.5 95.4h0.9M238.1 62.7h0.9M218.8 90.3h0.9M221.1 55.9h0.9M215.9 108.5h0.9M238.5 116.8h0.9M220.1 77.6h0.9M236.8 86.6h0.9M240.7 86.5h0.9M237.8 80.3h0.9M237.6 126.7h0.9M241.1 72.5h0.9M237 98.6h0.9M243.5 107.9h0.9M219.3 87.1h0.9M234 128.2h0.9M245.6 76.9h0.9M239 135.3h0.9M238.3 106.4h0.9M239.7 105.9h0.9M236.5 134.6h0.9M241.3 84.6h0.9M239.3 86.1h0.9M246.8 61.1h0.9M220.7 65.3h0.9M237 82.2h0.9M215.4 136.9h0.9M237.4 86.2h0.9M214.8 115.2h0.9M219.7 66.4h0.9M240 125.5h0.9M217.3 133.5h0.9M236.8 88.2h0.9M235.5 127.2h0.9M218.8 113.8h0.9M235.6 99.4h0.9M217.3 130.9h0.9M215.4 119.7h0.9M234.3 109.7h0.9M217.5 113.8h0.9M235.5 134.9h0.9M239.8 69.3h0.9M218.6 90.8h0.9M220.4 86.9h0.9M246.2 110.3h0.9M239.5 101.7h0.9M236.5 77h0.9M218.8 97.2h0.9M235.9 59.7h0.9M235.3 131.4h0.9M217.6 86.8h0.9M241.4 67.1h0.9M236.7 117.9h0.9M218.8 93.1h0.9M217.8 92.5h0.9M216.4 132.2h0.9M239.5 118.7h0.9M215.6 99.2h0.9M219.5 89.6h0.9M240.8 138.1h0.9M235.6 85.5h0.9M238.5 98.8h0.9M219 116.2h0.9M220.2 71.5h0.9M235 100.1h0.9M219.5 106.8h0.9M237.1 98.8h0.9M238.5 59.2h0.9M220.9 69.5h0.9M219.7 95.6h0.9M235.8 134.1h0.9M219.4 61.8h0.9M238.1 114.3h0.9M239.8 72.6h0.9M218.2 97.9h0.9M219.4 107h0.9M235.8 87.3h0.9M236.8 125.8h0.9M239.1 70.5h0.9M237.1 62.6h0.9M240.2 69.7h0.9M238.8 57.4h0.9M216.1 128.3h0.9M239 121.9h0.9M221.7 61.9h0.9M240.4 58.8h0.9M236.2 115.7h0.9M239.2 64.7h0.9M221.3 68.6h0.9M242.2 95.1h0.9M216 103.1h0.9M218.8 130h0.9M236.8 120.1h0.9M219.7 99h0.9M244.2 63.3h0.9M236.2 119.7h0.9M217.1 104h0.9M243 128.2h0.9M218.3 105.9h0.9M237.9 77.3h0.9M237.9 128.5h0.9M237.6 98.9h0.9M239.6 87.8h0.9M237.4 78.3h0.9M235.5 134.6h0.9M237.1 82.3h0.9M235 107.8h0.9M235.4 110.6h0.9M236.3 92.8h0.9M240.4 80.7h0.9M218 125.9h0.9M218.8 115.4h0.9M217.5 135.7h0.9M217.6 137h0.9M233.7 131.3h0.9M234.5 119.2h0.9M236.4 121.6h0.9M238.5 62.9h0.9M219.1 80.4h0.9M236.9 122.8h0.9M220.2 73.3h0.9M238.5 72.6h0.9M218.7 80.3h0.9M237.5 88.4h0.9M217.5 119.9h0.9M235.2 101.2h0.9M219.4 66.7h0.9M237.9 96.8h0.9M234.2 118.3h0.9M235.4 108.6h0.9M234.5 137.3h0.9M215.6 122.2h0.9M218.7 119.2h0.9M235.4 117.1h0.9M239.7 126.7h0.9M218.8 71.4h0.9M235.3 108h0.9M243.1 59.8h0.9M240.5 77.3h0.9M219.9 63.4h0.9M240.5 65.4h0.9M234.3 112.6h0.9M213.3 137h0.9M220.4 69.4h0.9M238.7 134.3h0.9M243.8 64.8h0.9M214.2 120.9h0.9M237.1 110.5h0.9M220 89.1h0.9M237.6 113.7h0.9M237.5 70.5h0.9M218.9 91.5h0.9M219.5 88.5h0.9M219.4 78h0.9M236.5 114h0.9M243.7 101.8h0.9M236.9 118.8h0.9M237.8 96.4h0.9M237.4 94.6h0.9M239.6 89.1h0.9M237 126.8h0.9M239.7 107.1h0.9M237.6 101.9h0.9M242.8 124.5h0.9M239.2 80.8h0.9M215.1 109h0.9M218.8 61.2h0.9M217.4 133.2h0.9M235.7 97.6h0.9M219.8 105.1h0.9M236.4 106.5h0.9M237 75.6h0.9M237 81.6h0.9M235.5 75.6h0.9M218.6 101.2h0.9M242.7 116.4h0.9M219.2 95.5h0.9M239.4 105.7h0.9M219.5 88.9h0.9M241.2 59.1h0.9M234.7 117.7h0.9M235.6 136.5h0.9M236.2 105.8h0.9M218.5 88.6h0.9M218.7 109.1h0.9M218.3 83.2h0.9M218.1 114.6h0.9M236.4 101.3h0.9M233.9 131.7h0.9M235.7 92.1h0.9M220.7 85.9h0.9M236 68.3h0.9M216.7 86.5h0.9M215.6 128.4h0.9M215.9 87.1h0.9M235 87.2h0.9M242.4 122.6h0.9M238.3 54.4h0.9M236.4 95.8h0.9M238.6 76.2h0.9M219.9 95h0.9M245.2 72h0.9M239.3 65.5h0.9M237 60.7h0.9M217.7 136.4h0.9M216.9 61.9h0.9M239.4 117.2h0.9M239.5 76.7h0.9M216 138.2h0.9M236.5 77h0.9M236.3 105.7h0.9M236.2 108.7h0.9M235.3 110.8h0.9M239.2 91.3h0.9M215.2 111.7h0.9M238.9 76.6h0.9M216.9 89h0.9M240.1 85.7h0.9M235.5 86h0.9M234.7 107.9h0.9M242.8 124.2h0.9M221 75.1h0.9M236.7 91.5h0.9M237.7 121.8h0.9M240.7 116.8h0.9M218.1 111.6h0.9M236.2 95.4h0.9M236.6 104.2h0.9M242.9 108.6h0.9M237.8 108.4h0.9M219.8 102.3h0.9M239.1 102.2h0.9M237.6 94.8h0.9M241.9 67.4h0.9M241.9 98h0.9M221.4 57.9h0.9M221.5 63.7h0.9M234.8 93.4h0.9M238.4 70.1h0.9M217.8 107.2h0.9M235.9 104.6h0.9M215.4 71.7h0.9M219.7 65.3h0.9M219.6 91.7h0.9M237.9 136.1h0.9M247.3 88.1h0.9M244.8 107.1h0.9M237.5 85.1h0.9M236.9 108h0.9M217.8 112.4h0.9M217.4 136.9h0.9M216.6 116.2h0.9M238.5 59.9h0.9M236.1 100.7h0.9M238.5 104.9h0.9M236.1 122.1h0.9M236.2 106.5h0.9M236.1 137.1h0.9M237.7 119.9h0.9M240 83.3h0.9M242.2 72.9h0.9M234.3 129.2h0.9M236.8 83.5h0.9M219.3 57.9h0.9M245.3 100.7h0.9M239.4 63.8h0.9M238.4 78.4h0.9M219.7 88.6h0.9M219.6 60.3h0.9M221.4 60.7h0.9M217.5 88h0.9M240.9 67.4h0.9M239.9 103.5h0.9M217.2 101.2h0.9M241 121.8h0.9M234.2 134.1h0.9M236.3 110.6h0.9M238.3 68.2h0.9M234.9 97.2h0.9M238.3 68.5h0.9M238 55.1h0.9M234.7 125.8h0.9M218.4 131.4h0.9M235.9 62.9h0.9M235.2 96.7h0.9M237.5 64h0.9M219.2 118.9h0.9M218.6 109.7h0.9M240.5 67h0.9M217.1 76.9h0.9M216.5 124h0.9M236.5 133.6h0.9M234.8 96.2h0.9M236 122.6h0.9M221.1 59.1h0.9M221.3 67.2h0.9M218 121.8h0.9M233.7 128.9h0.9M217.1 110.5h0.9M238.5 98.9h0.9M215.5 94.4h0.9M235.8 103.5h0.9M221.4 61.9h0.9M237.3 88.4h0.9M217.2 133.9h0.9M218.4 130.3h0.9M238.4 75h0.9M242.3 80.1h0.9M241.1 74.6h0.9M214.9 112.8h0.9M237.3 70.4h0.9M215.1 99.5h0.9M216.6 91.4h0.9M216.3 101.4h0.9M236.6 68.4h0.9M238.4 83.5h0.9M235 130.7h0.9M218.4 56.7h0.9M219.7 81.1h0.9M220.1 64.1h0.9M221.2 70.1h0.9M241.3 63.3h0.9M216.2 111.6h0.9M218.4 137.9h0.9M236.7 72h0.9M239.2 104.9h0.9M217 134h0.9M234.6 109.2h0.9M219.9 64h0.9M235.5 136.2h0.9M221.4 64.8h0.9M236.7 118h0.9M237.1 105.1h0.9M218.9 121.3h0.9M238.2 75.5h0.9M241.4 64h0.9M238.2 95.6h0.9M237.2 91.5h0.9M236.9 117.3h0.9M242.5 89.1h0.9M218.9 91.6h0.9M239.5 77h0.9M238 115h0.9M238.1 130h0.9M239.1 123.4h0.9M234.6 131.4h0.9M236.5 88.5h0.9M240.8 58.1h0.9M234.4 127.1h0.9M217.6 89.5h0.9M219.3 71.1h0.9M241.4 96.6h0.9M212.9 82.2h0.9M241.9 62.4h0.9M215.7 118.3h0.9M218.2 119.5h0.9M218.8 79.8h0.9M238 86.7h0.9M238.7 65.8h0.9M240.2 102h0.9M237.2 76.7h0.9M241.8 58h0.9M236.4 98.8h0.9M239.6 131.5h0.9M239.4 76.3h0.9M236.3 65.8h0.9M239.2 127.8h0.9M238.8 100.2h0.9M219.8 79.7h0.9M220 96.2h0.9M216.4 68.9h0.9M235.8 115.7h0.9M236.8 128.2h0.9M237.3 77.4h0.9M236.1 93.3h0.9M219.1 98.7h0.9M240.6 71.8h0.9M239.3 105h0.9M239.1 82.4h0.9M214.6 121.5h0.9M213.6 113h0.9M236.9 55h0.9M235.9 74.1h0.9M220.4 57.2h0.9M238.8 131.3h0.9M219.2 84.6h0.9M238.1 93.9h0.9M241.9 61.9h0.9M235.4 92.3h0.9M249.6 75.7h0.9M219.9 88.7h0.9M242.3 96.1h0.9M218.6 107.2h0.9M218 96.5h0.9M240.9 82.3h0.9M236.2 87.7h0.9M238 69.6h0.9M235.6 136.4h0.9M236.5 95.3h0.9M216.3 84.2h0.9M234.9 125.8h0.9M236.9 99.8h0.9M217.1 106.2h0.9M233.9 127.5h0.9M239 66.2h0.9M236 93.4h0.9M217.7 129.6h0.9M218.3 81h0.9M216.3 115.5h0.9M235.9 60.3h0.9M236.2 137.5h0.9M238.4 94.7h0.9M216 115.8h0.9M235.2 99h0.9M233.9 131.9h0.9M233.5 137.4h0.9M239.5 85.5h0.9M218.5 96.3h0.9M217 130.1h0.9M236.6 109.3h0.9M217.3 107.1h0.9M236.5 110.8h0.9M238.9 120.2h0.9M235.1 124.4h0.9M218.9 72.7h0.9M244.9 76.3h0.9M237.6 96.9h0.9M241.2 68.5h0.9M219.3 113.7h0.9M238.3 133.4h0.9M234.9 100.3h0.9M240.4 122.9h0.9M218.6 124.2h0.9M220.7 81.2h0.9M237.3 127.7h0.9M237.6 112.8h0.9M215.9 123.6h0.9M215.3 77.6h0.9M241.3 72.7h0.9M216.7 103.5h0.9M239.9 63.6h0.9M242.2 83.6h0.9M241.4 129.9h0.9M220.1 95.3h0.9M217.1 97.4h0.9M235.2 102.1h0.9M218.3 95.7h0.9M234.9 108.8h0.9M235.5 91.5h0.9M236.6 80.9h0.9M219.8 106.4h0.9M218.8 94.8h0.9M236.7 93.4h0.9M220.6 60.8h0.9M234.6 119.3h0.9M219.4 99h0.9M239 103.9h0.9M236.1 119.2h0.9M213.5 133.1h0.9M215.6 79.4h0.9M236.3 120.2h0.9M219.6 106.3h0.9M216.1 132.3h0.9M240 129.4h0.9M244.1 74.6h0.9M218 91.4h0.9M215.9 130.9h0.9M239.8 74.3h0.9M215.7 98.2h0.9M219.7 66.7h0.9M234.7 133.2h0.9M237.2 81.7h0.9M243.4 69.3h0.9M215.2 86.6h0.9M217.9 84.1h0.9M237.1 102.7h0.9M238.4 69.2h0.9M235 105h0.9M242.3 106.4h0.9M239.8 55.5h0.9M218.1 83.8h0.9M219.5 106h0.9M242.8 90.5h0.9M235.4 133.1h0.9M241.4 108.8h0.9M237.8 116.4h0.9M219.3 83.6h0.9M236.7 118.3h0.9M219.1 63.3h0.9M240.9 64.2h0.9M216 93.7h0.9M235.3 99.2h0.9M241 72.1h0.9M238.1 85.6h0.9M236.4 137.2h0.9M237.7 103.3h0.9M215.4 132h0.9M213.9 85.4h0.9M238.9 76.8h0.9M216.9 117.3h0.9M237.2 97.2h0.9M236.1 132.2h0.9M217.9 90.5h0.9M241.2 102.5h0.9M237.1 71.1h0.9M218.4 134.2h0.9M239.2 93.3h0.9M238 81.8h0.9M218.1 69h0.9M217.7 112.8h0.9M237.7 58.7h0.9M234.8 96.3h0.9M235.5 91h0.9M235.6 125.6h0.9M238.2 119h0.9M238.1 108.3h0.9M217.9 132h0.9M238 108.4h0.9M235.6 89.5h0.9M218.7 108.6h0.9M215.2 109.4h0.9M239 118.2h0.9M220.5 73.6h0.9M217.3 103.8h0.9M220.8 82.1h0.9M218.5 86.1h0.9M241.2 112.3h0.9M219.7 103.8h0.9M220.1 87.3h0.9M239.5 64.8h0.9M237.8 64.4h0.9M216.2 105h0.9M220.4 66.9h0.9M240.2 136.7h0.9M236.6 132.9h0.9M235.5 103.6h0.9M234.6 124.6h0.9M217.3 85.5h0.9M241.2 102.8h0.9M213.8 131.7h0.9M218.7 101.7h0.9M219.4 101.9h0.9M217.9 116h0.9M217.7 132.2h0.9M216 56.7h0.9M215.1 130.7h0.9M243.2 73.4h0.9M235.7 92.8h0.9M242.5 115.9h0.9M240.1 66.2h0.9M239.4 105.9h0.9M239.5 65.4h0.9M236 128.2h0.9M243.5 99.7h0.9M217.9 124h0.9M216.2 100.6h0.9M219.8 96.3h0.9M214.8 90.9h0.9M212.7 128.9h0.9M218.3 92.6h0.9M240.4 85h0.9M236 56.9h0.9M218.4 115.5h0.9M214.7 137.7h0.9M215.4 133h0.9M241.3 89.9h0.9M236 84.5h0.9M240.3 120.1h0.9M241.2 60.4h0.9M216.9 130.4h0.9M218.1 73.1h0.9M239 135h0.9M236.5 128.8h0.9M218.9 108h0.9M237.3 67.2h0.9M240.1 103.4h0.9M219 103.5h0.9M234.7 98.7h0.9M244 103.6h0.9M219.7 97.7h0.9M236.9 111h0.9M219.2 64h0.9M240.1 73.4h0.9M218.4 119.6h0.9M237.3 123.1h0.9M238.2 130.9h0.9M238.3 97.3h0.9M237.9 60h0.9M237.5 59.9h0.9M237.5 78.5h0.9M238.1 135.7h0.9M239 112.3h0.9M241.7 114h0.9M233.8 129h0.9M243.6 105.1h0.9M218.8 71.3h0.9M240.8 55.8h0.9M241.7 72.9h0.9M235.8 86.1h0.9M241.8 58.4h0.9M241.5 107.6h0.9M217.4 130h0.9M219.3 108.2h0.9M216.8 105.2h0.9M236.2 137.5h0.9M236 94.7h0.9M235.7 68.3h0.9M237.3 63.5h0.9M239.7 87.7h0.9M218.6 109.1h0.9M241.5 90.9h0.9M239.3 113.9h0.9M235.1 105h0.9M228.7 16.3h0.9M235.1 16.3h0.9M222.6 15.2h0.9M228.9 43.4h0.9M228.6 33.8h0.9M233 36.6h0.9M230.6 37.8h0.9M224.7 41.8h0.9M241.8 30.6h0.9M225.7 26.8h0.9M231.3 14.9h0.9M233.3 43.9h0.9M226.3 34.6h0.9M220.7 21.7h0.9M228.2 31.4h0.9M235.7 44.1h0.9M226.4 29.7h0.9M230.9 45.9h0.9M236.4 27.2h0.9M229.4 35.3h0.9M224 44.9h0.9M219.7 24.6h0.9M227.5 28.5h0.9M228.1 18.4h0.9M225 18.2h0.9M229.1 24.6h0.9M229.8 13.5h0.9M227.8 37h0.9M239.3 18.4h0.9M228.2 38.9h0.9M228.1 37.3h0.9M229.4 39.6h0.9M232.6 15.7h0.9M223.9 47.4h0.9M225.9 9.2h0.9M230.1 8.5h0.9M235.7 9h0.9M222.3 8.9h0.9M230.3 8.6h0.9M233.6 9.2h0.9M230.7 8.1h0.9M225.4 9h0.9M226.3 8.6h0.9M225.4 8.5h0.9" stroke="#000" stroke-opacity="0.85" stroke-width="0.9" fill="none"/>
<path d="M207.1 7.8H337.5V138.8" fill="none" stroke="#3a3a3a" stroke-width="1"/>
<path d="M207.1 7.8V138.8H337.5" fill="none" stroke="#000" stroke-width="1.2"/>
<path d="M207.1 138.8v3M212.2 138.8v1.7M217.3 138.8v1.7M222.4 138.8v1.7M227.6 138.8v1.7M232.7 138.8v3M237.8 138.8v1.7M242.9 138.8v1.7M248 138.8v1.7M253.1 138.8v1.7M258.2 138.8v3M263.4 138.8v1.7M268.5 138.8v1.7M273.6 138.8v1.7M278.7 138.8v1.7M283.8 138.8v3M288.9 138.8v1.7M294 138.8v1.7M299.1 138.8v1.7M304.3 138.8v1.7M309.4 138.8v3M314.5 138.8v1.7M319.6 138.8v1.7M324.7 138.8v1.7M329.8 138.8v1.7M334.9 138.8v3" stroke="#000" stroke-width="1.15" fill="none"/>
<path d="M207.1 138.8h-3M207.1 128.9h-1.7M207.1 123.2h-1.7M207.1 119.1h-1.7M207.1 115.9h-1.7M207.1 113.3h-1.7M207.1 111.1h-1.7M207.1 109.2h-1.7M207.1 107.5h-1.7M207.1 106.1h-3M207.1 96.2h-1.7M207.1 90.4h-1.7M207.1 86.3h-1.7M207.1 83.2h-1.7M207.1 80.6h-1.7M207.1 78.4h-1.7M207.1 76.5h-1.7M207.1 74.8h-1.7M207.1 73.3h-3M207.1 63.4h-1.7M207.1 57.7h-1.7M207.1 53.6h-1.7M207.1 50.4h-1.7M207.1 47.8h-1.7M207.1 45.6h-1.7M207.1 43.7h-1.7M207.1 42h-1.7M207.1 40.6h-3M207.1 30.7h-1.7M207.1 24.9h-1.7M207.1 20.8h-1.7M207.1 17.7h-1.7M207.1 15.1h-1.7M207.1 12.9h-1.7M207.1 11h-1.7M207.1 9.3h-1.7M207.1 7.8h-3" stroke="#000" stroke-width="1.15" fill="none"/>
<text x="208.7" y="148.4" font-size="6.7" text-anchor="middle" class="tk">0</text>
<text x="233.5" y="148.4" font-size="6.7" text-anchor="middle" class="tk">50</text>
<text x="259" y="148.4" font-size="6.7" text-anchor="middle" class="tk">100</text>
<text x="284.6" y="148.4" font-size="6.7" text-anchor="middle" class="tk">150</text>
<text x="310.2" y="148.4" font-size="6.7" text-anchor="middle" class="tk">200</text>
<text x="335.7" y="148.4" font-size="6.7" text-anchor="middle" class="tk">250</text>
<text transform="translate(201.2 139.1) rotate(-90) scale(1.22 1)" font-size="5.8" text-anchor="middle" class="tk">10<tspan dy="-3.3" font-size="5.2">0</tspan></text>
<text transform="translate(201.2 106.4) rotate(-90) scale(1.22 1)" font-size="5.8" text-anchor="middle" class="tk">10<tspan dy="-3.3" font-size="5.2">1</tspan></text>
<text transform="translate(201.2 73.6) rotate(-90) scale(1.22 1)" font-size="5.8" text-anchor="middle" class="tk">10<tspan dy="-3.3" font-size="5.2">2</tspan></text>
<text transform="translate(201.2 40.9) rotate(-90) scale(1.22 1)" font-size="5.8" text-anchor="middle" class="tk">10<tspan dy="-3.3" font-size="5.2">3</tspan></text>
<text transform="translate(201.2 8.8) rotate(-90) scale(1.22 1)" font-size="5.8" text-anchor="middle" class="tk">10<tspan dy="-3.3" font-size="5.2">4</tspan></text>
<rect x="213.7" y="49.8" width="37.8" height="36.4" fill="none" stroke="#000" stroke-width="1.5"/>
<rect x="210.4" y="97.9" width="44.0" height="40.9" fill="none" stroke="#000" stroke-width="1.5"/>
<text x="261.6" y="71.8" font-size="6.6" text-anchor="middle" class="sm">R2</text>
<text x="263.6" y="121.8" font-size="6.6" text-anchor="middle" class="sm">R3</text>
<text x="297.6" y="164.6" font-size="20.4" text-anchor="end" letter-spacing="0" class="lb">SSC</text>
<text transform="translate(197.6 75.5) rotate(-90) scale(0.97 1.07)" font-size="20.4" text-anchor="middle" class="lb">CD34</text>
</g>
<g>
<polygon points="380.4,137 380.4,102 379.7,102 392.1,101.3 395.5,98.3 398.9,101.3 412.3,101 415.7,92.6 431.8,91.2 434.5,98.3 456.1,99 463.5,100.3 468.2,101 470.5,104.3 471.9,112.8 469.9,121.2 471.9,129.6 469.9,137.3 469.9,137" fill="#000"/>
<path d="M380.3 100.4h3.2v3.2h-3.2zM381.4 101.4h3.2v3.2h-3.2zM390.3 99.9h3.2v3.2h-3.2zM380.3 100.2h3.2v3.2h-3.2zM387.8 100.5h3.2v3.2h-3.2zM380.3 102.5h3.2v3.2h-3.2zM389.5 102.2h3.2v3.2h-3.2zM380.4 101.5h3.2v3.2h-3.2zM380.7 100.5h3.2v3.2h-3.2zM393.4 97.4h3.2v3.2h-3.2zM390.5 101.4h3.2v3.2h-3.2zM394.3 98.4h3.2v3.2h-3.2zM395.1 97.1h3.2v3.2h-3.2zM396.6 101.2h3.2v3.2h-3.2zM395.5 99h3.2v3.2h-3.2zM402.7 100.9h3.2v3.2h-3.2zM399.7 99.5h3.2v3.2h-3.2zM400.6 100.6h3.2v3.2h-3.2zM397.1 100.2h3.2v3.2h-3.2zM407.9 100.4h3.2v3.2h-3.2zM397.8 101.1h3.2v3.2h-3.2zM401.2 101h3.2v3.2h-3.2zM409.3 99h3.2v3.2h-3.2zM413.6 93.6h3.2v3.2h-3.2zM411.9 96.4h3.2v3.2h-3.2zM414.3 93.8h3.2v3.2h-3.2zM413.4 93.3h3.2v3.2h-3.2zM411.6 95.1h3.2v3.2h-3.2zM411.5 95.3h3.2v3.2h-3.2zM424.5 92.2h3.2v3.2h-3.2zM417.7 92.5h3.2v3.2h-3.2zM414.8 92.7h3.2v3.2h-3.2zM416.9 91.5h3.2v3.2h-3.2zM427 92.3h3.2v3.2h-3.2zM425.1 90.5h3.2v3.2h-3.2zM425.4 91.7h3.2v3.2h-3.2zM421.8 92.2h3.2v3.2h-3.2zM428.5 90.2h3.2v3.2h-3.2zM424.5 91.9h3.2v3.2h-3.2zM433.5 97.7h3.2v3.2h-3.2zM430.4 91.6h3.2v3.2h-3.2zM431.6 93.9h3.2v3.2h-3.2zM431 92.5h3.2v3.2h-3.2zM430.1 92.4h3.2v3.2h-3.2zM439.2 96.8h3.2v3.2h-3.2zM435.5 98.1h3.2v3.2h-3.2zM440.6 97.8h3.2v3.2h-3.2zM441.5 96.4h3.2v3.2h-3.2zM447.6 98.8h3.2v3.2h-3.2zM447.2 99.6h3.2v3.2h-3.2zM438.2 96.9h3.2v3.2h-3.2zM440.3 97.5h3.2v3.2h-3.2zM454.6 99.3h3.2v3.2h-3.2zM438.8 97.7h3.2v3.2h-3.2zM438.1 99.4h3.2v3.2h-3.2zM440.8 99.5h3.2v3.2h-3.2zM440.7 97.7h3.2v3.2h-3.2zM432.9 99h3.2v3.2h-3.2zM453.8 99.9h3.2v3.2h-3.2zM458.7 97.8h3.2v3.2h-3.2zM457.8 98.6h3.2v3.2h-3.2zM458.1 98.8h3.2v3.2h-3.2zM461.1 100h3.2v3.2h-3.2zM464.5 100.9h3.2v3.2h-3.2zM463.5 100h3.2v3.2h-3.2zM464.3 100.1h3.2v3.2h-3.2zM467.9 103.6h3.2v3.2h-3.2zM466 100.7h3.2v3.2h-3.2zM468.5 104.3h3.2v3.2h-3.2zM470.4 108.7h3.2v3.2h-3.2zM468.5 110.9h3.2v3.2h-3.2zM466.4 101.8h3.2v3.2h-3.2zM470.4 109.4h3.2v3.2h-3.2zM468.2 116.7h3.2v3.2h-3.2zM469.7 115.3h3.2v3.2h-3.2zM466 117.5h3.2v3.2h-3.2zM468.4 117.4h3.2v3.2h-3.2zM468.7 114.8h3.2v3.2h-3.2zM467.8 122.4h3.2v3.2h-3.2zM467 124.8h3.2v3.2h-3.2zM469.6 127.8h3.2v3.2h-3.2zM466.6 120.9h3.2v3.2h-3.2zM467.6 125.8h3.2v3.2h-3.2zM468.8 132.9h3.2v3.2h-3.2zM468.6 131.8h3.2v3.2h-3.2zM466.7 131.9h3.2v3.2h-3.2zM468.6 133.9h3.2v3.2h-3.2zM468.9 133.9h3.2v3.2h-3.2zM467.8 133.9h3.2v3.2h-3.2zM444.1 96.8h3.2v3.2h-3.2zM445.2 93.9h3.2v3.2h-3.2zM459.7 97.9h3.2v3.2h-3.2zM456.2 96.4h3.2v3.2h-3.2zM448.8 95.6h3.2v3.2h-3.2zM434.3 96.6h3.2v3.2h-3.2zM454.4 95.1h3.2v3.2h-3.2z" fill="#000"/>
<path d="M406.3 80.1h3.4v3.4h-3.4zM400.5 89.2h3.4v3.4h-3.4zM433.5 89.2h3.4v3.4h-3.4zM450.4 89.9h3.4v3.4h-3.4zM459.4 89.9h3.4v3.4h-3.4zM439.9 80.8h3.4v3.4h-3.4zM472.9 85.8h3.4v3.4h-3.4zM478.6 85.8h3.4v3.4h-3.4zM494.8 93.6h3.4v3.4h-3.4zM474.6 96.6h3.4v3.4h-3.4zM477.3 109.4h3.4v3.4h-3.4zM473.2 116.8h3.4v3.4h-3.4zM475.3 105.4h3.4v3.4h-3.4zM479 35h3.4v3.4h-3.4zM488.4 33.3h3.4v3.4h-3.4zM494.5 33.3h3.4v3.4h-3.4zM470.2 43.8h3.4v3.4h-3.4zM474.3 43.8h3.4v3.4h-3.4zM475.9 40.7h3.4v3.4h-3.4zM479.6 39.4h3.4v3.4h-3.4zM484.7 42.4h3.4v3.4h-3.4zM488.4 40.4h3.4v3.4h-3.4zM496.8 39.4h3.4v3.4h-3.4zM505.6 39.4h3.4v3.4h-3.4zM479 45.8h3.4v3.4h-3.4zM479 48.5h3.4v3.4h-3.4zM483.7 51.5h3.4v3.4h-3.4zM491.4 48.5h3.4v3.4h-3.4zM495.8 45.4h3.4v3.4h-3.4zM501.5 48.5h3.4v3.4h-3.4zM464.5 51.5h3.4v3.4h-3.4zM466.9 56.9h3.4v3.4h-3.4zM490.8 55.5h3.4v3.4h-3.4zM494.8 57.9h3.4v3.4h-3.4zM497.5 55.2h3.4v3.4h-3.4zM503.2 63.3h3.4v3.4h-3.4zM494.5 68.3h3.4v3.4h-3.4zM493.1 76.7h3.4v3.4h-3.4zM495.8 77.4h3.4v3.4h-3.4zM489.4 80.5h3.4v3.4h-3.4zM500.5 81.8h3.4v3.4h-3.4zM496.5 74.7h3.4v3.4h-3.4z" fill="#000"/>
<path d="M432.4 129.8h1.6v1.6h-1.6zM463.7 115.3h1.6v1.6h-1.6zM469.4 117.7h1.6v1.6h-1.6z" fill="#fff"/>
<path d="M380.4 6.1H511.5V137" fill="none" stroke="#3a3a3a" stroke-width="1"/>
<path d="M380.4 6.1V137H511.5" fill="none" stroke="#000" stroke-width="1.2"/>
<path d="M420.3 6.1V137M380.4 90.1H511.5" stroke="#000" stroke-width="1.25" fill="none"/>
<path d="M380.4 137v3M390.3 137v1.7M396 137v1.7M400.1 137v1.7M403.3 137v1.7M405.9 137v1.7M408.1 137v1.7M410 137v1.7M411.7 137v1.7M413.2 137v3M423 137v1.7M428.8 137v1.7M432.9 137v1.7M436.1 137v1.7M438.7 137v1.7M440.9 137v1.7M442.8 137v1.7M444.5 137v1.7M445.9 137v3M455.8 137v1.7M461.6 137v1.7M465.7 137v1.7M468.9 137v1.7M471.5 137v1.7M473.6 137v1.7M475.5 137v1.7M477.2 137v1.7M478.7 137v3M488.6 137v1.7M494.4 137v1.7M498.5 137v1.7M501.6 137v1.7M504.2 137v1.7M506.4 137v1.7M508.3 137v1.7M510 137v1.7M511.5 137v3" stroke="#000" stroke-width="1.15" fill="none"/>
<path d="M380.4 137h-3M380.4 127.1h-1.7M380.4 121.4h-1.7M380.4 117.3h-1.7M380.4 114.1h-1.7M380.4 111.5h-1.7M380.4 109.3h-1.7M380.4 107.4h-1.7M380.4 105.8h-1.7M380.4 104.3h-3M380.4 94.4h-1.7M380.4 88.7h-1.7M380.4 84.6h-1.7M380.4 81.4h-1.7M380.4 78.8h-1.7M380.4 76.6h-1.7M380.4 74.7h-1.7M380.4 73h-1.7M380.4 71.5h-3M380.4 61.7h-1.7M380.4 55.9h-1.7M380.4 51.8h-1.7M380.4 48.7h-1.7M380.4 46.1h-1.7M380.4 43.9h-1.7M380.4 42h-1.7M380.4 40.3h-1.7M380.4 38.8h-3M380.4 29h-1.7M380.4 23.2h-1.7M380.4 19.1h-1.7M380.4 16h-1.7M380.4 13.4h-1.7M380.4 11.2h-1.7M380.4 9.3h-1.7M380.4 7.6h-1.7M380.4 6.1h-3" stroke="#000" stroke-width="1.15" fill="none"/>
<text transform="translate(380.8 147.2)" font-size="6.3" text-anchor="middle" class="tk">10<tspan dx="-0.2" dy="-3.6" font-size="5.4">0</tspan></text>
<text transform="translate(374.5 137.3) rotate(-90) scale(1.22 1)" font-size="5.8" text-anchor="middle" class="tk">10<tspan dy="-3.3" font-size="5.2">0</tspan></text>
<text transform="translate(413.6 147.2)" font-size="6.3" text-anchor="middle" class="tk">10<tspan dx="-0.2" dy="-3.6" font-size="5.4">1</tspan></text>
<text transform="translate(374.5 104.6) rotate(-90) scale(1.22 1)" font-size="5.8" text-anchor="middle" class="tk">10<tspan dy="-3.3" font-size="5.2">1</tspan></text>
<text transform="translate(446.3 147.2)" font-size="6.3" text-anchor="middle" class="tk">10<tspan dx="-0.2" dy="-3.6" font-size="5.4">2</tspan></text>
<text transform="translate(374.5 71.8) rotate(-90) scale(1.22 1)" font-size="5.8" text-anchor="middle" class="tk">10<tspan dy="-3.3" font-size="5.2">2</tspan></text>
<text transform="translate(479.1 147.2)" font-size="6.3" text-anchor="middle" class="tk">10<tspan dx="-0.2" dy="-3.6" font-size="5.4">3</tspan></text>
<text transform="translate(374.5 39.1) rotate(-90) scale(1.22 1)" font-size="5.8" text-anchor="middle" class="tk">10<tspan dy="-3.3" font-size="5.2">3</tspan></text>
<text transform="translate(510.9 147.2)" font-size="6.3" text-anchor="middle" class="tk">10<tspan dx="-0.2" dy="-3.6" font-size="5.4">4</tspan></text>
<text transform="translate(374.5 7.1) rotate(-90) scale(1.22 1)" font-size="5.8" text-anchor="middle" class="tk">10<tspan dy="-3.3" font-size="5.2">4</tspan></text>
<text x="386" y="20.6" font-size="12.6" letter-spacing="2.3" class="nm">0.0</text>
<text x="481.4" y="20.2" font-size="12.6" letter-spacing="2.3" class="nm">0.6</text>
<text x="462.7" y="160.8" font-size="20.4" text-anchor="end" letter-spacing="0" class="lb">IgE</text>
<text transform="translate(368.9 69.6) rotate(-90) scale(0.97 1.04)" font-size="20.4" text-anchor="middle" class="lb">97A6</text>
</g>
<g>
<polygon points="30.8,306.3 30.8,272 31.3,272 43.8,272 47.1,270 50.5,272 58.9,271.4 65.6,267.7 71.4,265.3 78.1,262.6 84.1,260.3 92.9,259.2 95.9,262.6 94.9,276.1 96.6,289.5 94.9,303 94.9,306.3" fill="#000"/>
<path d="M30.7 271.8h3.2v3.2h-3.2zM40.2 271h3.2v3.2h-3.2zM31.2 271.5h3.2v3.2h-3.2zM33.1 270.4h3.2v3.2h-3.2zM41.5 272.2h3.2v3.2h-3.2zM36.3 271.4h3.2v3.2h-3.2zM39.8 269.9h3.2v3.2h-3.2zM31.4 270.7h3.2v3.2h-3.2zM35.9 272.5h3.2v3.2h-3.2zM43 269.7h3.2v3.2h-3.2zM42.9 271.4h3.2v3.2h-3.2zM46.2 269.3h3.2v3.2h-3.2zM46.3 270.6h3.2v3.2h-3.2zM56.8 269.9h3.2v3.2h-3.2zM51.6 271.5h3.2v3.2h-3.2zM53.6 269.6h3.2v3.2h-3.2zM53.7 270h3.2v3.2h-3.2zM52.3 270.9h3.2v3.2h-3.2zM62.5 268h3.2v3.2h-3.2zM62.7 267.9h3.2v3.2h-3.2zM60.8 267.7h3.2v3.2h-3.2zM61.2 268.1h3.2v3.2h-3.2zM63.7 266.6h3.2v3.2h-3.2zM67.3 264.3h3.2v3.2h-3.2zM69.3 264h3.2v3.2h-3.2zM66.6 267h3.2v3.2h-3.2zM67.8 265.9h3.2v3.2h-3.2zM73.4 262h3.2v3.2h-3.2zM74.1 262.8h3.2v3.2h-3.2zM74.1 264.1h3.2v3.2h-3.2zM73.5 263.5h3.2v3.2h-3.2zM78.8 261.8h3.2v3.2h-3.2zM80 259.1h3.2v3.2h-3.2zM79.9 259.3h3.2v3.2h-3.2zM81.3 258.9h3.2v3.2h-3.2zM90 260.1h3.2v3.2h-3.2zM83.2 259.9h3.2v3.2h-3.2zM87.3 260h3.2v3.2h-3.2zM87.6 258.9h3.2v3.2h-3.2zM91.6 257.2h3.2v3.2h-3.2zM89.2 257.5h3.2v3.2h-3.2zM93.4 261.8h3.2v3.2h-3.2zM90.2 260h3.2v3.2h-3.2zM93.5 263h3.2v3.2h-3.2zM93 261h3.2v3.2h-3.2zM92.3 273.1h3.2v3.2h-3.2zM93.4 268.9h3.2v3.2h-3.2zM94.7 266.1h3.2v3.2h-3.2zM93.4 268.3h3.2v3.2h-3.2zM93.8 274.1h3.2v3.2h-3.2zM94.5 260.8h3.2v3.2h-3.2zM91.6 271.5h3.2v3.2h-3.2zM92.6 277.3h3.2v3.2h-3.2zM92.9 285.8h3.2v3.2h-3.2zM95.1 288.4h3.2v3.2h-3.2zM93.8 280.7h3.2v3.2h-3.2zM93.4 281.2h3.2v3.2h-3.2zM94 282.1h3.2v3.2h-3.2zM94.3 279.7h3.2v3.2h-3.2zM95.3 288.7h3.2v3.2h-3.2zM93.8 275.2h3.2v3.2h-3.2zM95.6 289.4h3.2v3.2h-3.2zM92.7 289h3.2v3.2h-3.2zM93.3 299.2h3.2v3.2h-3.2zM93.5 290.6h3.2v3.2h-3.2zM93.3 296.6h3.2v3.2h-3.2zM93.4 300.5h3.2v3.2h-3.2zM93.2 292h3.2v3.2h-3.2zM92.2 295.2h3.2v3.2h-3.2zM92.4 292.8h3.2v3.2h-3.2zM90.8 302.4h3.2v3.2h-3.2zM91.3 302.1h3.2v3.2h-3.2zM115.3 260.9h3.2v3.2h-3.2zM112.1 271.2h3.2v3.2h-3.2zM100.8 269.8h3.2v3.2h-3.2zM101.2 265.8h3.2v3.2h-3.2zM99 260.2h3.2v3.2h-3.2zM113.3 268.4h3.2v3.2h-3.2zM102.1 276.9h3.2v3.2h-3.2zM111.2 276.5h3.2v3.2h-3.2zM116.5 263.9h3.2v3.2h-3.2zM96.8 270.1h3.2v3.2h-3.2zM99 270.4h3.2v3.2h-3.2zM110.3 274.6h3.2v3.2h-3.2zM113.1 261.8h3.2v3.2h-3.2zM97.1 266.8h3.2v3.2h-3.2zM102 266.4h3.2v3.2h-3.2zM99.2 265.3h3.2v3.2h-3.2zM107 264.9h3.2v3.2h-3.2zM108.1 267h3.2v3.2h-3.2zM101.6 267.8h3.2v3.2h-3.2zM104.4 266.4h3.2v3.2h-3.2zM99.7 260.4h3.2v3.2h-3.2zM103.1 260h3.2v3.2h-3.2zM104.1 271.3h3.2v3.2h-3.2zM110.6 265.6h3.2v3.2h-3.2zM100.7 260.8h3.2v3.2h-3.2zM95.9 262.5h3.2v3.2h-3.2zM109.5 267.7h3.2v3.2h-3.2zM111.9 267.3h3.2v3.2h-3.2zM114.3 259.6h3.2v3.2h-3.2zM114.9 265.3h3.2v3.2h-3.2zM95.9 269.9h3.2v3.2h-3.2zM102.2 263.9h3.2v3.2h-3.2zM109.8 259.2h3.2v3.2h-3.2zM107.2 270.8h3.2v3.2h-3.2zM112.6 259.9h3.2v3.2h-3.2zM100.4 260.4h3.2v3.2h-3.2zM97.3 265.8h3.2v3.2h-3.2zM105.8 273.2h3.2v3.2h-3.2zM96.5 269.7h3.2v3.2h-3.2zM115 273.5h3.2v3.2h-3.2zM116.1 273.7h3.2v3.2h-3.2zM97.7 271.6h3.2v3.2h-3.2zM110.9 266h3.2v3.2h-3.2zM115.8 267.8h3.2v3.2h-3.2zM110.2 264.8h3.2v3.2h-3.2zM102.5 275.7h3.2v3.2h-3.2zM108 278.1h3.2v3.2h-3.2zM98 264.1h3.2v3.2h-3.2zM108.7 267.3h3.2v3.2h-3.2zM112 268.2h3.2v3.2h-3.2zM112.4 266.5h3.2v3.2h-3.2zM116 272.4h3.2v3.2h-3.2zM96.2 274.3h3.2v3.2h-3.2zM115.9 267.6h3.2v3.2h-3.2zM94.8 275.4h3.2v3.2h-3.2zM113.4 267.5h3.2v3.2h-3.2zM102.6 276.5h3.2v3.2h-3.2zM104.7 275.8h3.2v3.2h-3.2zM100.4 270.5h3.2v3.2h-3.2zM113.4 260.6h3.2v3.2h-3.2zM112.6 265.1h3.2v3.2h-3.2zM97.5 264.6h3.2v3.2h-3.2zM115.9 269.4h3.2v3.2h-3.2zM107.9 275.1h3.2v3.2h-3.2zM104.4 268.6h3.2v3.2h-3.2zM103.9 277.5h3.2v3.2h-3.2zM115.2 270.6h3.2v3.2h-3.2zM112.8 272.5h3.2v3.2h-3.2zM101.9 278.4h3.2v3.2h-3.2zM97.8 270.9h3.2v3.2h-3.2zM111.3 276.6h3.2v3.2h-3.2zM110.8 275.5h3.2v3.2h-3.2zM111.7 276.3h3.2v3.2h-3.2zM109.3 263.8h3.2v3.2h-3.2zM109 267.4h3.2v3.2h-3.2zM108.1 271.2h3.2v3.2h-3.2zM113.9 274.4h3.2v3.2h-3.2zM109.6 272.8h3.2v3.2h-3.2zM109.3 273.5h3.2v3.2h-3.2zM113.7 271.4h3.2v3.2h-3.2zM104.9 273.4h3.2v3.2h-3.2zM97.9 266.2h3.2v3.2h-3.2zM107 269.9h3.2v3.2h-3.2zM105.9 275.8h3.2v3.2h-3.2zM105.9 275.4h3.2v3.2h-3.2zM104.8 264.2h3.2v3.2h-3.2zM98.2 271.7h3.2v3.2h-3.2zM104.5 278.4h3.2v3.2h-3.2zM102.1 275.3h3.2v3.2h-3.2zM99.3 273.1h3.2v3.2h-3.2zM115.5 275.3h3.2v3.2h-3.2zM103.6 261.8h3.2v3.2h-3.2zM109 274.9h3.2v3.2h-3.2zM110.7 275h3.2v3.2h-3.2zM94.9 270.1h3.2v3.2h-3.2zM114.5 262.9h3.2v3.2h-3.2zM107.3 267.7h3.2v3.2h-3.2zM95.1 277.1h3.2v3.2h-3.2zM101.6 261.2h3.2v3.2h-3.2zM102.2 278.4h3.2v3.2h-3.2zM110.5 270.2h3.2v3.2h-3.2zM101.4 274.3h3.2v3.2h-3.2zM104 264.6h3.2v3.2h-3.2zM110.6 269.6h3.2v3.2h-3.2zM116.5 275.2h3.2v3.2h-3.2zM99.6 267.6h3.2v3.2h-3.2zM96.8 262.7h3.2v3.2h-3.2zM114.9 272.1h3.2v3.2h-3.2zM99.2 267.2h3.2v3.2h-3.2zM97.7 263.4h3.2v3.2h-3.2zM110.5 274.6h3.2v3.2h-3.2zM106.7 269.3h3.2v3.2h-3.2zM112.8 275.5h3.2v3.2h-3.2zM97.9 286.6h3.2v3.2h-3.2zM105.7 280.2h3.2v3.2h-3.2zM115.2 285.2h3.2v3.2h-3.2zM110.7 287.6h3.2v3.2h-3.2zM95.3 286.9h3.2v3.2h-3.2zM110.9 285.8h3.2v3.2h-3.2zM110.8 285.8h3.2v3.2h-3.2zM109.1 287.8h3.2v3.2h-3.2zM96.3 282.7h3.2v3.2h-3.2zM113.4 290.1h3.2v3.2h-3.2zM97.2 286.3h3.2v3.2h-3.2zM96.8 279.6h3.2v3.2h-3.2zM98.7 285.7h3.2v3.2h-3.2zM102.2 286.3h3.2v3.2h-3.2zM106 288.4h3.2v3.2h-3.2zM111.5 280.4h3.2v3.2h-3.2zM115.2 285.2h3.2v3.2h-3.2zM105.7 284.9h3.2v3.2h-3.2zM101.5 285h3.2v3.2h-3.2zM101.2 288.5h3.2v3.2h-3.2zM102.6 285.8h3.2v3.2h-3.2zM99.4 286h3.2v3.2h-3.2zM100 282.3h3.2v3.2h-3.2zM115 285.4h3.2v3.2h-3.2zM100 287.2h3.2v3.2h-3.2zM110.4 278.9h3.2v3.2h-3.2zM94.1 282.5h3.2v3.2h-3.2zM107.3 287.4h3.2v3.2h-3.2zM108.7 281.2h3.2v3.2h-3.2zM115.2 282.8h3.2v3.2h-3.2zM104 293.6h3.2v3.2h-3.2zM110.3 292.5h3.2v3.2h-3.2zM103.9 292h3.2v3.2h-3.2zM108.5 295.8h3.2v3.2h-3.2zM94.7 300.3h3.2v3.2h-3.2zM101.3 299.7h3.2v3.2h-3.2zM95.8 299.6h3.2v3.2h-3.2zM99.9 300.3h3.2v3.2h-3.2zM100 297.6h3.2v3.2h-3.2zM107.6 291.6h3.2v3.2h-3.2zM106.3 299.7h3.2v3.2h-3.2z" fill="#000"/>
<path d="M51.5 203h3.4v3.4h-3.4zM58.9 202h3.4v3.4h-3.4zM62.9 201h3.4v3.4h-3.4zM70.7 201h3.4v3.4h-3.4zM73 203h3.4v3.4h-3.4zM77.4 198h3.4v3.4h-3.4zM74.1 206.4h3.4v3.4h-3.4zM76.4 208.1h3.4v3.4h-3.4zM67.3 214.5h3.4v3.4h-3.4zM65 217.2h3.4v3.4h-3.4zM55.5 221.2h3.4v3.4h-3.4zM56.2 223.9h3.4v3.4h-3.4zM69.7 220.5h3.4v3.4h-3.4zM87.5 220.5h3.4v3.4h-3.4zM84.2 230h3.4v3.4h-3.4zM94.3 226.6h3.4v3.4h-3.4zM106 226.6h3.4v3.4h-3.4zM94.3 233.3h3.4v3.4h-3.4zM109.4 232.3h3.4v3.4h-3.4zM112.1 234.7h3.4v3.4h-3.4zM59.6 241.4h3.4v3.4h-3.4zM75.1 238h3.4v3.4h-3.4zM73 247.5h3.4v3.4h-3.4zM99.3 247.5h3.4v3.4h-3.4zM105.4 245.8h3.4v3.4h-3.4zM89.9 252.5h3.4v3.4h-3.4zM94.3 252.5h3.4v3.4h-3.4zM99.3 253.5h3.4v3.4h-3.4zM105.4 253.5h3.4v3.4h-3.4zM111.1 257.6h3.4v3.4h-3.4zM114.4 259.3h3.4v3.4h-3.4zM118.8 259.3h3.4v3.4h-3.4zM59.6 260.9h3.4v3.4h-3.4zM69 260.9h3.4v3.4h-3.4zM44.8 263.6h3.4v3.4h-3.4zM118.5 264.3h3.4v3.4h-3.4zM119.5 274.4h3.4v3.4h-3.4zM117.8 282.8h3.4v3.4h-3.4zM118.8 291.2h3.4v3.4h-3.4zM114.4 296.3h3.4v3.4h-3.4zM99.3 299.6h3.4v3.4h-3.4zM106.7 298.6h3.4v3.4h-3.4z" fill="#000"/>
<path d="M87.4 280.3h1.6v1.6h-1.6zM80 298.2h1.6v1.6h-1.6zM96.5 263.2h1.6v1.6h-1.6zM96.8 265.2h1.6v1.6h-1.6zM98.8 278h1.6v1.6h-1.6zM103.5 282h1.6v1.6h-1.6z" fill="#fff"/>
<path d="M30.8 176.6H160.3V306.3" fill="none" stroke="#3a3a3a" stroke-width="1"/>
<path d="M30.8 176.6V306.3H160.3" fill="none" stroke="#000" stroke-width="1.2"/>
<path d="M70.9 176.6V306.3M30.8 259.2H160.3" stroke="#000" stroke-width="1.25" fill="none"/>
<path d="M30.8 306.3v3M40.5 306.3v1.7M46.2 306.3v1.7M50.3 306.3v1.7M53.4 306.3v1.7M56 306.3v1.7M58.2 306.3v1.7M60 306.3v1.7M61.7 306.3v1.7M63.2 306.3v3M72.9 306.3v1.7M78.6 306.3v1.7M82.7 306.3v1.7M85.8 306.3v1.7M88.4 306.3v1.7M90.5 306.3v1.7M92.4 306.3v1.7M94.1 306.3v1.7M95.5 306.3v3M105.3 306.3v1.7M111 306.3v1.7M115 306.3v1.7M118.2 306.3v1.7M120.7 306.3v1.7M122.9 306.3v1.7M124.8 306.3v1.7M126.4 306.3v1.7M127.9 306.3v3M137.7 306.3v1.7M143.4 306.3v1.7M147.4 306.3v1.7M150.6 306.3v1.7M153.1 306.3v1.7M155.3 306.3v1.7M157.2 306.3v1.7M158.8 306.3v1.7M160.3 306.3v3" stroke="#000" stroke-width="1.15" fill="none"/>
<path d="M30.8 306.3h-3M30.8 296.5h-1.7M30.8 290.8h-1.7M30.8 286.8h-1.7M30.8 283.6h-1.7M30.8 281.1h-1.7M30.8 278.9h-1.7M30.8 277h-1.7M30.8 275.4h-1.7M30.8 273.9h-3M30.8 264.1h-1.7M30.8 258.4h-1.7M30.8 254.4h-1.7M30.8 251.2h-1.7M30.8 248.6h-1.7M30.8 246.5h-1.7M30.8 244.6h-1.7M30.8 242.9h-1.7M30.8 241.4h-3M30.8 231.7h-1.7M30.8 226h-1.7M30.8 221.9h-1.7M30.8 218.8h-1.7M30.8 216.2h-1.7M30.8 214h-1.7M30.8 212.2h-1.7M30.8 210.5h-1.7M30.8 209h-3M30.8 199.3h-1.7M30.8 193.6h-1.7M30.8 189.5h-1.7M30.8 186.4h-1.7M30.8 183.8h-1.7M30.8 181.6h-1.7M30.8 179.7h-1.7M30.8 178.1h-1.7M30.8 176.6h-3" stroke="#000" stroke-width="1.15" fill="none"/>
<text transform="translate(31.2 316.5)" font-size="6.3" text-anchor="middle" class="tk">10<tspan dx="-0.2" dy="-3.6" font-size="5.4">0</tspan></text>
<text transform="translate(24.9 306.6) rotate(-90) scale(1.22 1)" font-size="5.8" text-anchor="middle" class="tk">10<tspan dy="-3.3" font-size="5.2">0</tspan></text>
<text transform="translate(63.6 316.5)" font-size="6.3" text-anchor="middle" class="tk">10<tspan dx="-0.2" dy="-3.6" font-size="5.4">1</tspan></text>
<text transform="translate(24.9 274.2) rotate(-90) scale(1.22 1)" font-size="5.8" text-anchor="middle" class="tk">10<tspan dy="-3.3" font-size="5.2">1</tspan></text>
<text transform="translate(96 316.5)" font-size="6.3" text-anchor="middle" class="tk">10<tspan dx="-0.2" dy="-3.6" font-size="5.4">2</tspan></text>
<text transform="translate(24.9 241.8) rotate(-90) scale(1.22 1)" font-size="5.8" text-anchor="middle" class="tk">10<tspan dy="-3.3" font-size="5.2">2</tspan></text>
<text transform="translate(128.3 316.5)" font-size="6.3" text-anchor="middle" class="tk">10<tspan dx="-0.2" dy="-3.6" font-size="5.4">3</tspan></text>
<text transform="translate(24.9 209.3) rotate(-90) scale(1.22 1)" font-size="5.8" text-anchor="middle" class="tk">10<tspan dy="-3.3" font-size="5.2">3</tspan></text>
<text transform="translate(159.7 316.5)" font-size="6.3" text-anchor="middle" class="tk">10<tspan dx="-0.2" dy="-3.6" font-size="5.4">4</tspan></text>
<text transform="translate(24.9 177.6) rotate(-90) scale(1.22 1)" font-size="5.8" text-anchor="middle" class="tk">10<tspan dy="-3.3" font-size="5.2">4</tspan></text>
<text x="36.7" y="191.3" font-size="12.6" letter-spacing="2.3" class="nm">0.2</text>
<text x="129.1" y="190.5" font-size="12.6" letter-spacing="2.3" class="nm">0.4</text>
<text x="117.3" y="332.8" font-size="20.4" text-anchor="end" letter-spacing="0" class="lb">CD13</text>
<text transform="translate(19 239.4) rotate(-90) scale(0.97 1.04)" font-size="20.4" text-anchor="middle" class="lb">97A6</text>
</g>
<g>
<polygon points="207,306.2 207,273 206.3,273 215.4,272 227.8,272.7 241.6,271 248.7,269.7 255.8,267 262.5,261.3 283.7,259.6 311.3,259.9 317,262.3 322.8,269.3 326.5,276.4 327.5,287.9 328.5,299.6 327.5,303.7 327.5,306.2" fill="#000"/>
<path d="M206.9 273.6h3.2v3.2h-3.2zM206.9 273.4h3.2v3.2h-3.2zM211.4 271.4h3.2v3.2h-3.2zM206.9 271.3h3.2v3.2h-3.2zM210.2 270.5h3.2v3.2h-3.2zM212 272h3.2v3.2h-3.2zM206.9 272.2h3.2v3.2h-3.2zM226.1 272h3.2v3.2h-3.2zM225.4 272.3h3.2v3.2h-3.2zM220 270.4h3.2v3.2h-3.2zM222.5 273.6h3.2v3.2h-3.2zM223.7 271.6h3.2v3.2h-3.2zM221.9 270.9h3.2v3.2h-3.2zM223 273h3.2v3.2h-3.2zM215.5 270.6h3.2v3.2h-3.2zM228.4 271.9h3.2v3.2h-3.2zM232.9 270.6h3.2v3.2h-3.2zM238 270.4h3.2v3.2h-3.2zM229.8 272.4h3.2v3.2h-3.2zM228.1 270.2h3.2v3.2h-3.2zM228.9 271.3h3.2v3.2h-3.2zM234.4 270.2h3.2v3.2h-3.2zM227.4 270.8h3.2v3.2h-3.2zM237.2 271.6h3.2v3.2h-3.2zM245.6 270.9h3.2v3.2h-3.2zM247.8 269.4h3.2v3.2h-3.2zM246 269.1h3.2v3.2h-3.2zM239.7 270h3.2v3.2h-3.2zM249.3 269.5h3.2v3.2h-3.2zM248.1 269.9h3.2v3.2h-3.2zM251.8 266.4h3.2v3.2h-3.2zM248 270h3.2v3.2h-3.2zM254.5 267.6h3.2v3.2h-3.2zM254.8 264.3h3.2v3.2h-3.2zM258.6 264.3h3.2v3.2h-3.2zM255.8 266.8h3.2v3.2h-3.2zM254.9 266.4h3.2v3.2h-3.2zM255 267.1h3.2v3.2h-3.2zM271.4 260.3h3.2v3.2h-3.2zM270 258.4h3.2v3.2h-3.2zM274.7 259h3.2v3.2h-3.2zM267.4 258.8h3.2v3.2h-3.2zM282 260h3.2v3.2h-3.2zM261.6 260.2h3.2v3.2h-3.2zM270 261h3.2v3.2h-3.2zM266.3 260.5h3.2v3.2h-3.2zM272.4 260h3.2v3.2h-3.2zM275.8 260.5h3.2v3.2h-3.2zM272.3 258.3h3.2v3.2h-3.2zM270.1 260h3.2v3.2h-3.2zM268.3 258.7h3.2v3.2h-3.2zM264.9 259h3.2v3.2h-3.2zM304.4 259h3.2v3.2h-3.2zM290.6 259.4h3.2v3.2h-3.2zM281.2 259h3.2v3.2h-3.2zM285.3 258.1h3.2v3.2h-3.2zM287.2 258.2h3.2v3.2h-3.2zM299.9 257.9h3.2v3.2h-3.2zM307.2 259.2h3.2v3.2h-3.2zM301.3 259.5h3.2v3.2h-3.2zM306 260h3.2v3.2h-3.2zM306.8 259.1h3.2v3.2h-3.2zM303.4 258.2h3.2v3.2h-3.2zM307.3 258.9h3.2v3.2h-3.2zM288.5 259.8h3.2v3.2h-3.2zM307 258.7h3.2v3.2h-3.2zM298.2 258.5h3.2v3.2h-3.2zM289.6 258.4h3.2v3.2h-3.2zM284 260.2h3.2v3.2h-3.2zM300.4 257.8h3.2v3.2h-3.2zM311.6 260.4h3.2v3.2h-3.2zM311.5 260.9h3.2v3.2h-3.2zM309.9 259.2h3.2v3.2h-3.2zM311.7 259.3h3.2v3.2h-3.2zM314.4 259.3h3.2v3.2h-3.2zM316.5 264h3.2v3.2h-3.2zM317.2 264.9h3.2v3.2h-3.2zM312.8 260.4h3.2v3.2h-3.2zM319.3 265.3h3.2v3.2h-3.2zM318.5 262.9h3.2v3.2h-3.2zM321.2 270h3.2v3.2h-3.2zM323.8 275.8h3.2v3.2h-3.2zM324 271h3.2v3.2h-3.2zM321.4 268.4h3.2v3.2h-3.2zM320.7 269.8h3.2v3.2h-3.2zM325 275h3.2v3.2h-3.2zM325.1 276h3.2v3.2h-3.2zM323.5 276.6h3.2v3.2h-3.2zM324.7 285.2h3.2v3.2h-3.2zM324.6 280.5h3.2v3.2h-3.2zM325.5 282.7h3.2v3.2h-3.2zM323.4 276h3.2v3.2h-3.2zM324.9 289.8h3.2v3.2h-3.2zM326 295.1h3.2v3.2h-3.2zM324.7 286.3h3.2v3.2h-3.2zM323.8 290.1h3.2v3.2h-3.2zM324.9 295.4h3.2v3.2h-3.2zM325.6 293h3.2v3.2h-3.2zM326.7 291h3.2v3.2h-3.2zM326.6 297.3h3.2v3.2h-3.2zM324.2 299.7h3.2v3.2h-3.2zM323.4 302.4h3.2v3.2h-3.2z" fill="#000"/>
<path d="M281 198.7h3.4v3.4h-3.4zM281.7 202h3.4v3.4h-3.4zM281.7 207.1h3.4v3.4h-3.4zM286.1 210.4h3.4v3.4h-3.4zM289.4 213.1h3.4v3.4h-3.4zM257.5 207.1h3.4v3.4h-3.4zM265.9 204.4h3.4v3.4h-3.4zM298.5 205.4h3.4v3.4h-3.4zM265.9 213.1h3.4v3.4h-3.4zM274.3 215.5h3.4v3.4h-3.4zM277 214.5h3.4v3.4h-3.4zM278.3 217.2h3.4v3.4h-3.4zM282.7 218.9h3.4v3.4h-3.4zM293.8 220.5h3.4v3.4h-3.4zM259.2 223.9h3.4v3.4h-3.4zM264.2 227.9h3.4v3.4h-3.4zM263.5 235.7h3.4v3.4h-3.4zM270.9 232.3h3.4v3.4h-3.4zM301.9 227.9h3.4v3.4h-3.4zM294.5 242.4h3.4v3.4h-3.4zM297.2 244.1h3.4v3.4h-3.4zM273.6 245.1h3.4v3.4h-3.4zM289.4 248.5h3.4v3.4h-3.4zM252.4 249.2h3.4v3.4h-3.4zM255.1 249.2h3.4v3.4h-3.4zM307.3 250.2h3.4v3.4h-3.4zM284.4 252.5h3.4v3.4h-3.4zM243.3 259.3h3.4v3.4h-3.4zM328.8 281.1h3.4v3.4h-3.4zM326.5 271.7h3.4v3.4h-3.4zM328.2 298h3.4v3.4h-3.4z" fill="#000"/>
<path d="M207 175.7H337.5V306.2" fill="none" stroke="#3a3a3a" stroke-width="1"/>
<path d="M207 175.7V306.2H337.5" fill="none" stroke="#000" stroke-width="1.2"/>
<path d="M247.9 175.7V306.2M207 258H337.5" stroke="#000" stroke-width="1.25" fill="none"/>
<path d="M207 306.2v3M216.8 306.2v1.7M222.6 306.2v1.7M226.6 306.2v1.7M229.8 306.2v1.7M232.4 306.2v1.7M234.6 306.2v1.7M236.5 306.2v1.7M238.1 306.2v1.7M239.6 306.2v3M249.4 306.2v1.7M255.2 306.2v1.7M259.3 306.2v1.7M262.4 306.2v1.7M265 306.2v1.7M267.2 306.2v1.7M269.1 306.2v1.7M270.8 306.2v1.7M272.2 306.2v3M282.1 306.2v1.7M287.8 306.2v1.7M291.9 306.2v1.7M295.1 306.2v1.7M297.6 306.2v1.7M299.8 306.2v1.7M301.7 306.2v1.7M303.4 306.2v1.7M304.9 306.2v3M314.7 306.2v1.7M320.4 306.2v1.7M324.5 306.2v1.7M327.7 306.2v1.7M330.3 306.2v1.7M332.4 306.2v1.7M334.3 306.2v1.7M336 306.2v1.7M337.5 306.2v3" stroke="#000" stroke-width="1.15" fill="none"/>
<path d="M207 306.2h-3M207 296.4h-1.7M207 290.6h-1.7M207 286.6h-1.7M207 283.4h-1.7M207 280.8h-1.7M207 278.6h-1.7M207 276.7h-1.7M207 275.1h-1.7M207 273.6h-3M207 263.8h-1.7M207 258h-1.7M207 253.9h-1.7M207 250.8h-1.7M207 248.2h-1.7M207 246h-1.7M207 244.1h-1.7M207 242.4h-1.7M207 240.9h-3M207 231.1h-1.7M207 225.4h-1.7M207 221.3h-1.7M207 218.1h-1.7M207 215.6h-1.7M207 213.4h-1.7M207 211.5h-1.7M207 209.8h-1.7M207 208.3h-3M207 198.5h-1.7M207 192.8h-1.7M207 188.7h-1.7M207 185.5h-1.7M207 182.9h-1.7M207 180.8h-1.7M207 178.9h-1.7M207 177.2h-1.7M207 175.7h-3" stroke="#000" stroke-width="1.15" fill="none"/>
<text transform="translate(207.4 316.4)" font-size="6.3" text-anchor="middle" class="tk">10<tspan dx="-0.2" dy="-3.6" font-size="5.4">0</tspan></text>
<text transform="translate(201.1 306.5) rotate(-90) scale(1.22 1)" font-size="5.8" text-anchor="middle" class="tk">10<tspan dy="-3.3" font-size="5.2">0</tspan></text>
<text transform="translate(240 316.4)" font-size="6.3" text-anchor="middle" class="tk">10<tspan dx="-0.2" dy="-3.6" font-size="5.4">1</tspan></text>
<text transform="translate(201.1 273.9) rotate(-90) scale(1.22 1)" font-size="5.8" text-anchor="middle" class="tk">10<tspan dy="-3.3" font-size="5.2">1</tspan></text>
<text transform="translate(272.6 316.4)" font-size="6.3" text-anchor="middle" class="tk">10<tspan dx="-0.2" dy="-3.6" font-size="5.4">2</tspan></text>
<text transform="translate(201.1 241.2) rotate(-90) scale(1.22 1)" font-size="5.8" text-anchor="middle" class="tk">10<tspan dy="-3.3" font-size="5.2">2</tspan></text>
<text transform="translate(305.3 316.4)" font-size="6.3" text-anchor="middle" class="tk">10<tspan dx="-0.2" dy="-3.6" font-size="5.4">3</tspan></text>
<text transform="translate(201.1 208.6) rotate(-90) scale(1.22 1)" font-size="5.8" text-anchor="middle" class="tk">10<tspan dy="-3.3" font-size="5.2">3</tspan></text>
<text transform="translate(336.9 316.4)" font-size="6.3" text-anchor="middle" class="tk">10<tspan dx="-0.2" dy="-3.6" font-size="5.4">4</tspan></text>
<text transform="translate(201.1 176.7) rotate(-90) scale(1.22 1)" font-size="5.8" text-anchor="middle" class="tk">10<tspan dy="-3.3" font-size="5.2">4</tspan></text>
<text x="212.9" y="190.7" font-size="12.6" letter-spacing="2.3" class="nm">0.0</text>
<text x="305.8" y="190.1" font-size="12.6" letter-spacing="2.3" class="nm">0.6</text>
<text x="293.1" y="333.1" font-size="20.4" text-anchor="end" letter-spacing="0" class="lb">CD81</text>
<text transform="translate(194.9 239.6) rotate(-90) scale(0.97 1.04)" font-size="20.4" text-anchor="middle" class="lb">97A6</text>
</g>
<g>
<polygon points="384.4,306.9 384.4,273 384.4,273 402.9,272.4 416.7,270.4 423.8,266 430.8,265 447.3,262.6 469.9,262.3 481.3,264.6 485.4,273.4 487.7,286.8 489.1,304.7 489.1,306.9" fill="#000"/>
<path d="M384.3 273.2h3.2v3.2h-3.2zM392 272.6h3.2v3.2h-3.2zM388.8 271.6h3.2v3.2h-3.2zM392.7 271.7h3.2v3.2h-3.2zM393.2 271.7h3.2v3.2h-3.2zM392.3 272.3h3.2v3.2h-3.2zM388.3 271h3.2v3.2h-3.2zM386.4 272.2h3.2v3.2h-3.2zM398.9 271.5h3.2v3.2h-3.2zM390.8 270.6h3.2v3.2h-3.2zM393.5 271h3.2v3.2h-3.2zM399.1 271.2h3.2v3.2h-3.2zM394.2 271h3.2v3.2h-3.2zM411.7 270.8h3.2v3.2h-3.2zM403.9 272h3.2v3.2h-3.2zM405.6 269.6h3.2v3.2h-3.2zM401.3 272.5h3.2v3.2h-3.2zM414.7 269.6h3.2v3.2h-3.2zM409.7 271.6h3.2v3.2h-3.2zM407 270.4h3.2v3.2h-3.2zM413.4 269.4h3.2v3.2h-3.2zM401.7 272.3h3.2v3.2h-3.2zM421.8 266.8h3.2v3.2h-3.2zM420.4 266.2h3.2v3.2h-3.2zM422.2 267.4h3.2v3.2h-3.2zM419.6 267h3.2v3.2h-3.2zM419.3 267.8h3.2v3.2h-3.2zM424.3 266.4h3.2v3.2h-3.2zM426 265.2h3.2v3.2h-3.2zM429.1 266.1h3.2v3.2h-3.2zM421.3 265.3h3.2v3.2h-3.2zM439.8 262.5h3.2v3.2h-3.2zM438 263.5h3.2v3.2h-3.2zM443.3 262.4h3.2v3.2h-3.2zM433.3 263.2h3.2v3.2h-3.2zM438.2 261.8h3.2v3.2h-3.2zM441.5 262.3h3.2v3.2h-3.2zM434.9 262.7h3.2v3.2h-3.2zM431.5 264.7h3.2v3.2h-3.2zM431.1 264.7h3.2v3.2h-3.2zM444.3 261.7h3.2v3.2h-3.2zM430.8 265.2h3.2v3.2h-3.2zM462.2 261.3h3.2v3.2h-3.2zM464 261.5h3.2v3.2h-3.2zM459.4 262.9h3.2v3.2h-3.2zM464.9 262.1h3.2v3.2h-3.2zM465.6 262h3.2v3.2h-3.2zM458.1 260.9h3.2v3.2h-3.2zM453.3 262.2h3.2v3.2h-3.2zM467.3 262h3.2v3.2h-3.2zM469 262.5h3.2v3.2h-3.2zM459.4 260.4h3.2v3.2h-3.2zM449.4 261.6h3.2v3.2h-3.2zM452.7 260.9h3.2v3.2h-3.2zM467.6 263.1h3.2v3.2h-3.2zM458.5 260.3h3.2v3.2h-3.2zM449.4 263.1h3.2v3.2h-3.2zM472.5 263h3.2v3.2h-3.2zM479.7 263.7h3.2v3.2h-3.2zM479.3 265h3.2v3.2h-3.2zM478.3 264.4h3.2v3.2h-3.2zM470.3 263.6h3.2v3.2h-3.2zM476.9 263.4h3.2v3.2h-3.2zM473.4 261.7h3.2v3.2h-3.2zM480.8 265.4h3.2v3.2h-3.2zM483.6 270.6h3.2v3.2h-3.2zM482 269.5h3.2v3.2h-3.2zM480.9 271.3h3.2v3.2h-3.2zM483.8 270.7h3.2v3.2h-3.2zM480.3 262.7h3.2v3.2h-3.2zM482.4 280.4h3.2v3.2h-3.2zM483.7 285.9h3.2v3.2h-3.2zM481.9 272.3h3.2v3.2h-3.2zM485.1 280.2h3.2v3.2h-3.2zM482.3 277.6h3.2v3.2h-3.2zM483.2 280h3.2v3.2h-3.2zM484 285.3h3.2v3.2h-3.2zM485.8 279.4h3.2v3.2h-3.2zM484.8 278.7h3.2v3.2h-3.2zM485.6 295.8h3.2v3.2h-3.2zM486.4 287.5h3.2v3.2h-3.2zM485.2 289.9h3.2v3.2h-3.2zM484.7 295.4h3.2v3.2h-3.2zM485.9 303.1h3.2v3.2h-3.2zM484.7 299.7h3.2v3.2h-3.2zM483.8 290.3h3.2v3.2h-3.2zM487.7 302.5h3.2v3.2h-3.2zM485.5 293.5h3.2v3.2h-3.2zM485.5 288.8h3.2v3.2h-3.2zM487 289.7h3.2v3.2h-3.2zM486.8 303.8h3.2v3.2h-3.2zM491.3 270.4h3.2v3.2h-3.2zM494.5 273.7h3.2v3.2h-3.2zM490.5 276h3.2v3.2h-3.2zM496.5 268.2h3.2v3.2h-3.2zM491.4 300.9h3.2v3.2h-3.2zM486.8 278.8h3.2v3.2h-3.2zM496.1 263.1h3.2v3.2h-3.2zM490.8 292.1h3.2v3.2h-3.2zM487.3 274.4h3.2v3.2h-3.2zM488.1 282.1h3.2v3.2h-3.2zM491 288.3h3.2v3.2h-3.2zM496 299.5h3.2v3.2h-3.2zM487.1 293.5h3.2v3.2h-3.2zM485.9 288.9h3.2v3.2h-3.2zM496.2 263.4h3.2v3.2h-3.2zM488.9 297.3h3.2v3.2h-3.2zM491 269.3h3.2v3.2h-3.2zM491.2 297.1h3.2v3.2h-3.2zM491.2 283.3h3.2v3.2h-3.2zM494.3 298.1h3.2v3.2h-3.2zM495 283.4h3.2v3.2h-3.2zM487.2 266.1h3.2v3.2h-3.2zM496.2 286.7h3.2v3.2h-3.2zM495.9 281.4h3.2v3.2h-3.2zM489.4 299.1h3.2v3.2h-3.2zM495.1 286.8h3.2v3.2h-3.2zM490.3 283.3h3.2v3.2h-3.2zM485.9 274.7h3.2v3.2h-3.2zM491 267.8h3.2v3.2h-3.2zM486.2 268.1h3.2v3.2h-3.2zM490.8 270.7h3.2v3.2h-3.2zM495.5 284.8h3.2v3.2h-3.2zM492.2 298.7h3.2v3.2h-3.2zM495 293.2h3.2v3.2h-3.2zM494.6 269.6h3.2v3.2h-3.2zM490.5 301.7h3.2v3.2h-3.2zM485.4 280.1h3.2v3.2h-3.2zM496.4 275.7h3.2v3.2h-3.2zM491.2 294.1h3.2v3.2h-3.2zM495.3 278.7h3.2v3.2h-3.2zM491.1 296.7h3.2v3.2h-3.2zM496 275.7h3.2v3.2h-3.2zM484.9 264.1h3.2v3.2h-3.2zM493.6 299.8h3.2v3.2h-3.2zM491 286h3.2v3.2h-3.2zM491.5 287.3h3.2v3.2h-3.2zM485.6 301.6h3.2v3.2h-3.2zM508.1 296.7h3.2v3.2h-3.2zM505.6 300.4h3.2v3.2h-3.2zM505.3 283.5h3.2v3.2h-3.2zM499.2 291.8h3.2v3.2h-3.2zM505.6 272.6h3.2v3.2h-3.2zM499.1 279.1h3.2v3.2h-3.2zM498.3 293.7h3.2v3.2h-3.2zM506 276.2h3.2v3.2h-3.2zM499.4 293.1h3.2v3.2h-3.2zM502.3 292.3h3.2v3.2h-3.2zM506.4 279h3.2v3.2h-3.2zM500.9 282.9h3.2v3.2h-3.2zM505.6 297.4h3.2v3.2h-3.2zM496.1 295.2h3.2v3.2h-3.2zM506.7 277.1h3.2v3.2h-3.2zM500 289h3.2v3.2h-3.2zM502.7 277.1h3.2v3.2h-3.2zM501.5 298.9h3.2v3.2h-3.2zM496.8 292.9h3.2v3.2h-3.2zM503.4 276.9h3.2v3.2h-3.2z" fill="#000"/>
<path d="M456.9 198.1h3.1v3.1h-3.1zM462.3 203.2h3.1v3.1h-3.1zM464.6 201.5h3.1v3.1h-3.1zM467.7 200.8h3.1v3.1h-3.1zM471.7 200.1h3.1v3.1h-3.1zM472.7 202.2h3.1v3.1h-3.1zM479.8 204.5h3.1v3.1h-3.1zM456.2 206.9h3.1v3.1h-3.1zM464.6 206.5h3.1v3.1h-3.1zM466.3 207.5h3.1v3.1h-3.1zM468.3 206.2h3.1v3.1h-3.1zM473 205.5h3.1v3.1h-3.1zM472.4 208.6h3.1v3.1h-3.1zM470.7 210.9h3.1v3.1h-3.1zM470 212.3h3.1v3.1h-3.1zM451.8 213.6h3.1v3.1h-3.1zM461.3 212.9h3.1v3.1h-3.1zM475.4 216.3h3.1v3.1h-3.1zM467 216.3h3.1v3.1h-3.1zM458.2 219h3.1v3.1h-3.1zM463.9 217.6h3.1v3.1h-3.1zM465.3 218.3h3.1v3.1h-3.1zM467.7 219.3h3.1v3.1h-3.1zM472.4 218.3h3.1v3.1h-3.1zM471.7 221.7h3.1v3.1h-3.1zM467 223h3.1v3.1h-3.1zM469.3 222.7h3.1v3.1h-3.1zM448.1 224h3.1v3.1h-3.1zM458.9 225.4h3.1v3.1h-3.1zM460.2 224.7h3.1v3.1h-3.1zM459.6 227.1h3.1v3.1h-3.1zM461.6 226.1h3.1v3.1h-3.1zM460.2 228.7h3.1v3.1h-3.1zM472 229.1h3.1v3.1h-3.1zM464.3 232.8h3.1v3.1h-3.1zM466.3 233.1h3.1v3.1h-3.1zM432.6 236.2h3.1v3.1h-3.1zM467 236.5h3.1v3.1h-3.1zM446.4 237.8h3.1v3.1h-3.1zM459.2 237.8h3.1v3.1h-3.1zM467.3 240.9h3.1v3.1h-3.1zM451.8 242.5h3.1v3.1h-3.1zM458.9 244.9h3.1v3.1h-3.1zM456.2 247.6h3.1v3.1h-3.1zM473.7 245.6h3.1v3.1h-3.1zM477.1 245.6h3.1v3.1h-3.1zM441.1 247.6h3.1v3.1h-3.1zM466.3 250h3.1v3.1h-3.1zM435.7 255h3.1v3.1h-3.1zM459.9 255h3.1v3.1h-3.1zM471 255h3.1v3.1h-3.1zM446.8 257h3.1v3.1h-3.1zM466.3 256h3.1v3.1h-3.1zM418.2 245.2h3.1v3.1h-3.1zM405 263.8h3.1v3.1h-3.1zM420.2 261.7h3.1v3.1h-3.1zM501.6 290.7h3.1v3.1h-3.1zM506.7 295.4h3.1v3.1h-3.1zM504.3 300.8h3.1v3.1h-3.1z" fill="#000"/>
<path d="M384.4 176.8H514.5V306.9" fill="none" stroke="#3a3a3a" stroke-width="1"/>
<path d="M384.4 176.8V306.9H514.5" fill="none" stroke="#000" stroke-width="1.2"/>
<path d="M424.1 176.8V306.9M384.4 260.2H514.5" stroke="#000" stroke-width="1.25" fill="none"/>
<path d="M384.4 306.9v3M394.2 306.9v1.7M399.9 306.9v1.7M404 306.9v1.7M407.1 306.9v1.7M409.7 306.9v1.7M411.9 306.9v1.7M413.8 306.9v1.7M415.4 306.9v1.7M416.9 306.9v3M426.7 306.9v1.7M432.4 306.9v1.7M436.5 306.9v1.7M439.7 306.9v1.7M442.2 306.9v1.7M444.4 306.9v1.7M446.3 306.9v1.7M448 306.9v1.7M449.4 306.9v3M459.2 306.9v1.7M465 306.9v1.7M469 306.9v1.7M472.2 306.9v1.7M474.8 306.9v1.7M476.9 306.9v1.7M478.8 306.9v1.7M480.5 306.9v1.7M482 306.9v3M491.8 306.9v1.7M497.5 306.9v1.7M501.6 306.9v1.7M504.7 306.9v1.7M507.3 306.9v1.7M509.5 306.9v1.7M511.3 306.9v1.7M513 306.9v1.7M514.5 306.9v3" stroke="#000" stroke-width="1.15" fill="none"/>
<path d="M384.4 306.9h-3M384.4 297.1h-1.7M384.4 291.4h-1.7M384.4 287.3h-1.7M384.4 284.2h-1.7M384.4 281.6h-1.7M384.4 279.4h-1.7M384.4 277.5h-1.7M384.4 275.9h-1.7M384.4 274.4h-3M384.4 264.6h-1.7M384.4 258.9h-1.7M384.4 254.8h-1.7M384.4 251.6h-1.7M384.4 249.1h-1.7M384.4 246.9h-1.7M384.4 245h-1.7M384.4 243.3h-1.7M384.4 241.8h-3M384.4 232.1h-1.7M384.4 226.3h-1.7M384.4 222.3h-1.7M384.4 219.1h-1.7M384.4 216.5h-1.7M384.4 214.4h-1.7M384.4 212.5h-1.7M384.4 210.8h-1.7M384.4 209.3h-3M384.4 199.5h-1.7M384.4 193.8h-1.7M384.4 189.7h-1.7M384.4 186.6h-1.7M384.4 184h-1.7M384.4 181.8h-1.7M384.4 180h-1.7M384.4 178.3h-1.7M384.4 176.8h-3" stroke="#000" stroke-width="1.15" fill="none"/>
<text transform="translate(384.8 317.1)" font-size="6.3" text-anchor="middle" class="tk">10<tspan dx="-0.2" dy="-3.6" font-size="5.4">0</tspan></text>
<text transform="translate(378.5 307.2) rotate(-90) scale(1.22 1)" font-size="5.8" text-anchor="middle" class="tk">10<tspan dy="-3.3" font-size="5.2">0</tspan></text>
<text transform="translate(417.3 317.1)" font-size="6.3" text-anchor="middle" class="tk">10<tspan dx="-0.2" dy="-3.6" font-size="5.4">1</tspan></text>
<text transform="translate(378.5 274.7) rotate(-90) scale(1.22 1)" font-size="5.8" text-anchor="middle" class="tk">10<tspan dy="-3.3" font-size="5.2">1</tspan></text>
<text transform="translate(449.8 317.1)" font-size="6.3" text-anchor="middle" class="tk">10<tspan dx="-0.2" dy="-3.6" font-size="5.4">2</tspan></text>
<text transform="translate(378.5 242.2) rotate(-90) scale(1.22 1)" font-size="5.8" text-anchor="middle" class="tk">10<tspan dy="-3.3" font-size="5.2">2</tspan></text>
<text transform="translate(482.4 317.1)" font-size="6.3" text-anchor="middle" class="tk">10<tspan dx="-0.2" dy="-3.6" font-size="5.4">3</tspan></text>
<text transform="translate(378.5 209.6) rotate(-90) scale(1.22 1)" font-size="5.8" text-anchor="middle" class="tk">10<tspan dy="-3.3" font-size="5.2">3</tspan></text>
<text transform="translate(513.9 317.1)" font-size="6.3" text-anchor="middle" class="tk">10<tspan dx="-0.2" dy="-3.6" font-size="5.4">4</tspan></text>
<text transform="translate(378.5 177.8) rotate(-90) scale(1.22 1)" font-size="5.8" text-anchor="middle" class="tk">10<tspan dy="-3.3" font-size="5.2">4</tspan></text>
<text x="388.1" y="192.3" font-size="12.6" letter-spacing="2.3" class="nm">0.0</text>
<text x="486.3" y="191.2" font-size="12.6" letter-spacing="2.3" class="nm">0.6</text>
<text x="469.6" y="333.1" font-size="20.4" text-anchor="end" letter-spacing="0" class="lb">CD38</text>
<text transform="translate(372.7 240.4) rotate(-90) scale(0.97 1.04)" font-size="20.4" text-anchor="middle" class="lb">97A6</text>
</g>
<g>
<polygon points="33.7,474.4 33.7,443.1 33.7,443.1 44.8,442.4 55.9,439.7 69.7,437.7 78.1,435 82.5,431.3 94.9,430.3 111.7,431.3 115.1,435 113.8,446.1 116.1,459.6 114.4,473 114.4,474.4" fill="#000"/>
<path d="M33.6 442.1h3.2v3.2h-3.2zM33.7 442.7h3.2v3.2h-3.2zM36.3 442.1h3.2v3.2h-3.2zM34.7 441.9h3.2v3.2h-3.2zM35.8 443.8h3.2v3.2h-3.2zM33.6 442.4h3.2v3.2h-3.2zM39.7 443.1h3.2v3.2h-3.2zM37 442.8h3.2v3.2h-3.2zM49.3 439.2h3.2v3.2h-3.2zM45.2 441.9h3.2v3.2h-3.2zM46.6 442h3.2v3.2h-3.2zM47.2 441.7h3.2v3.2h-3.2zM52.5 439.6h3.2v3.2h-3.2zM50.1 439h3.2v3.2h-3.2zM47.5 440.9h3.2v3.2h-3.2zM68.8 437.5h3.2v3.2h-3.2zM54.8 438.4h3.2v3.2h-3.2zM63.4 436.7h3.2v3.2h-3.2zM56.3 437.8h3.2v3.2h-3.2zM58.1 437.4h3.2v3.2h-3.2zM63.5 437.1h3.2v3.2h-3.2zM61.3 438.5h3.2v3.2h-3.2zM64.9 436.7h3.2v3.2h-3.2zM57 439.7h3.2v3.2h-3.2zM67.7 437.6h3.2v3.2h-3.2zM70.1 435.2h3.2v3.2h-3.2zM75.3 434.2h3.2v3.2h-3.2zM72.7 436.3h3.2v3.2h-3.2zM73.9 435.6h3.2v3.2h-3.2zM81.3 432h3.2v3.2h-3.2zM78.8 431.2h3.2v3.2h-3.2zM79.3 430.5h3.2v3.2h-3.2zM81.2 430.9h3.2v3.2h-3.2zM84.4 429.8h3.2v3.2h-3.2zM82.9 431.5h3.2v3.2h-3.2zM87.1 431.1h3.2v3.2h-3.2zM90.8 430.4h3.2v3.2h-3.2zM83.7 429.9h3.2v3.2h-3.2zM85.5 431h3.2v3.2h-3.2zM92.4 430.2h3.2v3.2h-3.2zM103.2 429.7h3.2v3.2h-3.2zM105 429.1h3.2v3.2h-3.2zM104.7 431h3.2v3.2h-3.2zM109.3 431.9h3.2v3.2h-3.2zM95.2 430.2h3.2v3.2h-3.2zM100.8 430.3h3.2v3.2h-3.2zM106.4 430.2h3.2v3.2h-3.2zM97.4 431.1h3.2v3.2h-3.2zM111.2 431.4h3.2v3.2h-3.2zM99.5 431h3.2v3.2h-3.2zM102.5 431.6h3.2v3.2h-3.2zM109.9 430.3h3.2v3.2h-3.2zM111.9 432.6h3.2v3.2h-3.2zM110.1 433.4h3.2v3.2h-3.2zM113.6 439.3h3.2v3.2h-3.2zM113.2 438h3.2v3.2h-3.2zM109.8 444.5h3.2v3.2h-3.2zM113.9 434.2h3.2v3.2h-3.2zM112.4 436.4h3.2v3.2h-3.2zM111.2 434.5h3.2v3.2h-3.2zM112.4 442.2h3.2v3.2h-3.2zM112.3 452h3.2v3.2h-3.2zM114 453.2h3.2v3.2h-3.2zM112.2 447h3.2v3.2h-3.2zM111.2 446.4h3.2v3.2h-3.2zM111.4 452.2h3.2v3.2h-3.2zM112.8 445.9h3.2v3.2h-3.2zM113.5 449.4h3.2v3.2h-3.2zM110.8 450.7h3.2v3.2h-3.2zM111.8 446.2h3.2v3.2h-3.2zM110.8 466.7h3.2v3.2h-3.2zM114.4 465h3.2v3.2h-3.2zM113.9 467.1h3.2v3.2h-3.2zM111.5 467.2h3.2v3.2h-3.2zM110.8 469.5h3.2v3.2h-3.2zM113.6 465.7h3.2v3.2h-3.2zM112.7 467h3.2v3.2h-3.2zM110.8 467.5h3.2v3.2h-3.2zM114.2 463.1h3.2v3.2h-3.2zM110.8 471.3h3.2v3.2h-3.2zM116.9 428.1h3.2v3.2h-3.2zM133 431.4h3.2v3.2h-3.2zM124.9 437h3.2v3.2h-3.2zM122.6 437.6h3.2v3.2h-3.2zM140.5 432.8h3.2v3.2h-3.2zM115.1 430.7h3.2v3.2h-3.2zM137.6 428.3h3.2v3.2h-3.2zM125.7 426.2h3.2v3.2h-3.2zM140.1 426.4h3.2v3.2h-3.2zM117.4 434.1h3.2v3.2h-3.2zM138.9 430.1h3.2v3.2h-3.2zM123.9 430.5h3.2v3.2h-3.2zM123.5 431.4h3.2v3.2h-3.2zM140.9 431.5h3.2v3.2h-3.2zM120.3 430.7h3.2v3.2h-3.2zM136.4 433.4h3.2v3.2h-3.2zM137.9 440.7h3.2v3.2h-3.2zM122.6 438.2h3.2v3.2h-3.2zM124.4 441.6h3.2v3.2h-3.2zM123.7 426.6h3.2v3.2h-3.2zM119.4 425.4h3.2v3.2h-3.2zM127.4 430.8h3.2v3.2h-3.2zM114.4 436.4h3.2v3.2h-3.2zM132 441.9h3.2v3.2h-3.2zM117.5 435.1h3.2v3.2h-3.2zM132 426.4h3.2v3.2h-3.2zM120.1 430.8h3.2v3.2h-3.2zM130.4 441h3.2v3.2h-3.2zM118 430.6h3.2v3.2h-3.2zM140.9 432h3.2v3.2h-3.2zM142.4 435.3h3.2v3.2h-3.2zM116.5 431.5h3.2v3.2h-3.2zM113.8 441.3h3.2v3.2h-3.2zM121.9 429.2h3.2v3.2h-3.2zM138.6 433.9h3.2v3.2h-3.2zM138 427.8h3.2v3.2h-3.2zM115 427.7h3.2v3.2h-3.2zM112.9 427.6h3.2v3.2h-3.2zM131.2 426.7h3.2v3.2h-3.2zM134.6 426.8h3.2v3.2h-3.2zM130.6 434.6h3.2v3.2h-3.2zM115.1 441h3.2v3.2h-3.2zM140.5 436.5h3.2v3.2h-3.2zM114 425.6h3.2v3.2h-3.2zM125.6 426.6h3.2v3.2h-3.2zM135.5 432.5h3.2v3.2h-3.2zM135.9 431.8h3.2v3.2h-3.2zM114.6 440.7h3.2v3.2h-3.2zM126.5 433.4h3.2v3.2h-3.2zM134.3 440.4h3.2v3.2h-3.2zM119.4 433.3h3.2v3.2h-3.2zM118.6 428.4h3.2v3.2h-3.2zM129.8 429.6h3.2v3.2h-3.2zM138.6 439.6h3.2v3.2h-3.2zM126.3 433.8h3.2v3.2h-3.2zM134.7 432.6h3.2v3.2h-3.2zM113.9 425.1h3.2v3.2h-3.2zM112.2 434.4h3.2v3.2h-3.2zM116.6 427.6h3.2v3.2h-3.2zM116.8 427.4h3.2v3.2h-3.2zM141.1 426.7h3.2v3.2h-3.2zM129.1 435h3.2v3.2h-3.2zM140.3 434.2h3.2v3.2h-3.2zM135.9 435.3h3.2v3.2h-3.2zM133.8 426.4h3.2v3.2h-3.2zM112.4 427.1h3.2v3.2h-3.2zM135.7 431.5h3.2v3.2h-3.2zM112.5 441.2h3.2v3.2h-3.2zM119.1 431.1h3.2v3.2h-3.2zM131.8 439h3.2v3.2h-3.2zM133 433h3.2v3.2h-3.2zM140.5 437.6h3.2v3.2h-3.2zM115.2 441.1h3.2v3.2h-3.2zM117.1 431.3h3.2v3.2h-3.2zM137.1 430.9h3.2v3.2h-3.2zM123.3 432.4h3.2v3.2h-3.2zM117.8 431.8h3.2v3.2h-3.2zM115.1 426.2h3.2v3.2h-3.2zM113.6 432.9h3.2v3.2h-3.2zM133.9 425.3h3.2v3.2h-3.2zM139.8 436.8h3.2v3.2h-3.2zM113.2 434.2h3.2v3.2h-3.2zM137.4 432.2h3.2v3.2h-3.2zM129.2 428.3h3.2v3.2h-3.2zM112.6 428.7h3.2v3.2h-3.2zM135.2 439.7h3.2v3.2h-3.2zM127.9 437.5h3.2v3.2h-3.2zM114.6 437.2h3.2v3.2h-3.2zM118 431.5h3.2v3.2h-3.2zM140.7 432.7h3.2v3.2h-3.2zM128.4 439.3h3.2v3.2h-3.2zM140.7 428.5h3.2v3.2h-3.2zM117.9 425.3h3.2v3.2h-3.2zM136.5 439h3.2v3.2h-3.2zM117.9 431.3h3.2v3.2h-3.2zM117.9 427.4h3.2v3.2h-3.2zM127 428.9h3.2v3.2h-3.2zM118.5 433.6h3.2v3.2h-3.2zM132.7 433.3h3.2v3.2h-3.2zM123.3 432.2h3.2v3.2h-3.2zM122.2 432.7h3.2v3.2h-3.2zM121.8 431.3h3.2v3.2h-3.2zM111.7 427.8h3.2v3.2h-3.2zM123.7 436.7h3.2v3.2h-3.2zM112.6 426.8h3.2v3.2h-3.2zM139.6 433.3h3.2v3.2h-3.2zM117 432.5h3.2v3.2h-3.2zM124.1 435.3h3.2v3.2h-3.2zM135.4 434.9h3.2v3.2h-3.2zM124.4 431.6h3.2v3.2h-3.2zM118.6 429h3.2v3.2h-3.2zM131.6 430.2h3.2v3.2h-3.2zM112.3 427.6h3.2v3.2h-3.2zM117.1 437.1h3.2v3.2h-3.2zM140.6 431.7h3.2v3.2h-3.2zM120.9 438h3.2v3.2h-3.2zM112.2 431.2h3.2v3.2h-3.2zM123.5 426h3.2v3.2h-3.2zM120.2 432.1h3.2v3.2h-3.2zM114.5 436h3.2v3.2h-3.2zM139.1 430.5h3.2v3.2h-3.2zM123.8 441.5h3.2v3.2h-3.2zM128.4 435.7h3.2v3.2h-3.2zM113.7 425.4h3.2v3.2h-3.2zM113.6 428.5h3.2v3.2h-3.2zM135.5 427.4h3.2v3.2h-3.2zM128.9 422.4h3.2v3.2h-3.2zM132.6 423.7h3.2v3.2h-3.2zM127.1 425h3.2v3.2h-3.2zM137.9 425.1h3.2v3.2h-3.2zM128.3 422.6h3.2v3.2h-3.2zM124.9 422h3.2v3.2h-3.2zM123.6 461.4h3.2v3.2h-3.2zM140.1 450.6h3.2v3.2h-3.2zM135.5 449.8h3.2v3.2h-3.2zM136.1 450.1h3.2v3.2h-3.2zM138.1 446h3.2v3.2h-3.2zM117.7 457.4h3.2v3.2h-3.2zM137.3 454.4h3.2v3.2h-3.2zM129.2 455.1h3.2v3.2h-3.2zM141.6 457.3h3.2v3.2h-3.2zM146.3 460.8h3.2v3.2h-3.2zM146.3 457.1h3.2v3.2h-3.2zM117.1 446h3.2v3.2h-3.2zM122.6 458.4h3.2v3.2h-3.2zM134.5 468.6h3.2v3.2h-3.2zM138.4 451.7h3.2v3.2h-3.2zM133.4 445.1h3.2v3.2h-3.2zM122.4 453.6h3.2v3.2h-3.2zM129.7 465.6h3.2v3.2h-3.2zM123 464.2h3.2v3.2h-3.2zM123.9 454.7h3.2v3.2h-3.2zM142.6 468.1h3.2v3.2h-3.2zM146.1 454.2h3.2v3.2h-3.2zM122.3 459.4h3.2v3.2h-3.2zM112.3 442.7h3.2v3.2h-3.2zM134.1 460.4h3.2v3.2h-3.2zM133 457.2h3.2v3.2h-3.2zM141.1 459.7h3.2v3.2h-3.2zM127 450.6h3.2v3.2h-3.2zM145.7 447.5h3.2v3.2h-3.2zM144.4 443.6h3.2v3.2h-3.2zM121.5 464.3h3.2v3.2h-3.2zM136.9 451.1h3.2v3.2h-3.2zM122.5 451.3h3.2v3.2h-3.2zM141.2 461.5h3.2v3.2h-3.2zM137.6 464.4h3.2v3.2h-3.2zM119.3 450.9h3.2v3.2h-3.2zM141.2 467.2h3.2v3.2h-3.2zM125.7 465.9h3.2v3.2h-3.2zM123 457.8h3.2v3.2h-3.2zM114.1 448.8h3.2v3.2h-3.2zM118.5 450.5h3.2v3.2h-3.2zM141.9 465.8h3.2v3.2h-3.2zM130.6 464h3.2v3.2h-3.2zM120.1 459.6h3.2v3.2h-3.2zM142.1 453.9h3.2v3.2h-3.2zM142.9 468h3.2v3.2h-3.2zM126.8 451.4h3.2v3.2h-3.2zM120.4 466.9h3.2v3.2h-3.2zM114.4 460.5h3.2v3.2h-3.2zM122.5 444.8h3.2v3.2h-3.2zM113 456.1h3.2v3.2h-3.2zM136.6 451.1h3.2v3.2h-3.2zM127 466.7h3.2v3.2h-3.2zM140.9 465.3h3.2v3.2h-3.2zM116.4 465h3.2v3.2h-3.2zM128.7 463.4h3.2v3.2h-3.2zM133.6 448.4h3.2v3.2h-3.2zM125.6 446.6h3.2v3.2h-3.2zM133.3 442.3h3.2v3.2h-3.2z" fill="#000"/>
<path d="M127.9 366h3.4v3.4h-3.4zM117.8 372.1h3.4v3.4h-3.4zM126.2 372.1h3.4v3.4h-3.4zM131.3 370.4h3.4v3.4h-3.4zM133.6 371.4h3.4v3.4h-3.4zM135.7 373.8h3.4v3.4h-3.4zM138 378.1h3.4v3.4h-3.4zM106 375.4h3.4v3.4h-3.4zM86.5 378.1h3.4v3.4h-3.4zM86.5 381.5h3.4v3.4h-3.4zM107.7 379.5h3.4v3.4h-3.4zM109.4 382.2h3.4v3.4h-3.4zM102 383.9h3.4v3.4h-3.4zM97.6 386.2h3.4v3.4h-3.4zM123.5 385.5h3.4v3.4h-3.4zM130.3 386.2h3.4v3.4h-3.4zM114.4 386.2h3.4v3.4h-3.4zM116.1 389.6h3.4v3.4h-3.4zM98.6 389.9h3.4v3.4h-3.4zM107.7 391.6h3.4v3.4h-3.4zM117.8 392.9h3.4v3.4h-3.4zM89.2 398.3h3.4v3.4h-3.4zM92.6 398.3h3.4v3.4h-3.4zM98.6 399.7h3.4v3.4h-3.4zM112.8 399.7h3.4v3.4h-3.4zM106 409.1h3.4v3.4h-3.4zM112.1 412.5h3.4v3.4h-3.4zM113.8 418.5h3.4v3.4h-3.4zM66.3 416.8h3.4v3.4h-3.4zM79.1 422.6h3.4v3.4h-3.4zM68.3 424.3h3.4v3.4h-3.4zM36 432h3.4v3.4h-3.4zM133 419.2h3.4v3.4h-3.4zM141.4 469.7h3.4v3.4h-3.4z" fill="#000"/>
<path d="M115.2 467.8h1.6v1.6h-1.6zM102.7 454.4h1.6v1.6h-1.6zM109.2 457.3h1.6v1.6h-1.6zM114.9 446.5h1.6v1.6h-1.6zM111.6 443.2h1.6v1.6h-1.6zM109.4 446.2h1.6v1.6h-1.6zM102.7 434.5h1.6v1.6h-1.6z" fill="#fff"/>
<path d="M33.7 344.2H164.6V474.4" fill="none" stroke="#3a3a3a" stroke-width="1"/>
<path d="M33.7 344.2V474.4H164.6" fill="none" stroke="#000" stroke-width="1.2"/>
<path d="M75.9 344.2V474.4M33.7 427H164.6" stroke="#000" stroke-width="1.25" fill="none"/>
<path d="M33.7 474.4v3M43.6 474.4v1.7M49.3 474.4v1.7M53.4 474.4v1.7M56.6 474.4v1.7M59.2 474.4v1.7M61.4 474.4v1.7M63.3 474.4v1.7M64.9 474.4v1.7M66.4 474.4v3M76.3 474.4v1.7M82 474.4v1.7M86.1 474.4v1.7M89.3 474.4v1.7M91.9 474.4v1.7M94.1 474.4v1.7M96 474.4v1.7M97.7 474.4v1.7M99.1 474.4v3M109 474.4v1.7M114.8 474.4v1.7M118.9 474.4v1.7M122 474.4v1.7M124.6 474.4v1.7M126.8 474.4v1.7M128.7 474.4v1.7M130.4 474.4v1.7M131.9 474.4v3M141.7 474.4v1.7M147.5 474.4v1.7M151.6 474.4v1.7M154.7 474.4v1.7M157.3 474.4v1.7M159.5 474.4v1.7M161.4 474.4v1.7M163.1 474.4v1.7M164.6 474.4v3" stroke="#000" stroke-width="1.15" fill="none"/>
<path d="M33.7 474.4h-3M33.7 464.6h-1.7M33.7 458.9h-1.7M33.7 454.8h-1.7M33.7 451.6h-1.7M33.7 449.1h-1.7M33.7 446.9h-1.7M33.7 445h-1.7M33.7 443.3h-1.7M33.7 441.8h-3M33.7 432.1h-1.7M33.7 426.3h-1.7M33.7 422.3h-1.7M33.7 419.1h-1.7M33.7 416.5h-1.7M33.7 414.3h-1.7M33.7 412.5h-1.7M33.7 410.8h-1.7M33.7 409.3h-3M33.7 399.5h-1.7M33.7 393.8h-1.7M33.7 389.7h-1.7M33.7 386.5h-1.7M33.7 384h-1.7M33.7 381.8h-1.7M33.7 379.9h-1.7M33.7 378.2h-1.7M33.7 376.8h-3M33.7 367h-1.7M33.7 361.2h-1.7M33.7 357.2h-1.7M33.7 354h-1.7M33.7 351.4h-1.7M33.7 349.2h-1.7M33.7 347.4h-1.7M33.7 345.7h-1.7M33.7 344.2h-3" stroke="#000" stroke-width="1.15" fill="none"/>
<text transform="translate(34.1 484.6)" font-size="6.3" text-anchor="middle" class="tk">10<tspan dx="-0.2" dy="-3.6" font-size="5.4">0</tspan></text>
<text transform="translate(27.8 474.7) rotate(-90) scale(1.22 1)" font-size="5.8" text-anchor="middle" class="tk">10<tspan dy="-3.3" font-size="5.2">0</tspan></text>
<text transform="translate(66.8 484.6)" font-size="6.3" text-anchor="middle" class="tk">10<tspan dx="-0.2" dy="-3.6" font-size="5.4">1</tspan></text>
<text transform="translate(27.8 442.1) rotate(-90) scale(1.22 1)" font-size="5.8" text-anchor="middle" class="tk">10<tspan dy="-3.3" font-size="5.2">1</tspan></text>
<text transform="translate(99.5 484.6)" font-size="6.3" text-anchor="middle" class="tk">10<tspan dx="-0.2" dy="-3.6" font-size="5.4">2</tspan></text>
<text transform="translate(27.8 409.6) rotate(-90) scale(1.22 1)" font-size="5.8" text-anchor="middle" class="tk">10<tspan dy="-3.3" font-size="5.2">2</tspan></text>
<text transform="translate(132.3 484.6)" font-size="6.3" text-anchor="middle" class="tk">10<tspan dx="-0.2" dy="-3.6" font-size="5.4">3</tspan></text>
<text transform="translate(27.8 377.1) rotate(-90) scale(1.22 1)" font-size="5.8" text-anchor="middle" class="tk">10<tspan dy="-3.3" font-size="5.2">3</tspan></text>
<text transform="translate(164 484.6)" font-size="6.3" text-anchor="middle" class="tk">10<tspan dx="-0.2" dy="-3.6" font-size="5.4">4</tspan></text>
<text transform="translate(27.8 345.2) rotate(-90) scale(1.22 1)" font-size="5.8" text-anchor="middle" class="tk">10<tspan dy="-3.3" font-size="5.2">4</tspan></text>
<text x="36.4" y="359.3" font-size="12.6" letter-spacing="2.3" class="nm">0.0</text>
<text x="123.6" y="501.5" font-size="20.4" text-anchor="end" letter-spacing="0" class="lb">CD164</text>
<text transform="translate(22.1 406.1) rotate(-90) scale(0.97 1.04)" font-size="20.4" text-anchor="middle" class="lb">97A6</text>
</g>
<g>
<polygon points="206.4,471.7 206.4,439.1 206.3,439.1 227.8,436.7 241.6,434.7 255.8,432 269.6,432.7 278,427.6 283.7,424.9 314.3,424.9 318.4,427.6 319.7,438.4 320.7,454.5 322.1,470 322.1,471.7" fill="#000"/>
<path d="M206.3 437.3h3.2v3.2h-3.2zM220.7 438.2h3.2v3.2h-3.2zM220.9 436h3.2v3.2h-3.2zM219.2 436.4h3.2v3.2h-3.2zM215.2 436.3h3.2v3.2h-3.2zM223.7 435.9h3.2v3.2h-3.2zM213.1 436h3.2v3.2h-3.2zM218.2 437.7h3.2v3.2h-3.2zM221.5 435.9h3.2v3.2h-3.2zM214.4 436.6h3.2v3.2h-3.2zM211.9 438.9h3.2v3.2h-3.2zM217.4 435.6h3.2v3.2h-3.2zM221.5 437.8h3.2v3.2h-3.2zM206.3 437.9h3.2v3.2h-3.2zM220.8 437.9h3.2v3.2h-3.2zM230.5 435h3.2v3.2h-3.2zM228.2 435.7h3.2v3.2h-3.2zM236.9 433.7h3.2v3.2h-3.2zM226.3 434.9h3.2v3.2h-3.2zM235.2 436.1h3.2v3.2h-3.2zM234.8 435.4h3.2v3.2h-3.2zM227.7 437.2h3.2v3.2h-3.2zM240.2 434.8h3.2v3.2h-3.2zM232.3 435.3h3.2v3.2h-3.2zM246.2 432.8h3.2v3.2h-3.2zM251.5 432.6h3.2v3.2h-3.2zM246.6 433.4h3.2v3.2h-3.2zM242.2 434.2h3.2v3.2h-3.2zM246.1 433h3.2v3.2h-3.2zM248.9 433.2h3.2v3.2h-3.2zM241.7 435.5h3.2v3.2h-3.2zM243.1 433.5h3.2v3.2h-3.2zM247.9 431.6h3.2v3.2h-3.2zM259 431.5h3.2v3.2h-3.2zM260.1 430.2h3.2v3.2h-3.2zM259.9 431.4h3.2v3.2h-3.2zM260.2 432.6h3.2v3.2h-3.2zM261.9 431.9h3.2v3.2h-3.2zM265.1 431.6h3.2v3.2h-3.2zM258 432.7h3.2v3.2h-3.2zM259.1 432.4h3.2v3.2h-3.2zM264.9 433.3h3.2v3.2h-3.2zM270.7 431.7h3.2v3.2h-3.2zM271.6 431.5h3.2v3.2h-3.2zM270.3 431.3h3.2v3.2h-3.2zM271.2 428.7h3.2v3.2h-3.2zM275.5 428h3.2v3.2h-3.2zM269.9 430.6h3.2v3.2h-3.2zM281.2 423.8h3.2v3.2h-3.2zM280.9 426.9h3.2v3.2h-3.2zM277.8 427.1h3.2v3.2h-3.2zM277.1 425.6h3.2v3.2h-3.2zM294 423.4h3.2v3.2h-3.2zM293.9 423.6h3.2v3.2h-3.2zM302.3 425.9h3.2v3.2h-3.2zM282.6 422.8h3.2v3.2h-3.2zM303.7 424.7h3.2v3.2h-3.2zM301.6 424.7h3.2v3.2h-3.2zM306.9 423.2h3.2v3.2h-3.2zM307.6 424.8h3.2v3.2h-3.2zM309.4 423.9h3.2v3.2h-3.2zM287.4 423.7h3.2v3.2h-3.2zM296.3 425.5h3.2v3.2h-3.2zM311.7 423.7h3.2v3.2h-3.2zM304.3 423.2h3.2v3.2h-3.2zM291.7 424.2h3.2v3.2h-3.2zM285.5 424.4h3.2v3.2h-3.2zM293 422.9h3.2v3.2h-3.2zM287.6 424.3h3.2v3.2h-3.2zM299.6 422.8h3.2v3.2h-3.2zM304.1 423.3h3.2v3.2h-3.2zM308.9 424.5h3.2v3.2h-3.2zM316.1 426.9h3.2v3.2h-3.2zM314.8 425.6h3.2v3.2h-3.2zM316 424.7h3.2v3.2h-3.2zM317.3 429.4h3.2v3.2h-3.2zM316.2 429.4h3.2v3.2h-3.2zM314.1 426.9h3.2v3.2h-3.2zM316.1 428.4h3.2v3.2h-3.2zM315.5 436.1h3.2v3.2h-3.2zM318 431.3h3.2v3.2h-3.2zM317.5 434.5h3.2v3.2h-3.2zM318.7 444.6h3.2v3.2h-3.2zM319 442h3.2v3.2h-3.2zM317.4 439.8h3.2v3.2h-3.2zM319.5 449.5h3.2v3.2h-3.2zM316.7 438.3h3.2v3.2h-3.2zM318.9 446h3.2v3.2h-3.2zM318.8 443.9h3.2v3.2h-3.2zM316.5 438.7h3.2v3.2h-3.2zM318.9 451.9h3.2v3.2h-3.2zM317.7 449.4h3.2v3.2h-3.2zM318.4 460.3h3.2v3.2h-3.2zM319.8 466.4h3.2v3.2h-3.2zM320.9 467.1h3.2v3.2h-3.2zM320.7 467.4h3.2v3.2h-3.2zM317.4 462.3h3.2v3.2h-3.2zM319.6 466.1h3.2v3.2h-3.2zM320 464.5h3.2v3.2h-3.2zM317.1 455.1h3.2v3.2h-3.2zM320 463.5h3.2v3.2h-3.2zM318.9 462.1h3.2v3.2h-3.2zM318.7 468.6h3.2v3.2h-3.2zM322.4 433.6h3.2v3.2h-3.2zM322.9 440.6h3.2v3.2h-3.2zM321.4 441h3.2v3.2h-3.2zM319.8 452.8h3.2v3.2h-3.2zM322.9 432.7h3.2v3.2h-3.2zM318.7 449.3h3.2v3.2h-3.2zM323.2 435.2h3.2v3.2h-3.2zM318.5 435h3.2v3.2h-3.2zM318.3 431.5h3.2v3.2h-3.2zM320.7 430.5h3.2v3.2h-3.2z" fill="#000"/>
<path d="M270.9 359.3h3.4v3.4h-3.4zM263.5 363.7h3.4v3.4h-3.4zM271.6 366h3.4v3.4h-3.4zM274.3 368h3.4v3.4h-3.4zM245.7 368h3.4v3.4h-3.4zM255.8 371.4h3.4v3.4h-3.4zM259.2 373.8h3.4v3.4h-3.4zM269.3 372.1h3.4v3.4h-3.4zM274.3 375.4h3.4v3.4h-3.4zM292.8 373.8h3.4v3.4h-3.4zM228.9 374.8h3.4v3.4h-3.4zM222.1 376.5h3.4v3.4h-3.4zM227.2 378.8h3.4v3.4h-3.4zM234.6 380.5h3.4v3.4h-3.4zM244.7 378.8h3.4v3.4h-3.4zM225.5 387.2h3.4v3.4h-3.4zM260.2 385.5h3.4v3.4h-3.4zM255.1 389.6h3.4v3.4h-3.4zM235.6 390.6h3.4v3.4h-3.4zM237.3 392.3h3.4v3.4h-3.4zM296.2 391.6h3.4v3.4h-3.4zM231.2 395.6h3.4v3.4h-3.4zM233.9 399h3.4v3.4h-3.4zM222.1 402.4h3.4v3.4h-3.4zM230.5 405.1h3.4v3.4h-3.4zM281.7 404.1h3.4v3.4h-3.4zM289.4 403h3.4v3.4h-3.4zM233.9 408.4h3.4v3.4h-3.4zM281.7 409.1h3.4v3.4h-3.4zM240 410.1h3.4v3.4h-3.4zM218.8 416.5h3.4v3.4h-3.4zM271.6 415.2h3.4v3.4h-3.4zM265.9 418.5h3.4v3.4h-3.4zM269.3 420.9h3.4v3.4h-3.4zM306.3 414.2h3.4v3.4h-3.4zM310.7 417.5h3.4v3.4h-3.4zM326.5 415.2h3.4v3.4h-3.4zM217.1 424.3h3.4v3.4h-3.4zM242.3 422.6h3.4v3.4h-3.4zM237.9 425.9h3.4v3.4h-3.4zM234.6 428.6h3.4v3.4h-3.4zM250.7 426.6h3.4v3.4h-3.4zM259.2 425.9h3.4v3.4h-3.4zM323.1 432.7h3.4v3.4h-3.4zM326.5 444.4h3.4v3.4h-3.4zM324.8 456.2h3.4v3.4h-3.4zM329.8 456.2h3.4v3.4h-3.4zM326.5 460.3h3.4v3.4h-3.4z" fill="#000"/>
<path d="M258.3 436.2h1.6v1.6h-1.6z" fill="#fff"/>
<path d="M206.4 341.8H337.3V471.7" fill="none" stroke="#3a3a3a" stroke-width="1"/>
<path d="M206.4 341.8V471.7H337.3" fill="none" stroke="#000" stroke-width="1.2"/>
<path d="M248.5 341.8V471.7M206.4 424.2H337.3" stroke="#000" stroke-width="1.25" fill="none"/>
<path d="M206.4 471.7v3M216.3 471.7v1.7M222 471.7v1.7M226.1 471.7v1.7M229.3 471.7v1.7M231.9 471.7v1.7M234.1 471.7v1.7M236 471.7v1.7M237.6 471.7v1.7M239.1 471.7v3M249 471.7v1.7M254.7 471.7v1.7M258.8 471.7v1.7M262 471.7v1.7M264.6 471.7v1.7M266.8 471.7v1.7M268.7 471.7v1.7M270.4 471.7v1.7M271.9 471.7v3M281.7 471.7v1.7M287.5 471.7v1.7M291.6 471.7v1.7M294.7 471.7v1.7M297.3 471.7v1.7M299.5 471.7v1.7M301.4 471.7v1.7M303.1 471.7v1.7M304.6 471.7v3M314.4 471.7v1.7M320.2 471.7v1.7M324.3 471.7v1.7M327.4 471.7v1.7M330 471.7v1.7M332.2 471.7v1.7M334.1 471.7v1.7M335.8 471.7v1.7M337.3 471.7v3" stroke="#000" stroke-width="1.15" fill="none"/>
<path d="M206.4 471.7h-3M206.4 461.9h-1.7M206.4 456.2h-1.7M206.4 452.1h-1.7M206.4 449h-1.7M206.4 446.4h-1.7M206.4 444.3h-1.7M206.4 442.4h-1.7M206.4 440.7h-1.7M206.4 439.2h-3M206.4 429.4h-1.7M206.4 423.7h-1.7M206.4 419.7h-1.7M206.4 416.5h-1.7M206.4 414h-1.7M206.4 411.8h-1.7M206.4 409.9h-1.7M206.4 408.2h-1.7M206.4 406.8h-3M206.4 397h-1.7M206.4 391.3h-1.7M206.4 387.2h-1.7M206.4 384.1h-1.7M206.4 381.5h-1.7M206.4 379.3h-1.7M206.4 377.4h-1.7M206.4 375.8h-1.7M206.4 374.3h-3M206.4 364.5h-1.7M206.4 358.8h-1.7M206.4 354.7h-1.7M206.4 351.6h-1.7M206.4 349h-1.7M206.4 346.8h-1.7M206.4 344.9h-1.7M206.4 343.3h-1.7M206.4 341.8h-3" stroke="#000" stroke-width="1.15" fill="none"/>
<text transform="translate(206.8 481.9)" font-size="6.3" text-anchor="middle" class="tk">10<tspan dx="-0.2" dy="-3.6" font-size="5.4">0</tspan></text>
<text transform="translate(200.5 472) rotate(-90) scale(1.22 1)" font-size="5.8" text-anchor="middle" class="tk">10<tspan dy="-3.3" font-size="5.2">0</tspan></text>
<text transform="translate(239.5 481.9)" font-size="6.3" text-anchor="middle" class="tk">10<tspan dx="-0.2" dy="-3.6" font-size="5.4">1</tspan></text>
<text transform="translate(200.5 439.5) rotate(-90) scale(1.22 1)" font-size="5.8" text-anchor="middle" class="tk">10<tspan dy="-3.3" font-size="5.2">1</tspan></text>
<text transform="translate(272.2 481.9)" font-size="6.3" text-anchor="middle" class="tk">10<tspan dx="-0.2" dy="-3.6" font-size="5.4">2</tspan></text>
<text transform="translate(200.5 407.1) rotate(-90) scale(1.22 1)" font-size="5.8" text-anchor="middle" class="tk">10<tspan dy="-3.3" font-size="5.2">2</tspan></text>
<text transform="translate(305 481.9)" font-size="6.3" text-anchor="middle" class="tk">10<tspan dx="-0.2" dy="-3.6" font-size="5.4">3</tspan></text>
<text transform="translate(200.5 374.6) rotate(-90) scale(1.22 1)" font-size="5.8" text-anchor="middle" class="tk">10<tspan dy="-3.3" font-size="5.2">3</tspan></text>
<text transform="translate(336.7 481.9)" font-size="6.3" text-anchor="middle" class="tk">10<tspan dx="-0.2" dy="-3.6" font-size="5.4">4</tspan></text>
<text transform="translate(200.5 342.8) rotate(-90) scale(1.22 1)" font-size="5.8" text-anchor="middle" class="tk">10<tspan dy="-3.3" font-size="5.2">4</tspan></text>
<text x="293.5" y="499.6" font-size="20.4" text-anchor="end" letter-spacing="0" class="lb">CD71</text>
<text transform="translate(196.1 405.9) rotate(-90) scale(0.97 1.04)" font-size="20.4" text-anchor="middle" class="lb">97A6</text>
</g>
<g>
<polygon points="382,474.7 382,441.7 381.4,441.7 391.8,440.4 402.9,437.7 416.7,433.7 422.4,430.3 430.8,429 444.6,428.6 458.8,429 462.5,433 461.5,441.1 459.8,449.8 455.7,461.3 452.7,473 452.7,474.7" fill="#000"/>
<path d="M381.9 442.1h3.2v3.2h-3.2zM387.8 439.5h3.2v3.2h-3.2zM383.8 439.4h3.2v3.2h-3.2zM388.2 440.7h3.2v3.2h-3.2zM381.9 439.5h3.2v3.2h-3.2zM389 441.1h3.2v3.2h-3.2zM388 441.1h3.2v3.2h-3.2zM383.9 440.9h3.2v3.2h-3.2zM395.8 439.9h3.2v3.2h-3.2zM397.6 439.3h3.2v3.2h-3.2zM391.8 440.6h3.2v3.2h-3.2zM391.8 439.2h3.2v3.2h-3.2zM402.2 438.6h3.2v3.2h-3.2zM397.9 436.8h3.2v3.2h-3.2zM395.3 438.6h3.2v3.2h-3.2zM407.9 436.2h3.2v3.2h-3.2zM408.8 434.2h3.2v3.2h-3.2zM402.4 437.8h3.2v3.2h-3.2zM406 435.6h3.2v3.2h-3.2zM404.8 435.1h3.2v3.2h-3.2zM400.9 436.4h3.2v3.2h-3.2zM403.2 435.3h3.2v3.2h-3.2zM413.9 433h3.2v3.2h-3.2zM407.1 436.6h3.2v3.2h-3.2zM420.2 431.7h3.2v3.2h-3.2zM420 432.1h3.2v3.2h-3.2zM415.8 432.1h3.2v3.2h-3.2zM418.9 430h3.2v3.2h-3.2zM426.4 427.7h3.2v3.2h-3.2zM421.5 430.7h3.2v3.2h-3.2zM424.5 429.9h3.2v3.2h-3.2zM422.4 430.1h3.2v3.2h-3.2zM423.6 429.2h3.2v3.2h-3.2zM442 426.9h3.2v3.2h-3.2zM440.2 427h3.2v3.2h-3.2zM437.8 428h3.2v3.2h-3.2zM437.9 428.1h3.2v3.2h-3.2zM431.3 429.1h3.2v3.2h-3.2zM431.8 428.8h3.2v3.2h-3.2zM429.5 427.9h3.2v3.2h-3.2zM431.1 429h3.2v3.2h-3.2zM437.7 428.6h3.2v3.2h-3.2zM443.1 427.7h3.2v3.2h-3.2zM445.3 429h3.2v3.2h-3.2zM442.7 426.5h3.2v3.2h-3.2zM450.3 428.7h3.2v3.2h-3.2zM453.3 428.8h3.2v3.2h-3.2zM446.7 429.3h3.2v3.2h-3.2zM456.1 428.2h3.2v3.2h-3.2zM447.7 428.7h3.2v3.2h-3.2zM448 426.8h3.2v3.2h-3.2zM457.8 428.7h3.2v3.2h-3.2zM459.9 429.1h3.2v3.2h-3.2zM459.2 431.7h3.2v3.2h-3.2zM458 436.1h3.2v3.2h-3.2zM460 437.6h3.2v3.2h-3.2zM458.5 432.5h3.2v3.2h-3.2zM458.7 433.8h3.2v3.2h-3.2zM460.2 434.2h3.2v3.2h-3.2zM459 447.8h3.2v3.2h-3.2zM457 440.1h3.2v3.2h-3.2zM458.9 444.2h3.2v3.2h-3.2zM458 440.4h3.2v3.2h-3.2zM457.5 442.9h3.2v3.2h-3.2zM452.3 459.4h3.2v3.2h-3.2zM455.3 457h3.2v3.2h-3.2zM455.6 453.5h3.2v3.2h-3.2zM453.6 453.9h3.2v3.2h-3.2zM455.5 450.4h3.2v3.2h-3.2zM455.5 449.8h3.2v3.2h-3.2zM458.2 449.9h3.2v3.2h-3.2zM456.3 452.2h3.2v3.2h-3.2zM450.4 464.8h3.2v3.2h-3.2zM451.8 469.1h3.2v3.2h-3.2zM453 458.9h3.2v3.2h-3.2zM451.9 461.2h3.2v3.2h-3.2zM453.1 462.3h3.2v3.2h-3.2zM451.5 460.9h3.2v3.2h-3.2zM453 464.9h3.2v3.2h-3.2zM453.4 462.9h3.2v3.2h-3.2zM448.8 471.6h3.2v3.2h-3.2z" fill="#000"/>
<path d="M429.8 357.9h3.4v3.4h-3.4zM474.6 388.2h3.4v3.4h-3.4zM405.6 372.1h3.4v3.4h-3.4zM409.6 371.1h3.4v3.4h-3.4zM416.7 369.4h3.4v3.4h-3.4zM403.9 376.1h3.4v3.4h-3.4zM415.7 380.5h3.4v3.4h-3.4zM418 382.2h3.4v3.4h-3.4zM413.3 384.9h3.4v3.4h-3.4zM404.6 386.2h3.4v3.4h-3.4zM407.3 388.9h3.4v3.4h-3.4zM406.3 391.6h3.4v3.4h-3.4zM419.1 388.9h3.4v3.4h-3.4zM424.1 388.2h3.4v3.4h-3.4zM413 394h3.4v3.4h-3.4zM408.3 395.6h3.4v3.4h-3.4zM414.7 398h3.4v3.4h-3.4zM424.1 395h3.4v3.4h-3.4zM398.9 403h3.4v3.4h-3.4zM402.9 403h3.4v3.4h-3.4zM405.6 406.4h3.4v3.4h-3.4zM409 409.8h3.4v3.4h-3.4zM452.7 409.1h3.4v3.4h-3.4zM455.4 410.8h3.4v3.4h-3.4zM461.8 410.8h3.4v3.4h-3.4zM434.2 406.4h3.4v3.4h-3.4zM430.2 412.5h3.4v3.4h-3.4zM410.6 415.2h3.4v3.4h-3.4zM408.3 418.5h3.4v3.4h-3.4zM414 419.9h3.4v3.4h-3.4zM460.1 419.2h3.4v3.4h-3.4zM434.2 422.6h3.4v3.4h-3.4zM442.6 424.3h3.4v3.4h-3.4zM398.9 428.6h3.4v3.4h-3.4zM406.3 428.6h3.4v3.4h-3.4zM461.8 447.8h3.4v3.4h-3.4zM459.4 442.8h3.4v3.4h-3.4z" fill="#000"/>
<path d="M444.2 466.5h1.6v1.6h-1.6zM442.8 468.9h1.6v1.6h-1.6zM445.5 468.9h1.6v1.6h-1.6zM458 445.5h1.6v1.6h-1.6zM456 458.8h1.6v1.6h-1.6zM447.8 463h1.6v1.6h-1.6zM450.3 446h1.6v1.6h-1.6zM450.2 461.8h1.6v1.6h-1.6zM451.1 440.4h1.6v1.6h-1.6z" fill="#fff"/>
<path d="M382 344.1H512.4V474.7" fill="none" stroke="#3a3a3a" stroke-width="1"/>
<path d="M382 344.1V474.7H512.4" fill="none" stroke="#000" stroke-width="1.2"/>
<path d="M422.9 344.1V474.7M382 426.5H512.4" stroke="#000" stroke-width="1.25" fill="none"/>
<path d="M382 474.7v3M391.8 474.7v1.7M397.6 474.7v1.7M401.6 474.7v1.7M404.8 474.7v1.7M407.4 474.7v1.7M409.6 474.7v1.7M411.4 474.7v1.7M413.1 474.7v1.7M414.6 474.7v3M424.4 474.7v1.7M430.2 474.7v1.7M434.2 474.7v1.7M437.4 474.7v1.7M440 474.7v1.7M442.2 474.7v1.7M444 474.7v1.7M445.7 474.7v1.7M447.2 474.7v3M457 474.7v1.7M462.8 474.7v1.7M466.8 474.7v1.7M470 474.7v1.7M472.6 474.7v1.7M474.8 474.7v1.7M476.6 474.7v1.7M478.3 474.7v1.7M479.8 474.7v3M489.6 474.7v1.7M495.4 474.7v1.7M499.4 474.7v1.7M502.6 474.7v1.7M505.2 474.7v1.7M507.4 474.7v1.7M509.2 474.7v1.7M510.9 474.7v1.7M512.4 474.7v3" stroke="#000" stroke-width="1.15" fill="none"/>
<path d="M382 474.7h-3M382 464.9h-1.7M382 459.1h-1.7M382 455h-1.7M382 451.9h-1.7M382 449.3h-1.7M382 447.1h-1.7M382 445.2h-1.7M382 443.5h-1.7M382 442.1h-3M382 432.2h-1.7M382 426.5h-1.7M382 422.4h-1.7M382 419.2h-1.7M382 416.6h-1.7M382 414.5h-1.7M382 412.6h-1.7M382 410.9h-1.7M382 409.4h-3M382 399.6h-1.7M382 393.8h-1.7M382 389.7h-1.7M382 386.6h-1.7M382 384h-1.7M382 381.8h-1.7M382 379.9h-1.7M382 378.2h-1.7M382 376.8h-3M382 366.9h-1.7M382 361.2h-1.7M382 357.1h-1.7M382 353.9h-1.7M382 351.3h-1.7M382 349.2h-1.7M382 347.3h-1.7M382 345.6h-1.7M382 344.1h-3" stroke="#000" stroke-width="1.15" fill="none"/>
<text transform="translate(382.4 484.9)" font-size="6.3" text-anchor="middle" class="tk">10<tspan dx="-0.2" dy="-3.6" font-size="5.4">0</tspan></text>
<text transform="translate(376.1 475) rotate(-90) scale(1.22 1)" font-size="5.8" text-anchor="middle" class="tk">10<tspan dy="-3.3" font-size="5.2">0</tspan></text>
<text transform="translate(415 484.9)" font-size="6.3" text-anchor="middle" class="tk">10<tspan dx="-0.2" dy="-3.6" font-size="5.4">1</tspan></text>
<text transform="translate(376.1 442.4) rotate(-90) scale(1.22 1)" font-size="5.8" text-anchor="middle" class="tk">10<tspan dy="-3.3" font-size="5.2">1</tspan></text>
<text transform="translate(447.6 484.9)" font-size="6.3" text-anchor="middle" class="tk">10<tspan dx="-0.2" dy="-3.6" font-size="5.4">2</tspan></text>
<text transform="translate(376.1 409.7) rotate(-90) scale(1.22 1)" font-size="5.8" text-anchor="middle" class="tk">10<tspan dy="-3.3" font-size="5.2">2</tspan></text>
<text transform="translate(480.2 484.9)" font-size="6.3" text-anchor="middle" class="tk">10<tspan dx="-0.2" dy="-3.6" font-size="5.4">3</tspan></text>
<text transform="translate(376.1 377.1) rotate(-90) scale(1.22 1)" font-size="5.8" text-anchor="middle" class="tk">10<tspan dy="-3.3" font-size="5.2">3</tspan></text>
<text transform="translate(511.8 484.9)" font-size="6.3" text-anchor="middle" class="tk">10<tspan dx="-0.2" dy="-3.6" font-size="5.4">4</tspan></text>
<text transform="translate(376.1 345.1) rotate(-90) scale(1.22 1)" font-size="5.8" text-anchor="middle" class="tk">10<tspan dy="-3.3" font-size="5.2">4</tspan></text>
<text x="475" y="501.3" font-size="20.4" text-anchor="end" letter-spacing="0" class="lb">CD117</text>
<text transform="translate(371.6 409.1) rotate(-90) scale(0.97 1.04)" font-size="20.4" text-anchor="middle" class="lb">97A6</text>
</g>
<g>
<polygon points="35.4,643 35.4,610.7 35.3,610.7 50.5,610.1 57.9,610.4 63.6,605.4 69,600.3 75.4,596.9 86.2,596.6 90.2,599.6 93.2,605 95.3,615.4 94.2,629.6 96.3,642 96.3,643" fill="#000"/>
<path d="M35.3 608.6h3.2v3.2h-3.2zM35.3 611.4h3.2v3.2h-3.2zM35.3 609.4h3.2v3.2h-3.2zM48.3 610.4h3.2v3.2h-3.2zM35.7 609.8h3.2v3.2h-3.2zM42.7 608.7h3.2v3.2h-3.2zM41.7 609.8h3.2v3.2h-3.2zM37.3 610.8h3.2v3.2h-3.2zM42.6 610.9h3.2v3.2h-3.2zM40.5 611.4h3.2v3.2h-3.2zM47.7 610.9h3.2v3.2h-3.2zM50.9 609.2h3.2v3.2h-3.2zM54.2 608.2h3.2v3.2h-3.2zM53.1 610.6h3.2v3.2h-3.2zM54.4 610.5h3.2v3.2h-3.2zM60.8 606.2h3.2v3.2h-3.2zM60 607h3.2v3.2h-3.2zM60.6 605.5h3.2v3.2h-3.2zM59.7 606.1h3.2v3.2h-3.2zM62.6 606.6h3.2v3.2h-3.2zM65.3 603.1h3.2v3.2h-3.2zM64.7 599.8h3.2v3.2h-3.2zM66.3 602.5h3.2v3.2h-3.2zM64.1 601h3.2v3.2h-3.2zM68.5 597.6h3.2v3.2h-3.2zM69.2 599.8h3.2v3.2h-3.2zM70.9 595.8h3.2v3.2h-3.2zM72.6 598.4h3.2v3.2h-3.2zM76.4 595.8h3.2v3.2h-3.2zM82.3 595.4h3.2v3.2h-3.2zM77.7 597.3h3.2v3.2h-3.2zM77.4 594.7h3.2v3.2h-3.2zM76.9 597.6h3.2v3.2h-3.2zM81.2 595.7h3.2v3.2h-3.2zM75.3 596.9h3.2v3.2h-3.2zM87.5 598.5h3.2v3.2h-3.2zM85.2 595.4h3.2v3.2h-3.2zM85.2 596.9h3.2v3.2h-3.2zM91.1 601.8h3.2v3.2h-3.2zM89.8 598.5h3.2v3.2h-3.2zM91.5 602.2h3.2v3.2h-3.2zM91.2 601.8h3.2v3.2h-3.2zM93.1 611.9h3.2v3.2h-3.2zM91.3 603.1h3.2v3.2h-3.2zM93.5 610.5h3.2v3.2h-3.2zM93.1 607h3.2v3.2h-3.2zM91.9 611h3.2v3.2h-3.2zM93 609.7h3.2v3.2h-3.2zM89.6 605.5h3.2v3.2h-3.2zM90.5 626.1h3.2v3.2h-3.2zM93.5 613.3h3.2v3.2h-3.2zM90.9 623.5h3.2v3.2h-3.2zM90.6 624.4h3.2v3.2h-3.2zM92.6 623.9h3.2v3.2h-3.2zM90.8 616.8h3.2v3.2h-3.2zM92.4 627.3h3.2v3.2h-3.2zM90.8 621.2h3.2v3.2h-3.2zM93.5 617.8h3.2v3.2h-3.2zM93.8 639.9h3.2v3.2h-3.2zM94.6 639.9h3.2v3.2h-3.2zM92.4 634.5h3.2v3.2h-3.2zM92.2 631.4h3.2v3.2h-3.2zM92.1 633.4h3.2v3.2h-3.2zM91.7 628.6h3.2v3.2h-3.2zM92.2 635.7h3.2v3.2h-3.2zM93.9 634h3.2v3.2h-3.2zM93.7 639.9h3.2v3.2h-3.2zM102.7 613.9h3.2v3.2h-3.2zM100.9 618.1h3.2v3.2h-3.2zM102.8 611.1h3.2v3.2h-3.2zM100.9 621.4h3.2v3.2h-3.2zM99.8 613.7h3.2v3.2h-3.2zM101.1 620.8h3.2v3.2h-3.2zM97.6 615.5h3.2v3.2h-3.2zM97 615h3.2v3.2h-3.2zM100.3 613.7h3.2v3.2h-3.2zM94.8 620.4h3.2v3.2h-3.2zM95.2 620.6h3.2v3.2h-3.2zM98.1 612.2h3.2v3.2h-3.2zM97 610.4h3.2v3.2h-3.2zM101.7 620.8h3.2v3.2h-3.2zM102 617h3.2v3.2h-3.2zM105.7 633.8h3.2v3.2h-3.2zM106.6 637.4h3.2v3.2h-3.2zM106.3 634.6h3.2v3.2h-3.2zM101.3 634.2h3.2v3.2h-3.2zM96.5 636.6h3.2v3.2h-3.2z" fill="#000"/>
<path d="M94.9 599.3h3.4v3.4h-3.4zM94.9 602.3h3.4v3.4h-3.4zM103 600h3.4v3.4h-3.4zM107.4 600h3.4v3.4h-3.4zM128.2 599h3.4v3.4h-3.4zM115.5 603h3.4v3.4h-3.4zM120.5 604h3.4v3.4h-3.4zM105.7 605.7h3.4v3.4h-3.4zM108.1 606.7h3.4v3.4h-3.4zM110.4 607.7h3.4v3.4h-3.4zM120.5 608.1h3.4v3.4h-3.4zM129.6 606.7h3.4v3.4h-3.4zM102.3 609.4h3.4v3.4h-3.4zM105.4 612.1h3.4v3.4h-3.4zM108.1 613.8h3.4v3.4h-3.4zM115.5 610.7h3.4v3.4h-3.4zM116.5 612.8h3.4v3.4h-3.4zM126.6 616.1h3.4v3.4h-3.4zM105.7 619.2h3.4v3.4h-3.4zM113.4 618.5h3.4v3.4h-3.4zM111.4 620.5h3.4v3.4h-3.4zM110.4 622.9h3.4v3.4h-3.4zM102.3 624.5h3.4v3.4h-3.4zM103 626.2h3.4v3.4h-3.4zM105.7 627.6h3.4v3.4h-3.4zM107.7 627.6h3.4v3.4h-3.4zM121.5 625.6h3.4v3.4h-3.4zM128.2 627.9h3.4v3.4h-3.4zM94.9 626.9h3.4v3.4h-3.4zM94.9 630.3h3.4v3.4h-3.4zM122.5 631.6h3.4v3.4h-3.4zM124.5 634.3h3.4v3.4h-3.4zM117.8 635.3h3.4v3.4h-3.4zM94.3 637.3h3.4v3.4h-3.4zM130.6 639.7h3.4v3.4h-3.4zM57.2 532h3.4v3.4h-3.4zM55.5 535.3h3.4v3.4h-3.4zM60.6 536h3.4v3.4h-3.4zM65 534.7h3.4v3.4h-3.4zM69.7 537h3.4v3.4h-3.4zM73 538.7h3.4v3.4h-3.4zM60.6 541.4h3.4v3.4h-3.4zM74.1 542.1h3.4v3.4h-3.4zM90.9 540.4h3.4v3.4h-3.4zM137 541.4h3.4v3.4h-3.4zM88.5 545.4h3.4v3.4h-3.4zM85.8 548.1h3.4v3.4h-3.4zM114.4 545.4h3.4v3.4h-3.4zM105.4 548.8h3.4v3.4h-3.4zM57.2 551.5h3.4v3.4h-3.4zM64 552.2h3.4v3.4h-3.4zM69 553.9h3.4v3.4h-3.4zM84.2 552.2h3.4v3.4h-3.4zM95.9 557.2h3.4v3.4h-3.4zM126.2 558.2h3.4v3.4h-3.4zM138 559.6h3.4v3.4h-3.4zM119.5 560.6h3.4v3.4h-3.4zM88.5 561.6h3.4v3.4h-3.4zM134.6 564h3.4v3.4h-3.4zM112.8 567.3h3.4v3.4h-3.4zM95.9 565.6h3.4v3.4h-3.4zM124.5 567.3h3.4v3.4h-3.4zM126.2 569.7h3.4v3.4h-3.4zM106.7 570.7h3.4v3.4h-3.4zM77.4 578.1h3.4v3.4h-3.4zM125.6 578.4h3.4v3.4h-3.4zM138 579.1h3.4v3.4h-3.4zM138 582.5h3.4v3.4h-3.4zM72.4 585.2h3.4v3.4h-3.4zM89.2 586.5h3.4v3.4h-3.4zM85.2 590.9h3.4v3.4h-3.4zM148.1 593.6h3.4v3.4h-3.4zM60.6 594.3h3.4v3.4h-3.4zM52.2 598.6h3.4v3.4h-3.4zM64 597.6h3.4v3.4h-3.4zM103 550.2h3.4v3.4h-3.4zM115.8 562.6h3.4v3.4h-3.4zM125.2 574.7h3.4v3.4h-3.4zM95.9 584.5h3.4v3.4h-3.4zM69.3 546.5h3.4v3.4h-3.4z" fill="#000"/>
<path d="M35.4 512.2H166.2V643" fill="none" stroke="#3a3a3a" stroke-width="1"/>
<path d="M35.4 512.2V643H166.2" fill="none" stroke="#000" stroke-width="1.2"/>
<path d="M77.7 512.2V643M35.4 594.4H166.2" stroke="#000" stroke-width="1.25" fill="none"/>
<path d="M35.4 643v3M45.2 643v1.7M51 643v1.7M55.1 643v1.7M58.3 643v1.7M60.8 643v1.7M63 643v1.7M64.9 643v1.7M66.6 643v1.7M68.1 643v3M77.9 643v1.7M83.7 643v1.7M87.8 643v1.7M91 643v1.7M93.5 643v1.7M95.7 643v1.7M97.6 643v1.7M99.3 643v1.7M100.8 643v3M110.6 643v1.7M116.4 643v1.7M120.5 643v1.7M123.7 643v1.7M126.2 643v1.7M128.4 643v1.7M130.3 643v1.7M132 643v1.7M133.5 643v3M143.3 643v1.7M149.1 643v1.7M153.2 643v1.7M156.4 643v1.7M158.9 643v1.7M161.1 643v1.7M163 643v1.7M164.7 643v1.7M166.2 643v3" stroke="#000" stroke-width="1.15" fill="none"/>
<path d="M35.4 643h-3M35.4 633.2h-1.7M35.4 627.4h-1.7M35.4 623.3h-1.7M35.4 620.1h-1.7M35.4 617.6h-1.7M35.4 615.4h-1.7M35.4 613.5h-1.7M35.4 611.8h-1.7M35.4 610.3h-3M35.4 600.5h-1.7M35.4 594.7h-1.7M35.4 590.6h-1.7M35.4 587.4h-1.7M35.4 584.9h-1.7M35.4 582.7h-1.7M35.4 580.8h-1.7M35.4 579.1h-1.7M35.4 577.6h-3M35.4 567.8h-1.7M35.4 562h-1.7M35.4 557.9h-1.7M35.4 554.7h-1.7M35.4 552.2h-1.7M35.4 550h-1.7M35.4 548.1h-1.7M35.4 546.4h-1.7M35.4 544.9h-3M35.4 535.1h-1.7M35.4 529.3h-1.7M35.4 525.2h-1.7M35.4 522h-1.7M35.4 519.5h-1.7M35.4 517.3h-1.7M35.4 515.4h-1.7M35.4 513.7h-1.7M35.4 512.2h-3" stroke="#000" stroke-width="1.15" fill="none"/>
<text transform="translate(35.8 653.2)" font-size="6.3" text-anchor="middle" class="tk">10<tspan dx="-0.2" dy="-3.6" font-size="5.4">0</tspan></text>
<text transform="translate(29.5 643.3) rotate(-90) scale(1.22 1)" font-size="5.8" text-anchor="middle" class="tk">10<tspan dy="-3.3" font-size="5.2">0</tspan></text>
<text transform="translate(68.5 653.2)" font-size="6.3" text-anchor="middle" class="tk">10<tspan dx="-0.2" dy="-3.6" font-size="5.4">1</tspan></text>
<text transform="translate(29.5 610.6) rotate(-90) scale(1.22 1)" font-size="5.8" text-anchor="middle" class="tk">10<tspan dy="-3.3" font-size="5.2">1</tspan></text>
<text transform="translate(101.2 653.2)" font-size="6.3" text-anchor="middle" class="tk">10<tspan dx="-0.2" dy="-3.6" font-size="5.4">2</tspan></text>
<text transform="translate(29.5 577.9) rotate(-90) scale(1.22 1)" font-size="5.8" text-anchor="middle" class="tk">10<tspan dy="-3.3" font-size="5.2">2</tspan></text>
<text transform="translate(133.9 653.2)" font-size="6.3" text-anchor="middle" class="tk">10<tspan dx="-0.2" dy="-3.6" font-size="5.4">3</tspan></text>
<text transform="translate(29.5 545.2) rotate(-90) scale(1.22 1)" font-size="5.8" text-anchor="middle" class="tk">10<tspan dy="-3.3" font-size="5.2">3</tspan></text>
<text transform="translate(165.6 653.2)" font-size="6.3" text-anchor="middle" class="tk">10<tspan dx="-0.2" dy="-3.6" font-size="5.4">4</tspan></text>
<text transform="translate(29.5 513.2) rotate(-90) scale(1.22 1)" font-size="5.8" text-anchor="middle" class="tk">10<tspan dy="-3.3" font-size="5.2">4</tspan></text>
<text x="120.7" y="670" font-size="20.4" text-anchor="end" letter-spacing="0" class="lb">CD17</text>
<text transform="translate(25.4 575.3) rotate(-90) scale(0.97 1.04)" font-size="20.4" text-anchor="middle" class="lb">97A6</text>
</g>
<g>
<polygon points="209.6,641.8 209.6,608 209.7,608 229.5,607.4 236.6,602.7 243.3,598.3 249,596.3 263.9,596.3 267.9,599 272.6,601.3 286.7,604 302.2,604.7 306.6,612.8 308,626.6 309.6,642 309.6,641.8" fill="#000"/>
<path d="M209.5 607.6h3.2v3.2h-3.2zM218 607.7h3.2v3.2h-3.2zM209.5 608.7h3.2v3.2h-3.2zM221.8 607h3.2v3.2h-3.2zM218.3 606.9h3.2v3.2h-3.2zM227.5 608.3h3.2v3.2h-3.2zM218.8 606.6h3.2v3.2h-3.2zM214.8 608.3h3.2v3.2h-3.2zM209.5 605.9h3.2v3.2h-3.2zM216.5 605.6h3.2v3.2h-3.2zM211.8 608.5h3.2v3.2h-3.2zM222.1 607.3h3.2v3.2h-3.2zM221.5 607.7h3.2v3.2h-3.2zM212 607.2h3.2v3.2h-3.2zM232.1 601.6h3.2v3.2h-3.2zM229.5 606.4h3.2v3.2h-3.2zM232.8 603.3h3.2v3.2h-3.2zM228.2 607.1h3.2v3.2h-3.2zM229.5 605.2h3.2v3.2h-3.2zM236.7 602.5h3.2v3.2h-3.2zM239.1 601.2h3.2v3.2h-3.2zM234.8 601.4h3.2v3.2h-3.2zM240.2 599.3h3.2v3.2h-3.2zM235.9 599.1h3.2v3.2h-3.2zM242.8 596.9h3.2v3.2h-3.2zM246.5 595.2h3.2v3.2h-3.2zM241.2 596.1h3.2v3.2h-3.2zM246.4 597.6h3.2v3.2h-3.2zM252.9 596.4h3.2v3.2h-3.2zM251.5 597.1h3.2v3.2h-3.2zM254.6 596.1h3.2v3.2h-3.2zM260.2 595.6h3.2v3.2h-3.2zM253.8 594.6h3.2v3.2h-3.2zM258.6 595.2h3.2v3.2h-3.2zM257.5 594.3h3.2v3.2h-3.2zM251.8 595.4h3.2v3.2h-3.2zM257.3 596.5h3.2v3.2h-3.2zM262.7 595.1h3.2v3.2h-3.2zM266.5 597.2h3.2v3.2h-3.2zM265.5 596.7h3.2v3.2h-3.2zM268.6 599.4h3.2v3.2h-3.2zM266.7 598.8h3.2v3.2h-3.2zM268.8 601.1h3.2v3.2h-3.2zM280.8 603.2h3.2v3.2h-3.2zM273.1 602.1h3.2v3.2h-3.2zM280.5 600.8h3.2v3.2h-3.2zM283.1 604.1h3.2v3.2h-3.2zM273.8 600.5h3.2v3.2h-3.2zM275.4 602.7h3.2v3.2h-3.2zM272.8 600.3h3.2v3.2h-3.2zM276.2 600.7h3.2v3.2h-3.2zM275.1 601.6h3.2v3.2h-3.2zM298.6 604.1h3.2v3.2h-3.2zM287.3 602.9h3.2v3.2h-3.2zM285.9 604.2h3.2v3.2h-3.2zM292.3 603h3.2v3.2h-3.2zM292.7 605.1h3.2v3.2h-3.2zM287.5 602.7h3.2v3.2h-3.2zM290.2 603.3h3.2v3.2h-3.2zM299 602.9h3.2v3.2h-3.2zM296.2 603.5h3.2v3.2h-3.2zM289.3 602.2h3.2v3.2h-3.2zM303 611.9h3.2v3.2h-3.2zM304.9 610.4h3.2v3.2h-3.2zM303.3 608h3.2v3.2h-3.2zM302.7 606.5h3.2v3.2h-3.2zM302.3 612h3.2v3.2h-3.2zM301.8 609h3.2v3.2h-3.2zM306.7 624.1h3.2v3.2h-3.2zM305.2 623.5h3.2v3.2h-3.2zM303.7 618.2h3.2v3.2h-3.2zM305.6 620.8h3.2v3.2h-3.2zM305.6 624.7h3.2v3.2h-3.2zM303.7 614.3h3.2v3.2h-3.2zM304.2 625.7h3.2v3.2h-3.2zM303.5 614.1h3.2v3.2h-3.2zM306 615.8h3.2v3.2h-3.2zM305.7 632.4h3.2v3.2h-3.2zM306.6 638.7h3.2v3.2h-3.2zM308.1 637.3h3.2v3.2h-3.2zM308 634.2h3.2v3.2h-3.2zM304.7 623.8h3.2v3.2h-3.2zM307.2 635.8h3.2v3.2h-3.2zM304.8 634.5h3.2v3.2h-3.2zM306.2 638.7h3.2v3.2h-3.2zM304.4 631.1h3.2v3.2h-3.2zM306.4 631.3h3.2v3.2h-3.2zM306.5 638.7h3.2v3.2h-3.2zM305.8 613.3h3.2v3.2h-3.2zM306.7 604h3.2v3.2h-3.2zM305.5 611.8h3.2v3.2h-3.2zM304.9 607.3h3.2v3.2h-3.2z" fill="#000"/>
<path d="M292.8 532.7h3.4v3.4h-3.4zM291.8 536h3.4v3.4h-3.4zM297.2 537h3.4v3.4h-3.4zM281.7 537h3.4v3.4h-3.4zM255.8 537h3.4v3.4h-3.4zM259.2 538h3.4v3.4h-3.4zM274.3 538.7h3.4v3.4h-3.4zM270.9 541.4h3.4v3.4h-3.4zM268.2 542.1h3.4v3.4h-3.4zM281 545.4h3.4v3.4h-3.4zM278.3 546.1h3.4v3.4h-3.4zM263.5 547.1h3.4v3.4h-3.4zM250.1 547.1h3.4v3.4h-3.4zM252.4 550.5h3.4v3.4h-3.4zM240.6 552.2h3.4v3.4h-3.4zM260.2 551.5h3.4v3.4h-3.4zM270.9 551.5h3.4v3.4h-3.4zM284.4 551.5h3.4v3.4h-3.4zM270.3 554.9h3.4v3.4h-3.4zM261.5 560.6h3.4v3.4h-3.4zM281 560.6h3.4v3.4h-3.4zM273.6 567.3h3.4v3.4h-3.4zM270.9 569h3.4v3.4h-3.4zM240 573h3.4v3.4h-3.4zM242.3 575.1h3.4v3.4h-3.4zM252.4 575.7h3.4v3.4h-3.4zM270.3 577.4h3.4v3.4h-3.4zM263.5 584.2h3.4v3.4h-3.4zM251.4 585.2h3.4v3.4h-3.4zM273.6 588.5h3.4v3.4h-3.4zM260.8 589.2h3.4v3.4h-3.4zM242.3 595.9h3.4v3.4h-3.4zM270.3 596.6h3.4v3.4h-3.4zM277.7 599.3h3.4v3.4h-3.4zM301.2 599.3h3.4v3.4h-3.4zM310.7 612.8h3.4v3.4h-3.4zM308.6 624.5h3.4v3.4h-3.4z" fill="#000"/>
<path d="M293.7 610.3h1.6v1.6h-1.6zM298.7 617.7h1.6v1.6h-1.6zM291.4 620.3h1.6v1.6h-1.6zM295.1 611.4h1.6v1.6h-1.6zM287 619.1h1.6v1.6h-1.6zM305.9 608h1.6v1.6h-1.6zM279.7 614.7h1.6v1.6h-1.6zM288.6 607.9h1.6v1.6h-1.6zM281.9 620h1.6v1.6h-1.6zM298.4 615.6h1.6v1.6h-1.6z" fill="#fff"/>
<path d="M209.6 510.9H340.4V641.8" fill="none" stroke="#3a3a3a" stroke-width="1"/>
<path d="M209.6 510.9V641.8H340.4" fill="none" stroke="#000" stroke-width="1.2"/>
<path d="M250.6 510.9V641.8M209.6 597.7H340.4" stroke="#000" stroke-width="1.25" fill="none"/>
<path d="M209.6 641.8v3M219.4 641.8v1.7M225.2 641.8v1.7M229.3 641.8v1.7M232.5 641.8v1.7M235 641.8v1.7M237.2 641.8v1.7M239.1 641.8v1.7M240.8 641.8v1.7M242.3 641.8v3M252.1 641.8v1.7M257.9 641.8v1.7M262 641.8v1.7M265.2 641.8v1.7M267.7 641.8v1.7M269.9 641.8v1.7M271.8 641.8v1.7M273.5 641.8v1.7M275 641.8v3M284.8 641.8v1.7M290.6 641.8v1.7M294.7 641.8v1.7M297.9 641.8v1.7M300.4 641.8v1.7M302.6 641.8v1.7M304.5 641.8v1.7M306.2 641.8v1.7M307.7 641.8v3M317.5 641.8v1.7M323.3 641.8v1.7M327.4 641.8v1.7M330.6 641.8v1.7M333.1 641.8v1.7M335.3 641.8v1.7M337.2 641.8v1.7M338.9 641.8v1.7M340.4 641.8v3" stroke="#000" stroke-width="1.15" fill="none"/>
<path d="M209.6 641.8h-3M209.6 631.9h-1.7M209.6 626.2h-1.7M209.6 622.1h-1.7M209.6 618.9h-1.7M209.6 616.3h-1.7M209.6 614.1h-1.7M209.6 612.2h-1.7M209.6 610.6h-1.7M209.6 609.1h-3M209.6 599.2h-1.7M209.6 593.5h-1.7M209.6 589.4h-1.7M209.6 586.2h-1.7M209.6 583.6h-1.7M209.6 581.4h-1.7M209.6 579.5h-1.7M209.6 577.8h-1.7M209.6 576.3h-3M209.6 566.5h-1.7M209.6 560.7h-1.7M209.6 556.6h-1.7M209.6 553.5h-1.7M209.6 550.9h-1.7M209.6 548.7h-1.7M209.6 546.8h-1.7M209.6 545.1h-1.7M209.6 543.6h-3M209.6 533.8h-1.7M209.6 528h-1.7M209.6 523.9h-1.7M209.6 520.8h-1.7M209.6 518.2h-1.7M209.6 516h-1.7M209.6 514.1h-1.7M209.6 512.4h-1.7M209.6 510.9h-3" stroke="#000" stroke-width="1.15" fill="none"/>
<text transform="translate(210 652)" font-size="6.3" text-anchor="middle" class="tk">10<tspan dx="-0.2" dy="-3.6" font-size="5.4">0</tspan></text>
<text transform="translate(203.7 642.1) rotate(-90) scale(1.22 1)" font-size="5.8" text-anchor="middle" class="tk">10<tspan dy="-3.3" font-size="5.2">0</tspan></text>
<text transform="translate(242.7 652)" font-size="6.3" text-anchor="middle" class="tk">10<tspan dx="-0.2" dy="-3.6" font-size="5.4">1</tspan></text>
<text transform="translate(203.7 609.4) rotate(-90) scale(1.22 1)" font-size="5.8" text-anchor="middle" class="tk">10<tspan dy="-3.3" font-size="5.2">1</tspan></text>
<text transform="translate(275.4 652)" font-size="6.3" text-anchor="middle" class="tk">10<tspan dx="-0.2" dy="-3.6" font-size="5.4">2</tspan></text>
<text transform="translate(203.7 576.6) rotate(-90) scale(1.22 1)" font-size="5.8" text-anchor="middle" class="tk">10<tspan dy="-3.3" font-size="5.2">2</tspan></text>
<text transform="translate(308.1 652)" font-size="6.3" text-anchor="middle" class="tk">10<tspan dx="-0.2" dy="-3.6" font-size="5.4">3</tspan></text>
<text transform="translate(203.7 543.9) rotate(-90) scale(1.22 1)" font-size="5.8" text-anchor="middle" class="tk">10<tspan dy="-3.3" font-size="5.2">3</tspan></text>
<text transform="translate(339.8 652)" font-size="6.3" text-anchor="middle" class="tk">10<tspan dx="-0.2" dy="-3.6" font-size="5.4">4</tspan></text>
<text transform="translate(203.7 511.9) rotate(-90) scale(1.22 1)" font-size="5.8" text-anchor="middle" class="tk">10<tspan dy="-3.3" font-size="5.2">4</tspan></text>
<text x="296.5" y="669" font-size="20.4" text-anchor="end" letter-spacing="0" class="lb">CD26</text>
<text transform="translate(198.6 575.2) rotate(-90) scale(0.97 1.04)" font-size="20.4" text-anchor="middle" class="lb">97A6</text>
</g>
<g>
<polygon points="383.4,643.6 383.4,608.7 384.4,608.7 398.9,608 417.4,607.4 423.1,605.7 426.1,602.3 434.2,601.3 456.1,601.3 456.7,607 479.6,607.7 499.8,607 512.6,607 513.3,611.1 513.3,642.4 513.3,643.6" fill="#000"/>
<path d="M383.3 607.2h3.2v3.2h-3.2zM396.6 607.6h3.2v3.2h-3.2zM393.1 608.2h3.2v3.2h-3.2zM393 607.8h3.2v3.2h-3.2zM390.2 606.9h3.2v3.2h-3.2zM396.3 606.5h3.2v3.2h-3.2zM392.3 606.8h3.2v3.2h-3.2zM384.7 609.5h3.2v3.2h-3.2zM390 609.3h3.2v3.2h-3.2zM391.5 606.5h3.2v3.2h-3.2zM409.2 607.3h3.2v3.2h-3.2zM416.5 605.7h3.2v3.2h-3.2zM401.7 605.7h3.2v3.2h-3.2zM398 606h3.2v3.2h-3.2zM406.7 607.3h3.2v3.2h-3.2zM399.2 606.7h3.2v3.2h-3.2zM405.4 605.8h3.2v3.2h-3.2zM400.6 608.6h3.2v3.2h-3.2zM410.5 605.9h3.2v3.2h-3.2zM402.5 608.3h3.2v3.2h-3.2zM415.4 605.9h3.2v3.2h-3.2zM401.2 608.3h3.2v3.2h-3.2zM417.7 604.7h3.2v3.2h-3.2zM420.3 607.4h3.2v3.2h-3.2zM420.4 606.2h3.2v3.2h-3.2zM423.3 603.9h3.2v3.2h-3.2zM424.5 603.1h3.2v3.2h-3.2zM424 604.4h3.2v3.2h-3.2zM426.9 602.7h3.2v3.2h-3.2zM426.6 600.4h3.2v3.2h-3.2zM426.5 601.7h3.2v3.2h-3.2zM431.8 602.2h3.2v3.2h-3.2zM426.1 602.7h3.2v3.2h-3.2zM447.2 599.3h3.2v3.2h-3.2zM446.4 601.2h3.2v3.2h-3.2zM436 602.1h3.2v3.2h-3.2zM453.9 600.6h3.2v3.2h-3.2zM445.3 600.7h3.2v3.2h-3.2zM446.2 600.6h3.2v3.2h-3.2zM441.1 601.1h3.2v3.2h-3.2zM454.2 600.8h3.2v3.2h-3.2zM436.8 601.3h3.2v3.2h-3.2zM450.7 601.2h3.2v3.2h-3.2zM434.9 602.2h3.2v3.2h-3.2zM448.1 599.8h3.2v3.2h-3.2zM441.7 600.4h3.2v3.2h-3.2zM438.9 599.7h3.2v3.2h-3.2zM453.6 604.2h3.2v3.2h-3.2zM455.6 603.9h3.2v3.2h-3.2zM454 603.8h3.2v3.2h-3.2zM476.9 607h3.2v3.2h-3.2zM471.8 605.7h3.2v3.2h-3.2zM475.2 607h3.2v3.2h-3.2zM458.6 608h3.2v3.2h-3.2zM458.8 606.6h3.2v3.2h-3.2zM469.5 608.1h3.2v3.2h-3.2zM474.7 606.5h3.2v3.2h-3.2zM459.2 605.4h3.2v3.2h-3.2zM467.9 605.8h3.2v3.2h-3.2zM464.7 605.5h3.2v3.2h-3.2zM467.1 608h3.2v3.2h-3.2zM476.6 605.6h3.2v3.2h-3.2zM475 608.5h3.2v3.2h-3.2zM471.9 607.6h3.2v3.2h-3.2zM459.6 607h3.2v3.2h-3.2zM484.5 606.6h3.2v3.2h-3.2zM491.7 606.1h3.2v3.2h-3.2zM497.4 605.9h3.2v3.2h-3.2zM498.2 605h3.2v3.2h-3.2zM482.4 607.1h3.2v3.2h-3.2zM479.4 607.7h3.2v3.2h-3.2zM485.8 606.2h3.2v3.2h-3.2zM481.4 606.3h3.2v3.2h-3.2zM488.2 606h3.2v3.2h-3.2zM483.2 605.4h3.2v3.2h-3.2zM493.6 606.6h3.2v3.2h-3.2zM488.9 607.9h3.2v3.2h-3.2zM492.7 605.8h3.2v3.2h-3.2zM509.8 605h3.2v3.2h-3.2zM500.3 605.9h3.2v3.2h-3.2zM507.1 605h3.2v3.2h-3.2zM503.2 606.9h3.2v3.2h-3.2zM504.3 606.7h3.2v3.2h-3.2zM500.6 607.9h3.2v3.2h-3.2zM511.1 606.3h3.2v3.2h-3.2zM503.7 606.1h3.2v3.2h-3.2zM511.8 609.6h3.2v3.2h-3.2zM510.6 606.9h3.2v3.2h-3.2zM510.1 633.8h3.2v3.2h-3.2zM510.5 619.7h3.2v3.2h-3.2zM509.4 620.8h3.2v3.2h-3.2zM510.6 613.4h3.2v3.2h-3.2zM511.4 626.7h3.2v3.2h-3.2zM509.4 630.6h3.2v3.2h-3.2zM510.3 613.9h3.2v3.2h-3.2zM511.4 634.5h3.2v3.2h-3.2zM510 616.7h3.2v3.2h-3.2zM509.7 636.6h3.2v3.2h-3.2zM511.9 622.2h3.2v3.2h-3.2zM510.3 636.3h3.2v3.2h-3.2zM512.3 636.3h3.2v3.2h-3.2zM509.6 640.5h3.2v3.2h-3.2zM512.2 635h3.2v3.2h-3.2zM511.7 622.7h3.2v3.2h-3.2zM509.8 630.1h3.2v3.2h-3.2zM511.4 636h3.2v3.2h-3.2zM509 625.7h3.2v3.2h-3.2zM511.8 630.4h3.2v3.2h-3.2zM512 640.5h3.2v3.2h-3.2zM465.5 602.6h3.2v3.2h-3.2zM473.4 600.8h3.2v3.2h-3.2zM473.4 600.2h3.2v3.2h-3.2zM458.1 600.6h3.2v3.2h-3.2zM509.6 600.5h3.2v3.2h-3.2zM494.6 604.2h3.2v3.2h-3.2zM469.4 602.5h3.2v3.2h-3.2zM463.7 602.6h3.2v3.2h-3.2zM508.2 599.9h3.2v3.2h-3.2zM456.7 604.4h3.2v3.2h-3.2zM480.9 606.7h3.2v3.2h-3.2zM488.2 605.3h3.2v3.2h-3.2zM481.2 600.8h3.2v3.2h-3.2zM469.3 603.1h3.2v3.2h-3.2zM475.4 600.4h3.2v3.2h-3.2zM486.5 606.3h3.2v3.2h-3.2zM493.7 604.4h3.2v3.2h-3.2zM511 601.4h3.2v3.2h-3.2zM493.9 606.5h3.2v3.2h-3.2zM489.4 600.6h3.2v3.2h-3.2zM494.6 602.9h3.2v3.2h-3.2zM479.2 601.8h3.2v3.2h-3.2zM456.9 599.6h3.2v3.2h-3.2zM497.6 600.8h3.2v3.2h-3.2zM483.9 599.7h3.2v3.2h-3.2zM484.8 600.2h3.2v3.2h-3.2zM472.7 600.4h3.2v3.2h-3.2zM476.7 600.4h3.2v3.2h-3.2zM493.1 601.3h3.2v3.2h-3.2zM493.6 601.1h3.2v3.2h-3.2zM457.7 600.9h3.2v3.2h-3.2zM493.2 605h3.2v3.2h-3.2zM471.4 605.1h3.2v3.2h-3.2zM497.2 601.9h3.2v3.2h-3.2zM463 600.4h3.2v3.2h-3.2zM461.5 605.1h3.2v3.2h-3.2zM500.6 601.9h3.2v3.2h-3.2zM467.8 605.7h3.2v3.2h-3.2zM473.8 599.8h3.2v3.2h-3.2zM493 606h3.2v3.2h-3.2zM479.8 599.9h3.2v3.2h-3.2zM478.2 599.4h3.2v3.2h-3.2zM502.8 603.9h3.2v3.2h-3.2zM465.8 606.7h3.2v3.2h-3.2zM508.2 604.4h3.2v3.2h-3.2zM505.6 604.4h3.2v3.2h-3.2zM472.9 601h3.2v3.2h-3.2zM470.6 601.2h3.2v3.2h-3.2zM500.4 600.3h3.2v3.2h-3.2zM493 599.8h3.2v3.2h-3.2zM486.5 599.6h3.2v3.2h-3.2z" fill="#000"/>
<path d="M427.5 528.6h3.4v3.4h-3.4zM431.5 528.6h3.4v3.4h-3.4zM414.7 536h3.4v3.4h-3.4zM424.8 534.7h3.4v3.4h-3.4zM456.1 537h3.4v3.4h-3.4zM464.5 539.4h3.4v3.4h-3.4zM488.7 541.4h3.4v3.4h-3.4zM415.7 539.4h3.4v3.4h-3.4zM421.4 542.1h3.4v3.4h-3.4zM430.8 544.8h3.4v3.4h-3.4zM399.9 544.8h3.4v3.4h-3.4zM412.3 544.8h3.4v3.4h-3.4zM440.3 547.1h3.4v3.4h-3.4zM424.1 549.5h3.4v3.4h-3.4zM420.7 553.9h3.4v3.4h-3.4zM456.1 553.9h3.4v3.4h-3.4zM412.3 560.6h3.4v3.4h-3.4zM415.7 562.3h3.4v3.4h-3.4zM417.4 567.3h3.4v3.4h-3.4zM442.6 567.3h3.4v3.4h-3.4zM472.9 569.7h3.4v3.4h-3.4zM469.5 570.7h3.4v3.4h-3.4zM492.4 569.7h3.4v3.4h-3.4zM420.1 578.4h3.4v3.4h-3.4zM432.5 577.4h3.4v3.4h-3.4zM400.5 583.1h3.4v3.4h-3.4zM486.4 581.5h3.4v3.4h-3.4zM440.9 583.1h3.4v3.4h-3.4zM511.6 580.8h3.4v3.4h-3.4zM408.3 587.5h3.4v3.4h-3.4zM434.2 586.5h3.4v3.4h-3.4zM435.9 591.9h3.4v3.4h-3.4zM440.9 592.6h3.4v3.4h-3.4zM449.3 594.3h3.4v3.4h-3.4zM457.8 595.3h3.4v3.4h-3.4zM462.8 595.3h3.4v3.4h-3.4zM478 594.3h3.4v3.4h-3.4zM417.4 597.6h3.4v3.4h-3.4zM509.9 596.6h3.4v3.4h-3.4zM501.5 596.6h3.4v3.4h-3.4z" fill="#000"/>
<path d="M462 610.3h1.6v1.6h-1.6zM472.1 613h1.6v1.6h-1.6zM485.6 610.9h1.6v1.6h-1.6zM497.3 615.3h1.6v1.6h-1.6zM502.4 620.4h1.6v1.6h-1.6zM478.8 620.4h1.6v1.6h-1.6zM465.4 624.4h1.6v1.6h-1.6zM509.1 627.1h1.6v1.6h-1.6zM510.8 633.8h1.6v1.6h-1.6zM492.3 630.5h1.6v1.6h-1.6zM457 617h1.6v1.6h-1.6zM483.4 612.7h1.6v1.6h-1.6zM461.2 607h1.6v1.6h-1.6zM465 606h1.6v1.6h-1.6zM483.8 612.7h1.6v1.6h-1.6zM505.8 613.6h1.6v1.6h-1.6zM500.2 602h1.6v1.6h-1.6zM482.1 611.7h1.6v1.6h-1.6zM483.1 609.8h1.6v1.6h-1.6zM464.8 608.5h1.6v1.6h-1.6zM459.1 608.3h1.6v1.6h-1.6zM475.7 606.4h1.6v1.6h-1.6zM490.7 611.4h1.6v1.6h-1.6zM508.4 602.4h1.6v1.6h-1.6zM469.5 605.7h1.6v1.6h-1.6zM484.7 606.6h1.6v1.6h-1.6zM481.7 605.2h1.6v1.6h-1.6zM467.7 605.4h1.6v1.6h-1.6zM466.8 604.1h1.6v1.6h-1.6zM494.8 602.7h1.6v1.6h-1.6zM499.4 608.2h1.6v1.6h-1.6zM470.8 612.7h1.6v1.6h-1.6zM510.1 612.5h1.6v1.6h-1.6zM463.3 638h1.6v1.6h-1.6zM499.1 635.7h1.6v1.6h-1.6zM503.1 629.8h1.6v1.6h-1.6z" fill="#fff"/>
<path d="M383.4 512.3H514.8V643.6" fill="none" stroke="#3a3a3a" stroke-width="1"/>
<path d="M383.4 512.3V643.6H514.8" fill="none" stroke="#000" stroke-width="1.2"/>
<path d="M425.1 512.3V643.6M383.4 599H514.8" stroke="#000" stroke-width="1.25" fill="none"/>
<path d="M383.4 643.6v3M393.3 643.6v1.7M399.1 643.6v1.7M403.2 643.6v1.7M406.4 643.6v1.7M409 643.6v1.7M411.2 643.6v1.7M413.1 643.6v1.7M414.7 643.6v1.7M416.2 643.6v3M426.1 643.6v1.7M431.9 643.6v1.7M436 643.6v1.7M439.2 643.6v1.7M441.8 643.6v1.7M444 643.6v1.7M445.9 643.6v1.7M447.6 643.6v1.7M449.1 643.6v3M459 643.6v1.7M464.8 643.6v1.7M468.9 643.6v1.7M472.1 643.6v1.7M474.7 643.6v1.7M476.9 643.6v1.7M478.8 643.6v1.7M480.4 643.6v1.7M481.9 643.6v3M491.8 643.6v1.7M497.6 643.6v1.7M501.7 643.6v1.7M504.9 643.6v1.7M507.5 643.6v1.7M509.7 643.6v1.7M511.6 643.6v1.7M513.3 643.6v1.7M514.8 643.6v3" stroke="#000" stroke-width="1.15" fill="none"/>
<path d="M383.4 643.6h-3M383.4 633.7h-1.7M383.4 627.9h-1.7M383.4 623.8h-1.7M383.4 620.7h-1.7M383.4 618.1h-1.7M383.4 615.9h-1.7M383.4 614h-1.7M383.4 612.3h-1.7M383.4 610.8h-3M383.4 600.9h-1.7M383.4 595.1h-1.7M383.4 591h-1.7M383.4 587.8h-1.7M383.4 585.2h-1.7M383.4 583h-1.7M383.4 581.1h-1.7M383.4 579.5h-1.7M383.4 578h-3M383.4 568.1h-1.7M383.4 562.3h-1.7M383.4 558.2h-1.7M383.4 555h-1.7M383.4 552.4h-1.7M383.4 550.2h-1.7M383.4 548.3h-1.7M383.4 546.6h-1.7M383.4 545.1h-3M383.4 535.2h-1.7M383.4 529.5h-1.7M383.4 525.4h-1.7M383.4 522.2h-1.7M383.4 519.6h-1.7M383.4 517.4h-1.7M383.4 515.5h-1.7M383.4 513.8h-1.7M383.4 512.3h-3" stroke="#000" stroke-width="1.15" fill="none"/>
<text transform="translate(383.8 653.8)" font-size="6.3" text-anchor="middle" class="tk">10<tspan dx="-0.2" dy="-3.6" font-size="5.4">0</tspan></text>
<text transform="translate(377.5 643.9) rotate(-90) scale(1.22 1)" font-size="5.8" text-anchor="middle" class="tk">10<tspan dy="-3.3" font-size="5.2">0</tspan></text>
<text transform="translate(416.6 653.8)" font-size="6.3" text-anchor="middle" class="tk">10<tspan dx="-0.2" dy="-3.6" font-size="5.4">1</tspan></text>
<text transform="translate(377.5 611.1) rotate(-90) scale(1.22 1)" font-size="5.8" text-anchor="middle" class="tk">10<tspan dy="-3.3" font-size="5.2">1</tspan></text>
<text transform="translate(449.5 653.8)" font-size="6.3" text-anchor="middle" class="tk">10<tspan dx="-0.2" dy="-3.6" font-size="5.4">2</tspan></text>
<text transform="translate(377.5 578.2) rotate(-90) scale(1.22 1)" font-size="5.8" text-anchor="middle" class="tk">10<tspan dy="-3.3" font-size="5.2">2</tspan></text>
<text transform="translate(482.3 653.8)" font-size="6.3" text-anchor="middle" class="tk">10<tspan dx="-0.2" dy="-3.6" font-size="5.4">3</tspan></text>
<text transform="translate(377.5 545.4) rotate(-90) scale(1.22 1)" font-size="5.8" text-anchor="middle" class="tk">10<tspan dy="-3.3" font-size="5.2">3</tspan></text>
<text transform="translate(514.2 653.8)" font-size="6.3" text-anchor="middle" class="tk">10<tspan dx="-0.2" dy="-3.6" font-size="5.4">4</tspan></text>
<text transform="translate(377.5 513.3) rotate(-90) scale(1.22 1)" font-size="5.8" text-anchor="middle" class="tk">10<tspan dy="-3.3" font-size="5.2">4</tspan></text>
<text x="489.9" y="670" font-size="20.4" text-anchor="end" letter-spacing="0" class="lb">HLA-DR</text>
<text transform="translate(371.9 575.2) rotate(-90) scale(0.97 1.04)" font-size="20.4" text-anchor="middle" class="lb">97A6</text>
</g>
</svg></body></html>
